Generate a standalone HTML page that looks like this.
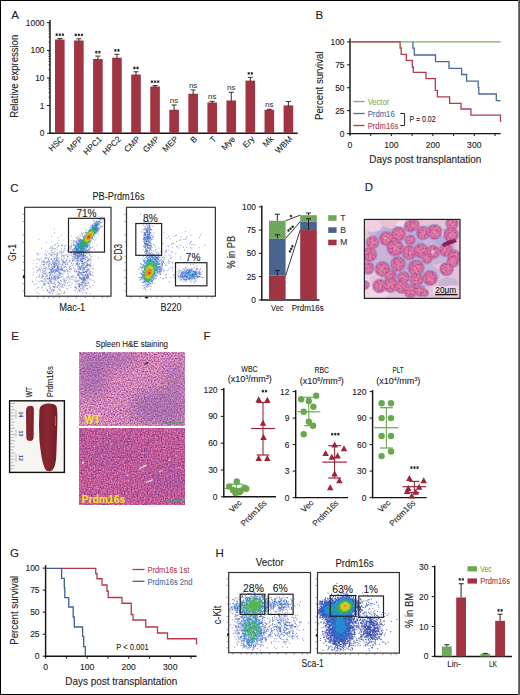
<!DOCTYPE html>
<html><head><meta charset="utf-8"><style>
html,body{margin:0;padding:0;background:#fff;}
svg{display:block;font-family:"Liberation Sans",sans-serif;}
</style></head><body>
<svg width="520" height="695" viewBox="0 0 520 695">
<rect x="0" y="0" width="520" height="695" fill="#fff"/>
<text x="11.30" y="18.70" font-size="11.5" text-anchor="start" fill="#222" stroke="#222" stroke-width="0.1">A</text>
<line x1="50.00" y1="20.00" x2="50.00" y2="133.80" stroke="#151515" stroke-width="1.45"/>
<line x1="49.50" y1="133.30" x2="297.70" y2="133.30" stroke="#151515" stroke-width="1.45"/>
<line x1="47.00" y1="22.70" x2="50.00" y2="22.70" stroke="#151515" stroke-width="1"/>
<text x="44.50" y="25.70" font-size="8.4" text-anchor="end" fill="#222" stroke="#222" stroke-width="0.1">1000</text>
<line x1="47.00" y1="50.40" x2="50.00" y2="50.40" stroke="#151515" stroke-width="1"/>
<text x="44.50" y="53.40" font-size="8.4" text-anchor="end" fill="#222" stroke="#222" stroke-width="0.1">100</text>
<line x1="47.00" y1="78.00" x2="50.00" y2="78.00" stroke="#151515" stroke-width="1"/>
<text x="44.50" y="81.00" font-size="8.4" text-anchor="end" fill="#222" stroke="#222" stroke-width="0.1">10</text>
<line x1="47.00" y1="105.50" x2="50.00" y2="105.50" stroke="#151515" stroke-width="1"/>
<text x="44.50" y="108.50" font-size="8.4" text-anchor="end" fill="#222" stroke="#222" stroke-width="0.1">1</text>
<line x1="47.00" y1="133.30" x2="50.00" y2="133.30" stroke="#151515" stroke-width="1"/>
<text x="44.50" y="136.30" font-size="8.4" text-anchor="end" fill="#222" stroke="#222" stroke-width="0.1">0</text>
<line x1="48.40" y1="42.06" x2="50.00" y2="42.06" stroke="#151515" stroke-width="0.6"/>
<line x1="48.40" y1="37.18" x2="50.00" y2="37.18" stroke="#151515" stroke-width="0.6"/>
<line x1="48.40" y1="33.72" x2="50.00" y2="33.72" stroke="#151515" stroke-width="0.6"/>
<line x1="48.40" y1="31.04" x2="50.00" y2="31.04" stroke="#151515" stroke-width="0.6"/>
<line x1="48.40" y1="28.85" x2="50.00" y2="28.85" stroke="#151515" stroke-width="0.6"/>
<line x1="48.40" y1="26.99" x2="50.00" y2="26.99" stroke="#151515" stroke-width="0.6"/>
<line x1="48.40" y1="25.38" x2="50.00" y2="25.38" stroke="#151515" stroke-width="0.6"/>
<line x1="48.40" y1="23.97" x2="50.00" y2="23.97" stroke="#151515" stroke-width="0.6"/>
<line x1="48.40" y1="69.69" x2="50.00" y2="69.69" stroke="#151515" stroke-width="0.6"/>
<line x1="48.40" y1="64.83" x2="50.00" y2="64.83" stroke="#151515" stroke-width="0.6"/>
<line x1="48.40" y1="61.38" x2="50.00" y2="61.38" stroke="#151515" stroke-width="0.6"/>
<line x1="48.40" y1="58.71" x2="50.00" y2="58.71" stroke="#151515" stroke-width="0.6"/>
<line x1="48.40" y1="56.52" x2="50.00" y2="56.52" stroke="#151515" stroke-width="0.6"/>
<line x1="48.40" y1="54.68" x2="50.00" y2="54.68" stroke="#151515" stroke-width="0.6"/>
<line x1="48.40" y1="53.07" x2="50.00" y2="53.07" stroke="#151515" stroke-width="0.6"/>
<line x1="48.40" y1="51.66" x2="50.00" y2="51.66" stroke="#151515" stroke-width="0.6"/>
<line x1="48.40" y1="97.22" x2="50.00" y2="97.22" stroke="#151515" stroke-width="0.6"/>
<line x1="48.40" y1="92.38" x2="50.00" y2="92.38" stroke="#151515" stroke-width="0.6"/>
<line x1="48.40" y1="88.94" x2="50.00" y2="88.94" stroke="#151515" stroke-width="0.6"/>
<line x1="48.40" y1="86.28" x2="50.00" y2="86.28" stroke="#151515" stroke-width="0.6"/>
<line x1="48.40" y1="84.10" x2="50.00" y2="84.10" stroke="#151515" stroke-width="0.6"/>
<line x1="48.40" y1="82.26" x2="50.00" y2="82.26" stroke="#151515" stroke-width="0.6"/>
<line x1="48.40" y1="80.67" x2="50.00" y2="80.67" stroke="#151515" stroke-width="0.6"/>
<line x1="48.40" y1="79.26" x2="50.00" y2="79.26" stroke="#151515" stroke-width="0.6"/>
<text x="18.00" y="76.30" font-size="10" text-anchor="middle" fill="#222" stroke="#222" stroke-width="0.1" textLength="83" lengthAdjust="spacingAndGlyphs" transform="rotate(-90 18.00 76.30)">Relative expression</text>
<rect x="55.00" y="39.50" width="9.60" height="93.80" fill="#a03442"/>
<line x1="59.80" y1="38.60" x2="59.80" y2="40.50" stroke="#333" stroke-width="1"/>
<line x1="57.30" y1="38.60" x2="62.30" y2="38.60" stroke="#333" stroke-width="1"/>
<path d="M56.70 33.35L56.70 36.05M55.53 34.03L57.87 35.38M57.87 34.03L55.53 35.38M59.80 33.35L59.80 36.05M58.63 34.03L60.97 35.38M60.97 34.03L58.63 35.38M62.90 33.35L62.90 36.05M61.73 34.03L64.07 35.38M64.07 34.03L61.73 35.38" stroke="#222" stroke-width="0.95"/>
<text x="64.40" y="139.60" font-size="8.4" text-anchor="end" fill="#222" stroke="#222" stroke-width="0.1" transform="rotate(-45 64.40 139.60)">HSC</text>
<rect x="74.05" y="40.50" width="9.60" height="92.80" fill="#a03442"/>
<line x1="78.85" y1="38.80" x2="78.85" y2="41.50" stroke="#333" stroke-width="1"/>
<line x1="76.35" y1="38.80" x2="81.35" y2="38.80" stroke="#333" stroke-width="1"/>
<path d="M75.75 33.55L75.75 36.25M74.58 34.23L76.92 35.57M76.92 34.23L74.58 35.57M78.85 33.55L78.85 36.25M77.68 34.23L80.02 35.57M80.02 34.23L77.68 35.57M81.95 33.55L81.95 36.25M80.78 34.23L83.12 35.57M83.12 34.23L80.78 35.57" stroke="#222" stroke-width="0.95"/>
<text x="83.45" y="139.60" font-size="8.4" text-anchor="end" fill="#222" stroke="#222" stroke-width="0.1" transform="rotate(-45 83.45 139.60)">MPP</text>
<rect x="93.10" y="59.00" width="9.60" height="74.30" fill="#a03442"/>
<line x1="97.90" y1="56.10" x2="97.90" y2="60.00" stroke="#333" stroke-width="1"/>
<line x1="95.40" y1="56.10" x2="100.40" y2="56.10" stroke="#333" stroke-width="1"/>
<path d="M96.35 50.85L96.35 53.55M95.18 51.53L97.52 52.88M97.52 51.53L95.18 52.88M99.45 50.85L99.45 53.55M98.28 51.53L100.62 52.88M100.62 51.53L98.28 52.88" stroke="#222" stroke-width="0.95"/>
<text x="102.50" y="139.60" font-size="8.4" text-anchor="end" fill="#222" stroke="#222" stroke-width="0.1" transform="rotate(-45 102.50 139.60)">HPC1</text>
<rect x="112.15" y="57.75" width="9.60" height="75.55" fill="#a03442"/>
<line x1="116.95" y1="54.30" x2="116.95" y2="58.75" stroke="#333" stroke-width="1"/>
<line x1="114.45" y1="54.30" x2="119.45" y2="54.30" stroke="#333" stroke-width="1"/>
<path d="M115.40 49.05L115.40 51.75M114.23 49.73L116.57 51.07M116.57 49.73L114.23 51.07M118.50 49.05L118.50 51.75M117.33 49.73L119.67 51.07M119.67 49.73L117.33 51.07" stroke="#222" stroke-width="0.95"/>
<text x="121.55" y="139.60" font-size="8.4" text-anchor="end" fill="#222" stroke="#222" stroke-width="0.1" transform="rotate(-45 121.55 139.60)">HPC2</text>
<rect x="131.20" y="74.50" width="9.60" height="58.80" fill="#a03442"/>
<line x1="136.00" y1="71.80" x2="136.00" y2="75.50" stroke="#333" stroke-width="1"/>
<line x1="133.50" y1="71.80" x2="138.50" y2="71.80" stroke="#333" stroke-width="1"/>
<path d="M134.45 66.55L134.45 69.25M133.28 67.22L135.62 68.57M135.62 67.22L133.28 68.57M137.55 66.55L137.55 69.25M136.38 67.22L138.72 68.57M138.72 67.22L136.38 68.57" stroke="#222" stroke-width="0.95"/>
<text x="140.60" y="139.60" font-size="8.4" text-anchor="end" fill="#222" stroke="#222" stroke-width="0.1" transform="rotate(-45 140.60 139.60)">CMP</text>
<rect x="150.25" y="86.50" width="9.60" height="46.80" fill="#a03442"/>
<line x1="155.05" y1="85.60" x2="155.05" y2="87.50" stroke="#333" stroke-width="1"/>
<line x1="152.55" y1="85.60" x2="157.55" y2="85.60" stroke="#333" stroke-width="1"/>
<path d="M151.95 80.35L151.95 83.05M150.78 81.02L153.12 82.37M153.12 81.02L150.78 82.37M155.05 80.35L155.05 83.05M153.88 81.02L156.22 82.37M156.22 81.02L153.88 82.37M158.15 80.35L158.15 83.05M156.98 81.02L159.32 82.37M159.32 81.02L156.98 82.37" stroke="#222" stroke-width="0.95"/>
<text x="159.65" y="139.60" font-size="8.4" text-anchor="end" fill="#222" stroke="#222" stroke-width="0.1" transform="rotate(-45 159.65 139.60)">GMP</text>
<rect x="169.30" y="109.75" width="9.60" height="23.55" fill="#a03442"/>
<line x1="174.10" y1="105.00" x2="174.10" y2="110.75" stroke="#333" stroke-width="1"/>
<line x1="171.60" y1="105.00" x2="176.60" y2="105.00" stroke="#333" stroke-width="1"/>
<text x="174.10" y="102.70" font-size="8.0" text-anchor="middle" fill="#444" stroke="#444" stroke-width="0.1">ns</text>
<text x="178.70" y="139.60" font-size="8.4" text-anchor="end" fill="#222" stroke="#222" stroke-width="0.1" transform="rotate(-45 178.70 139.60)">MEP</text>
<rect x="188.35" y="93.75" width="9.60" height="39.55" fill="#a03442"/>
<line x1="193.15" y1="90.00" x2="193.15" y2="94.75" stroke="#333" stroke-width="1"/>
<line x1="190.65" y1="90.00" x2="195.65" y2="90.00" stroke="#333" stroke-width="1"/>
<text x="193.15" y="87.70" font-size="8.0" text-anchor="middle" fill="#444" stroke="#444" stroke-width="0.1">ns</text>
<text x="197.75" y="139.60" font-size="8.4" text-anchor="end" fill="#222" stroke="#222" stroke-width="0.1" transform="rotate(-45 197.75 139.60)">B</text>
<rect x="207.40" y="102.50" width="9.60" height="30.80" fill="#a03442"/>
<line x1="212.20" y1="101.30" x2="212.20" y2="103.50" stroke="#333" stroke-width="1"/>
<line x1="209.70" y1="101.30" x2="214.70" y2="101.30" stroke="#333" stroke-width="1"/>
<text x="212.20" y="99.00" font-size="8.0" text-anchor="middle" fill="#444" stroke="#444" stroke-width="0.1">ns</text>
<text x="216.80" y="139.60" font-size="8.4" text-anchor="end" fill="#222" stroke="#222" stroke-width="0.1" transform="rotate(-45 216.80 139.60)">T</text>
<rect x="226.45" y="100.50" width="9.60" height="32.80" fill="#a03442"/>
<line x1="231.25" y1="92.30" x2="231.25" y2="101.50" stroke="#333" stroke-width="1"/>
<line x1="228.75" y1="92.30" x2="233.75" y2="92.30" stroke="#333" stroke-width="1"/>
<text x="231.25" y="90.00" font-size="8.0" text-anchor="middle" fill="#444" stroke="#444" stroke-width="0.1">ns</text>
<text x="235.85" y="139.60" font-size="8.4" text-anchor="end" fill="#222" stroke="#222" stroke-width="0.1" transform="rotate(-45 235.85 139.60)">Mye</text>
<rect x="245.50" y="80.60" width="9.60" height="52.70" fill="#a03442"/>
<line x1="250.30" y1="77.30" x2="250.30" y2="81.60" stroke="#333" stroke-width="1"/>
<line x1="247.80" y1="77.30" x2="252.80" y2="77.30" stroke="#333" stroke-width="1"/>
<path d="M248.75 72.05L248.75 74.75M247.58 72.72L249.92 74.07M249.92 72.72L247.58 74.07M251.85 72.05L251.85 74.75M250.68 72.72L253.02 74.07M253.02 72.72L250.68 74.07" stroke="#222" stroke-width="0.95"/>
<text x="254.90" y="139.60" font-size="8.4" text-anchor="end" fill="#222" stroke="#222" stroke-width="0.1" transform="rotate(-45 254.90 139.60)">Ery</text>
<rect x="264.55" y="109.80" width="9.60" height="23.50" fill="#a03442"/>
<line x1="269.35" y1="109.30" x2="269.35" y2="110.80" stroke="#333" stroke-width="1"/>
<line x1="266.85" y1="109.30" x2="271.85" y2="109.30" stroke="#333" stroke-width="1"/>
<text x="269.35" y="107.00" font-size="8.0" text-anchor="middle" fill="#444" stroke="#444" stroke-width="0.1">ns</text>
<text x="273.95" y="139.60" font-size="8.4" text-anchor="end" fill="#222" stroke="#222" stroke-width="0.1" transform="rotate(-45 273.95 139.60)">Mk</text>
<rect x="283.60" y="105.40" width="9.60" height="27.90" fill="#a03442"/>
<line x1="288.40" y1="101.50" x2="288.40" y2="106.40" stroke="#333" stroke-width="1"/>
<line x1="285.90" y1="101.50" x2="290.90" y2="101.50" stroke="#333" stroke-width="1"/>
<text x="293.00" y="139.60" font-size="8.4" text-anchor="end" fill="#222" stroke="#222" stroke-width="0.1" transform="rotate(-45 293.00 139.60)">WBM</text>
<text x="315.60" y="18.60" font-size="11.5" text-anchor="start" fill="#222" stroke="#222" stroke-width="0.1">B</text>
<line x1="350.00" y1="38.40" x2="350.00" y2="134.80" stroke="#151515" stroke-width="1.45"/>
<line x1="349.40" y1="133.60" x2="500.60" y2="133.60" stroke="#151515" stroke-width="1.45"/>
<line x1="347.00" y1="133.60" x2="350.00" y2="133.60" stroke="#151515" stroke-width="1"/>
<text x="344.50" y="136.60" font-size="8.4" text-anchor="end" fill="#222" stroke="#222" stroke-width="0.1">0</text>
<line x1="347.00" y1="110.67" x2="350.00" y2="110.67" stroke="#151515" stroke-width="1"/>
<text x="344.50" y="113.67" font-size="8.4" text-anchor="end" fill="#222" stroke="#222" stroke-width="0.1">25</text>
<line x1="347.00" y1="87.75" x2="350.00" y2="87.75" stroke="#151515" stroke-width="1"/>
<text x="344.50" y="90.75" font-size="8.4" text-anchor="end" fill="#222" stroke="#222" stroke-width="0.1">50</text>
<line x1="347.00" y1="64.83" x2="350.00" y2="64.83" stroke="#151515" stroke-width="1"/>
<text x="344.50" y="67.83" font-size="8.4" text-anchor="end" fill="#222" stroke="#222" stroke-width="0.1">75</text>
<line x1="347.00" y1="41.90" x2="350.00" y2="41.90" stroke="#151515" stroke-width="1"/>
<text x="344.50" y="44.90" font-size="8.4" text-anchor="end" fill="#222" stroke="#222" stroke-width="0.1">100</text>
<line x1="350.00" y1="133.60" x2="350.00" y2="136.10" stroke="#151515" stroke-width="1"/>
<line x1="370.71" y1="133.60" x2="370.71" y2="136.10" stroke="#151515" stroke-width="1"/>
<line x1="391.43" y1="133.60" x2="391.43" y2="136.10" stroke="#151515" stroke-width="1"/>
<line x1="412.14" y1="133.60" x2="412.14" y2="136.10" stroke="#151515" stroke-width="1"/>
<line x1="432.86" y1="133.60" x2="432.86" y2="136.10" stroke="#151515" stroke-width="1"/>
<line x1="453.57" y1="133.60" x2="453.57" y2="136.10" stroke="#151515" stroke-width="1"/>
<line x1="474.29" y1="133.60" x2="474.29" y2="136.10" stroke="#151515" stroke-width="1"/>
<line x1="495.00" y1="133.60" x2="495.00" y2="136.10" stroke="#151515" stroke-width="1"/>
<text x="350.00" y="148.30" font-size="8.6" text-anchor="middle" fill="#222" stroke="#222" stroke-width="0.1">0</text>
<text x="391.43" y="148.30" font-size="8.6" text-anchor="middle" fill="#222" stroke="#222" stroke-width="0.1">100</text>
<text x="432.86" y="148.30" font-size="8.6" text-anchor="middle" fill="#222" stroke="#222" stroke-width="0.1">200</text>
<text x="474.29" y="148.30" font-size="8.6" text-anchor="middle" fill="#222" stroke="#222" stroke-width="0.1">300</text>
<text x="425.30" y="162.50" font-size="10" text-anchor="middle" fill="#222" stroke="#222" stroke-width="0.1" textLength="112" lengthAdjust="spacingAndGlyphs">Days post transplantation</text>
<text x="323.10" y="85.70" font-size="10" text-anchor="middle" fill="#222" stroke="#222" stroke-width="0.1" textLength="68.5" lengthAdjust="spacingAndGlyphs" transform="rotate(-90 323.10 85.70)">Percent survival</text>
<path d="M350.0 41.9H500.6" stroke="#76b35a" stroke-width="1.3" fill="none"/>
<path d="M412.9 41.9 L412.9 48.1 L414.3 48.1 L414.3 55.0 L435.5 55.0 L435.5 61.6 L449.0 61.6 L449.0 68.4 L461.6 68.4 L461.6 74.5 L466.6 74.5 L466.6 81.2 L478.2 81.2 L478.2 87.4 L478.8 87.4 L478.8 94.0 L496.3 94.0 L496.3 100.6 L500.6 100.6" stroke="#4b6a9b" stroke-width="1.3" fill="none"/>
<path d="M350.0 41.9 L400.1 41.9 L400.1 48.0 L401.2 48.0 L401.2 54.4 L406.3 54.4 L406.3 60.4 L412.3 60.4 L412.3 67.0 L413.3 67.0 L413.3 72.3 L426.0 72.3 L426.0 78.6 L435.3 78.6 L435.3 90.4 L437.4 90.4 L437.4 96.8 L449.6 96.8 L449.6 103.4 L461.0 103.4 L461.0 109.0 L470.9 109.0 L470.9 115.1 L500.5 115.1 L500.5 122.0" stroke="#b53a4c" stroke-width="1.3" fill="none"/>
<line x1="353.40" y1="101.50" x2="364.50" y2="101.50" stroke="#76b35a" stroke-width="1.3"/>
<text x="367.70" y="104.60" font-size="8.8" text-anchor="start" fill="#76b35a" stroke="#76b35a" stroke-width="0.1" textLength="21.5" lengthAdjust="spacingAndGlyphs">Vector</text>
<line x1="353.40" y1="113.50" x2="364.50" y2="113.50" stroke="#4b6a9b" stroke-width="1.3"/>
<text x="367.70" y="116.60" font-size="8.8" text-anchor="start" fill="#4b6a9b" stroke="#4b6a9b" stroke-width="0.1" textLength="27" lengthAdjust="spacingAndGlyphs">Prdm16</text>
<line x1="353.40" y1="125.50" x2="364.50" y2="125.50" stroke="#b53a4c" stroke-width="1.3"/>
<text x="367.70" y="128.60" font-size="8.8" text-anchor="start" fill="#b53a4c" stroke="#b53a4c" stroke-width="0.1" textLength="30.5" lengthAdjust="spacingAndGlyphs">Prdm16s</text>
<path d="M400.3 113.5H404.6V125.5H400.3" stroke="#222" stroke-width="1" fill="none"/>
<text x="409.40" y="122.10" font-size="8.6" text-anchor="start" fill="#222" stroke="#222" stroke-width="0.1" textLength="26.3" lengthAdjust="spacingAndGlyphs">P = 0.02</text>
<text x="10.20" y="192.30" font-size="11.5" text-anchor="start" fill="#222" stroke="#222" stroke-width="0.1">C</text>
<text x="118.50" y="200.30" font-size="10" text-anchor="middle" fill="#222" stroke="#222" stroke-width="0.1" textLength="52" lengthAdjust="spacingAndGlyphs">PB-Prdm16s</text>
<path d="M48.4 279.0h1.0M37.8 269.9h1.0M44.1 278.7h1.0M39.0 277.1h1.0M36.4 272.0h1.0M49.0 273.2h1.0M33.2 272.2h1.0M41.2 262.5h1.0M60.7 273.4h1.0M45.2 276.8h1.0M36.8 288.1h1.0M42.2 272.4h1.0M45.2 288.2h1.0M47.6 278.5h1.0M42.3 277.0h1.0M38.6 270.0h1.0M64.9 262.1h1.0M58.6 253.2h1.0M54.4 282.8h1.0M46.8 274.2h1.0M54.6 248.5h1.0M63.0 261.9h1.0M59.3 260.7h1.0M57.2 278.6h1.0M69.2 284.9h1.0M87.8 260.0h1.0M78.7 290.0h1.0M84.7 286.9h1.0M79.5 289.2h1.0M33.5 260.3h1.0M63.1 293.3h1.0M48.3 253.5h1.0M44.8 279.1h1.0M100.8 222.3h1.0M36.4 259.4h1.0M67.0 250.6h1.0M72.6 256.2h1.0M94.2 240.8h1.0M76.0 263.3h1.0M71.9 260.9h1.0M32.8 274.9h1.0M37.2 270.9h1.0M44.1 268.6h1.0M33.2 263.8h1.0M47.1 261.9h1.0M35.2 280.0h1.0M36.3 263.6h1.0M43.5 273.3h1.0M59.7 273.8h1.0M59.1 273.6h1.0M63.9 292.9h1.0M49.3 279.7h1.0M93.4 220.4h1.0M47.3 282.6h1.0M40.3 272.0h1.0M52.7 290.3h1.0M36.5 292.4h1.0M37.4 253.8h1.0M45.1 257.8h1.0M49.3 268.7h1.0M39.2 260.6h1.0M35.5 266.9h1.0M43.7 268.7h1.0M40.8 268.0h1.0M67.3 256.6h1.0M50.0 293.0h1.0M64.6 262.9h1.0M57.3 278.7h1.0M44.0 264.2h1.0M72.5 245.6h1.0M50.9 281.4h1.0M41.3 259.8h1.0M93.9 249.3h1.0M88.6 253.2h1.0M70.9 246.1h1.0M72.5 242.3h1.0M68.7 247.4h1.0M100.0 227.0h1.0M52.3 253.1h1.0M59.3 290.9h1.0M59.8 289.8h1.0M42.9 265.2h1.0M56.5 279.1h1.0M61.8 245.2h1.0M54.0 232.8h1.0M51.1 291.0h1.0M83.0 233.1h1.0M73.4 244.1h1.0M75.5 237.7h1.0M92.0 246.8h1.0M68.3 254.9h1.0M69.2 248.1h1.0M58.7 285.5h1.0M60.9 292.8h1.0M67.0 283.0h1.0M52.0 293.7h1.0M62.7 255.1h1.0M38.4 239.2h1.0M66.6 276.8h1.0M68.3 282.1h1.0M48.2 268.3h1.0M61.4 255.2h1.0M48.2 283.7h1.0M45.2 268.1h1.0M72.1 259.7h1.0M60.8 281.1h1.0M50.1 289.4h1.0M64.7 266.6h1.0M71.2 240.6h1.0M70.8 255.6h1.0M76.6 237.9h1.0M41.7 287.8h1.0M66.4 269.1h1.0M62.6 284.8h1.0M68.9 260.6h1.0M52.9 252.6h1.0M42.2 264.5h1.0M57.3 287.3h1.0M57.4 282.4h1.0M46.9 251.9h1.0M49.6 291.4h1.0M84.8 230.2h1.0M75.5 263.8h1.0M91.3 256.3h1.0M53.9 254.6h1.0M68.7 267.2h1.0M64.9 266.2h1.0M63.5 267.1h1.0M58.5 289.2h1.0M75.7 287.6h1.0M64.0 248.1h1.0M89.7 251.1h1.0M70.1 246.6h1.0M72.2 258.4h1.0M70.8 251.6h1.0M71.0 252.5h1.0M62.5 260.1h1.0M67.7 271.7h1.0M54.7 280.2h1.0M50.5 282.6h1.0M70.4 277.1h1.0M51.0 254.4h1.0M51.6 289.5h1.0M49.4 248.2h1.0M49.0 266.6h1.0M66.7 263.5h1.0M46.2 262.4h1.0M64.7 282.5h1.0M49.7 283.5h1.0M42.8 276.1h1.0M62.6 287.6h1.0M57.7 276.2h1.0M64.7 272.0h1.0M56.7 247.7h1.0M73.5 241.2h1.0M67.0 270.8h1.0M49.1 276.4h1.0M55.2 275.2h1.0M37.6 254.0h1.0M36.2 283.8h1.0M89.3 255.3h1.0M88.2 269.6h1.0M89.7 266.0h1.0M52.0 261.9h1.0M53.9 273.8h1.0M74.8 281.1h1.0M41.2 287.8h1.0M57.1 257.7h1.0M66.4 288.5h1.0M70.9 243.9h1.0M49.3 263.9h1.0M69.8 278.6h1.0M91.5 247.6h1.0M44.9 250.7h1.0M87.2 261.4h1.0M75.1 282.9h1.0M50.7 255.7h1.0M65.3 254.6h1.0M57.3 259.2h1.0M77.5 236.6h1.0M65.0 264.6h1.0M54.7 285.0h1.0M60.0 275.2h1.0M61.3 245.8h1.0M72.1 261.0h1.0M89.8 247.7h1.0M88.8 250.1h1.0M67.8 249.1h1.0M81.4 233.9h1.0M73.3 276.9h1.0M68.1 285.9h1.0M44.0 283.8h1.0M53.4 286.4h1.0M59.0 274.0h1.0M95.8 221.2h1.0M71.3 252.6h1.0M94.0 282.1h1.0M76.6 271.6h1.0M78.4 275.6h1.0M49.2 288.1h1.0M64.3 250.0h1.0M46.3 278.5h1.0M66.7 269.9h1.0M64.1 262.9h1.0M64.4 267.2h1.0M63.6 281.5h1.0M46.7 275.7h1.0M41.7 274.5h1.0M73.3 267.3h1.0M58.7 282.4h1.0M54.6 280.1h1.0M62.6 276.3h1.0M47.4 283.7h1.0M47.9 283.3h1.0M51.6 258.5h1.0M64.5 278.7h1.0M47.2 261.5h1.0M43.4 268.4h1.0M71.4 258.8h1.0M51.6 265.8h1.0M65.8 267.5h1.0M49.0 292.3h1.0M60.3 251.1h1.0M79.5 234.7h1.0M43.5 273.8h1.0M62.7 267.7h1.0M62.1 262.0h1.0M45.0 270.1h1.0M71.0 247.3h1.0M54.8 254.5h1.0M99.8 217.2h1.0M70.3 252.5h1.0M59.9 264.6h1.0M54.0 287.5h1.0M57.0 252.6h1.0M55.0 244.6h1.0M44.5 284.3h1.0M49.2 257.4h1.0M42.8 261.9h1.0M50.1 281.8h1.0M73.5 244.0h1.0M58.1 294.3h1.0M69.2 261.6h1.0M56.4 253.4h1.0M69.2 281.2h1.0M53.6 260.0h1.0M57.9 245.6h1.0M50.7 259.4h1.0M69.3 269.3h1.0M60.6 272.4h1.0M69.5 285.8h1.0M58.6 288.9h1.0M57.5 282.6h1.0M73.4 241.2h1.0M45.7 258.6h1.0M70.6 249.2h1.0M72.8 276.6h1.0M64.0 284.9h1.0M59.1 294.2h1.0M59.0 283.4h1.0M49.5 269.5h1.0M58.7 262.8h1.0M59.2 273.3h1.0M43.9 271.4h1.0M49.4 263.1h1.0M57.3 277.9h1.0M66.0 260.3h1.0M65.3 281.0h1.0M58.0 277.8h1.0M50.2 281.3h1.0M45.3 257.6h1.0M61.0 257.9h1.0M54.0 282.7h1.0M40.6 280.7h1.0M44.1 285.0h1.0M48.9 264.9h1.0M41.7 261.3h1.0M58.3 261.5h1.0M60.5 251.7h1.0M51.4 236.5h1.0M70.0 248.9h1.0M100.4 222.7h1.0M102.6 219.1h1.0M76.8 275.3h1.0M90.3 274.3h1.0M73.0 263.7h1.0M47.9 258.9h1.0M70.1 251.3h1.0M42.3 281.0h1.0M50.8 264.5h1.0M60.3 284.5h1.0M55.6 257.9h1.0M53.4 279.4h1.0M39.7 266.9h1.0M76.4 288.8h1.0M89.5 279.0h1.0M58.6 240.2h1.0M48.4 265.7h1.0M69.2 254.7h1.0M47.0 268.5h1.0M58.5 263.0h1.0M56.5 254.4h1.0M52.6 281.2h1.0M47.4 262.4h1.0M90.6 280.0h1.0M81.7 286.1h1.0M89.3 266.1h1.0M51.4 252.7h1.0M63.5 280.1h1.0M57.9 264.2h1.0M62.9 252.4h1.0M47.0 279.1h1.0M61.8 260.8h1.0M87.3 285.8h1.0M77.4 264.9h1.0M77.0 262.6h1.0M82.4 288.2h1.0M88.1 252.7h1.0M77.1 273.4h1.0M87.9 259.3h1.0M65.4 270.3h1.0M50.2 275.1h1.0M44.5 283.6h1.0M58.4 293.4h1.0M64.0 246.1h1.0M43.4 270.9h1.0M98.4 221.0h1.0M93.1 221.2h1.0M60.8 266.5h1.0M63.7 271.0h1.0M56.9 287.2h1.0M62.7 273.6h1.0M54.2 258.7h1.0M57.6 237.5h1.0M63.7 271.0h1.0M42.7 278.3h1.0M70.5 287.7h1.0M59.6 286.6h1.0M62.8 262.6h1.0M61.7 286.2h1.0M58.2 278.1h1.0M61.0 248.7h1.0M63.3 271.8h1.0M73.1 280.0h1.0M85.4 283.7h1.0M92.6 218.9h1.0M83.4 286.8h1.0M88.9 265.3h1.0M71.5 265.4h1.0M89.8 286.7h1.0M90.6 259.6h1.0M54.0 245.4h1.0M44.8 279.9h1.0M58.0 259.8h1.0M66.3 271.0h1.0M61.2 277.0h1.0M50.4 274.8h1.0M67.1 256.6h1.0M47.7 259.1h1.0M61.9 265.0h1.0M69.5 266.6h1.0M51.5 254.9h1.0M58.4 285.8h1.0M47.0 290.1h1.0M68.2 276.9h1.0M45.5 270.2h1.0M49.8 274.4h1.0M63.7 249.0h1.0M49.6 254.6h1.0M59.3 277.9h1.0M57.4 274.8h1.0M46.0 263.9h1.0M49.3 272.7h1.0M45.9 267.6h1.0M67.0 289.2h1.0M56.7 249.7h1.0M82.1 292.8h1.0M85.5 283.4h1.0M78.3 285.8h1.0M71.4 279.5h1.0M95.5 238.9h1.0M74.4 287.5h1.0M64.1 280.4h1.0M59.0 277.3h1.0M41.7 281.5h1.0M51.7 274.6h1.0M61.1 256.2h1.0M53.3 259.8h1.0M41.1 277.9h1.0M61.1 259.3h1.0M68.1 275.0h1.0M64.1 293.0h1.0M69.2 271.2h1.0M48.9 269.9h1.0M57.6 277.2h1.0M57.4 285.4h1.0M65.1 245.4h1.0M67.5 265.2h1.0M59.9 253.8h1.0M48.9 275.8h1.0M89.6 258.1h1.0M73.9 241.2h1.0M48.1 259.7h1.0M59.9 280.4h1.0M51.8 247.5h1.0M57.7 284.3h1.0M68.4 276.7h1.0M57.9 281.6h1.0M66.4 255.5h1.0M71.8 265.1h1.0M74.3 290.3h1.0M85.8 262.0h1.0M88.2 283.1h1.0M79.2 290.5h1.0M89.9 293.7h1.0M88.5 268.7h1.0M71.1 276.4h1.0M52.7 275.3h1.0M61.7 274.6h1.0M64.7 261.9h1.0M66.0 260.7h1.0M63.4 282.7h1.0M71.5 276.8h1.0M52.4 248.5h1.0M52.6 287.1h1.0M56.4 280.7h1.0M59.4 283.5h1.0M61.4 286.0h1.0M67.2 264.5h1.0M52.5 260.9h1.0M52.3 286.1h1.0M63.5 270.3h1.0M84.3 285.7h1.0M77.7 269.4h1.0M76.6 282.6h1.0M89.3 284.8h1.0M89.8 248.6h1.0M89.0 264.6h1.0M86.2 293.8h1.0M54.3 251.2h1.0M48.1 292.7h1.0M85.8 285.6h1.0M78.3 284.9h1.0M75.7 270.2h1.0M79.0 283.7h1.0M74.9 287.3h1.0M76.2 264.1h1.0M85.4 292.7h1.0M70.0 266.4h1.0M53.8 228.8h1.0M69.9 268.4h1.0M42.1 270.2h1.0M73.2 260.5h1.0M44.5 262.7h1.0M66.6 258.1h1.0M45.0 254.0h1.0M63.3 240.2h1.0M70.9 262.8h1.0M63.3 261.2h1.0M50.5 248.2h1.0M55.5 287.0h1.0M66.1 277.8h1.0M63.8 270.9h1.0M78.8 286.6h1.0M96.8 245.3h1.0M99.8 222.9h1.0M92.2 272.2h1.0M81.5 288.6h1.0M47.8 261.1h1.0M54.5 249.1h1.0M48.8 281.8h1.0M38.9 259.3h1.0M62.9 256.3h1.0M61.4 245.3h1.0M55.5 287.1h1.0M44.1 258.6h1.0M40.8 280.9h1.0M51.4 283.4h1.0M49.2 292.9h1.0M68.7 279.3h1.0M61.1 274.2h1.0M57.1 254.1h1.0M53.8 253.9h1.0M49.1 274.9h1.0M46.2 254.7h1.0M59.0 257.8h1.0M59.3 251.3h1.0M68.8 259.1h1.0M55.9 259.4h1.0M55.4 258.2h1.0M48.8 280.4h1.0M51.7 249.8h1.0M65.9 280.2h1.0M47.4 290.7h1.0M78.5 275.7h1.0M46.7 257.6h1.0M89.7 271.7h1.0M78.2 268.8h1.0M71.4 284.1h1.0M74.8 285.8h1.0M91.9 268.9h1.0M39.7 269.6h1.0M52.6 283.5h1.0M40.7 258.1h1.0M45.6 280.4h1.0M49.9 262.9h1.0M65.1 283.2h1.0M63.1 261.1h1.0M42.4 275.6h1.0M67.6 262.5h1.0M99.4 219.8h1.0M101.8 217.0h1.0M67.5 278.1h1.0M53.8 286.6h1.0M69.9 261.0h1.0M60.1 280.4h1.0M62.9 251.2h1.0M56.5 255.9h1.0M48.6 261.1h1.0M43.1 285.1h1.0M49.3 272.4h1.0M66.3 262.0h1.0M45.9 255.6h1.0M59.2 264.0h1.0M42.8 283.0h1.0M67.2 273.4h1.0M53.3 287.0h1.0M37.9 255.1h1.0M78.8 237.0h1.0M74.8 272.0h1.0M100.5 226.5h1.0M101.3 226.5h1.0M103.2 218.4h1.0M86.3 288.3h1.0M85.4 285.2h1.0M87.9 282.7h1.0M44.4 283.6h1.0M60.5 284.0h1.0M57.3 243.5h1.0M65.4 286.1h1.0M77.8 289.7h1.0M90.3 268.2h1.0M90.4 266.1h1.0M89.5 287.7h1.0M92.7 280.3h1.0M86.9 283.9h1.0M71.0 263.3h1.0M87.3 256.4h1.0M88.2 270.1h1.0M100.0 218.8h1.0M98.6 219.0h1.0M78.4 271.2h1.0M88.7 272.0h1.0M75.6 261.6h1.0M71.2 236.2h1.0M79.5 291.8h1.0M79.0 280.1h1.0M100.3 227.8h1.0M88.8 279.9h1.0M79.5 287.0h1.0M90.3 262.2h1.0M82.5 288.2h1.0M88.9 274.1h1.0M78.1 286.4h1.0M85.8 257.3h1.0M78.8 285.8h1.0M88.7 273.2h1.0M92.9 268.7h1.0M61.1 253.3h1.0M52.8 290.9h1.0M52.7 291.0h1.0M56.8 291.9h1.0M53.5 256.6h1.0M43.0 290.6h1.0M90.3 275.4h1.0M89.2 254.7h1.0M97.5 218.8h1.0M77.7 271.0h1.0M77.3 266.5h1.0M75.5 288.6h1.0M72.1 275.8h1.0M101.8 226.2h1.0M82.6 286.0h1.0M90.3 256.9h1.0M58.9 275.4h1.0M61.1 252.8h1.0M44.7 273.1h1.0M67.5 259.9h1.0M54.9 284.5h1.0M47.8 272.9h1.0M50.8 255.7h1.0M77.3 269.0h1.0M52.8 292.0h1.0M61.5 264.7h1.0M36.4 267.1h1.0M49.7 285.2h1.0M63.1 279.3h1.0M64.1 285.1h1.0M62.2 263.6h1.0M58.4 274.9h1.0M83.7 289.7h1.0M78.0 280.7h1.0M42.3 276.4h1.0M61.5 265.0h1.0M56.1 259.7h1.0M49.1 261.2h1.0M63.7 280.2h1.0M47.9 266.8h1.0M49.1 286.4h1.0M60.6 276.8h1.0M51.0 264.9h1.0M56.3 274.4h1.0M51.1 250.7h1.0M77.4 263.9h1.0M91.7 274.9h1.0M89.8 264.0h1.0M49.8 288.0h1.0M51.6 260.3h1.0M62.5 265.2h1.0M63.4 258.3h1.0M71.0 269.8h1.0M56.9 260.5h1.0M61.4 260.8h1.0M41.2 248.2h1.0M57.5 257.9h1.0M69.7 269.6h1.0M49.1 272.6h1.0M44.4 266.4h1.0M45.7 272.1h1.0M45.1 273.8h1.0M52.7 283.4h1.0M43.8 261.7h1.0M86.8 257.7h1.0M88.4 260.8h1.0M104.5 221.4h1.0M44.7 274.3h1.0M50.9 290.9h1.0M61.1 287.3h1.0M58.3 277.0h1.0M56.2 256.2h1.0M78.7 284.1h1.0M77.4 281.5h1.0M75.3 277.6h1.0M89.8 274.1h1.0M73.7 259.6h1.0M77.9 265.4h1.0M75.3 287.1h1.0M78.9 286.5h1.0M34.4 289.5h1.0M52.3 246.0h1.0M50.6 280.9h1.0M53.9 258.3h1.0M49.7 253.3h1.0M77.0 292.0h1.0M77.5 284.4h1.0M89.7 260.3h1.0M88.4 259.1h1.0M62.2 278.1h1.0M51.1 259.0h1.0M56.9 255.7h1.0M55.8 258.4h1.0M60.8 235.1h1.0M39.0 268.5h1.0M56.3 294.2h1.0M90.2 274.8h1.0M87.4 261.4h1.0M76.7 280.8h1.0M97.7 233.8h1.0M86.9 260.5h1.0M76.0 271.5h1.0M43.5 264.3h1.0M84.9 283.6h1.0M100.2 220.0h1.0M73.6 260.7h1.0M75.3 291.0h1.0M70.7 268.3h1.0M88.4 269.9h1.0M100.7 219.4h1.0M86.7 288.6h1.0M76.1 264.3h1.0M63.8 257.9h1.0M58.1 262.0h1.0M50.6 250.5h1.0M63.2 262.7h1.0M51.1 242.0h1.0M50.1 280.6h1.0M63.3 255.7h1.0M52.8 248.5h1.0M82.4 289.4h1.0M78.7 287.5h1.0M73.3 268.8h1.0M92.9 266.0h1.0M92.4 285.2h1.0M78.5 264.8h1.0M74.0 271.5h1.0M75.5 271.9h1.0M77.7 283.6h1.0M76.0 281.2h1.0M73.8 270.5h1.0M76.0 277.4h1.0M86.9 258.9h1.0M76.9 275.7h1.0M71.6 282.2h1.0M74.8 269.1h1.0M98.0 257.8h1.0M80.9 290.8h1.0M86.1 281.6h1.0M89.2 259.4h1.0M79.2 291.3h1.0M79.9 288.5h1.0M85.3 285.7h1.0M86.2 262.0h1.0M75.4 279.6h1.0M89.3 252.6h1.0M76.8 263.5h1.0M83.1 290.8h1.0M78.9 284.6h1.0M85.5 292.4h1.0M96.5 221.0h1.0M75.2 265.2h1.0M82.8 287.0h1.0M89.7 272.0h1.0M87.5 282.7h1.0M74.5 281.1h1.0M92.6 275.8h1.0M89.9 265.9h1.0M85.9 257.0h1.0M75.5 260.4h1.0M87.3 289.1h1.0M79.4 281.9h1.0M101.9 221.4h1.0M70.8 253.8h1.0M77.1 264.5h1.0M89.9 274.3h1.0M68.8 268.1h1.0M89.3 264.1h1.0M35.8 253.3h1.0M102.7 219.4h1.0M36.1 277.3h1.0M46.6 290.3h1.0M43.3 265.0h1.0M37.6 281.2h1.0M42.3 270.3h1.0M72.3 256.4h1.0M50.3 246.9h1.0M39.4 274.7h1.0M42.7 285.0h1.0M64.3 255.9h1.0M76.8 238.5h1.0M89.0 249.2h1.0M69.9 252.3h1.0M38.0 287.4h1.0M62.3 284.7h1.0M43.8 254.5h1.0M57.9 246.1h1.0M63.9 290.7h1.0M47.7 264.5h1.0M53.3 289.5h1.0M43.5 260.4h1.0M47.6 282.0h1.0M80.9 233.3h1.0M70.7 245.6h1.0M47.0 276.7h1.0M64.3 264.1h1.0M50.3 288.0h1.0M54.1 290.1h1.0M32.7 268.6h1.0M47.7 263.8h1.0M45.1 281.8h1.0M39.0 275.1h1.0M45.4 276.9h1.0M46.1 275.8h1.0M44.5 262.2h1.0M36.9 258.6h1.0M45.9 242.7h1.0M37.7 276.5h1.0M40.0 269.9h1.0M43.9 281.4h1.0M38.5 293.5h1.0M33.8 284.6h1.0M43.2 262.0h1.0M46.8 290.1h1.0M32.2 281.5h1.0M41.1 277.1h1.0M31.7 281.8h1.0M37.6 270.3h1.0M43.6 272.0h1.0M39.4 281.6h1.0" stroke="rgb(60, 80, 175)" stroke-width="1.0" stroke-opacity="0.5"/>
<path d="M81.3 266.1h1.0M83.8 279.6h1.0M85.4 267.7h1.0M97.6 222.2h1.0M50.9 269.5h1.0M74.2 249.2h1.0M74.7 254.5h1.0M74.3 257.6h1.0M82.9 268.1h1.0M84.4 267.0h1.0M80.0 284.6h1.0M81.9 283.1h1.0M86.0 253.3h1.0M79.7 267.3h1.0M85.6 267.0h1.0M80.5 272.6h1.0M74.8 258.9h1.0M97.7 228.9h1.0M51.5 272.3h1.0M50.6 279.0h1.0M55.8 264.5h1.0M51.3 277.7h1.0M51.8 269.2h1.0M50.8 276.9h1.0M53.7 272.7h1.0M99.0 228.6h1.0M83.4 270.9h1.0M82.4 277.1h1.0M87.3 264.8h1.0M82.7 265.6h1.0M86.2 229.4h1.0M73.1 252.9h1.0M79.9 268.6h1.0M78.6 272.3h1.0M79.4 274.0h1.0M81.2 285.0h1.0M81.3 282.6h1.0M81.6 261.3h1.0M83.5 267.4h1.0M94.3 223.9h1.0M80.0 260.5h1.0M80.7 274.7h1.0M81.1 265.9h1.0M82.8 258.3h1.0M74.3 256.0h1.0M89.1 247.1h1.0M86.7 277.9h1.0M83.9 279.3h1.0M84.9 266.2h1.0M83.1 263.4h1.0M86.8 274.4h1.0M85.9 273.2h1.0M82.7 272.1h1.0M80.7 284.8h1.0M80.4 277.9h1.0M79.1 258.0h1.0M83.1 255.1h1.0M50.8 270.7h1.0M54.3 265.5h1.0M83.1 279.2h1.0M79.9 267.3h1.0M87.9 277.6h1.0M88.0 276.6h1.0M83.9 281.8h1.0M58.5 269.0h1.0M55.9 263.6h1.0M53.0 270.9h1.0M54.0 267.6h1.0M52.5 271.3h1.0M77.9 260.3h1.0M87.1 250.4h1.0M83.4 255.6h1.0M75.0 245.7h1.0M88.3 246.5h1.0M60.4 269.3h1.0M81.3 260.1h1.0M88.5 249.5h1.0M84.8 255.5h1.0M77.6 239.7h1.0M61.1 269.1h1.0M83.9 269.6h1.0M79.3 261.6h1.0M78.9 266.7h1.0M85.3 262.8h1.0M86.0 263.7h1.0M76.7 257.8h1.0M87.0 266.0h1.0M73.6 252.9h1.0M72.3 251.4h1.0M86.4 253.3h1.0M61.5 269.9h1.0M97.4 223.6h1.0M82.2 272.6h1.0M51.0 267.9h1.0M79.0 277.7h1.0M84.1 280.1h1.0M80.8 282.5h1.0M78.8 274.9h1.0M84.8 282.1h1.0M77.8 273.6h1.0M77.7 274.5h1.0M87.0 264.4h1.0M48.9 278.2h1.0M55.2 267.0h1.0M78.9 256.4h1.0M77.4 256.8h1.0M82.9 270.3h1.0M77.2 260.6h1.0M86.1 275.8h1.0M85.2 269.2h1.0M77.0 258.3h1.0M84.6 261.1h1.0M80.8 261.0h1.0M84.8 258.4h1.0M83.4 268.6h1.0M81.3 279.4h1.0M83.4 263.6h1.0M82.3 260.2h1.0M83.5 282.7h1.0M85.0 275.6h1.0M75.0 254.3h1.0M81.6 262.5h1.0M76.6 258.7h1.0M83.7 253.5h1.0M80.8 258.9h1.0M82.6 255.0h1.0M72.9 244.4h1.0M88.2 277.5h1.0M86.3 265.5h1.0M81.8 261.2h1.0M81.6 257.7h1.0M83.9 268.7h1.0M86.7 278.6h1.0M85.6 277.8h1.0M74.3 258.3h1.0M82.9 268.8h1.0M80.9 261.3h1.0M82.8 279.5h1.0M85.0 280.0h1.0M80.3 278.1h1.0M79.7 259.8h1.0M55.4 277.4h1.0M81.1 278.9h1.0M83.8 272.5h1.0M55.6 266.0h1.0M59.3 272.5h1.0M74.1 257.1h1.0M87.2 265.6h1.0M83.1 256.4h1.0M87.2 275.1h1.0M56.4 269.1h1.0M82.1 258.9h1.0M82.0 234.6h1.0M73.2 253.5h1.0M75.6 241.1h1.0M74.3 248.9h1.0M49.1 279.2h1.0M51.0 271.1h1.0M75.7 240.7h1.0M54.6 272.5h1.0M82.6 281.7h1.0M89.7 243.7h1.0M74.6 245.4h1.0M50.4 272.0h1.0M57.0 271.1h1.0M74.5 248.3h1.0M80.4 236.3h1.0M75.4 255.8h1.0M95.4 222.0h1.0M96.5 222.4h1.0M79.6 272.6h1.0M85.4 254.6h1.0M81.8 281.2h1.0M85.5 279.2h1.0M81.5 266.7h1.0M99.0 223.8h1.0M84.0 262.7h1.0M53.3 266.6h1.0M57.0 267.8h1.0M55.6 271.1h1.0M56.9 266.9h1.0M87.5 252.9h1.0M82.6 272.0h1.0M79.0 267.1h1.0M79.2 276.5h1.0M81.7 264.2h1.0M87.1 263.4h1.0M80.6 268.3h1.0M77.6 274.1h1.0M82.0 261.5h1.0M87.9 275.6h1.0M83.1 280.4h1.0M72.8 250.3h1.0M75.3 254.9h1.0M79.9 258.4h1.0M73.9 254.3h1.0M73.5 250.9h1.0M83.4 256.8h1.0M82.8 258.0h1.0M82.6 255.8h1.0M94.6 223.7h1.0M81.0 273.8h1.0M83.2 272.3h1.0M82.7 274.4h1.0M82.3 278.9h1.0M80.9 259.3h1.0M84.4 262.3h1.0M84.8 252.0h1.0M55.6 263.7h1.0M55.2 262.1h1.0M57.1 271.5h1.0M91.9 225.1h1.0M83.5 258.6h1.0M82.0 281.9h1.0M83.4 278.3h1.0M86.2 271.5h1.0M79.6 238.9h1.0M73.6 249.0h1.0M82.9 256.5h1.0M73.9 251.8h1.0M74.7 245.2h1.0M57.7 268.5h1.0M53.7 262.8h1.0M55.1 279.0h1.0M84.7 259.0h1.0M81.0 266.4h1.0M78.5 260.8h1.0M84.0 277.4h1.0M80.7 278.0h1.0M85.8 250.7h1.0M57.5 266.7h1.0M58.8 267.9h1.0M84.7 274.6h1.0M92.3 224.7h1.0M82.0 270.6h1.0M78.0 275.2h1.0M79.4 259.5h1.0M81.5 273.1h1.0M83.8 280.0h1.0M74.4 253.9h1.0M86.1 250.9h1.0M73.2 258.0h1.0M77.9 240.5h1.0M50.1 273.3h1.0M57.6 265.7h1.0M58.3 269.5h1.0M53.2 269.0h1.0M81.7 261.9h1.0M81.9 258.1h1.0M73.9 253.0h1.0M73.5 245.3h1.0M77.4 256.8h1.0M72.7 254.4h1.0M78.4 240.6h1.0M74.4 246.1h1.0M74.5 252.8h1.0M82.3 263.7h1.0M50.2 270.0h1.0M55.3 271.1h1.0M54.3 271.2h1.0M48.7 278.3h1.0M53.4 272.2h1.0M60.9 269.6h1.0M53.6 266.9h1.0M82.9 282.7h1.0M86.4 266.1h1.0M87.4 268.1h1.0M83.8 260.2h1.0M80.2 260.7h1.0M86.8 269.5h1.0M83.6 283.1h1.0M79.0 272.4h1.0M83.8 278.2h1.0M76.3 259.7h1.0M83.0 255.9h1.0M85.4 271.0h1.0M81.6 279.6h1.0M93.7 223.3h1.0M96.8 222.0h1.0M87.5 265.4h1.0M59.2 271.9h1.0M54.0 264.9h1.0M59.8 270.2h1.0M56.3 270.4h1.0M52.9 269.2h1.0M55.9 260.4h1.0M58.1 270.3h1.0M58.0 272.8h1.0M55.2 269.7h1.0M55.7 261.0h1.0M85.5 271.4h1.0M78.0 272.6h1.0M80.1 279.8h1.0M86.5 277.8h1.0M60.7 268.9h1.0M53.2 266.4h1.0M85.9 267.0h1.0M87.4 250.6h1.0M82.4 282.2h1.0M87.6 264.9h1.0M51.2 279.2h1.0M57.2 266.0h1.0M50.7 277.0h1.0M56.6 261.3h1.0M80.9 266.2h1.0M82.9 272.7h1.0M77.2 259.1h1.0M86.1 277.4h1.0M80.8 283.6h1.0M85.5 272.2h1.0M82.9 277.6h1.0M84.9 278.2h1.0M52.6 276.6h1.0M56.7 265.6h1.0M83.2 263.6h1.0M84.2 277.0h1.0M82.5 265.6h1.0M88.0 278.0h1.0M86.9 276.6h1.0M85.3 252.2h1.0M86.6 270.7h1.0M85.3 274.1h1.0M95.5 221.6h1.0M81.3 258.6h1.0M88.4 273.3h1.0M82.0 263.2h1.0M83.5 278.9h1.0M79.2 268.1h1.0M51.3 269.7h1.0M54.5 261.2h1.0M54.6 269.7h1.0M56.4 265.0h1.0M54.4 279.2h1.0M54.7 275.9h1.0M49.3 278.0h1.0M53.8 267.7h1.0M98.3 229.9h1.0M90.3 225.3h1.0M84.9 271.7h1.0M94.6 223.3h1.0M83.5 275.5h1.0M79.5 273.4h1.0M76.6 260.7h1.0M85.9 265.4h1.0M57.1 267.5h1.0M51.7 267.6h1.0M52.0 263.1h1.0M54.4 265.0h1.0M54.3 277.7h1.0M51.2 272.9h1.0M87.0 251.1h1.0M73.1 255.9h1.0M81.7 284.4h1.0M81.8 258.1h1.0M83.3 278.1h1.0M98.9 221.7h1.0M82.2 280.7h1.0M99.0 225.1h1.0M98.5 224.6h1.0M76.5 243.8h1.0M57.2 263.8h1.0M52.6 277.7h1.0M51.6 272.8h1.0M57.6 267.4h1.0M54.3 269.2h1.0M60.4 269.2h1.0M81.1 272.7h1.0M86.4 277.8h1.0M81.4 278.9h1.0M87.4 264.4h1.0M79.6 285.6h1.0M82.6 256.2h1.0M84.5 275.4h1.0M85.7 265.0h1.0M54.2 276.3h1.0M52.2 263.0h1.0M78.4 239.8h1.0M87.1 247.4h1.0M76.2 242.9h1.0M78.2 256.9h1.0M83.0 258.6h1.0M86.0 272.9h1.0M86.4 275.4h1.0M79.9 258.8h1.0M82.4 274.6h1.0M81.2 284.4h1.0M82.7 258.8h1.0M79.1 263.9h1.0M84.0 279.8h1.0M82.7 266.9h1.0M77.9 266.6h1.0M77.4 262.1h1.0M54.5 260.8h1.0M55.7 270.4h1.0M52.2 270.8h1.0M97.8 227.0h1.0M98.9 221.7h1.0M78.9 263.7h1.0M84.2 272.5h1.0M85.4 276.6h1.0M80.8 277.1h1.0M85.6 271.5h1.0M86.5 280.8h1.0M78.0 257.6h1.0M82.6 259.1h1.0M82.4 277.3h1.0M56.2 268.7h1.0M52.2 266.6h1.0M87.8 248.7h1.0M57.8 265.0h1.0M55.4 262.4h1.0M73.7 252.8h1.0M73.2 254.4h1.0M88.3 249.9h1.0M89.6 227.9h1.0M83.7 278.1h1.0M53.5 263.8h1.0M54.4 278.3h1.0M62.4 269.8h1.0M89.4 247.2h1.0M86.6 278.8h1.0M84.9 280.5h1.0M73.5 249.0h1.0M95.7 222.8h1.0M98.3 221.5h1.0M95.3 222.8h1.0M81.8 255.8h1.0M53.0 262.1h1.0M61.6 269.3h1.0M53.7 263.1h1.0M52.2 272.1h1.0M57.0 268.1h1.0M78.8 267.7h1.0M76.4 256.9h1.0M87.8 275.6h1.0M99.6 222.5h1.0M81.8 275.7h1.0M77.6 258.7h1.0M85.1 252.9h1.0M97.0 224.0h1.0M53.5 270.5h1.0M61.6 268.3h1.0M57.8 272.7h1.0M86.6 276.7h1.0M87.0 276.3h1.0M83.8 264.6h1.0M83.6 276.1h1.0M80.7 274.7h1.0M81.5 269.7h1.0M83.6 267.1h1.0M85.1 267.4h1.0M87.3 274.2h1.0M79.1 277.9h1.0M78.9 271.1h1.0M87.2 271.0h1.0M82.3 269.3h1.0M51.6 278.9h1.0M57.3 262.2h1.0M56.0 276.6h1.0M54.3 264.9h1.0M55.4 273.0h1.0M54.5 263.6h1.0M58.2 271.3h1.0M58.2 267.9h1.0M86.9 274.5h1.0M82.5 278.8h1.0M86.4 271.9h1.0M52.0 279.0h1.0M50.0 271.2h1.0M52.6 265.1h1.0M56.9 270.5h1.0M55.7 270.2h1.0M78.8 278.0h1.0M86.0 277.9h1.0M79.0 268.3h1.0M86.8 274.8h1.0M87.1 270.6h1.0M97.9 224.9h1.0M83.5 285.1h1.0M80.2 268.1h1.0M98.3 221.7h1.0M74.8 256.0h1.0M81.6 256.5h1.0M84.3 256.2h1.0M80.0 273.0h1.0M97.9 223.6h1.0M98.0 222.9h1.0M80.8 263.4h1.0M61.4 270.1h1.0M79.7 269.9h1.0M83.4 264.3h1.0M74.6 257.4h1.0M80.2 269.0h1.0M81.9 262.0h1.0M81.1 261.3h1.0M93.7 223.1h1.0M84.2 258.0h1.0M83.1 280.8h1.0M86.5 269.5h1.0M84.4 279.9h1.0M82.4 275.5h1.0M53.3 278.0h1.0M60.4 268.0h1.0M57.3 269.9h1.0M76.0 255.6h1.0M74.5 254.2h1.0M84.3 271.8h1.0M82.7 264.6h1.0M80.2 278.3h1.0M79.7 269.7h1.0M77.8 261.1h1.0M84.4 283.8h1.0M49.4 278.0h1.0M76.1 244.1h1.0M54.9 278.7h1.0M58.2 269.0h1.0M72.2 250.4h1.0M56.2 271.3h1.0M53.7 270.5h1.0M54.1 276.6h1.0M72.4 249.8h1.0M56.3 270.4h1.0M53.3 264.2h1.0M55.6 263.1h1.0M53.6 277.7h1.0M55.0 271.6h1.0M53.4 267.4h1.0M61.5 270.5h1.0M89.0 245.6h1.0M57.0 276.4h1.0M61.0 267.3h1.0M82.9 254.5h1.0M83.6 255.2h1.0M75.5 258.6h1.0M53.6 263.0h1.0M55.4 278.0h1.0M59.7 270.1h1.0M53.6 276.2h1.0M51.8 268.5h1.0M51.2 271.8h1.0M59.3 266.7h1.0M86.0 249.6h1.0M84.7 257.2h1.0M92.0 242.0h1.0M53.5 264.4h1.0M52.0 268.2h1.0M76.1 255.7h1.0M73.5 247.9h1.0M78.8 238.7h1.0M76.1 242.2h1.0M78.0 239.4h1.0M75.1 257.3h1.0M80.2 269.1h1.0M82.7 268.0h1.0M85.2 259.1h1.0M96.8 223.7h1.0M96.0 224.0h1.0M79.8 239.2h1.0M50.6 270.0h1.0M57.6 268.9h1.0M77.0 258.1h1.0M74.0 254.1h1.0M71.7 251.0h1.0M92.7 225.1h1.0M81.7 267.8h1.0M96.7 223.0h1.0M92.8 239.5h1.0M93.5 225.1h1.0M91.3 226.1h1.0M74.8 242.2h1.0M76.5 241.1h1.0M74.3 251.9h1.0M79.5 256.7h1.0M84.7 255.6h1.0M77.7 257.0h1.0M77.5 258.6h1.0M98.4 227.3h1.0M97.8 231.6h1.0M80.0 256.7h1.0M55.2 266.3h1.0M52.5 271.3h1.0M48.7 277.8h1.0" stroke="rgb(53, 86, 188)" stroke-width="1.0" stroke-opacity="0.5"/>
<path d="M84.7 232.9h1.0M95.6 224.6h1.0M87.4 245.4h1.0M97.4 228.3h1.0M79.4 242.0h1.0M96.7 228.4h1.0M90.7 240.5h1.0M76.4 249.2h1.0M94.7 225.4h1.0M93.2 226.1h1.0M95.6 230.9h1.0M90.0 227.6h1.0M80.6 254.9h1.0M76.4 245.7h1.0M75.5 249.8h1.0M79.2 255.9h1.0M83.0 236.1h1.0M96.7 225.4h1.0M81.3 252.9h1.0M77.2 255.8h1.0M83.2 252.6h1.0M76.2 250.9h1.0M95.8 224.3h1.0M97.6 230.5h1.0M92.1 225.9h1.0M94.7 224.7h1.0M94.3 225.8h1.0M94.5 225.4h1.0M77.9 255.6h1.0M96.1 226.2h1.0M76.4 249.5h1.0M87.6 244.4h1.0M76.0 249.1h1.0M78.8 253.8h1.0M74.7 246.9h1.0M77.5 245.0h1.0M95.1 225.6h1.0M85.0 250.9h1.0M76.2 249.3h1.0M74.3 250.3h1.0M91.2 226.7h1.0M83.7 249.4h1.0M74.6 248.0h1.0M79.2 254.4h1.0M85.1 249.9h1.0M75.9 251.0h1.0M80.6 253.9h1.0M79.2 241.0h1.0M81.5 252.4h1.0M77.3 251.4h1.0M88.5 230.2h1.0M76.0 248.7h1.0M77.5 244.0h1.0M76.7 244.5h1.0M83.9 252.4h1.0M75.4 253.0h1.0M83.9 251.0h1.0M81.1 254.7h1.0M92.0 225.4h1.0M80.1 254.9h1.0M74.9 252.8h1.0M79.1 254.0h1.0M97.2 228.5h1.0M84.4 252.2h1.0M97.2 225.7h1.0M93.9 237.2h1.0M92.0 226.9h1.0M75.7 249.0h1.0M78.6 255.7h1.0M97.1 230.7h1.0M96.9 230.0h1.0M78.2 242.2h1.0M94.7 226.0h1.0M76.2 247.1h1.0M88.1 245.2h1.0M79.2 254.5h1.0M76.2 246.7h1.0M80.5 254.7h1.0M75.3 247.6h1.0M87.1 245.4h1.0M74.2 250.9h1.0M79.8 253.9h1.0M96.0 225.6h1.0M77.2 244.9h1.0M94.7 225.0h1.0M85.5 250.2h1.0M96.1 225.1h1.0M96.7 228.1h1.0M94.7 224.9h1.0M77.7 255.9h1.0M74.7 251.7h1.0M85.1 247.3h1.0M76.6 250.1h1.0M96.7 224.6h1.0M76.9 253.8h1.0M92.6 226.2h1.0M75.1 246.6h1.0M77.9 256.2h1.0M85.9 249.2h1.0M87.0 245.6h1.0M95.3 225.7h1.0M95.8 226.5h1.0M75.6 249.8h1.0M96.5 225.1h1.0M95.6 226.7h1.0M96.1 231.6h1.0M85.3 248.8h1.0M76.7 243.4h1.0M83.2 254.2h1.0M75.1 254.3h1.0M89.1 244.0h1.0M79.2 253.7h1.0M76.5 249.4h1.0M78.4 253.3h1.0M80.4 255.7h1.0M80.3 240.0h1.0M83.0 251.3h1.0M82.5 255.1h1.0M82.0 236.3h1.0M76.4 247.6h1.0M79.4 241.1h1.0M79.9 240.2h1.0M84.3 249.4h1.0M86.7 246.6h1.0M84.5 249.4h1.0M75.0 247.5h1.0M86.8 247.1h1.0M84.9 247.8h1.0M85.4 247.9h1.0M93.9 237.1h1.0M75.5 251.2h1.0M77.0 251.4h1.0M80.9 253.2h1.0M76.4 245.7h1.0M76.2 248.2h1.0M76.8 254.3h1.0M82.8 252.0h1.0M75.6 248.4h1.0M82.9 250.6h1.0M85.3 232.4h1.0M77.0 243.7h1.0M80.6 252.8h1.0M91.1 227.6h1.0M83.3 252.0h1.0M76.9 253.5h1.0M84.1 252.7h1.0M76.1 253.1h1.0M75.7 252.0h1.0M73.6 249.9h1.0M82.2 254.9h1.0M80.8 256.1h1.0M96.5 224.4h1.0M82.1 253.9h1.0M96.7 228.3h1.0M76.3 251.5h1.0M92.3 227.1h1.0M76.2 251.3h1.0M96.8 230.3h1.0M97.1 229.7h1.0M76.3 252.9h1.0M83.0 253.7h1.0M78.4 255.6h1.0M75.5 248.7h1.0M74.9 249.0h1.0M78.4 255.9h1.0M81.6 252.6h1.0M80.4 255.6h1.0M96.3 231.2h1.0M80.7 254.0h1.0M95.4 226.2h1.0M76.1 251.2h1.0M81.2 254.7h1.0M83.8 251.3h1.0M79.9 239.7h1.0M75.3 248.8h1.0M83.0 253.4h1.0M76.5 244.6h1.0M93.7 235.6h1.0M97.6 228.2h1.0M95.8 231.1h1.0M96.3 230.8h1.0M93.9 225.6h1.0M83.4 252.7h1.0M76.4 253.3h1.0M96.3 232.0h1.0M78.9 241.3h1.0M85.8 246.4h1.0M95.8 226.5h1.0M97.2 229.6h1.0M95.8 227.2h1.0M76.9 251.4h1.0M85.9 247.0h1.0M86.1 231.9h1.0M97.5 229.3h1.0M79.0 241.8h1.0M87.1 246.3h1.0M75.3 251.2h1.0M85.8 246.7h1.0M76.5 254.2h1.0M76.2 251.4h1.0M80.9 253.9h1.0M76.4 252.6h1.0M78.5 241.4h1.0M77.6 241.9h1.0M77.7 241.9h1.0M77.4 244.3h1.0M77.1 256.1h1.0M78.8 253.7h1.0M75.8 246.3h1.0M77.1 242.6h1.0M75.1 253.3h1.0M86.5 246.6h1.0M85.1 247.4h1.0M77.2 253.9h1.0M76.4 248.4h1.0M85.8 246.5h1.0M85.6 232.5h1.0M97.4 224.4h1.0M95.3 233.8h1.0M95.3 225.5h1.0M77.3 244.0h1.0M79.5 240.9h1.0M94.7 225.0h1.0M77.0 255.0h1.0M95.1 225.9h1.0M96.9 225.7h1.0M75.7 251.6h1.0M96.4 232.8h1.0M77.9 253.8h1.0M82.8 253.4h1.0M81.1 254.2h1.0M83.7 251.5h1.0" stroke="rgb(46, 106, 200)" stroke-width="1.0" stroke-opacity="0.5"/>
<path d="M77.8 250.7h1.0M77.0 245.9h1.0M94.9 228.2h1.0M77.9 253.3h1.0M82.2 248.7h1.0M81.3 252.2h1.0M86.2 244.4h1.0M94.9 226.9h1.0M95.9 230.2h1.0M81.3 252.1h1.0M78.1 244.9h1.0M80.1 242.8h1.0M95.8 229.0h1.0M79.0 248.5h1.0M76.8 249.8h1.0M95.2 229.3h1.0M94.9 230.4h1.0M95.3 227.6h1.0M94.9 228.8h1.0M79.1 252.2h1.0M90.8 239.4h1.0M95.6 226.4h1.0M77.5 248.2h1.0M90.9 229.2h1.0M93.3 227.3h1.0M94.8 231.3h1.0M90.7 228.9h1.0M86.8 243.8h1.0M95.4 228.8h1.0M86.2 232.7h1.0M91.7 238.4h1.0M93.7 227.2h1.0M79.9 241.3h1.0M78.7 244.3h1.0M77.9 252.7h1.0M77.6 249.4h1.0M78.4 247.3h1.0M77.2 248.3h1.0M93.8 228.2h1.0M78.3 250.2h1.0M87.6 245.1h1.0M83.1 248.2h1.0M81.0 250.5h1.0M79.1 251.4h1.0M80.3 251.3h1.0M80.8 241.2h1.0M86.6 246.0h1.0M81.9 252.2h1.0M81.3 250.2h1.0M78.3 244.2h1.0M77.2 246.2h1.0M86.4 244.3h1.0M76.8 246.2h1.0M84.1 248.7h1.0M93.0 227.3h1.0M94.3 228.2h1.0M79.8 250.2h1.0M94.8 229.2h1.0M91.8 238.6h1.0M95.0 229.7h1.0M95.6 228.2h1.0M95.2 231.1h1.0M95.2 232.7h1.0M81.1 250.4h1.0M80.4 242.5h1.0M79.7 250.9h1.0M78.2 249.9h1.0M82.6 249.0h1.0M82.2 251.9h1.0M77.5 250.0h1.0M78.4 252.4h1.0M81.1 249.3h1.0M85.8 245.3h1.0M84.0 246.4h1.0M93.9 227.7h1.0M94.7 230.7h1.0M91.8 227.6h1.0M83.5 248.0h1.0M88.8 242.7h1.0M76.6 249.9h1.0M78.2 252.1h1.0M81.8 251.6h1.0M83.3 248.5h1.0M80.7 251.8h1.0M79.6 251.9h1.0M76.9 251.1h1.0M79.3 250.5h1.0M85.8 244.7h1.0M79.1 252.0h1.0M91.7 227.7h1.0M78.4 246.3h1.0M86.7 243.4h1.0M95.5 232.8h1.0M81.3 250.5h1.0M80.1 249.8h1.0M81.0 240.9h1.0M82.4 249.8h1.0M95.7 230.1h1.0M82.7 237.2h1.0M92.6 226.9h1.0M77.1 249.3h1.0M77.5 250.1h1.0M89.7 241.5h1.0M79.8 249.9h1.0M77.5 248.3h1.0M79.1 243.7h1.0M80.9 239.8h1.0M83.4 248.8h1.0M85.0 245.5h1.0M87.5 243.8h1.0M83.0 248.1h1.0M83.4 247.6h1.0M78.5 244.3h1.0M95.1 228.1h1.0M91.7 228.2h1.0M81.0 251.1h1.0M79.4 245.3h1.0M80.3 242.1h1.0M77.3 250.0h1.0M79.4 243.9h1.0M78.3 245.5h1.0M83.0 247.9h1.0M78.0 251.6h1.0M79.3 242.5h1.0M86.2 245.7h1.0M78.6 243.8h1.0M79.5 253.2h1.0M79.3 252.7h1.0M77.8 244.6h1.0M78.7 251.8h1.0M82.7 247.5h1.0M80.4 252.7h1.0M95.9 228.6h1.0M91.8 227.5h1.0M92.7 228.0h1.0M78.5 247.4h1.0M81.4 250.3h1.0M85.2 245.7h1.0M90.1 241.3h1.0M77.1 248.4h1.0M79.9 251.7h1.0M81.7 249.7h1.0M83.0 248.8h1.0M80.0 251.3h1.0M80.2 251.6h1.0M96.0 227.3h1.0M84.8 234.1h1.0M79.4 253.0h1.0M95.4 229.4h1.0M76.6 246.9h1.0M82.5 248.9h1.0M80.5 241.7h1.0M94.2 227.2h1.0M95.4 227.2h1.0M85.2 245.7h1.0M79.4 248.3h1.0M78.2 244.5h1.0M78.4 252.0h1.0M79.4 249.4h1.0M78.2 249.3h1.0M77.6 248.6h1.0M83.1 249.5h1.0M95.3 228.8h1.0M80.3 252.2h1.0M94.9 229.2h1.0M94.9 232.0h1.0M78.5 252.8h1.0M96.3 227.6h1.0M80.0 252.3h1.0M95.9 228.3h1.0M93.6 235.0h1.0M92.2 227.6h1.0M81.7 251.7h1.0M78.5 246.3h1.0M82.8 249.7h1.0M79.0 250.5h1.0M80.5 251.5h1.0M82.1 251.3h1.0M95.9 228.3h1.0M78.9 250.2h1.0M77.8 252.3h1.0M76.6 247.2h1.0M86.2 245.5h1.0M80.7 239.6h1.0M83.4 248.1h1.0M83.5 236.8h1.0M94.1 227.3h1.0M78.7 252.7h1.0M78.3 244.0h1.0M95.3 227.2h1.0M92.8 228.3h1.0M94.7 228.5h1.0M93.3 227.8h1.0M95.8 228.0h1.0M95.3 232.7h1.0M80.9 250.2h1.0M79.0 252.3h1.0M80.2 252.3h1.0M81.7 249.1h1.0M82.9 248.1h1.0M77.7 247.1h1.0M77.8 243.5h1.0M82.6 250.0h1.0M77.6 244.1h1.0M77.9 248.8h1.0M78.7 244.3h1.0M77.3 245.3h1.0M81.4 249.5h1.0M80.2 242.9h1.0M78.2 247.3h1.0M78.7 245.3h1.0M81.0 252.2h1.0M81.3 250.1h1.0M83.0 250.2h1.0M79.0 252.8h1.0M78.9 243.0h1.0M80.1 240.4h1.0M77.8 252.1h1.0M88.7 242.9h1.0M96.3 227.3h1.0M78.0 246.9h1.0M83.7 248.4h1.0M77.0 251.0h1.0M80.4 242.7h1.0M78.2 247.1h1.0M92.3 227.6h1.0M92.0 238.5h1.0M95.2 229.2h1.0M80.3 249.5h1.0M78.1 248.8h1.0M81.2 251.6h1.0M78.1 251.8h1.0M80.3 243.1h1.0M82.1 248.6h1.0M78.6 246.6h1.0M77.6 249.4h1.0M79.6 252.5h1.0M83.5 249.3h1.0M78.1 247.0h1.0M76.6 250.7h1.0M78.4 245.1h1.0M82.9 248.1h1.0M81.0 240.6h1.0M77.3 248.0h1.0M94.9 229.1h1.0M79.5 245.1h1.0M82.1 252.2h1.0M77.9 253.3h1.0M79.4 243.6h1.0M78.2 250.3h1.0M80.7 250.1h1.0M95.4 226.7h1.0M94.8 230.4h1.0M82.1 250.5h1.0M86.4 244.8h1.0M77.8 253.3h1.0M83.4 248.6h1.0M89.2 229.8h1.0M95.3 233.3h1.0M95.6 227.4h1.0M82.8 249.5h1.0M94.3 227.7h1.0M94.9 233.3h1.0M78.5 245.0h1.0M78.5 245.0h1.0M93.7 227.1h1.0M89.8 241.4h1.0M85.5 245.9h1.0M96.6 229.3h1.0M95.9 229.9h1.0M85.9 244.4h1.0M78.1 245.3h1.0M80.0 241.2h1.0M80.8 252.0h1.0M95.2 230.4h1.0M92.7 227.1h1.0M94.3 228.1h1.0M95.5 229.4h1.0M89.3 242.4h1.0" stroke="rgb(40, 140, 210)" stroke-width="1.0" stroke-opacity="0.5"/>
<path d="M83.1 246.3h1.0M81.0 248.7h1.0M79.0 246.3h1.0M83.3 238.3h1.0M79.4 247.5h1.0M80.1 248.8h1.0M94.0 229.3h1.0M80.4 245.7h1.0M86.5 243.6h1.0M80.7 243.8h1.0M84.2 246.0h1.0M84.1 245.7h1.0M80.3 247.9h1.0M81.0 246.3h1.0M82.9 247.2h1.0M87.1 242.6h1.0M85.4 245.0h1.0M83.9 237.2h1.0M81.9 245.3h1.0M82.4 240.6h1.0M80.0 247.6h1.0M93.8 228.8h1.0M93.2 229.7h1.0M81.2 244.0h1.0M81.4 242.9h1.0M80.7 248.5h1.0M81.5 245.8h1.0M82.0 247.0h1.0M89.1 231.3h1.0M83.5 246.7h1.0M92.1 228.6h1.0M80.2 246.0h1.0M80.0 245.3h1.0M81.0 243.3h1.0M78.8 247.6h1.0M79.2 247.2h1.0M81.4 245.3h1.0M78.7 245.5h1.0M80.0 244.7h1.0M88.0 242.3h1.0M80.5 247.3h1.0M80.4 247.4h1.0M80.6 243.7h1.0M94.3 228.9h1.0M93.9 233.3h1.0M82.4 242.0h1.0M81.4 249.3h1.0M80.8 246.7h1.0M91.7 228.3h1.0M81.0 246.2h1.0M83.1 247.0h1.0M81.9 241.1h1.0M80.5 248.1h1.0M82.4 241.4h1.0M79.6 247.6h1.0M82.5 240.6h1.0M80.1 247.1h1.0M92.7 236.2h1.0M81.5 242.8h1.0M89.7 241.2h1.0M93.1 228.8h1.0M92.9 229.6h1.0M81.5 249.2h1.0M93.7 229.8h1.0M79.7 246.5h1.0M81.6 243.2h1.0M81.1 246.1h1.0M83.1 246.9h1.0M80.1 248.2h1.0M83.7 245.7h1.0M83.5 246.4h1.0M81.7 240.4h1.0M80.6 245.8h1.0M83.2 238.3h1.0M83.5 238.4h1.0M82.0 242.3h1.0M84.1 246.0h1.0M80.7 241.5h1.0M82.2 247.7h1.0M82.0 246.2h1.0M80.9 244.5h1.0M82.8 245.6h1.0M81.4 244.4h1.0M94.2 232.0h1.0M94.0 233.0h1.0M88.9 231.3h1.0M94.6 233.2h1.0M82.6 242.1h1.0M80.9 246.1h1.0M82.4 246.2h1.0M80.9 247.3h1.0M79.9 244.9h1.0M81.5 249.0h1.0M83.2 247.1h1.0M80.3 245.2h1.0M79.1 246.3h1.0M80.5 249.2h1.0M87.5 233.3h1.0M80.9 241.7h1.0M91.6 229.8h1.0M80.4 248.6h1.0M80.7 245.7h1.0M81.1 243.9h1.0M93.9 228.7h1.0M84.0 235.5h1.0M88.0 242.8h1.0M81.1 249.1h1.0M81.2 242.4h1.0M84.0 236.9h1.0M79.2 247.6h1.0M78.7 248.1h1.0M84.4 237.1h1.0M83.1 245.9h1.0M84.0 246.2h1.0M92.1 229.3h1.0M82.6 241.6h1.0M91.1 238.3h1.0M88.9 230.4h1.0M87.2 242.4h1.0M78.6 246.5h1.0M80.2 247.8h1.0M84.3 245.5h1.0M79.9 245.7h1.0M87.2 243.1h1.0M82.0 246.0h1.0M81.4 242.9h1.0M84.3 245.8h1.0M84.3 244.5h1.0M81.1 247.9h1.0M86.3 244.1h1.0M82.4 240.5h1.0M79.1 245.4h1.0M84.6 244.4h1.0M80.5 248.9h1.0M83.2 246.4h1.0M91.5 230.2h1.0M88.9 230.7h1.0M80.4 243.9h1.0M80.8 245.9h1.0M84.0 245.0h1.0M82.3 239.9h1.0M81.4 246.7h1.0M81.2 244.4h1.0M81.5 248.9h1.0M83.3 237.6h1.0M91.9 238.2h1.0M89.4 230.6h1.0M94.3 232.7h1.0M82.5 247.2h1.0M83.9 244.5h1.0M81.2 241.7h1.0M93.5 230.2h1.0M94.0 228.8h1.0M85.0 244.9h1.0M93.9 229.3h1.0M88.8 241.7h1.0M80.0 248.9h1.0M94.0 231.7h1.0M94.1 233.3h1.0M81.9 240.8h1.0M89.2 230.5h1.0M82.0 246.8h1.0M80.8 246.5h1.0M90.1 229.8h1.0M85.6 243.9h1.0M81.5 246.5h1.0M93.6 234.3h1.0M94.0 229.4h1.0M93.6 228.3h1.0M83.3 247.0h1.0M79.8 246.8h1.0M80.3 246.4h1.0M83.4 245.4h1.0M89.6 230.5h1.0M89.5 230.3h1.0M88.8 241.7h1.0M79.7 244.5h1.0M81.6 245.5h1.0M84.3 245.1h1.0M94.0 230.4h1.0M81.3 247.7h1.0M81.9 246.5h1.0M91.9 237.4h1.0M93.0 230.2h1.0M85.3 244.6h1.0M93.9 231.5h1.0M93.7 232.3h1.0M94.0 233.5h1.0M89.7 230.1h1.0M90.9 230.0h1.0M93.4 228.8h1.0M83.1 239.2h1.0M93.6 231.0h1.0M89.3 230.5h1.0M85.8 233.3h1.0M91.9 237.6h1.0M84.0 235.7h1.0M92.4 229.0h1.0M80.5 244.1h1.0M90.8 238.4h1.0M93.2 229.7h1.0M92.8 229.8h1.0M94.0 230.0h1.0M89.9 230.1h1.0M82.3 247.1h1.0M87.1 242.4h1.0M80.2 246.7h1.0M84.6 236.7h1.0M93.3 230.0h1.0M82.7 245.4h1.0M91.5 230.3h1.0M92.4 228.6h1.0M93.3 235.7h1.0M82.2 240.8h1.0M81.0 245.8h1.0M82.9 246.2h1.0M82.0 241.6h1.0M94.2 228.6h1.0M78.7 247.8h1.0M93.5 230.2h1.0M92.7 229.6h1.0M82.6 246.8h1.0M94.5 228.9h1.0M92.7 229.6h1.0M80.4 247.2h1.0M90.1 240.9h1.0M82.2 242.3h1.0M84.3 245.8h1.0M82.6 248.2h1.0M81.9 247.3h1.0M80.1 249.2h1.0M80.8 248.7h1.0M81.4 241.4h1.0M81.3 245.1h1.0M80.9 246.2h1.0M79.9 243.4h1.0M82.4 241.0h1.0M80.0 249.0h1.0M83.9 244.4h1.0M80.1 243.9h1.0M92.4 228.9h1.0M82.2 239.7h1.0M79.8 246.6h1.0M78.8 247.4h1.0M82.1 246.6h1.0M86.6 233.3h1.0M82.5 240.7h1.0M79.5 246.4h1.0M81.9 242.0h1.0M83.2 245.9h1.0M81.3 246.6h1.0M86.8 232.6h1.0M94.0 232.6h1.0M89.8 229.8h1.0M93.0 229.0h1.0M94.3 232.4h1.0M90.5 229.5h1.0M93.5 229.1h1.0M87.2 242.6h1.0M80.2 247.1h1.0M79.4 246.0h1.0M82.4 246.4h1.0M82.4 241.6h1.0" stroke="rgb(40, 160, 156)" stroke-width="1.0" stroke-opacity="0.5"/>
<path d="M87.9 242.2h1.0M82.7 241.9h1.0M92.7 234.5h1.0M93.1 231.6h1.0M90.8 237.6h1.0M90.4 231.0h1.0M83.5 242.0h1.0M81.9 244.6h1.0M84.2 243.2h1.0M82.9 244.8h1.0M83.7 244.1h1.0M85.4 244.1h1.0M84.1 243.4h1.0M91.6 235.8h1.0M83.4 240.2h1.0M92.9 231.3h1.0M90.3 231.2h1.0M93.0 230.6h1.0M92.8 234.2h1.0M83.1 240.2h1.0M93.3 231.6h1.0M88.0 241.8h1.0M83.9 238.2h1.0M83.0 239.5h1.0M81.7 242.6h1.0M86.2 242.8h1.0M83.7 243.6h1.0M93.5 231.1h1.0M82.9 243.4h1.0M93.2 231.7h1.0M92.3 229.9h1.0M83.3 240.6h1.0M82.0 244.5h1.0M84.4 244.3h1.0M84.4 242.8h1.0M83.8 238.1h1.0M84.1 244.1h1.0M83.3 245.1h1.0M92.7 231.1h1.0M92.9 232.4h1.0M83.5 241.6h1.0M92.6 230.9h1.0M93.4 231.8h1.0M92.7 232.2h1.0M82.5 243.5h1.0M82.8 245.1h1.0M93.3 231.7h1.0M88.4 241.3h1.0M82.4 242.3h1.0M82.8 241.4h1.0M83.4 242.9h1.0M82.2 243.1h1.0M82.0 244.1h1.0M82.0 243.3h1.0M84.5 242.6h1.0M82.3 242.4h1.0M85.1 243.1h1.0M85.4 235.4h1.0M83.5 243.1h1.0M81.7 245.0h1.0M92.9 230.8h1.0M92.5 229.3h1.0M82.8 239.5h1.0M82.5 244.6h1.0M90.1 230.6h1.0M93.1 232.3h1.0M90.4 231.0h1.0M91.2 237.8h1.0M92.2 229.5h1.0M84.2 244.0h1.0M85.5 243.7h1.0M84.3 242.6h1.0M92.6 229.9h1.0M83.7 237.8h1.0M89.4 241.0h1.0M92.7 232.8h1.0M88.3 231.7h1.0M84.4 242.8h1.0M93.5 231.3h1.0M85.0 243.2h1.0M82.4 243.6h1.0M83.5 240.0h1.0M88.3 232.1h1.0M91.8 230.2h1.0M93.1 230.7h1.0M82.9 243.5h1.0M92.0 229.3h1.0M84.8 243.1h1.0M92.8 233.2h1.0M93.3 232.7h1.0M87.9 231.6h1.0M84.8 243.7h1.0M82.2 243.1h1.0M83.0 244.3h1.0M84.7 243.3h1.0M83.2 242.1h1.0M83.6 243.6h1.0M82.9 240.5h1.0M84.4 242.4h1.0M82.8 245.2h1.0M82.9 242.6h1.0M83.1 244.5h1.0M83.7 243.4h1.0M88.9 241.1h1.0M85.1 244.1h1.0M82.9 239.5h1.0M85.0 236.0h1.0M87.6 232.1h1.0M93.1 231.9h1.0M93.0 232.6h1.0M86.1 242.8h1.0M92.7 232.2h1.0M92.4 235.3h1.0M85.1 235.9h1.0M84.7 242.6h1.0M90.5 231.1h1.0M88.9 241.0h1.0M84.0 244.1h1.0M85.1 243.7h1.0M84.7 243.2h1.0M89.6 231.2h1.0M81.8 245.0h1.0M92.1 229.9h1.0M83.3 242.2h1.0M87.9 241.5h1.0M93.0 232.6h1.0M85.4 235.3h1.0M92.0 229.5h1.0M82.9 241.0h1.0M88.3 232.2h1.0M93.1 231.7h1.0M83.3 242.5h1.0M92.9 232.9h1.0M91.7 236.6h1.0M83.3 241.0h1.0M83.6 243.0h1.0M82.8 240.8h1.0M85.3 243.5h1.0M91.5 238.0h1.0M82.7 243.0h1.0M84.5 243.3h1.0M85.9 242.8h1.0M87.8 241.7h1.0M84.0 238.2h1.0M83.5 242.7h1.0M83.2 243.4h1.0M84.8 243.8h1.0M84.3 237.6h1.0M82.7 241.4h1.0M83.4 243.7h1.0M83.3 243.3h1.0M83.3 243.1h1.0M83.2 244.5h1.0M83.1 244.4h1.0M82.6 243.8h1.0M93.5 233.7h1.0M83.7 243.4h1.0M92.1 235.6h1.0M82.7 243.8h1.0M84.5 242.6h1.0M90.1 230.3h1.0M83.3 241.6h1.0M82.6 243.1h1.0M82.4 244.8h1.0M82.7 244.5h1.0M93.6 233.6h1.0M91.7 229.9h1.0M83.4 240.7h1.0M84.6 243.0h1.0M88.2 241.4h1.0M82.2 245.1h1.0M88.7 240.7h1.0M82.0 243.7h1.0M93.5 230.3h1.0M92.8 232.7h1.0M84.0 238.0h1.0M81.6 242.7h1.0M83.3 242.5h1.0M92.6 232.4h1.0M87.7 241.8h1.0M83.0 242.3h1.0M93.3 232.3h1.0" stroke="rgb(56, 175, 106)" stroke-width="1.0" stroke-opacity="0.5"/>
<path d="M92.1 231.2h1.0M86.5 242.2h1.0M88.0 241.2h1.0M87.3 242.2h1.0M92.5 230.6h1.0M90.5 231.9h1.0M88.2 241.0h1.0M86.3 241.9h1.0M84.2 241.9h1.0M84.2 238.8h1.0M90.0 232.0h1.0M92.4 231.7h1.0M86.9 241.7h1.0M84.5 241.9h1.0M91.3 231.2h1.0M92.6 234.8h1.0M92.3 230.7h1.0M87.8 232.5h1.0M84.4 241.0h1.0M87.1 241.7h1.0M85.5 237.2h1.0M92.1 232.2h1.0M88.6 239.9h1.0M85.3 236.8h1.0M86.4 234.3h1.0M92.1 230.7h1.0M84.5 239.8h1.0M84.6 240.9h1.0M84.0 240.1h1.0M86.3 242.2h1.0M86.2 234.5h1.0M91.9 230.8h1.0M86.5 241.4h1.0M86.3 234.4h1.0M89.5 231.9h1.0M91.7 234.8h1.0M83.8 238.6h1.0M84.2 240.8h1.0M89.2 231.7h1.0M91.9 231.6h1.0M88.9 231.8h1.0M85.5 236.9h1.0M92.5 231.8h1.0M90.4 231.4h1.0M92.3 235.0h1.0M83.8 240.6h1.0M84.0 242.0h1.0M92.5 232.3h1.0M87.0 242.3h1.0M91.9 230.5h1.0M92.1 231.0h1.0M89.7 231.6h1.0M85.7 242.2h1.0M88.9 239.4h1.0M88.0 241.2h1.0M84.8 237.1h1.0M86.2 241.9h1.0M92.0 230.5h1.0M91.2 236.3h1.0M85.9 241.8h1.0M86.8 241.8h1.0M86.6 241.4h1.0M84.0 239.5h1.0M92.2 234.3h1.0M90.1 232.0h1.0M92.3 234.4h1.0M92.6 231.7h1.0M84.0 238.4h1.0M85.5 242.2h1.0M84.5 242.1h1.0M85.1 242.2h1.0M83.9 241.7h1.0M86.4 241.5h1.0M83.8 240.2h1.0M85.4 237.1h1.0M83.8 241.2h1.0M88.3 233.0h1.0M84.3 240.3h1.0M89.7 231.5h1.0M88.6 231.3h1.0M88.7 239.5h1.0M92.0 231.4h1.0M85.0 237.1h1.0M87.1 242.1h1.0M91.3 231.1h1.0M90.2 232.0h1.0M90.5 231.7h1.0M83.7 240.1h1.0M90.3 232.3h1.0M86.6 242.0h1.0M86.9 233.9h1.0M87.4 233.4h1.0M88.7 232.0h1.0M84.2 240.7h1.0M92.3 231.5h1.0M84.6 239.1h1.0M86.1 242.0h1.0M90.0 232.0h1.0M84.4 241.8h1.0M84.4 239.3h1.0M87.5 234.2h1.0M92.0 234.3h1.0M88.9 240.3h1.0M92.2 232.3h1.0M83.7 240.1h1.0M91.8 235.2h1.0M91.0 237.0h1.0M85.8 241.8h1.0M90.1 232.1h1.0M91.8 230.4h1.0M91.0 237.0h1.0M88.2 241.0h1.0M87.6 240.4h1.0M84.5 240.5h1.0M85.0 242.1h1.0M88.7 232.1h1.0M90.3 238.6h1.0M88.3 240.6h1.0M91.7 230.9h1.0M84.2 239.2h1.0M87.2 242.0h1.0M84.0 241.1h1.0M92.1 235.2h1.0M92.2 231.7h1.0M84.0 240.8h1.0M84.4 240.4h1.0M88.8 239.7h1.0M84.3 239.1h1.0M92.0 231.0h1.0M89.0 231.7h1.0M91.6 232.1h1.0M90.7 236.6h1.0M92.1 231.1h1.0M84.8 241.9h1.0M84.4 241.9h1.0M91.1 231.2h1.0M86.0 241.5h1.0M91.4 230.5h1.0M89.6 238.5h1.0M84.3 239.3h1.0M91.9 230.9h1.0M90.8 237.1h1.0M87.5 233.8h1.0M85.5 242.0h1.0M88.2 240.5h1.0M88.2 241.0h1.0M84.5 239.7h1.0M87.1 241.9h1.0M90.7 231.0h1.0M91.9 234.5h1.0M88.9 231.7h1.0M89.7 239.0h1.0M90.4 232.2h1.0M85.0 237.3h1.0M89.7 238.7h1.0M87.2 233.6h1.0M85.8 234.8h1.0M91.6 231.3h1.0M89.3 232.1h1.0M91.7 231.9h1.0" stroke="rgb(90, 185, 60)" stroke-width="1.0" stroke-opacity="0.5"/>
<path d="M86.6 241.1h1.0M88.5 234.3h1.0M91.2 232.1h1.0M89.8 237.5h1.0M86.0 240.8h1.0M91.8 232.3h1.0M91.1 233.2h1.0M89.8 237.9h1.0M86.2 235.4h1.0M92.0 233.5h1.0M89.4 232.8h1.0M87.2 234.9h1.0M85.5 238.2h1.0M84.6 237.4h1.0M84.9 237.4h1.0M91.0 235.5h1.0M91.7 233.3h1.0M86.9 240.8h1.0M90.7 232.6h1.0M91.4 232.1h1.0M91.5 232.4h1.0M92.3 233.8h1.0M92.6 232.9h1.0M85.5 237.9h1.0M85.4 238.3h1.0M91.0 235.7h1.0M92.0 233.0h1.0M90.6 235.5h1.0M85.9 241.2h1.0M84.8 239.8h1.0M88.9 232.8h1.0M84.6 240.2h1.0M92.3 233.9h1.0M92.5 232.6h1.0M88.6 233.9h1.0M85.2 237.4h1.0M85.2 241.1h1.0M90.8 235.7h1.0M88.9 232.9h1.0M87.2 240.5h1.0M85.0 238.6h1.0M91.5 233.2h1.0M91.9 232.6h1.0M88.6 234.1h1.0M91.5 235.3h1.0M86.1 236.1h1.0M90.4 237.4h1.0M90.7 232.7h1.0M90.9 236.1h1.0M85.2 238.3h1.0M92.2 232.9h1.0M90.7 232.3h1.0M87.3 235.1h1.0M86.1 240.9h1.0M85.2 238.1h1.0M85.3 241.1h1.0M84.8 238.6h1.0M88.9 233.1h1.0M89.7 237.4h1.0M91.2 232.5h1.0M87.3 234.8h1.0M86.3 240.8h1.0M86.7 235.3h1.0M86.8 241.1h1.0M89.7 237.4h1.0M84.7 239.5h1.0M87.4 234.4h1.0M85.1 238.4h1.0M90.8 233.1h1.0M92.0 233.7h1.0M85.9 240.6h1.0M92.1 234.3h1.0M89.1 233.0h1.0M87.0 234.7h1.0M90.1 237.9h1.0M91.4 232.9h1.0M92.5 233.8h1.0M87.4 240.5h1.0M92.1 232.5h1.0M91.8 234.1h1.0M84.7 240.3h1.0M89.6 233.1h1.0M86.0 236.0h1.0M91.3 232.1h1.0M87.3 240.4h1.0M84.9 239.8h1.0M85.4 238.0h1.0M86.6 235.3h1.0M84.9 238.8h1.0M90.0 238.2h1.0M87.7 233.4h1.0M85.1 238.3h1.0M85.9 235.7h1.0M92.0 233.2h1.0M91.7 232.4h1.0M90.9 232.7h1.0M86.2 240.4h1.0M86.2 240.4h1.0M86.3 240.4h1.0M85.5 239.6h1.0M88.3 233.6h1.0M89.3 233.0h1.0M91.1 231.5h1.0M91.6 236.2h1.0M86.5 236.0h1.0M89.4 232.5h1.0M88.5 234.2h1.0M87.2 241.3h1.0M89.0 232.5h1.0M92.0 232.9h1.0M91.5 232.8h1.0M86.6 235.8h1.0M90.4 237.4h1.0M90.9 235.7h1.0M90.8 232.5h1.0M90.6 233.1h1.0M85.5 240.4h1.0M91.6 232.4h1.0M85.1 237.4h1.0M87.2 240.5h1.0M90.9 235.6h1.0M90.8 232.3h1.0M85.0 237.7h1.0M91.1 235.6h1.0M92.1 232.3h1.0M91.8 232.7h1.0M90.6 231.7h1.0M84.8 239.9h1.0M86.5 241.0h1.0M90.6 231.4h1.0M91.3 236.3h1.0M91.4 231.5h1.0M84.6 240.3h1.0M86.3 236.2h1.0M91.8 233.3h1.0M91.4 236.0h1.0M87.1 240.7h1.0M91.0 231.7h1.0M91.5 232.6h1.0M85.4 239.3h1.0M90.9 232.2h1.0M90.8 232.4h1.0M89.2 232.6h1.0M86.4 240.7h1.0M85.3 237.5h1.0M90.6 236.2h1.0M85.5 241.1h1.0M85.3 239.8h1.0M91.1 232.4h1.0M87.5 234.4h1.0M91.6 233.4h1.0M89.7 237.6h1.0M85.1 238.4h1.0M90.9 232.9h1.0M86.2 240.4h1.0M87.5 235.1h1.0M85.7 240.6h1.0M86.6 235.1h1.0M87.6 240.6h1.0M85.1 239.9h1.0M91.6 233.9h1.0M84.7 238.8h1.0M92.1 234.2h1.0M88.3 233.9h1.0M91.0 231.9h1.0M86.3 235.8h1.0M85.5 239.8h1.0M87.8 234.1h1.0M91.3 232.3h1.0M89.2 233.2h1.0M84.9 237.7h1.0M85.6 240.0h1.0M91.9 233.9h1.0M87.6 240.6h1.0M91.0 232.9h1.0M90.7 233.1h1.0M91.0 232.9h1.0M85.1 239.8h1.0M85.7 240.6h1.0M85.6 238.4h1.0M87.0 241.2h1.0M86.1 235.4h1.0M89.7 238.1h1.0M85.5 237.8h1.0M90.7 236.1h1.0M87.7 233.9h1.0M87.1 234.8h1.0M85.0 238.7h1.0M85.8 235.5h1.0M84.8 239.6h1.0M85.5 240.0h1.0M85.0 238.0h1.0M87.0 234.7h1.0M86.5 240.4h1.0M89.1 233.2h1.0M90.8 233.2h1.0M89.4 232.6h1.0M91.0 232.2h1.0M91.0 235.9h1.0M86.8 234.4h1.0M86.3 240.5h1.0M84.7 240.7h1.0M87.1 241.1h1.0M86.0 240.3h1.0M92.1 233.0h1.0M86.2 236.1h1.0M88.6 234.1h1.0" stroke="rgb(179, 211, 46)" stroke-width="1.0" stroke-opacity="0.5"/>
<path d="M89.6 233.8h1.0M90.5 237.2h1.0M88.0 240.1h1.0M90.5 233.3h1.0M86.6 239.9h1.0M87.4 235.3h1.0M90.2 233.3h1.0M87.8 239.8h1.0M86.0 239.6h1.0M87.9 234.7h1.0M89.7 233.3h1.0M86.5 237.5h1.0M86.0 238.9h1.0M87.3 240.1h1.0M89.9 232.7h1.0M89.9 232.6h1.0M89.4 239.0h1.0M86.3 238.1h1.0M91.5 234.5h1.0M86.1 239.4h1.0M89.0 233.8h1.0M88.7 234.1h1.0M90.8 234.9h1.0M91.2 233.4h1.0M91.0 234.6h1.0M89.3 238.3h1.0M88.6 234.9h1.0M90.4 236.7h1.0M86.5 238.6h1.0M90.0 232.9h1.0M90.4 233.3h1.0M87.0 240.1h1.0M86.1 237.6h1.0M89.0 238.5h1.0M88.2 234.9h1.0M89.4 234.0h1.0M91.2 234.7h1.0M91.0 233.4h1.0M90.9 234.2h1.0M88.7 239.0h1.0M87.4 235.4h1.0M89.3 233.4h1.0M89.1 233.5h1.0M90.2 233.8h1.0M91.0 234.7h1.0M89.7 233.6h1.0M87.7 239.4h1.0M88.7 239.0h1.0M90.2 233.0h1.0M86.3 239.0h1.0M89.2 239.2h1.0M90.6 234.6h1.0M89.7 233.0h1.0M91.2 235.1h1.0M90.5 234.3h1.0M85.8 238.6h1.0M87.5 239.8h1.0M90.7 234.1h1.0M89.1 233.9h1.0M86.6 236.6h1.0M90.2 236.4h1.0M88.0 239.5h1.0M91.1 233.4h1.0M86.0 238.6h1.0M85.8 239.0h1.0M86.7 236.0h1.0M85.8 237.3h1.0M86.8 236.2h1.0M87.0 239.8h1.0M87.4 239.4h1.0M86.3 238.4h1.0M87.3 235.5h1.0M86.5 239.3h1.0M87.4 235.4h1.0M87.4 239.7h1.0M91.1 233.6h1.0M91.3 234.3h1.0M86.2 237.3h1.0M86.6 237.1h1.0M88.5 239.5h1.0M86.0 238.1h1.0M89.6 232.4h1.0M89.7 234.1h1.0M87.5 235.3h1.0M89.1 234.2h1.0M90.4 233.5h1.0M86.4 236.6h1.0M87.3 235.8h1.0M86.9 236.2h1.0M90.0 233.8h1.0M91.6 234.4h1.0M86.4 238.9h1.0M88.0 240.1h1.0M86.0 236.6h1.0M87.6 236.1h1.0M86.0 239.6h1.0M89.1 239.0h1.0M91.4 235.1h1.0M87.6 240.2h1.0M86.7 239.5h1.0M86.5 240.0h1.0M86.3 238.6h1.0M89.2 233.8h1.0M91.2 235.1h1.0M86.1 238.3h1.0M86.0 236.7h1.0M88.5 239.7h1.0M86.1 237.1h1.0M89.4 238.5h1.0M90.5 233.6h1.0M90.3 232.3h1.0M89.9 236.6h1.0M86.0 239.2h1.0M88.7 238.5h1.0M88.3 234.9h1.0M87.4 240.1h1.0M89.9 233.3h1.0M90.4 232.5h1.0M87.1 240.0h1.0M87.4 239.3h1.0M86.1 239.8h1.0M88.5 239.6h1.0M90.3 236.4h1.0M89.6 232.8h1.0M86.8 239.6h1.0M86.5 239.1h1.0M90.9 234.9h1.0M89.9 237.2h1.0M86.2 240.1h1.0M87.2 240.0h1.0M90.5 236.6h1.0M88.8 239.2h1.0M85.7 237.3h1.0M88.0 235.2h1.0M86.6 239.6h1.0M90.6 232.9h1.0M86.1 237.0h1.0M86.6 238.1h1.0M85.8 239.6h1.0M89.8 234.2h1.0M86.3 238.4h1.0M86.6 239.8h1.0M87.3 240.1h1.0M87.2 235.6h1.0M89.4 234.1h1.0M88.3 239.6h1.0M88.1 239.7h1.0M90.5 233.3h1.0M89.0 233.4h1.0M87.4 236.2h1.0M91.0 235.2h1.0M88.4 234.3h1.0M90.6 233.5h1.0M89.3 234.2h1.0M87.9 240.2h1.0M86.0 237.1h1.0M90.1 233.5h1.0M85.8 239.3h1.0M90.5 233.3h1.0M89.6 233.7h1.0M86.8 240.0h1.0M89.7 236.5h1.0M89.3 233.8h1.0M85.8 239.2h1.0M90.3 233.7h1.0M88.6 234.9h1.0M90.6 235.1h1.0M89.9 234.1h1.0M88.5 239.5h1.0M85.7 236.4h1.0M85.9 239.2h1.0M86.2 239.5h1.0M86.1 238.9h1.0M86.0 239.9h1.0M87.4 235.3h1.0M90.2 232.9h1.0M86.4 239.4h1.0M90.8 233.6h1.0M91.1 233.6h1.0M86.1 236.8h1.0M91.1 233.9h1.0M87.7 240.0h1.0M85.9 239.6h1.0M86.8 239.8h1.0M88.5 235.1h1.0M88.5 234.8h1.0M86.8 236.1h1.0M88.2 234.4h1.0M85.9 238.7h1.0M90.2 232.8h1.0M88.7 239.0h1.0M86.4 238.1h1.0M85.8 236.5h1.0M87.4 236.2h1.0M88.9 233.6h1.0M86.1 239.5h1.0M85.8 238.6h1.0M89.5 233.9h1.0M85.8 239.3h1.0M89.4 239.0h1.0M87.5 235.7h1.0M87.7 239.8h1.0M89.1 233.6h1.0M86.7 239.9h1.0M86.0 238.8h1.0M87.7 240.0h1.0M90.7 233.3h1.0M87.7 239.8h1.0M89.0 238.7h1.0M86.2 238.0h1.0M86.2 238.2h1.0M86.4 237.1h1.0M86.4 239.0h1.0M87.8 235.1h1.0M89.9 237.0h1.0M89.4 233.9h1.0M86.4 240.0h1.0M87.0 240.2h1.0M89.3 238.8h1.0M86.6 240.2h1.0M86.2 236.7h1.0M87.8 234.5h1.0M91.2 234.1h1.0M91.1 233.9h1.0M90.0 236.7h1.0M86.7 240.2h1.0M90.4 234.0h1.0M89.2 234.3h1.0M87.2 235.6h1.0M91.3 234.7h1.0M85.7 237.4h1.0M85.8 240.2h1.0M90.6 234.3h1.0M90.5 232.5h1.0" stroke="rgb(232, 196, 36)" stroke-width="1.0" stroke-opacity="0.5"/>
<path d="M89.7 235.4h1.0M88.5 237.5h1.0M87.0 238.9h1.0M87.7 238.9h1.0M89.9 235.2h1.0M89.4 235.4h1.0M90.2 235.3h1.0M90.4 235.1h1.0M87.2 238.1h1.0M89.4 237.1h1.0M89.5 235.3h1.0M88.7 236.4h1.0M87.7 237.8h1.0M88.8 238.0h1.0M86.9 237.9h1.0M89.3 237.2h1.0M88.3 239.3h1.0M89.9 234.5h1.0M89.3 236.5h1.0M86.9 236.7h1.0M87.6 237.5h1.0M86.6 239.0h1.0M88.8 235.3h1.0M88.1 235.9h1.0M88.9 235.2h1.0M87.3 237.3h1.0M88.0 235.4h1.0M87.6 237.7h1.0M88.2 238.4h1.0M88.4 236.1h1.0M89.7 235.8h1.0M88.3 237.8h1.0M90.2 235.9h1.0M88.8 235.6h1.0M89.1 237.7h1.0M89.5 237.9h1.0M89.4 237.3h1.0M88.7 237.7h1.0M89.0 237.5h1.0M88.1 238.3h1.0M87.7 236.3h1.0M88.6 235.7h1.0M87.2 239.1h1.0M88.4 236.3h1.0M87.7 236.2h1.0M89.4 236.5h1.0M89.1 238.2h1.0M86.9 238.3h1.0M88.9 235.5h1.0M89.9 235.4h1.0M88.8 236.8h1.0M89.8 234.9h1.0M89.2 236.3h1.0M88.5 237.9h1.0M89.6 235.0h1.0M89.2 235.4h1.0M88.6 235.1h1.0M87.8 235.5h1.0M90.4 235.6h1.0M88.6 238.1h1.0M90.2 236.0h1.0M86.9 236.9h1.0M88.8 234.8h1.0M87.6 236.6h1.0M87.0 238.3h1.0M87.7 235.9h1.0M88.5 236.0h1.0M89.7 234.8h1.0M89.9 234.4h1.0M88.8 237.4h1.0M87.4 237.9h1.0M87.9 237.8h1.0M88.7 238.3h1.0M88.4 239.1h1.0M88.8 238.0h1.0M87.8 237.8h1.0M89.9 236.0h1.0M88.2 237.3h1.0M88.6 237.6h1.0M86.9 237.8h1.0M88.8 236.9h1.0M89.5 235.3h1.0M89.7 235.5h1.0M89.3 235.8h1.0M88.0 237.4h1.0M90.4 234.7h1.0M87.8 238.1h1.0M89.8 234.6h1.0M88.7 235.0h1.0M88.9 236.9h1.0M89.6 236.5h1.0M86.9 236.4h1.0M89.8 236.0h1.0M87.3 237.4h1.0M88.7 236.0h1.0M89.8 235.5h1.0M90.5 235.9h1.0M88.3 237.9h1.0M88.1 237.9h1.0M89.0 238.0h1.0M89.5 234.5h1.0M88.9 236.4h1.0M86.9 237.5h1.0M88.0 239.3h1.0M87.7 236.3h1.0M87.8 237.8h1.0M89.5 235.4h1.0M87.7 239.1h1.0M89.2 236.5h1.0M90.6 235.6h1.0M86.8 237.8h1.0M87.2 238.2h1.0M87.9 235.8h1.0M87.5 237.6h1.0M88.1 237.7h1.0M88.7 236.3h1.0M89.9 234.4h1.0M87.2 239.0h1.0M88.8 237.1h1.0M89.1 235.7h1.0M89.2 235.8h1.0M87.7 237.6h1.0M88.8 236.6h1.0M89.1 236.6h1.0M90.2 235.3h1.0M89.3 238.1h1.0M89.0 235.2h1.0M88.9 237.2h1.0M90.1 234.7h1.0M87.4 236.9h1.0M87.2 238.2h1.0M89.6 235.0h1.0M86.8 238.3h1.0M87.5 238.5h1.0M87.3 237.2h1.0M90.1 234.3h1.0M88.6 236.7h1.0M87.0 236.8h1.0M86.7 237.5h1.0M87.1 238.4h1.0M90.1 235.0h1.0M88.9 234.9h1.0M88.4 239.0h1.0M89.6 234.5h1.0M90.6 234.7h1.0M86.7 238.6h1.0M87.6 238.3h1.0M89.7 235.0h1.0M89.0 236.7h1.0M90.1 235.1h1.0M87.4 236.4h1.0M88.9 236.3h1.0M89.7 235.1h1.0M86.7 238.5h1.0M87.7 238.5h1.0M88.7 235.2h1.0M88.1 237.5h1.0M88.6 237.5h1.0M90.5 234.3h1.0M90.4 234.6h1.0M88.6 238.9h1.0M88.6 237.8h1.0M88.8 235.1h1.0M89.8 234.7h1.0M89.3 235.9h1.0M89.6 234.6h1.0M89.1 235.1h1.0M87.7 236.3h1.0M86.7 237.9h1.0M87.0 237.7h1.0M89.3 237.0h1.0M87.1 236.4h1.0M88.8 237.2h1.0M90.4 235.1h1.0M87.4 238.6h1.0M89.9 235.7h1.0M87.6 236.6h1.0M88.4 238.2h1.0M89.0 234.9h1.0M86.8 237.9h1.0M86.6 236.4h1.0M89.4 238.1h1.0M89.7 235.4h1.0M89.3 235.1h1.0M88.2 238.4h1.0M88.0 235.4h1.0M88.8 237.1h1.0M89.1 235.4h1.0M88.9 235.6h1.0M88.2 236.0h1.0M87.3 238.6h1.0M89.0 237.1h1.0M88.9 236.6h1.0M89.2 237.3h1.0M89.5 235.1h1.0M88.9 235.5h1.0M87.2 238.4h1.0M89.5 238.0h1.0M87.6 239.1h1.0M89.3 236.4h1.0M87.8 236.1h1.0M89.5 238.1h1.0M87.3 236.8h1.0M88.6 238.6h1.0M86.6 236.6h1.0M87.9 238.2h1.0M88.9 235.3h1.0M88.1 237.7h1.0M89.0 236.6h1.0M87.6 239.1h1.0M88.9 234.4h1.0M87.2 238.3h1.0M89.9 236.3h1.0M89.5 237.6h1.0M87.4 237.9h1.0M89.9 234.9h1.0M87.6 237.6h1.0M86.9 238.5h1.0M89.0 235.6h1.0M90.1 234.7h1.0M89.6 235.1h1.0M87.6 237.2h1.0M87.0 238.3h1.0M88.7 236.8h1.0M87.0 239.1h1.0M89.8 236.1h1.0M87.4 237.6h1.0M87.6 238.2h1.0M88.9 234.7h1.0M88.2 237.3h1.0M87.4 239.1h1.0M87.4 239.0h1.0M87.8 238.7h1.0M89.2 238.2h1.0M88.4 239.2h1.0M90.4 234.5h1.0M88.5 239.1h1.0M90.5 234.4h1.0M88.3 236.2h1.0M89.1 235.1h1.0M89.5 237.5h1.0M86.7 237.4h1.0M87.1 238.1h1.0M87.3 238.7h1.0M89.1 235.8h1.0M88.1 239.0h1.0M89.3 235.2h1.0M89.4 235.0h1.0M87.9 237.4h1.0M88.0 237.7h1.0M89.3 234.9h1.0" stroke="rgb(241, 133, 30)" stroke-width="1.0" stroke-opacity="0.5"/>
<path d="M88.6 237.0h1.0M88.4 236.7h1.0M88.6 236.8h1.0M88.3 237.2h1.0M87.9 237.2h1.0M87.6 236.3h1.0M88.5 236.7h1.0M87.7 237.1h1.0M88.4 236.3h1.0M87.7 236.4h1.0M88.5 236.9h1.0M88.4 236.4h1.0M88.0 236.8h1.0M88.2 237.2h1.0M88.3 236.4h1.0M87.9 237.2h1.0M88.1 236.5h1.0M88.5 237.1h1.0M88.3 236.5h1.0M88.3 236.7h1.0M88.0 236.7h1.0M87.7 236.8h1.0" stroke="rgb(225, 50, 30)" stroke-width="1.0" stroke-opacity="0.5"/>
<rect x="24.60" y="207.30" width="86.40" height="88.90" fill="none" stroke="#333" stroke-width="1.2"/>
<line x1="22.60" y1="214.41" x2="24.60" y2="214.41" stroke="#555" stroke-width="0.6"/>
<line x1="22.60" y1="221.52" x2="24.60" y2="221.52" stroke="#555" stroke-width="0.6"/>
<line x1="22.60" y1="234.86" x2="24.60" y2="234.86" stroke="#555" stroke-width="0.6"/>
<line x1="22.60" y1="241.97" x2="24.60" y2="241.97" stroke="#555" stroke-width="0.6"/>
<line x1="22.60" y1="256.19" x2="24.60" y2="256.19" stroke="#555" stroke-width="0.6"/>
<line x1="22.60" y1="262.42" x2="24.60" y2="262.42" stroke="#555" stroke-width="0.6"/>
<line x1="22.60" y1="270.42" x2="24.60" y2="270.42" stroke="#555" stroke-width="0.6"/>
<line x1="22.60" y1="277.53" x2="24.60" y2="277.53" stroke="#555" stroke-width="0.6"/>
<line x1="22.60" y1="283.75" x2="24.60" y2="283.75" stroke="#555" stroke-width="0.6"/>
<line x1="22.60" y1="290.87" x2="24.60" y2="290.87" stroke="#555" stroke-width="0.6"/>
<line x1="28.92" y1="296.20" x2="28.92" y2="298.20" stroke="#555" stroke-width="0.6"/>
<line x1="37.56" y1="296.20" x2="37.56" y2="298.20" stroke="#555" stroke-width="0.6"/>
<line x1="43.61" y1="296.20" x2="43.61" y2="298.20" stroke="#555" stroke-width="0.6"/>
<line x1="48.79" y1="296.20" x2="48.79" y2="298.20" stroke="#555" stroke-width="0.6"/>
<line x1="53.98" y1="296.20" x2="53.98" y2="298.20" stroke="#555" stroke-width="0.6"/>
<line x1="59.16" y1="296.20" x2="59.16" y2="298.20" stroke="#555" stroke-width="0.6"/>
<line x1="67.80" y1="296.20" x2="67.80" y2="298.20" stroke="#555" stroke-width="0.6"/>
<line x1="76.44" y1="296.20" x2="76.44" y2="298.20" stroke="#555" stroke-width="0.6"/>
<line x1="85.08" y1="296.20" x2="85.08" y2="298.20" stroke="#555" stroke-width="0.6"/>
<line x1="93.72" y1="296.20" x2="93.72" y2="298.20" stroke="#555" stroke-width="0.6"/>
<line x1="102.36" y1="296.20" x2="102.36" y2="298.20" stroke="#555" stroke-width="0.6"/>
<line x1="107.54" y1="296.20" x2="107.54" y2="298.20" stroke="#555" stroke-width="0.6"/>
<rect x="68.50" y="218.30" width="36.00" height="33.80" fill="none" stroke="#222" stroke-width="1.2"/>
<ellipse cx="23.9" cy="276.8" rx="1.1" ry="1.7" fill="#111"/>
<text x="86.50" y="216.60" font-size="10.5" text-anchor="middle" fill="#222" stroke="#222" stroke-width="0.1" textLength="20.2" lengthAdjust="spacingAndGlyphs">71%</text>
<text x="16.30" y="252.50" font-size="10" text-anchor="middle" fill="#222" stroke="#222" stroke-width="0.1" textLength="17" lengthAdjust="spacingAndGlyphs" transform="rotate(-90 16.30 252.50)">Gr-1</text>
<text x="72.30" y="311.20" font-size="10" text-anchor="middle" fill="#222" stroke="#222" stroke-width="0.1" textLength="26" lengthAdjust="spacingAndGlyphs">Mac-1</text>
<path d="M172.9 243.6h1.0M175.1 235.8h1.0M179.9 256.9h1.0M198.9 247.7h1.0M167.7 246.1h1.0M163.7 232.8h1.0M204.5 245.1h1.0M193.2 257.1h1.0M190.0 242.5h1.0M176.2 246.8h1.0M199.0 237.4h1.0M168.0 236.3h1.0M191.1 241.5h1.0M177.4 262.6h1.0M183.0 247.3h1.0M155.4 249.5h1.0M162.7 257.4h1.0M168.5 269.2h1.0M163.9 263.7h1.0M171.0 257.9h1.0M162.8 261.6h1.0M144.0 288.0h1.0M172.7 263.0h1.0M169.8 267.7h1.0M174.0 277.9h1.0M170.1 258.4h1.0M170.9 251.7h1.0M171.9 252.0h1.0M165.1 265.2h1.0M190.8 282.1h1.0M190.2 235.1h1.0M164.8 275.2h1.0M173.3 275.1h1.0M164.4 270.3h1.0M158.2 254.3h1.0M170.0 255.9h1.0M165.7 274.3h1.0M160.2 273.7h1.0M165.9 277.3h1.0M164.8 251.4h1.0M164.1 257.6h1.0M167.7 246.0h1.0M186.1 247.3h1.0M171.9 247.7h1.0M202.0 271.3h1.0M178.2 276.3h1.0M193.8 281.7h1.0M193.8 267.6h1.0M194.7 280.9h1.0M202.7 277.3h1.0M202.4 278.0h1.0M177.9 273.2h1.0M139.7 279.7h1.0M172.0 270.8h1.0M166.1 265.0h1.0M160.1 274.3h1.0M187.0 260.7h1.0M167.9 260.0h1.0M160.2 255.8h1.0M164.3 254.8h1.0M159.8 277.6h1.0M146.3 287.3h1.0M169.1 261.5h1.0M172.0 262.7h1.0M158.3 248.2h1.0M140.2 263.6h1.0M145.3 286.6h1.0M149.9 226.8h1.0M143.0 221.2h1.0M154.2 245.5h1.0M153.4 232.8h1.0M152.9 251.1h1.0M148.6 286.1h1.0M195.8 268.6h1.0M148.8 225.3h1.0M144.0 228.1h1.0M151.6 247.5h1.0M200.7 274.5h1.0M147.3 220.4h1.0M142.9 225.3h1.0M165.5 252.6h1.0M177.1 246.4h1.0M163.0 262.2h1.0M168.7 281.8h1.0M163.1 278.4h1.0M163.8 259.1h1.0M162.8 261.7h1.0M154.8 247.1h1.0M162.1 261.3h1.0M170.9 262.4h1.0M163.2 271.8h1.0M142.0 258.6h1.0M138.4 269.4h1.0M145.0 289.6h1.0M194.0 283.0h1.0M174.8 277.5h1.0M196.2 268.4h1.0M148.3 224.8h1.0M144.5 251.7h1.0M141.2 231.9h1.0M152.5 226.3h1.0M152.3 234.9h1.0M149.9 221.8h1.0M147.9 221.6h1.0M189.9 281.1h1.0M174.7 276.7h1.0M142.8 249.5h1.0M144.0 252.0h1.0M177.5 271.3h1.0M146.7 290.1h1.0M144.5 255.6h1.0M152.4 239.5h1.0M142.6 229.7h1.0M139.9 280.1h1.0M138.9 277.3h1.0M201.4 277.2h1.0M165.3 277.3h1.0M142.6 288.9h1.0M143.7 287.4h1.0M154.4 283.2h1.0M140.7 264.2h1.0M142.2 285.9h1.0M199.8 268.9h1.0M178.0 277.6h1.0M145.9 224.6h1.0M138.6 277.6h1.0M150.6 250.0h1.0M180.2 279.8h1.0M192.8 264.5h1.0M184.7 268.0h1.0M144.7 226.3h1.0M150.5 286.7h1.0M149.3 225.0h1.0M183.5 269.3h1.0M178.2 269.0h1.0M185.5 267.8h1.0M199.7 269.6h1.0M176.9 275.2h1.0M200.6 273.1h1.0M153.1 236.3h1.0M148.3 221.8h1.0M148.5 222.8h1.0M144.4 288.0h1.0M154.8 250.7h1.0M195.6 281.1h1.0M162.6 260.2h1.0M142.9 256.4h1.0M152.9 244.5h1.0M140.3 267.3h1.0M185.9 281.4h1.0M170.7 277.5h1.0M182.6 269.1h1.0M175.1 273.7h1.0M143.6 285.5h1.0M140.1 214.3h1.0M143.6 222.9h1.0M196.9 268.9h1.0M173.4 274.8h1.0M150.0 289.4h1.0M147.5 221.3h1.0M163.2 270.0h1.0M157.4 252.4h1.0M142.8 260.3h1.0M172.1 268.3h1.0M177.7 276.0h1.0M198.9 270.2h1.0M178.8 270.5h1.0M155.8 254.2h1.0M189.1 243.9h1.0M147.4 286.6h1.0M178.2 248.0h1.0M168.4 250.1h1.0M171.7 267.4h1.0M168.3 254.9h1.0M166.2 262.8h1.0M168.0 262.0h1.0M159.9 251.9h1.0M159.3 255.4h1.0M166.1 250.9h1.0M167.2 270.4h1.0M165.5 250.1h1.0M161.0 259.1h1.0M158.5 253.6h1.0M168.5 263.6h1.0M152.0 283.5h1.0M139.6 267.0h1.0M162.1 278.9h1.0M156.1 252.5h1.0M161.9 257.0h1.0M193.8 244.5h1.0M180.7 236.7h1.0M185.2 231.4h1.0M176.2 241.5h1.0M160.8 234.2h1.0M169.5 238.9h1.0M166.1 238.2h1.0M186.4 236.5h1.0M170.8 244.5h1.0M190.1 247.4h1.0M162.8 243.4h1.0M180.2 258.9h1.0M180.3 239.5h1.0M200.1 235.1h1.0M198.4 254.7h1.0M179.8 245.1h1.0M190.0 264.4h1.0M185.0 239.2h1.0M191.6 244.5h1.0M171.8 243.7h1.0M188.1 255.3h1.0M190.6 248.9h1.0M175.2 253.6h1.0M173.3 236.3h1.0M176.1 235.4h1.0M184.0 250.0h1.0M183.4 239.5h1.0M185.9 238.3h1.0M196.0 257.8h1.0M179.2 240.4h1.0M196.4 265.8h1.0" stroke="rgb(60, 80, 175)" stroke-width="1.0" stroke-opacity="0.55"/>
<path d="M150.5 245.4h1.0M158.8 272.0h1.0M158.6 263.7h1.0M161.4 269.5h1.0M144.6 261.3h1.0M152.3 254.6h1.0M152.0 253.5h1.0M157.3 254.6h1.0M160.4 271.6h1.0M157.8 261.2h1.0M147.8 283.9h1.0M146.5 256.8h1.0M146.9 255.0h1.0M149.0 245.8h1.0M146.5 250.5h1.0M153.5 254.2h1.0M146.2 256.3h1.0M142.0 267.2h1.0M156.0 278.3h1.0M148.6 245.1h1.0M193.9 279.1h1.0M199.6 276.6h1.0M184.4 271.7h1.0M147.0 230.9h1.0M149.1 231.9h1.0M155.1 256.6h1.0M159.7 260.3h1.0M143.7 261.1h1.0M146.6 254.9h1.0M158.5 258.7h1.0M159.3 260.9h1.0M156.3 275.9h1.0M144.8 247.3h1.0M143.5 229.5h1.0M151.4 229.4h1.0M148.2 248.3h1.0M151.0 246.2h1.0M150.8 239.6h1.0M146.2 231.0h1.0M147.5 247.7h1.0M149.1 245.5h1.0M145.3 246.2h1.0M148.6 252.3h1.0M180.1 274.2h1.0M146.4 228.3h1.0M145.1 249.8h1.0M143.8 246.0h1.0M146.8 249.7h1.0M149.7 241.1h1.0M144.4 243.4h1.0M143.4 237.4h1.0M198.8 274.5h1.0M185.5 279.6h1.0M151.7 282.2h1.0M184.6 279.9h1.0M188.9 269.7h1.0M159.7 268.7h1.0M161.7 268.6h1.0M197.5 277.4h1.0M193.0 271.1h1.0M179.3 276.9h1.0M190.8 269.8h1.0M180.6 272.6h1.0M198.8 273.6h1.0M147.3 250.6h1.0M145.0 230.6h1.0M145.1 253.8h1.0M146.2 252.6h1.0M148.9 242.2h1.0M146.8 226.5h1.0M149.6 233.0h1.0M148.7 254.6h1.0M149.3 241.9h1.0M146.7 247.5h1.0M146.5 231.5h1.0M148.3 226.1h1.0M145.2 246.6h1.0M144.5 229.1h1.0M189.4 270.1h1.0M195.3 271.3h1.0M141.1 273.7h1.0M199.1 273.5h1.0M186.2 279.9h1.0M152.5 255.8h1.0M145.4 257.9h1.0M145.3 260.0h1.0M144.0 258.5h1.0M153.9 255.6h1.0M182.3 278.2h1.0M150.9 254.9h1.0M154.7 256.5h1.0M155.6 275.1h1.0M159.1 264.2h1.0M160.2 272.8h1.0M160.2 271.0h1.0M159.8 266.0h1.0M148.5 252.8h1.0M149.2 253.1h1.0M142.3 267.6h1.0M161.9 265.4h1.0M159.6 263.3h1.0M183.3 279.3h1.0M183.6 278.5h1.0M196.7 276.8h1.0M194.0 278.4h1.0M161.8 264.2h1.0M148.9 255.6h1.0M141.4 277.1h1.0M153.5 255.7h1.0M148.6 253.9h1.0M143.5 282.1h1.0M187.4 270.2h1.0M197.5 275.3h1.0M187.5 279.2h1.0M180.7 277.4h1.0M150.6 229.5h1.0M143.6 241.7h1.0M147.2 227.8h1.0M143.9 237.9h1.0M144.6 232.4h1.0M180.9 273.1h1.0M145.2 244.4h1.0M147.0 247.4h1.0M144.5 245.8h1.0M145.6 249.0h1.0M142.5 238.5h1.0M199.9 274.5h1.0M191.6 268.8h1.0M180.3 278.8h1.0M196.4 271.2h1.0M149.1 246.2h1.0M147.5 231.1h1.0M146.0 230.2h1.0M150.0 233.0h1.0M149.1 226.1h1.0M150.4 244.7h1.0M149.5 284.0h1.0M143.9 236.0h1.0M151.4 237.7h1.0M144.0 235.1h1.0M145.3 244.9h1.0M150.4 247.4h1.0M149.5 233.7h1.0M189.4 279.5h1.0M145.5 229.2h1.0M149.0 228.4h1.0M148.2 227.2h1.0M147.5 247.4h1.0M150.5 240.0h1.0M146.6 251.5h1.0M184.6 270.3h1.0M180.6 280.3h1.0M180.4 276.7h1.0M181.0 273.7h1.0M187.3 278.6h1.0M196.9 269.4h1.0M141.1 277.5h1.0M147.8 284.6h1.0M148.9 232.9h1.0M148.8 234.1h1.0M144.3 262.6h1.0M148.6 227.4h1.0M146.4 250.3h1.0M147.2 256.0h1.0M149.6 233.2h1.0M143.2 246.5h1.0M146.2 245.6h1.0M145.5 248.5h1.0M145.5 252.1h1.0M149.6 230.3h1.0M149.8 253.5h1.0M150.3 230.0h1.0M143.2 239.3h1.0M152.0 237.0h1.0M148.7 248.3h1.0M149.5 243.0h1.0M182.4 272.6h1.0M195.6 270.1h1.0M188.2 278.8h1.0M198.6 271.5h1.0M143.3 246.1h1.0M144.4 232.8h1.0M147.8 247.5h1.0M147.3 253.0h1.0M198.1 276.5h1.0M183.9 270.3h1.0M181.8 278.1h1.0M183.2 272.0h1.0M146.2 286.2h1.0M160.6 271.4h1.0M160.8 268.5h1.0M160.9 266.8h1.0M146.3 251.8h1.0M141.9 267.6h1.0M152.6 255.6h1.0M156.8 256.0h1.0M147.2 254.1h1.0M156.1 255.9h1.0M159.6 257.3h1.0M159.1 272.2h1.0M191.0 279.0h1.0M193.9 278.4h1.0M195.0 278.8h1.0M197.5 273.8h1.0M191.7 280.0h1.0M181.0 276.5h1.0M188.6 279.4h1.0M161.2 262.1h1.0M144.2 247.3h1.0M140.7 267.3h1.0M178.7 278.2h1.0M183.6 279.4h1.0M185.8 270.0h1.0M148.1 233.0h1.0M146.4 251.4h1.0M150.1 229.5h1.0M144.3 234.9h1.0M150.2 246.7h1.0M142.9 232.2h1.0M191.8 278.8h1.0M180.8 275.6h1.0M190.5 270.1h1.0M153.7 278.9h1.0M141.2 268.6h1.0M143.6 241.6h1.0M150.1 248.2h1.0M145.5 251.8h1.0M146.0 231.8h1.0M149.7 241.6h1.0M152.5 237.1h1.0M194.7 271.1h1.0M197.4 276.9h1.0M149.1 248.1h1.0M146.8 248.5h1.0M145.4 232.8h1.0M143.9 234.1h1.0M144.4 247.4h1.0M143.8 238.7h1.0M147.9 230.6h1.0M145.5 234.9h1.0M143.5 241.1h1.0M146.5 232.3h1.0M148.3 245.0h1.0M149.8 229.2h1.0M145.1 250.1h1.0M148.3 245.5h1.0M183.4 279.7h1.0M182.4 272.9h1.0M180.8 277.3h1.0M199.4 271.9h1.0M192.2 269.3h1.0M179.8 271.5h1.0M149.0 230.1h1.0M143.7 234.4h1.0M146.6 227.1h1.0M146.9 285.3h1.0M145.6 284.5h1.0M190.9 269.0h1.0M180.6 270.5h1.0M186.6 270.1h1.0M145.0 228.3h1.0M145.5 244.5h1.0M149.7 239.9h1.0M148.7 228.1h1.0M149.4 242.8h1.0M143.1 235.6h1.0M149.8 243.6h1.0M150.3 283.8h1.0M145.3 244.9h1.0M147.5 245.7h1.0M144.8 235.3h1.0M144.9 234.7h1.0M149.4 227.1h1.0M150.1 238.8h1.0M147.0 232.1h1.0M144.3 243.5h1.0M141.0 278.6h1.0M199.5 272.5h1.0M141.8 266.9h1.0M197.2 272.0h1.0M184.4 280.8h1.0M196.7 276.1h1.0M145.1 235.0h1.0M147.1 246.7h1.0M149.0 229.3h1.0M150.3 235.7h1.0M148.6 232.5h1.0M149.3 249.1h1.0M183.1 271.7h1.0M141.1 274.5h1.0M199.2 276.6h1.0M145.9 256.8h1.0M148.1 255.8h1.0M143.0 264.5h1.0M146.0 253.7h1.0M158.5 256.9h1.0M160.5 266.7h1.0M143.2 281.9h1.0M150.4 248.7h1.0M153.5 254.6h1.0M157.3 257.6h1.0M158.9 274.1h1.0M160.1 267.3h1.0M154.8 276.4h1.0M143.0 260.9h1.0M142.2 267.9h1.0M139.7 273.4h1.0M151.3 252.5h1.0M190.0 278.6h1.0M181.4 272.8h1.0M199.4 276.7h1.0M150.6 232.9h1.0M145.6 229.2h1.0M145.7 257.6h1.0M149.9 237.1h1.0M146.4 229.8h1.0M182.5 271.8h1.0M183.6 279.5h1.0M181.1 274.9h1.0M152.8 280.0h1.0M144.5 262.7h1.0M149.5 249.8h1.0M148.6 242.2h1.0M147.7 232.1h1.0M145.0 251.4h1.0M146.7 225.7h1.0M150.2 249.7h1.0M148.1 229.3h1.0M141.2 277.4h1.0M149.3 285.1h1.0M142.9 282.2h1.0M144.2 244.1h1.0M143.7 237.5h1.0M150.1 245.6h1.0M149.9 238.3h1.0M144.8 234.1h1.0M179.3 276.4h1.0M183.2 281.3h1.0M185.5 268.3h1.0M180.7 279.7h1.0M186.1 279.9h1.0M143.2 239.3h1.0M147.3 284.4h1.0M181.9 271.1h1.0M189.3 280.0h1.0M197.7 272.9h1.0M197.9 272.1h1.0M143.9 242.7h1.0M148.8 250.7h1.0M145.8 250.0h1.0M150.5 243.3h1.0M147.4 229.2h1.0M148.7 251.0h1.0M147.0 230.1h1.0M149.3 231.3h1.0M147.2 231.3h1.0M150.9 235.3h1.0M144.8 233.6h1.0M147.8 228.5h1.0M140.8 273.9h1.0M149.9 253.8h1.0M143.9 260.7h1.0M158.0 256.9h1.0M161.9 263.4h1.0M143.7 260.3h1.0M147.2 285.2h1.0M146.2 253.9h1.0M162.2 264.9h1.0M158.5 264.1h1.0M158.7 261.1h1.0M151.7 256.0h1.0M155.0 278.3h1.0M151.1 254.5h1.0M150.2 253.7h1.0M141.3 264.4h1.0M163.2 262.4h1.0M179.0 272.3h1.0M144.1 237.3h1.0M143.4 239.7h1.0M144.0 232.5h1.0M149.3 233.6h1.0M145.8 232.5h1.0M152.0 281.6h1.0M142.3 282.7h1.0M190.3 269.2h1.0M180.7 274.0h1.0M180.1 274.9h1.0M141.6 282.4h1.0M141.7 265.2h1.0M140.5 279.0h1.0M145.3 284.6h1.0M146.3 229.7h1.0M188.4 270.2h1.0M199.0 273.6h1.0M140.1 277.3h1.0M198.8 276.4h1.0M188.1 278.4h1.0M144.5 233.5h1.0M144.5 237.1h1.0M196.7 277.4h1.0M161.1 270.0h1.0M156.2 275.8h1.0M157.5 259.0h1.0M161.6 265.2h1.0M161.1 262.0h1.0M192.7 271.1h1.0M185.6 279.4h1.0M181.9 272.6h1.0M197.1 277.1h1.0M150.4 283.5h1.0M187.0 269.5h1.0M188.4 268.8h1.0M196.7 277.3h1.0M198.7 272.8h1.0M199.2 276.8h1.0M180.2 276.8h1.0M179.5 275.5h1.0M157.8 256.2h1.0M159.7 268.3h1.0M159.0 264.2h1.0M157.6 273.5h1.0M147.7 252.1h1.0M160.6 259.8h1.0M159.9 270.0h1.0M160.8 264.8h1.0M158.1 259.9h1.0M160.4 269.5h1.0M161.1 264.0h1.0M153.0 279.3h1.0M158.3 257.5h1.0M161.1 270.3h1.0M161.9 267.4h1.0M158.5 272.9h1.0M156.3 257.0h1.0M162.1 263.4h1.0M150.5 238.3h1.0" stroke="rgb(53, 86, 188)" stroke-width="1.0" stroke-opacity="0.55"/>
<path d="M188.9 270.9h1.0M147.1 282.8h1.0M142.3 278.0h1.0M147.2 259.0h1.0M144.1 282.0h1.0M185.1 271.4h1.0M157.0 272.6h1.0M154.1 259.6h1.0M147.0 245.7h1.0M146.2 244.3h1.0M187.4 272.7h1.0M144.0 281.5h1.0M144.2 281.8h1.0M152.5 259.2h1.0M185.3 274.0h1.0M189.3 271.9h1.0M195.5 273.7h1.0M183.5 276.0h1.0M145.2 263.4h1.0M142.5 277.5h1.0M155.2 258.9h1.0M154.6 257.5h1.0M146.4 261.2h1.0M194.6 272.8h1.0M146.5 245.0h1.0M150.5 256.0h1.0M182.0 276.4h1.0M193.1 271.6h1.0M195.5 276.8h1.0M195.4 274.3h1.0M185.7 271.2h1.0M158.0 263.2h1.0M148.5 259.0h1.0M149.7 255.7h1.0M196.2 273.8h1.0M158.7 267.0h1.0M146.2 261.4h1.0M153.8 278.2h1.0M156.2 260.8h1.0M155.9 258.4h1.0M188.1 271.7h1.0M153.1 259.0h1.0M153.5 257.5h1.0M142.5 280.0h1.0M182.0 275.0h1.0M150.8 257.6h1.0M144.0 263.7h1.0M148.9 283.1h1.0M146.7 239.6h1.0M190.9 271.0h1.0M193.6 273.2h1.0M191.7 271.1h1.0M184.5 274.2h1.0M194.5 275.0h1.0M145.5 283.2h1.0M183.2 277.8h1.0M142.5 274.5h1.0M156.5 272.5h1.0M157.8 267.5h1.0M156.1 257.7h1.0M193.8 277.2h1.0M185.2 276.0h1.0M186.3 273.6h1.0M191.8 271.6h1.0M144.6 239.5h1.0M185.4 276.5h1.0M194.2 271.4h1.0M151.0 281.7h1.0M194.7 274.4h1.0M157.3 271.2h1.0M143.4 265.6h1.0M189.8 270.8h1.0M145.7 243.2h1.0M152.9 277.9h1.0M146.7 233.7h1.0M192.7 277.4h1.0M148.0 236.8h1.0M147.5 238.0h1.0M147.9 238.4h1.0M144.6 282.5h1.0M158.9 268.8h1.0M158.6 266.4h1.0M156.1 260.1h1.0M156.9 258.4h1.0M193.9 277.8h1.0M184.1 272.5h1.0M186.9 272.1h1.0M185.6 277.1h1.0M152.6 257.6h1.0M144.7 262.1h1.0M155.5 260.7h1.0M158.0 267.1h1.0M154.7 259.5h1.0M155.0 259.2h1.0M158.5 268.4h1.0M182.0 276.0h1.0M149.0 256.7h1.0M152.2 257.9h1.0M153.0 257.6h1.0M155.7 261.0h1.0M142.8 266.0h1.0M149.2 257.1h1.0M158.6 271.3h1.0M188.4 271.8h1.0M142.4 272.3h1.0M157.8 264.2h1.0M158.4 269.4h1.0M158.1 264.1h1.0M157.0 258.9h1.0M154.1 257.9h1.0M156.2 260.2h1.0M152.9 258.7h1.0M157.3 262.5h1.0M158.8 267.2h1.0M194.8 272.7h1.0M185.7 271.9h1.0M186.1 276.4h1.0M184.6 276.7h1.0M185.1 272.7h1.0M153.7 259.0h1.0M190.6 277.9h1.0M185.6 272.7h1.0M185.6 276.7h1.0M185.0 272.0h1.0M190.4 271.8h1.0M158.4 267.3h1.0M181.9 274.8h1.0M184.9 279.3h1.0M186.6 276.0h1.0M194.6 271.5h1.0M150.1 281.3h1.0M158.7 271.1h1.0M141.9 276.5h1.0M156.3 261.9h1.0M143.1 266.3h1.0M155.0 259.3h1.0M185.5 274.8h1.0M189.1 277.6h1.0M145.8 241.8h1.0M145.4 241.0h1.0M145.6 238.8h1.0M147.0 236.9h1.0M182.6 273.6h1.0M185.9 276.5h1.0M147.7 241.7h1.0M149.4 238.0h1.0M145.2 238.4h1.0M145.8 241.4h1.0M148.0 241.0h1.0M147.1 234.3h1.0M146.6 241.5h1.0M189.1 270.4h1.0M185.5 277.5h1.0M193.7 273.2h1.0M187.6 276.9h1.0M142.5 274.6h1.0M148.1 237.4h1.0M147.1 235.2h1.0M193.3 277.3h1.0M192.5 276.8h1.0M147.7 234.5h1.0M142.1 273.4h1.0M159.4 267.0h1.0M157.3 263.0h1.0M155.7 257.9h1.0M146.8 260.2h1.0M153.9 259.2h1.0M157.7 268.0h1.0M146.4 283.1h1.0M191.4 277.7h1.0M190.1 272.3h1.0M150.5 257.4h1.0M146.7 243.6h1.0M147.6 234.9h1.0M147.6 237.8h1.0M144.6 239.5h1.0M189.2 271.0h1.0M147.8 240.3h1.0M145.7 236.8h1.0M147.9 257.7h1.0M192.1 278.2h1.0M190.0 270.9h1.0M145.5 237.0h1.0M145.1 237.3h1.0M152.3 257.2h1.0M157.1 263.7h1.0M149.8 256.3h1.0M158.6 266.4h1.0M156.4 261.4h1.0M159.4 270.8h1.0M148.4 237.2h1.0M147.6 241.6h1.0M146.1 237.2h1.0M146.5 241.9h1.0M184.6 279.1h1.0M188.7 270.4h1.0M187.0 277.2h1.0M189.2 277.2h1.0M147.5 241.3h1.0M149.0 257.5h1.0M144.7 240.3h1.0M145.4 240.1h1.0M148.6 237.9h1.0M149.3 237.7h1.0M147.7 235.2h1.0M146.9 237.7h1.0M146.9 244.4h1.0M147.4 241.3h1.0M188.8 278.1h1.0M145.3 240.2h1.0M145.3 239.4h1.0M186.0 273.8h1.0M186.1 276.9h1.0M141.9 276.0h1.0M144.5 281.5h1.0M148.9 235.7h1.0M158.9 271.3h1.0M159.3 269.6h1.0M145.7 260.3h1.0M155.6 274.1h1.0M157.5 270.6h1.0M156.4 257.3h1.0M151.0 281.1h1.0M157.6 262.5h1.0M195.7 274.8h1.0M194.6 276.9h1.0M186.3 277.6h1.0M185.8 272.8h1.0M189.4 278.2h1.0M186.9 273.0h1.0M182.6 276.3h1.0M155.3 275.8h1.0M153.9 259.9h1.0M144.9 238.4h1.0M146.8 238.5h1.0M185.5 274.0h1.0M193.8 271.6h1.0M195.0 274.6h1.0M187.8 278.1h1.0M182.6 277.6h1.0M151.3 255.8h1.0M187.2 277.2h1.0M143.0 265.8h1.0M154.4 256.5h1.0M195.7 276.3h1.0M156.5 258.3h1.0M158.2 269.2h1.0M157.2 260.2h1.0M145.9 240.4h1.0M193.0 276.4h1.0M181.9 275.2h1.0M192.7 276.5h1.0M196.2 275.0h1.0M156.8 271.5h1.0M145.5 262.2h1.0M147.0 258.4h1.0M186.5 274.4h1.0M147.2 236.5h1.0M148.6 282.5h1.0M147.4 234.4h1.0M148.5 237.3h1.0M151.2 257.1h1.0M145.4 242.4h1.0M157.0 261.6h1.0M187.2 272.5h1.0M184.1 275.7h1.0M189.5 276.7h1.0M194.9 271.9h1.0M183.5 274.2h1.0M142.0 275.9h1.0M148.7 256.7h1.0M147.8 239.1h1.0M146.4 236.4h1.0M144.8 243.2h1.0M145.6 237.8h1.0M147.3 244.9h1.0M183.0 273.6h1.0M156.9 272.5h1.0M194.9 276.2h1.0M195.2 273.1h1.0M183.9 276.9h1.0M147.6 235.8h1.0M147.0 238.8h1.0M146.9 238.7h1.0M141.7 270.2h1.0M183.9 275.3h1.0M148.1 239.0h1.0M147.2 233.9h1.0M149.2 238.7h1.0M181.8 274.2h1.0M146.7 237.8h1.0M146.7 243.8h1.0M147.4 244.2h1.0M146.4 243.6h1.0M147.0 235.1h1.0M146.8 232.3h1.0M184.1 273.8h1.0M182.5 276.2h1.0M194.3 273.1h1.0M191.2 271.1h1.0M191.2 276.8h1.0M184.3 275.9h1.0M184.5 275.5h1.0M186.1 271.8h1.0M182.6 276.7h1.0M187.7 270.5h1.0M148.6 234.4h1.0M147.2 259.1h1.0M147.8 236.0h1.0M147.9 237.3h1.0M149.2 239.8h1.0M148.3 238.5h1.0M144.1 265.3h1.0M152.0 256.3h1.0M150.4 281.6h1.0M190.0 272.1h1.0M183.0 275.9h1.0M186.1 278.8h1.0M196.0 275.7h1.0M192.8 271.8h1.0M144.5 240.5h1.0M148.4 236.3h1.0M144.8 242.6h1.0M194.1 273.0h1.0M182.0 276.0h1.0M181.7 277.0h1.0M195.7 272.4h1.0M195.5 275.0h1.0M147.9 240.2h1.0M149.4 235.9h1.0M148.0 243.3h1.0M146.8 238.9h1.0M147.5 241.5h1.0M147.5 243.9h1.0M147.9 238.1h1.0M151.8 280.7h1.0M155.5 258.0h1.0M151.3 280.7h1.0M142.3 272.4h1.0M147.2 258.4h1.0M157.3 271.0h1.0M152.2 257.2h1.0M144.6 244.1h1.0M148.7 235.7h1.0M146.3 244.3h1.0M151.0 255.7h1.0M147.2 236.5h1.0M146.7 237.5h1.0M149.3 236.9h1.0M150.5 256.5h1.0M147.6 257.3h1.0M152.1 258.8h1.0M194.2 272.9h1.0M184.2 276.6h1.0M150.9 280.3h1.0M151.6 258.1h1.0M154.8 258.0h1.0M157.4 259.4h1.0M151.4 256.9h1.0M155.0 260.0h1.0M145.7 245.0h1.0M144.7 243.5h1.0M146.5 234.4h1.0M146.7 237.9h1.0M189.7 277.8h1.0M186.1 276.5h1.0M186.3 276.9h1.0M186.6 275.6h1.0M148.6 234.7h1.0M184.3 276.8h1.0M183.7 276.5h1.0M194.6 272.7h1.0M194.4 272.6h1.0M184.6 275.9h1.0M196.8 273.3h1.0M184.3 272.3h1.0M157.8 264.8h1.0M183.2 273.6h1.0M142.3 271.4h1.0M142.3 279.2h1.0M147.5 244.3h1.0M183.9 275.8h1.0M189.7 277.9h1.0M146.7 239.7h1.0M153.8 278.0h1.0M146.3 240.3h1.0M182.8 273.6h1.0M186.8 277.3h1.0M148.7 282.7h1.0M194.9 273.0h1.0M191.0 276.8h1.0M188.1 271.3h1.0M187.1 270.3h1.0M195.4 272.9h1.0M188.8 271.9h1.0M186.4 277.7h1.0M192.8 278.3h1.0M184.9 273.8h1.0M186.5 273.4h1.0M189.9 278.1h1.0M195.5 273.0h1.0M193.0 276.9h1.0M153.6 276.9h1.0M196.0 274.5h1.0M187.5 276.3h1.0M185.4 274.8h1.0M151.9 280.2h1.0M156.8 258.3h1.0" stroke="rgb(46, 106, 200)" stroke-width="1.0" stroke-opacity="0.55"/>
<path d="M142.6 270.7h1.0M145.7 263.9h1.0M155.8 265.3h1.0M150.2 259.6h1.0M192.8 274.3h1.0M156.3 267.5h1.0M148.9 282.3h1.0M193.9 275.4h1.0M143.2 276.8h1.0M194.0 275.4h1.0M155.9 270.0h1.0M151.8 260.6h1.0M190.8 275.5h1.0M154.5 275.8h1.0M194.5 273.9h1.0M193.8 276.2h1.0M147.6 260.0h1.0M148.7 280.3h1.0M153.7 274.5h1.0M143.2 272.6h1.0M148.9 280.5h1.0M147.4 281.8h1.0M192.0 275.1h1.0M145.0 280.5h1.0M155.2 262.0h1.0M189.1 273.4h1.0M187.5 274.0h1.0M149.6 260.1h1.0M189.3 275.2h1.0M193.1 276.3h1.0M192.7 274.4h1.0M188.8 274.7h1.0M144.4 268.1h1.0M156.7 268.1h1.0M155.9 267.1h1.0M146.5 262.6h1.0M155.7 262.5h1.0M149.9 258.5h1.0M148.2 260.7h1.0M154.7 272.2h1.0M155.2 273.9h1.0M144.2 280.3h1.0M147.1 262.9h1.0M153.1 261.6h1.0M150.3 258.8h1.0M149.2 259.0h1.0M142.8 275.8h1.0M148.2 261.0h1.0M155.2 272.4h1.0M152.6 261.9h1.0M190.4 275.5h1.0M188.0 275.3h1.0M189.5 275.8h1.0M150.7 280.2h1.0M152.6 276.9h1.0M157.5 267.3h1.0M188.8 272.4h1.0M187.0 274.7h1.0M189.0 276.1h1.0M150.0 259.0h1.0M149.5 259.2h1.0M145.3 280.4h1.0M188.4 273.8h1.0M192.5 276.2h1.0M191.8 273.6h1.0M187.4 274.9h1.0M188.6 273.8h1.0M151.3 260.0h1.0M146.0 263.4h1.0M152.1 278.7h1.0M193.4 274.1h1.0M147.9 281.7h1.0M143.2 274.1h1.0M151.8 259.6h1.0M152.7 262.1h1.0M143.2 275.9h1.0M144.0 266.4h1.0M192.5 274.5h1.0M192.2 275.7h1.0M150.5 279.6h1.0M143.4 275.4h1.0M193.5 275.2h1.0M193.5 274.0h1.0M150.7 279.8h1.0M143.6 279.7h1.0M192.1 274.6h1.0M142.6 277.0h1.0M192.9 273.8h1.0M192.0 272.7h1.0M151.0 279.4h1.0M156.3 267.2h1.0M148.5 258.7h1.0M149.8 259.2h1.0M152.5 259.7h1.0M156.9 264.6h1.0M152.8 262.1h1.0M149.3 281.7h1.0M191.6 275.2h1.0M152.6 261.7h1.0M145.6 262.4h1.0M187.8 273.2h1.0M190.8 273.3h1.0M191.7 276.0h1.0M142.7 271.1h1.0M142.6 275.7h1.0M192.2 275.1h1.0M192.8 275.8h1.0M150.3 259.6h1.0M144.0 280.1h1.0M154.4 274.7h1.0M147.5 262.6h1.0M142.6 278.5h1.0M156.5 270.5h1.0M155.7 269.7h1.0M147.1 260.5h1.0M145.2 266.2h1.0M148.6 259.7h1.0M146.8 261.0h1.0M154.9 263.7h1.0M156.7 268.4h1.0M155.8 270.1h1.0M154.7 263.4h1.0M155.5 268.6h1.0M155.7 265.4h1.0M147.9 260.1h1.0M146.8 262.9h1.0M150.7 260.0h1.0M150.3 259.9h1.0M148.7 259.6h1.0M156.7 267.9h1.0M146.9 281.4h1.0M143.2 275.7h1.0M145.0 281.0h1.0M147.2 281.6h1.0M151.8 277.9h1.0M144.3 280.0h1.0M142.9 274.9h1.0M189.1 272.3h1.0M147.4 262.0h1.0M143.3 278.3h1.0M191.7 277.1h1.0M146.8 281.8h1.0M155.9 266.5h1.0M156.9 266.3h1.0M157.3 264.6h1.0M154.9 261.8h1.0M147.3 260.9h1.0M154.8 260.5h1.0M147.6 259.5h1.0M146.7 281.4h1.0M155.6 266.6h1.0M146.3 263.7h1.0M156.0 264.1h1.0M149.5 259.8h1.0M187.5 274.5h1.0M143.0 272.3h1.0M192.0 275.0h1.0M187.7 272.6h1.0M191.9 274.9h1.0M194.5 274.2h1.0M187.8 272.6h1.0M192.0 274.7h1.0M188.7 272.7h1.0M190.1 276.2h1.0M194.4 274.9h1.0M190.7 274.0h1.0M191.7 275.7h1.0M192.3 273.7h1.0M152.7 260.8h1.0M155.9 270.9h1.0M149.4 281.1h1.0M191.5 275.2h1.0M153.7 262.2h1.0M157.0 268.5h1.0M142.8 275.4h1.0M156.2 267.6h1.0M147.3 261.2h1.0M147.0 263.1h1.0M154.2 261.8h1.0M143.9 267.9h1.0M155.8 264.5h1.0M144.6 266.2h1.0M156.2 263.2h1.0M150.7 279.9h1.0M188.1 272.9h1.0M191.0 276.0h1.0M190.7 275.5h1.0M142.8 274.3h1.0M148.7 260.3h1.0M193.5 276.0h1.0M189.5 275.2h1.0M155.6 269.2h1.0M189.9 272.5h1.0M192.2 275.9h1.0M193.6 275.5h1.0M144.9 265.0h1.0M143.5 278.5h1.0M189.6 275.2h1.0M152.8 261.7h1.0M187.1 273.5h1.0M189.2 272.7h1.0M191.8 276.6h1.0M144.4 266.6h1.0M188.2 274.0h1.0M190.0 274.9h1.0M189.4 274.1h1.0M189.3 274.6h1.0M143.2 271.2h1.0M147.6 282.3h1.0M142.6 271.9h1.0M142.6 275.2h1.0M156.1 267.6h1.0M156.4 263.7h1.0M154.7 261.9h1.0M145.0 280.8h1.0M154.0 261.8h1.0M188.6 272.6h1.0M188.6 274.4h1.0M155.6 263.2h1.0M189.2 274.7h1.0M192.4 274.0h1.0M192.3 273.6h1.0M156.2 263.3h1.0M148.8 280.5h1.0M156.5 271.2h1.0M157.3 267.8h1.0M192.2 274.7h1.0M191.0 274.3h1.0M191.7 275.3h1.0M192.0 274.5h1.0M188.0 273.1h1.0M187.7 274.7h1.0M145.2 280.3h1.0M156.4 265.2h1.0M154.5 261.1h1.0M156.9 269.0h1.0M156.7 266.0h1.0M154.7 260.5h1.0M154.5 272.0h1.0M155.2 263.3h1.0M155.5 261.0h1.0M156.0 270.3h1.0M156.5 263.1h1.0M157.0 268.0h1.0M155.7 264.5h1.0M155.7 266.0h1.0M155.3 273.0h1.0M157.2 269.8h1.0M144.4 265.4h1.0M193.1 274.4h1.0M192.9 274.5h1.0M193.0 274.9h1.0M186.9 274.3h1.0M189.8 276.2h1.0M152.4 278.6h1.0M156.7 269.4h1.0M192.9 273.6h1.0M192.5 275.7h1.0M191.2 273.1h1.0M157.3 267.8h1.0M155.7 269.1h1.0M156.3 270.6h1.0M156.5 266.0h1.0M147.3 262.7h1.0" stroke="rgb(40, 140, 210)" stroke-width="1.0" stroke-opacity="0.55"/>
<path d="M146.3 264.9h1.0M145.3 266.9h1.0M154.6 268.4h1.0M149.7 262.0h1.0M155.4 265.9h1.0M143.9 269.9h1.0M155.1 266.2h1.0M150.8 261.4h1.0M143.9 278.4h1.0M146.1 281.1h1.0M152.3 262.4h1.0M154.3 263.6h1.0M148.8 260.3h1.0M152.7 275.8h1.0M150.9 278.1h1.0M148.7 262.1h1.0M155.4 268.8h1.0M151.1 260.5h1.0M155.2 270.9h1.0M153.7 263.0h1.0M155.1 264.6h1.0M155.1 269.6h1.0M153.7 262.7h1.0M151.7 261.5h1.0M150.3 260.5h1.0M151.5 262.0h1.0M144.1 270.4h1.0M153.7 274.1h1.0M144.4 269.8h1.0M144.6 268.2h1.0M147.6 280.7h1.0M148.8 260.9h1.0M150.2 260.4h1.0M148.5 261.5h1.0M154.7 271.2h1.0M150.5 261.3h1.0M151.4 261.3h1.0M154.8 270.5h1.0M146.3 280.7h1.0M152.4 261.6h1.0M148.4 261.4h1.0M145.9 265.9h1.0M154.9 267.2h1.0M149.9 260.7h1.0M150.1 260.8h1.0M154.9 265.3h1.0M143.6 268.5h1.0M152.1 277.0h1.0M153.3 275.2h1.0M144.4 268.4h1.0M144.6 279.3h1.0M146.1 280.8h1.0M149.9 260.6h1.0M144.3 272.0h1.0M150.6 261.5h1.0M151.1 261.2h1.0M145.8 264.5h1.0M147.6 262.1h1.0M152.0 277.1h1.0M153.6 270.5h1.0M152.8 276.1h1.0M155.1 269.7h1.0M146.0 266.0h1.0M149.4 261.1h1.0M148.8 261.3h1.0M147.3 281.1h1.0M153.4 276.2h1.0M155.4 265.2h1.0M146.2 265.7h1.0M148.5 261.8h1.0M155.5 266.6h1.0M150.9 260.7h1.0M144.7 268.2h1.0M153.1 275.2h1.0M145.4 279.4h1.0M144.1 278.5h1.0M149.0 280.2h1.0M145.3 279.8h1.0M153.8 265.2h1.0M145.4 266.7h1.0M144.3 270.5h1.0M154.9 268.3h1.0M145.6 265.6h1.0M144.1 269.4h1.0M154.8 265.3h1.0M144.4 268.9h1.0M151.0 260.8h1.0M151.4 261.9h1.0M145.0 280.1h1.0M155.5 269.0h1.0M151.9 261.8h1.0M155.0 265.7h1.0M153.8 273.0h1.0M148.5 261.0h1.0M151.8 262.5h1.0M151.7 261.4h1.0M153.2 262.8h1.0M146.2 264.9h1.0M147.8 281.2h1.0M153.5 263.2h1.0M149.2 260.9h1.0M148.5 279.4h1.0M154.2 274.0h1.0M144.5 279.4h1.0M148.4 280.8h1.0M147.8 280.6h1.0M144.0 270.0h1.0M155.3 265.9h1.0M152.8 274.5h1.0M147.9 261.7h1.0M152.8 275.6h1.0M144.6 279.8h1.0M151.4 277.4h1.0M150.1 262.2h1.0M146.2 281.0h1.0M154.7 270.1h1.0M155.3 270.5h1.0M153.5 270.8h1.0M151.4 260.8h1.0M144.3 277.9h1.0M143.8 268.9h1.0M153.8 273.6h1.0M148.8 261.5h1.0M144.7 267.1h1.0M148.9 280.1h1.0M149.7 260.3h1.0M153.3 262.5h1.0M146.4 266.2h1.0M154.9 264.7h1.0M153.9 272.0h1.0M147.4 264.3h1.0M146.8 264.0h1.0M147.9 280.6h1.0M153.9 273.3h1.0M150.9 260.8h1.0M143.9 277.5h1.0M143.6 270.6h1.0M148.9 279.8h1.0M146.5 280.4h1.0M145.0 267.4h1.0M149.0 260.7h1.0M152.6 275.0h1.0M154.2 272.9h1.0M150.9 279.1h1.0M151.7 261.3h1.0M145.5 266.9h1.0M146.9 281.3h1.0M151.7 276.8h1.0M149.4 261.1h1.0M144.9 267.5h1.0M154.3 264.7h1.0M154.9 269.7h1.0M153.8 264.4h1.0M155.5 267.1h1.0M154.8 269.7h1.0M153.8 273.4h1.0M155.0 264.9h1.0M151.7 262.6h1.0M144.6 267.2h1.0M144.5 267.3h1.0M154.5 263.7h1.0M148.2 263.0h1.0M154.0 273.9h1.0M154.2 271.8h1.0M148.1 280.7h1.0M150.5 277.5h1.0M150.4 261.5h1.0" stroke="rgb(40, 160, 156)" stroke-width="1.0" stroke-opacity="0.55"/>
<path d="M154.2 267.1h1.0M154.0 266.4h1.0M153.3 265.9h1.0M145.3 269.4h1.0M147.3 265.5h1.0M149.3 262.7h1.0M147.7 264.6h1.0M153.1 264.0h1.0M147.1 265.6h1.0M147.1 265.8h1.0M150.1 263.7h1.0M146.2 279.8h1.0M144.5 278.8h1.0M153.6 266.8h1.0M149.4 262.5h1.0M151.7 275.4h1.0M150.7 276.3h1.0M153.4 273.6h1.0M153.4 265.6h1.0M143.6 275.7h1.0M149.4 263.1h1.0M144.1 276.3h1.0M143.7 274.9h1.0M149.0 263.0h1.0M147.3 265.7h1.0M147.9 279.5h1.0M144.0 277.2h1.0M147.0 264.5h1.0M154.1 269.1h1.0M147.6 263.7h1.0M143.9 272.8h1.0M144.6 269.1h1.0M147.7 264.3h1.0M144.6 278.0h1.0M153.7 266.0h1.0M150.8 276.5h1.0M146.6 264.4h1.0M151.9 263.5h1.0M154.4 270.2h1.0M153.0 265.1h1.0M146.2 279.4h1.0M150.3 263.9h1.0M154.3 266.0h1.0M153.3 265.7h1.0M152.7 265.7h1.0M147.9 280.0h1.0M148.4 264.4h1.0M152.7 271.3h1.0M148.9 278.9h1.0M153.5 271.6h1.0M145.3 269.8h1.0M151.6 263.4h1.0M150.8 264.0h1.0M147.1 279.5h1.0M146.9 280.2h1.0M153.1 271.3h1.0M152.6 263.4h1.0M147.5 279.3h1.0M146.0 279.9h1.0M144.8 269.9h1.0M144.6 279.1h1.0M143.7 277.2h1.0M151.3 276.5h1.0M152.8 264.5h1.0M148.0 279.5h1.0M145.3 268.3h1.0M154.3 268.0h1.0M154.1 268.3h1.0M150.2 279.1h1.0M148.8 262.6h1.0M154.3 266.9h1.0M154.2 265.4h1.0M146.1 266.5h1.0M148.3 263.9h1.0M150.6 277.2h1.0M143.9 273.6h1.0M150.1 263.3h1.0M145.3 277.6h1.0M151.6 275.9h1.0M148.0 279.7h1.0M152.8 265.9h1.0M153.3 264.7h1.0M151.3 277.0h1.0M143.8 273.5h1.0M151.9 275.8h1.0M149.1 278.4h1.0M150.2 264.1h1.0M144.9 269.1h1.0M146.0 266.6h1.0M144.7 278.9h1.0M144.6 269.5h1.0M144.9 279.3h1.0M146.7 265.2h1.0M149.3 278.4h1.0M144.0 273.7h1.0M148.4 263.7h1.0M149.1 264.0h1.0M152.5 264.2h1.0M143.6 275.9h1.0M154.0 268.0h1.0M153.0 265.0h1.0M150.9 263.8h1.0M145.0 268.7h1.0M144.1 276.1h1.0M143.7 276.8h1.0M146.4 266.4h1.0M153.2 264.9h1.0M144.9 268.6h1.0M145.0 270.2h1.0M153.7 266.2h1.0M144.7 278.9h1.0M153.3 264.1h1.0M150.7 277.1h1.0M148.1 279.8h1.0M145.1 278.3h1.0M145.2 278.6h1.0M153.2 265.9h1.0M148.7 263.6h1.0M144.1 274.7h1.0M146.9 265.4h1.0M145.6 280.3h1.0M145.6 267.1h1.0M151.3 276.6h1.0M148.7 263.7h1.0M147.1 280.2h1.0M144.0 272.7h1.0M146.7 279.4h1.0M143.7 277.0h1.0M153.5 268.3h1.0M154.1 269.5h1.0M153.8 265.9h1.0M152.9 272.2h1.0M153.8 268.6h1.0M153.0 264.7h1.0M146.8 265.0h1.0M153.1 271.4h1.0M147.0 264.5h1.0M153.2 265.6h1.0M147.5 279.5h1.0M152.8 273.5h1.0M152.8 272.5h1.0M144.1 273.1h1.0M149.1 278.9h1.0M153.5 263.3h1.0M143.6 275.0h1.0M152.6 273.1h1.0M150.5 262.8h1.0M149.8 263.8h1.0M148.5 264.7h1.0M143.7 275.5h1.0M149.2 262.4h1.0M144.7 279.1h1.0M150.5 263.8h1.0M144.3 273.6h1.0M149.3 279.2h1.0M152.6 273.8h1.0M145.1 279.2h1.0M149.1 279.2h1.0M151.4 263.2h1.0M150.0 263.6h1.0M144.0 274.5h1.0M152.7 273.9h1.0M148.0 263.8h1.0M148.0 264.5h1.0M153.5 265.5h1.0M149.9 263.9h1.0M153.6 269.7h1.0M147.6 263.8h1.0M146.8 279.4h1.0M151.6 275.8h1.0M145.5 277.7h1.0M151.7 263.9h1.0M143.6 273.1h1.0M150.7 276.9h1.0M146.1 279.8h1.0M148.7 278.7h1.0M153.1 266.1h1.0M153.4 273.2h1.0M153.6 267.9h1.0M153.2 265.0h1.0M145.8 266.5h1.0M149.1 262.7h1.0M152.9 263.7h1.0M150.4 263.6h1.0M147.9 264.9h1.0M149.4 264.0h1.0M147.5 266.1h1.0M152.9 265.9h1.0M147.5 279.6h1.0M146.4 280.0h1.0M151.1 263.0h1.0M153.3 265.8h1.0M153.5 264.3h1.0M144.3 274.5h1.0" stroke="rgb(56, 175, 106)" stroke-width="1.0" stroke-opacity="0.55"/>
<path d="M152.5 273.7h1.0M144.7 270.7h1.0M148.5 278.1h1.0M152.9 269.4h1.0M150.6 264.6h1.0M146.5 278.7h1.0M145.6 269.1h1.0M145.9 277.9h1.0M152.4 274.3h1.0M151.3 265.6h1.0M145.0 274.4h1.0M151.0 266.1h1.0M152.6 270.5h1.0M149.4 265.3h1.0M145.8 267.9h1.0M152.5 273.8h1.0M153.0 270.2h1.0M146.1 279.0h1.0M147.6 278.4h1.0M151.6 274.1h1.0M151.1 264.9h1.0M145.8 267.6h1.0M152.4 274.4h1.0M152.3 266.3h1.0M145.3 274.8h1.0M147.0 278.4h1.0M153.1 267.7h1.0M150.5 265.2h1.0M146.7 267.2h1.0M144.6 272.2h1.0M152.6 269.6h1.0M152.8 269.0h1.0M151.3 265.2h1.0M152.2 265.0h1.0M145.2 271.1h1.0M152.6 268.3h1.0M144.9 273.7h1.0M147.9 278.3h1.0M145.9 279.3h1.0M145.7 278.2h1.0M147.3 267.3h1.0M148.5 264.4h1.0M151.9 266.0h1.0M151.8 267.1h1.0M145.7 278.9h1.0M144.6 273.7h1.0M149.2 265.1h1.0M153.2 268.1h1.0M149.0 264.8h1.0M149.7 264.9h1.0M145.1 275.5h1.0M152.5 267.9h1.0M144.9 270.3h1.0M148.9 277.6h1.0M147.3 279.2h1.0M145.3 276.7h1.0M153.4 267.3h1.0M145.4 272.3h1.0M145.2 276.7h1.0M144.8 275.1h1.0M153.3 266.5h1.0M149.3 277.8h1.0M144.6 275.4h1.0M150.5 266.2h1.0M145.1 270.5h1.0M146.0 269.2h1.0M151.1 276.0h1.0M150.8 275.5h1.0M152.3 264.6h1.0M145.4 272.6h1.0M150.5 266.2h1.0M144.8 273.6h1.0M151.8 266.2h1.0M145.9 277.6h1.0M151.8 275.3h1.0M152.4 267.2h1.0M144.8 276.6h1.0M146.2 277.7h1.0M145.2 270.8h1.0M152.5 268.9h1.0M148.5 277.9h1.0M152.9 269.6h1.0M147.9 265.6h1.0M145.8 277.6h1.0M149.7 277.2h1.0M150.3 277.9h1.0M149.3 264.8h1.0M146.1 268.6h1.0M146.2 267.4h1.0M151.6 273.3h1.0M150.6 276.0h1.0M150.8 275.4h1.0M144.5 275.7h1.0M149.5 277.7h1.0M144.5 277.1h1.0M144.6 272.2h1.0M145.3 273.2h1.0M148.2 265.4h1.0M152.5 275.1h1.0M151.8 265.1h1.0M151.8 273.9h1.0M152.2 266.0h1.0M148.2 265.6h1.0M144.6 273.6h1.0M146.9 267.1h1.0M152.4 266.2h1.0M150.9 265.4h1.0M153.5 271.0h1.0M152.6 267.5h1.0M153.3 270.3h1.0M145.9 279.2h1.0M144.6 270.7h1.0M145.0 276.4h1.0M146.1 278.1h1.0M144.8 271.7h1.0M150.1 264.6h1.0M145.5 276.1h1.0M148.7 277.7h1.0M151.1 265.3h1.0M144.9 271.2h1.0M152.8 267.2h1.0M146.8 278.6h1.0M149.8 277.8h1.0M146.3 268.0h1.0M145.5 278.5h1.0M146.2 278.6h1.0M148.5 277.7h1.0M149.4 277.5h1.0M150.3 276.5h1.0M145.6 278.2h1.0M148.1 278.5h1.0M144.5 272.4h1.0M147.4 266.9h1.0M152.5 268.3h1.0M149.2 265.2h1.0M144.6 273.7h1.0M152.4 273.9h1.0M148.1 278.5h1.0M148.2 265.9h1.0M150.3 278.2h1.0M146.3 268.6h1.0M151.7 274.2h1.0M144.7 270.7h1.0M153.3 267.9h1.0M145.2 271.6h1.0M147.7 279.0h1.0M145.3 273.5h1.0M152.8 268.5h1.0M146.7 278.8h1.0M144.6 272.9h1.0M148.5 265.7h1.0M146.0 268.8h1.0M151.7 275.2h1.0M146.0 269.0h1.0M145.3 270.8h1.0M150.4 277.1h1.0M151.8 274.6h1.0M149.4 277.6h1.0M151.2 265.1h1.0M152.9 270.8h1.0M148.9 264.6h1.0M150.0 265.2h1.0M145.0 272.3h1.0M144.7 277.0h1.0M149.3 265.2h1.0M151.7 273.6h1.0M144.9 276.6h1.0M146.6 278.4h1.0M151.8 274.4h1.0M144.5 275.7h1.0M144.6 276.8h1.0M151.7 273.5h1.0M151.5 264.5h1.0M149.9 276.3h1.0M152.1 264.9h1.0M152.8 271.0h1.0M145.5 273.2h1.0M152.8 267.0h1.0M145.4 275.2h1.0M150.8 264.8h1.0M147.7 279.2h1.0M146.5 268.9h1.0M147.9 265.9h1.0M149.6 276.4h1.0M150.0 265.2h1.0M151.1 266.3h1.0M152.2 265.2h1.0M149.8 265.0h1.0M151.6 264.4h1.0M148.0 265.7h1.0M149.2 278.0h1.0M146.8 266.8h1.0M149.2 264.3h1.0M151.8 265.5h1.0M153.5 268.4h1.0M153.1 269.6h1.0M151.1 265.8h1.0M152.4 265.6h1.0" stroke="rgb(90, 185, 60)" stroke-width="1.0" stroke-opacity="0.55"/>
<path d="M152.4 271.0h1.0M147.8 267.5h1.0M152.4 269.2h1.0M151.7 268.9h1.0M145.9 269.8h1.0M151.9 269.0h1.0M145.6 272.1h1.0M148.7 267.3h1.0M150.6 267.2h1.0M151.9 273.1h1.0M151.0 268.0h1.0M151.5 268.1h1.0M152.1 270.5h1.0M147.4 268.5h1.0M146.2 276.8h1.0M148.8 266.1h1.0M152.2 269.8h1.0M151.9 267.5h1.0M147.7 267.2h1.0M147.1 277.5h1.0M146.8 278.0h1.0M150.3 267.1h1.0M150.3 267.2h1.0M152.3 270.5h1.0M152.4 268.3h1.0M150.8 266.6h1.0M149.8 265.5h1.0M147.1 267.9h1.0M152.0 267.3h1.0M150.5 274.5h1.0M148.0 278.0h1.0M145.6 270.0h1.0M148.6 267.0h1.0M150.5 276.0h1.0M147.8 277.6h1.0M149.9 265.3h1.0M146.4 269.4h1.0M148.0 268.2h1.0M150.9 267.6h1.0M150.4 267.2h1.0M145.5 276.8h1.0M152.2 270.4h1.0M149.0 265.6h1.0M151.5 275.2h1.0M150.1 266.7h1.0M150.9 268.0h1.0M152.1 272.0h1.0M147.9 277.9h1.0M145.8 271.0h1.0M148.5 267.2h1.0M148.1 277.6h1.0M147.6 267.9h1.0M146.5 272.2h1.0M151.8 268.1h1.0M148.6 277.0h1.0M146.1 275.8h1.0M147.0 278.0h1.0M151.6 272.3h1.0M151.0 267.2h1.0M148.0 277.9h1.0M149.5 266.3h1.0M152.1 270.2h1.0M149.3 265.4h1.0M147.8 278.0h1.0M150.0 275.4h1.0M145.8 272.0h1.0M146.5 271.3h1.0M151.0 274.9h1.0M151.7 272.0h1.0M145.7 269.7h1.0M148.9 266.7h1.0M146.7 277.3h1.0M149.5 266.7h1.0M152.1 269.8h1.0M149.1 276.7h1.0M146.0 271.2h1.0M146.1 275.7h1.0M152.0 272.8h1.0M150.9 267.9h1.0M146.5 275.4h1.0M151.9 267.9h1.0M150.6 274.9h1.0M149.4 277.2h1.0M148.4 277.4h1.0M151.8 272.5h1.0M151.9 269.6h1.0M145.8 277.2h1.0M146.3 270.7h1.0M149.0 267.1h1.0M150.6 267.2h1.0M149.2 276.3h1.0M148.8 265.4h1.0M149.2 266.6h1.0M146.5 267.8h1.0M146.7 267.9h1.0M149.6 276.0h1.0M148.6 267.1h1.0M151.0 274.7h1.0M147.3 268.4h1.0M149.6 275.9h1.0M148.8 266.2h1.0M149.6 266.3h1.0M148.2 277.6h1.0M150.7 267.9h1.0M151.6 268.3h1.0M147.5 268.8h1.0M151.8 270.3h1.0M149.3 265.7h1.0M151.5 266.4h1.0M151.9 269.9h1.0M148.1 277.5h1.0M149.6 267.1h1.0M148.6 276.7h1.0M145.8 271.5h1.0M149.2 277.3h1.0M147.6 268.0h1.0M151.9 268.5h1.0M151.2 266.8h1.0M148.3 267.6h1.0M149.6 275.4h1.0M151.7 273.1h1.0M146.0 271.2h1.0M148.0 277.8h1.0M151.7 273.3h1.0M145.9 275.7h1.0M149.7 266.5h1.0M147.4 269.1h1.0M152.0 270.9h1.0M147.1 267.9h1.0M152.0 270.7h1.0M152.1 272.6h1.0M148.6 277.2h1.0M149.3 266.4h1.0M145.9 270.9h1.0M149.7 266.4h1.0M145.6 271.9h1.0M149.4 276.7h1.0M148.1 277.6h1.0M145.6 277.2h1.0M149.8 265.9h1.0M152.4 271.5h1.0M147.8 277.5h1.0M147.9 278.3h1.0M151.5 274.5h1.0M149.8 267.0h1.0M149.3 265.8h1.0M148.1 278.0h1.0M147.5 269.0h1.0M149.1 276.5h1.0M149.7 275.8h1.0M152.4 267.8h1.0M146.3 276.8h1.0M148.1 277.5h1.0M152.2 268.9h1.0M149.3 266.7h1.0M145.6 276.8h1.0M149.0 267.0h1.0M146.8 278.1h1.0M151.3 266.3h1.0M146.0 272.0h1.0M152.2 272.7h1.0M146.4 276.2h1.0M148.1 277.3h1.0M146.0 276.8h1.0M149.7 276.2h1.0M150.1 275.5h1.0M148.7 266.4h1.0M146.8 268.6h1.0M150.4 267.0h1.0M149.8 265.9h1.0M147.0 277.8h1.0M146.9 277.4h1.0M149.3 266.1h1.0M150.4 275.5h1.0M149.7 265.5h1.0M151.6 268.8h1.0M150.1 267.3h1.0M146.6 267.7h1.0M150.6 274.4h1.0M146.4 270.6h1.0M148.1 267.3h1.0M150.4 266.3h1.0M146.4 276.8h1.0M150.5 274.9h1.0M151.4 267.6h1.0M146.2 271.0h1.0M145.6 275.6h1.0M146.4 276.0h1.0M152.5 271.2h1.0M145.6 276.7h1.0M147.4 267.8h1.0M152.2 268.4h1.0M147.1 277.6h1.0M146.0 270.1h1.0M147.7 266.8h1.0M148.3 277.8h1.0M149.7 266.2h1.0M152.4 269.1h1.0M146.4 271.8h1.0M148.8 265.6h1.0M146.8 269.2h1.0M149.5 266.3h1.0M151.6 268.1h1.0M150.1 266.0h1.0M146.5 268.3h1.0M150.9 268.2h1.0M151.5 268.4h1.0M152.2 270.7h1.0M152.1 268.4h1.0M147.6 268.2h1.0" stroke="rgb(179, 211, 46)" stroke-width="1.0" stroke-opacity="0.55"/>
<path d="M151.4 271.9h1.0M150.6 274.2h1.0M146.8 277.0h1.0M148.6 269.1h1.0M148.6 268.7h1.0M149.9 274.3h1.0M147.0 275.6h1.0M146.9 270.2h1.0M147.1 270.6h1.0M151.1 271.7h1.0M146.0 274.3h1.0M147.3 276.1h1.0M146.3 273.2h1.0M147.3 269.4h1.0M151.1 269.9h1.0M147.2 269.8h1.0M146.9 276.8h1.0M149.0 267.6h1.0M151.4 269.2h1.0M149.4 268.0h1.0M148.1 277.0h1.0M151.0 272.4h1.0M147.5 270.6h1.0M150.6 273.4h1.0M146.7 270.5h1.0M146.1 274.0h1.0M147.0 270.9h1.0M146.7 276.9h1.0M147.4 276.4h1.0M151.3 272.5h1.0M148.0 276.7h1.0M150.8 272.1h1.0M150.0 274.6h1.0M148.8 269.1h1.0M146.8 275.8h1.0M149.9 269.0h1.0M145.8 272.9h1.0M150.7 269.1h1.0M150.9 269.3h1.0M145.9 274.6h1.0M148.6 267.7h1.0M151.2 271.1h1.0M146.7 270.6h1.0M147.1 270.2h1.0M150.2 268.0h1.0M150.6 272.4h1.0M150.7 270.8h1.0M146.6 269.4h1.0M150.8 270.3h1.0M151.4 269.3h1.0M148.3 275.4h1.0M145.9 272.4h1.0M151.5 271.9h1.0M149.0 269.0h1.0M149.6 274.5h1.0M148.9 276.2h1.0M150.3 268.1h1.0M151.1 271.9h1.0M147.8 276.3h1.0M146.6 276.2h1.0M149.7 274.9h1.0M150.8 272.0h1.0M146.6 269.7h1.0M149.9 268.1h1.0M147.1 270.1h1.0M151.3 271.2h1.0M149.3 275.9h1.0M150.7 271.2h1.0M150.8 274.2h1.0M150.7 270.1h1.0M149.2 269.3h1.0M148.5 268.4h1.0M151.3 271.9h1.0M150.1 275.1h1.0M150.7 272.6h1.0M150.7 272.8h1.0M149.7 274.7h1.0M148.4 277.2h1.0M147.4 275.4h1.0M150.4 268.0h1.0M151.0 268.8h1.0M149.0 268.9h1.0M147.0 270.6h1.0M146.4 274.2h1.0M149.8 267.9h1.0M151.4 272.8h1.0M150.7 269.9h1.0M147.0 269.9h1.0M149.1 268.5h1.0M148.8 268.6h1.0M148.6 268.8h1.0M146.0 274.3h1.0M147.4 277.0h1.0M149.7 269.0h1.0M148.9 276.0h1.0M146.7 275.5h1.0M148.8 268.8h1.0M150.4 274.9h1.0M150.6 272.7h1.0M150.7 271.4h1.0M150.5 268.8h1.0M146.8 269.6h1.0M149.1 275.4h1.0M147.2 269.7h1.0M148.5 268.0h1.0M147.3 276.6h1.0M147.4 270.0h1.0M147.8 277.1h1.0M150.5 273.9h1.0M149.5 275.1h1.0M148.8 268.0h1.0M146.7 276.1h1.0M148.4 268.7h1.0M149.9 267.6h1.0M149.0 269.2h1.0M151.2 269.8h1.0M146.9 275.8h1.0M150.3 274.6h1.0M149.5 268.1h1.0M150.1 268.3h1.0M148.1 269.3h1.0M151.5 268.6h1.0M151.1 272.1h1.0M150.6 271.2h1.0M146.7 270.2h1.0M146.7 276.3h1.0M147.9 275.4h1.0M149.2 268.1h1.0M146.5 274.8h1.0M149.5 274.5h1.0M146.7 275.8h1.0M149.4 269.2h1.0M148.3 276.3h1.0M149.4 276.2h1.0M147.0 269.6h1.0M149.7 269.1h1.0M147.8 268.5h1.0M150.8 269.9h1.0M150.3 274.9h1.0M148.3 275.8h1.0M146.0 273.6h1.0M146.4 274.3h1.0M146.6 275.6h1.0M150.9 270.5h1.0M150.5 274.8h1.0M145.7 273.3h1.0M147.3 270.3h1.0M150.3 268.2h1.0M147.8 275.3h1.0M149.8 274.8h1.0M150.6 272.1h1.0M145.6 273.1h1.0M150.8 268.7h1.0M146.7 276.0h1.0M151.0 269.6h1.0M151.0 272.5h1.0M147.1 276.0h1.0M149.8 269.0h1.0M147.1 271.3h1.0M149.3 269.2h1.0M147.3 270.6h1.0M145.6 274.1h1.0M150.8 271.3h1.0M148.4 275.9h1.0M145.7 272.6h1.0M146.8 269.9h1.0M150.6 274.2h1.0M150.8 268.4h1.0M150.9 270.8h1.0M149.6 269.0h1.0M146.5 276.4h1.0M150.8 268.5h1.0M146.2 272.5h1.0M150.5 270.9h1.0M149.3 275.5h1.0M148.2 275.9h1.0M147.2 270.1h1.0M146.2 272.4h1.0M146.6 276.2h1.0M147.0 276.8h1.0M146.7 269.9h1.0M148.3 277.2h1.0M147.5 276.7h1.0M146.1 273.6h1.0M151.1 272.7h1.0M151.4 269.9h1.0M148.2 269.0h1.0M148.9 275.4h1.0M149.9 268.3h1.0M150.6 270.0h1.0M147.2 276.8h1.0M148.3 268.6h1.0M147.7 276.5h1.0M145.5 274.1h1.0M150.4 268.4h1.0M146.0 273.1h1.0M150.8 271.9h1.0M151.2 269.7h1.0M147.1 270.0h1.0M149.1 275.6h1.0M147.0 271.0h1.0M150.8 268.8h1.0M150.9 272.1h1.0M147.7 276.0h1.0M151.1 268.7h1.0M148.2 269.2h1.0M148.5 268.6h1.0M151.0 272.9h1.0M145.9 273.5h1.0M149.9 268.6h1.0M146.0 275.2h1.0M149.0 275.4h1.0M151.1 268.3h1.0" stroke="rgb(232, 196, 36)" stroke-width="1.0" stroke-opacity="0.55"/>
<path d="M146.6 271.9h1.0M147.9 273.1h1.0M148.1 272.0h1.0M149.6 271.6h1.0M148.0 273.4h1.0M148.9 269.6h1.0M147.2 272.5h1.0M149.7 272.7h1.0M148.6 273.9h1.0M148.4 274.5h1.0M150.5 270.2h1.0M148.0 274.2h1.0M148.3 271.6h1.0M147.7 274.4h1.0M147.0 272.7h1.0M149.9 273.2h1.0M149.8 270.9h1.0M147.7 269.8h1.0M149.9 270.7h1.0M149.6 270.3h1.0M149.8 272.7h1.0M150.5 270.9h1.0M147.1 274.7h1.0M150.5 273.7h1.0M146.6 272.3h1.0M148.8 273.4h1.0M149.2 274.7h1.0M148.9 271.3h1.0M150.3 272.9h1.0M146.5 274.8h1.0M150.2 271.6h1.0M149.1 274.5h1.0M149.2 269.9h1.0M149.7 271.6h1.0M148.5 273.8h1.0M148.4 271.7h1.0M148.4 274.0h1.0M147.1 274.8h1.0M148.7 273.4h1.0M147.4 274.8h1.0M147.0 273.3h1.0M149.9 270.9h1.0M148.7 270.3h1.0M150.1 272.6h1.0M149.5 269.3h1.0M147.3 274.2h1.0M149.5 275.3h1.0M146.8 272.0h1.0M148.3 273.8h1.0M148.1 274.7h1.0M150.4 269.6h1.0M149.9 270.7h1.0M147.8 273.5h1.0M148.0 270.6h1.0M148.9 271.6h1.0M146.9 274.6h1.0M148.3 270.4h1.0M149.5 272.6h1.0M147.2 273.0h1.0M146.6 273.4h1.0M147.4 273.6h1.0M148.5 270.1h1.0M147.1 274.5h1.0M148.5 270.3h1.0M148.0 274.7h1.0M148.5 270.3h1.0M146.8 272.4h1.0M147.9 272.6h1.0M148.9 275.1h1.0M148.2 269.8h1.0M146.8 274.8h1.0M148.3 274.8h1.0M148.1 272.4h1.0M148.3 275.3h1.0M148.4 273.5h1.0M147.1 274.5h1.0M148.8 271.9h1.0M148.7 273.9h1.0M147.0 272.5h1.0M148.3 271.8h1.0M146.8 273.9h1.0M147.5 274.0h1.0M147.0 272.7h1.0M147.8 270.5h1.0M149.7 272.9h1.0M148.8 270.9h1.0M150.5 272.8h1.0M149.9 273.2h1.0M148.3 269.3h1.0M148.1 271.8h1.0M148.2 272.4h1.0M146.6 275.3h1.0M148.7 271.9h1.0M148.8 273.6h1.0M147.7 274.8h1.0M148.7 270.3h1.0M147.9 271.5h1.0M147.9 273.5h1.0M150.5 270.2h1.0M150.4 270.5h1.0M147.5 274.9h1.0M150.4 273.3h1.0M150.2 271.7h1.0M147.7 270.5h1.0M149.0 274.4h1.0M149.5 274.7h1.0M148.3 272.7h1.0M147.2 274.8h1.0M147.5 274.6h1.0M149.6 272.2h1.0M148.2 275.1h1.0M149.8 272.1h1.0M149.2 273.6h1.0M147.7 273.9h1.0M147.4 273.0h1.0M148.0 273.4h1.0M148.2 269.8h1.0M146.8 273.0h1.0M147.8 273.6h1.0M150.0 271.0h1.0M150.2 274.2h1.0M147.6 271.3h1.0M148.7 275.3h1.0M148.2 270.8h1.0M147.9 269.3h1.0M147.4 271.4h1.0M148.7 272.3h1.0M149.1 269.4h1.0M148.1 270.5h1.0M149.9 270.2h1.0M148.7 274.6h1.0M146.8 273.4h1.0M149.6 272.8h1.0M148.3 274.6h1.0M147.9 273.6h1.0M146.8 275.1h1.0M148.0 269.5h1.0M148.8 273.7h1.0M148.1 269.8h1.0M148.9 274.7h1.0M148.0 270.1h1.0M148.5 275.1h1.0M147.4 274.6h1.0M146.7 273.6h1.0M149.4 270.3h1.0M148.9 273.4h1.0M147.6 272.6h1.0M150.2 270.4h1.0M150.2 269.9h1.0M147.8 274.3h1.0M147.3 273.8h1.0M147.9 273.4h1.0M146.6 272.8h1.0M148.0 274.2h1.0M149.3 269.5h1.0M150.2 269.5h1.0M149.0 271.7h1.0M149.7 271.0h1.0M148.8 272.2h1.0M147.9 272.1h1.0M147.1 274.3h1.0M146.7 273.3h1.0M146.8 272.8h1.0M146.5 274.1h1.0M149.4 271.1h1.0M147.5 270.4h1.0M149.8 273.6h1.0M146.6 272.5h1.0M148.9 274.2h1.0M149.9 273.5h1.0M147.1 273.3h1.0M149.7 273.9h1.0M150.1 271.4h1.0M147.6 271.1h1.0M150.0 274.2h1.0M150.0 273.3h1.0M148.7 273.4h1.0M149.6 270.9h1.0M149.4 269.3h1.0M150.1 271.4h1.0M148.2 270.6h1.0M147.5 273.7h1.0M147.0 271.7h1.0M148.6 271.2h1.0M149.7 271.3h1.0M149.1 271.6h1.0M150.1 272.1h1.0M148.9 269.4h1.0M148.0 270.5h1.0M148.2 274.8h1.0M148.9 274.1h1.0M148.6 273.3h1.0M149.9 271.5h1.0M150.0 270.8h1.0M148.3 270.2h1.0M148.8 271.3h1.0M148.1 274.7h1.0M149.2 272.0h1.0M148.2 270.0h1.0M146.5 272.0h1.0M147.2 274.3h1.0M149.5 272.0h1.0M148.3 270.7h1.0M149.2 271.7h1.0M149.3 270.4h1.0M148.2 273.0h1.0M148.4 271.6h1.0M150.4 273.6h1.0M149.3 270.7h1.0M148.2 273.6h1.0M148.5 270.5h1.0M149.3 269.9h1.0M148.4 270.5h1.0M149.8 272.6h1.0M149.0 271.7h1.0M146.6 272.7h1.0M148.7 273.8h1.0M148.6 274.5h1.0M149.9 272.1h1.0M147.7 273.7h1.0M146.8 271.4h1.0M150.4 272.7h1.0M147.6 270.3h1.0M149.3 270.3h1.0M149.1 272.1h1.0M148.7 273.5h1.0M148.1 272.3h1.0M148.5 273.4h1.0M146.5 272.9h1.0M150.4 272.3h1.0M148.6 272.2h1.0M150.4 271.3h1.0" stroke="rgb(241, 133, 30)" stroke-width="1.0" stroke-opacity="0.55"/>
<path d="M148.6 272.8h1.0M148.9 272.6h1.0M149.0 273.1h1.0M149.0 273.0h1.0M149.0 272.7h1.0M148.6 273.1h1.0M149.0 272.9h1.0M149.1 272.3h1.0M148.9 272.8h1.0M148.5 272.4h1.0M149.3 272.6h1.0M148.8 273.1h1.0M148.7 272.5h1.0M148.8 272.9h1.0" stroke="rgb(225, 50, 30)" stroke-width="1.0" stroke-opacity="0.55"/>
<rect x="126.50" y="207.30" width="88.90" height="88.90" fill="none" stroke="#333" stroke-width="1.2"/>
<line x1="124.50" y1="214.41" x2="126.50" y2="214.41" stroke="#555" stroke-width="0.6"/>
<line x1="124.50" y1="221.52" x2="126.50" y2="221.52" stroke="#555" stroke-width="0.6"/>
<line x1="124.50" y1="234.86" x2="126.50" y2="234.86" stroke="#555" stroke-width="0.6"/>
<line x1="124.50" y1="241.97" x2="126.50" y2="241.97" stroke="#555" stroke-width="0.6"/>
<line x1="124.50" y1="256.19" x2="126.50" y2="256.19" stroke="#555" stroke-width="0.6"/>
<line x1="124.50" y1="262.42" x2="126.50" y2="262.42" stroke="#555" stroke-width="0.6"/>
<line x1="124.50" y1="270.42" x2="126.50" y2="270.42" stroke="#555" stroke-width="0.6"/>
<line x1="124.50" y1="277.53" x2="126.50" y2="277.53" stroke="#555" stroke-width="0.6"/>
<line x1="124.50" y1="283.75" x2="126.50" y2="283.75" stroke="#555" stroke-width="0.6"/>
<line x1="124.50" y1="290.87" x2="126.50" y2="290.87" stroke="#555" stroke-width="0.6"/>
<line x1="130.94" y1="296.20" x2="130.94" y2="298.20" stroke="#555" stroke-width="0.6"/>
<line x1="139.84" y1="296.20" x2="139.84" y2="298.20" stroke="#555" stroke-width="0.6"/>
<line x1="146.06" y1="296.20" x2="146.06" y2="298.20" stroke="#555" stroke-width="0.6"/>
<line x1="151.39" y1="296.20" x2="151.39" y2="298.20" stroke="#555" stroke-width="0.6"/>
<line x1="156.73" y1="296.20" x2="156.73" y2="298.20" stroke="#555" stroke-width="0.6"/>
<line x1="162.06" y1="296.20" x2="162.06" y2="298.20" stroke="#555" stroke-width="0.6"/>
<line x1="170.95" y1="296.20" x2="170.95" y2="298.20" stroke="#555" stroke-width="0.6"/>
<line x1="179.84" y1="296.20" x2="179.84" y2="298.20" stroke="#555" stroke-width="0.6"/>
<line x1="188.73" y1="296.20" x2="188.73" y2="298.20" stroke="#555" stroke-width="0.6"/>
<line x1="197.62" y1="296.20" x2="197.62" y2="298.20" stroke="#555" stroke-width="0.6"/>
<line x1="206.51" y1="296.20" x2="206.51" y2="298.20" stroke="#555" stroke-width="0.6"/>
<line x1="211.84" y1="296.20" x2="211.84" y2="298.20" stroke="#555" stroke-width="0.6"/>
<rect x="135.80" y="223.50" width="25.80" height="31.80" fill="none" stroke="#222" stroke-width="1.2"/>
<ellipse cx="146.6" cy="297.6" rx="2" ry="0.9" fill="#222"/>
<rect x="175.50" y="262.70" width="31.40" height="23.10" fill="none" stroke="#222" stroke-width="1.2"/>
<text x="150.40" y="222.10" font-size="10.5" text-anchor="middle" fill="#222" stroke="#222" stroke-width="0.1" textLength="14.7" lengthAdjust="spacingAndGlyphs">8%</text>
<text x="193.10" y="261.40" font-size="10.5" text-anchor="middle" fill="#222" stroke="#222" stroke-width="0.1" textLength="14.6" lengthAdjust="spacingAndGlyphs">7%</text>
<text x="121.80" y="252.50" font-size="10" text-anchor="middle" fill="#222" stroke="#222" stroke-width="0.1" textLength="17" lengthAdjust="spacingAndGlyphs" transform="rotate(-90 121.80 252.50)">CD3</text>
<text x="171.00" y="311.20" font-size="10" text-anchor="middle" fill="#222" stroke="#222" stroke-width="0.1" textLength="21" lengthAdjust="spacingAndGlyphs">B220</text>
<line x1="261.80" y1="205.50" x2="261.80" y2="300.50" stroke="#151515" stroke-width="1.45"/>
<line x1="261.20" y1="299.90" x2="319.50" y2="299.90" stroke="#151515" stroke-width="1.45"/>
<line x1="258.80" y1="299.90" x2="261.80" y2="299.90" stroke="#151515" stroke-width="1"/>
<text x="256.00" y="302.90" font-size="8.4" text-anchor="end" fill="#222" stroke="#222" stroke-width="0.1">0</text>
<line x1="258.80" y1="276.62" x2="261.80" y2="276.62" stroke="#151515" stroke-width="1"/>
<text x="256.00" y="279.62" font-size="8.4" text-anchor="end" fill="#222" stroke="#222" stroke-width="0.1">25</text>
<line x1="258.80" y1="253.35" x2="261.80" y2="253.35" stroke="#151515" stroke-width="1"/>
<text x="256.00" y="256.35" font-size="8.4" text-anchor="end" fill="#222" stroke="#222" stroke-width="0.1">50</text>
<line x1="258.80" y1="230.07" x2="261.80" y2="230.07" stroke="#151515" stroke-width="1"/>
<text x="256.00" y="233.07" font-size="8.4" text-anchor="end" fill="#222" stroke="#222" stroke-width="0.1">75</text>
<line x1="258.80" y1="206.80" x2="261.80" y2="206.80" stroke="#151515" stroke-width="1"/>
<text x="256.00" y="209.80" font-size="8.4" text-anchor="end" fill="#222" stroke="#222" stroke-width="0.1">100</text>
<text x="234.80" y="252.30" font-size="10" text-anchor="middle" fill="#222" stroke="#222" stroke-width="0.1" textLength="33" lengthAdjust="spacingAndGlyphs" transform="rotate(-90 234.80 252.30)">% in PB</text>
<rect x="269.00" y="275.69" width="16.60" height="24.21" fill="#a03442"/>
<rect x="269.00" y="238.45" width="16.60" height="37.24" fill="#4a6490"/>
<rect x="269.00" y="220.76" width="16.60" height="17.69" fill="#6ea65a"/>
<line x1="277.30" y1="275.69" x2="277.30" y2="270.57" stroke="#222" stroke-width="1"/>
<line x1="274.80" y1="270.57" x2="279.80" y2="270.57" stroke="#222" stroke-width="1"/>
<line x1="277.30" y1="238.45" x2="277.30" y2="234.73" stroke="#222" stroke-width="1"/>
<line x1="274.80" y1="234.73" x2="279.80" y2="234.73" stroke="#222" stroke-width="1"/>
<line x1="277.30" y1="220.76" x2="277.30" y2="214.25" stroke="#222" stroke-width="1"/>
<line x1="274.80" y1="214.25" x2="279.80" y2="214.25" stroke="#222" stroke-width="1"/>
<rect x="300.20" y="230.07" width="16.60" height="69.82" fill="#a03442"/>
<rect x="300.20" y="221.70" width="16.60" height="8.38" fill="#4a6490"/>
<rect x="300.20" y="215.18" width="16.60" height="6.52" fill="#6ea65a"/>
<line x1="308.50" y1="230.07" x2="308.50" y2="218.81" stroke="#222" stroke-width="1"/>
<line x1="306.00" y1="218.81" x2="311.00" y2="218.81" stroke="#222" stroke-width="1"/>
<line x1="308.50" y1="215.18" x2="308.50" y2="213.04" stroke="#222" stroke-width="1"/>
<line x1="306.00" y1="213.04" x2="311.00" y2="213.04" stroke="#222" stroke-width="1"/>
<line x1="285.60" y1="220.76" x2="300.20" y2="215.18" stroke="#222" stroke-width="0.9"/>
<line x1="285.60" y1="238.45" x2="300.20" y2="221.70" stroke="#222" stroke-width="0.9"/>
<line x1="285.60" y1="275.69" x2="300.20" y2="230.07" stroke="#222" stroke-width="0.9"/>
<path d="M290.90 215.00L290.90 217.40M289.86 215.60L291.94 216.80M291.94 215.60L289.86 216.80" stroke="#222" stroke-width="0.95" transform="rotate(-25 290.90 216.20)"/>
<path d="M287.80 227.40L287.80 229.80M286.76 228.00L288.84 229.20M288.84 228.00L286.76 229.20M290.60 227.40L290.60 229.80M289.56 228.00L291.64 229.20M291.64 228.00L289.56 229.20M293.40 227.40L293.40 229.80M292.36 228.00L294.44 229.20M294.44 228.00L292.36 229.20" stroke="#222" stroke-width="0.95" transform="rotate(-42 290.60 228.60)"/>
<path d="M288.40 247.60L288.40 250.00M287.36 248.20L289.44 249.40M289.44 248.20L287.36 249.40M291.20 247.60L291.20 250.00M290.16 248.20L292.24 249.40M292.24 248.20L290.16 249.40M294.00 247.60L294.00 250.00M292.96 248.20L295.04 249.40M295.04 248.20L292.96 249.40" stroke="#222" stroke-width="0.95" transform="rotate(-64 291.20 248.80)"/>
<text x="277.30" y="311.30" font-size="9.2" text-anchor="middle" fill="#222" stroke="#222" stroke-width="0.1" textLength="12.5" lengthAdjust="spacingAndGlyphs">Vec</text>
<text x="307.70" y="311.30" font-size="9.2" text-anchor="middle" fill="#222" stroke="#222" stroke-width="0.1" textLength="32" lengthAdjust="spacingAndGlyphs">Prdm16s</text>
<rect x="328.20" y="215.20" width="8.40" height="5.60" fill="#6ea65a"/>
<text x="340.30" y="220.80" font-size="8.6" text-anchor="start" fill="#333" stroke="#333" stroke-width="0.1">T</text>
<rect x="328.20" y="227.30" width="8.40" height="5.60" fill="#4a6490"/>
<text x="340.30" y="232.90" font-size="8.6" text-anchor="start" fill="#333" stroke="#333" stroke-width="0.1">B</text>
<rect x="328.20" y="239.70" width="8.40" height="5.60" fill="#a03442"/>
<text x="340.30" y="245.30" font-size="8.6" text-anchor="start" fill="#333" stroke="#333" stroke-width="0.1">M</text>
<text x="364.80" y="191.40" font-size="11.5" text-anchor="start" fill="#222" stroke="#222" stroke-width="0.1">D</text>
<defs><clipPath id="dclip"><rect x="364.4" y="219.4" width="95.6" height="79"/></clipPath><filter id="dblur" x="0" y="0" width="1" height="1"><feGaussianBlur stdDeviation="0.5"/></filter><filter id="dtex" x="0" y="0" width="1" height="1" color-interpolation-filters="sRGB"><feTurbulence type="fractalNoise" baseFrequency="0.5" numOctaves="2" seed="3" result="n"/><feColorMatrix in="n" type="matrix" values="0 0 0 0 0.68  0 0 0 0 0.17  0 0 0 0 0.46  4.5 0 0 0 -2.0" result="c"/><feComposite in="c" in2="SourceGraphic" operator="in"/></filter><radialGradient id="dcell"><stop offset="0" stop-color="#e08ab2"/><stop offset="0.7" stop-color="#d87aa6"/><stop offset="1" stop-color="#cc669c"/></radialGradient></defs>
<g clip-path="url(#dclip)"><g filter="url(#dblur)">
<rect x="364.40" y="219.40" width="95.60" height="79.00" fill="#e8c3d6"/>
<ellipse cx="395" cy="250" rx="30" ry="22" fill="#a9a4d8" opacity="0.5"/>
<ellipse cx="430" cy="245" rx="25" ry="20" fill="#a9a4d8" opacity="0.5"/>
<ellipse cx="442" cy="238" rx="8" ry="8" fill="#a9a4d8" opacity="0.5"/>
<ellipse cx="410" cy="275" rx="30" ry="15" fill="#a9a4d8" opacity="0.5"/>
<ellipse cx="380" cy="232" rx="12" ry="6" fill="#a9a4d8" opacity="0.5"/>
<ellipse cx="448" cy="283" rx="10" ry="6" fill="#a9a4d8" opacity="0.5"/>
<ellipse cx="372" cy="226" rx="10" ry="6" fill="#f1cfe0"/>
<ellipse cx="375" cy="293" rx="14" ry="7" fill="#f2d3e2"/>
<ellipse cx="452" cy="292" rx="10" ry="7" fill="#efd0e0"/>
<ellipse cx="402" cy="224" rx="6" ry="3" fill="#f3dbe6"/>
<ellipse cx="440" cy="233" rx="4" ry="3" fill="#f3e3ee"/>
<ellipse cx="366" cy="275" rx="4" ry="12" fill="#eed0e0"/>
<circle cx="372.6" cy="242.5" r="7.2" fill="#9890cc" opacity="0.75"/>
<circle cx="386.6" cy="238.7" r="7.9" fill="#9890cc" opacity="0.75"/>
<circle cx="398.6" cy="233.9" r="7.9" fill="#9890cc" opacity="0.75"/>
<circle cx="410.1" cy="226.2" r="6.6" fill="#9890cc" opacity="0.75"/>
<circle cx="395.2" cy="247.8" r="9.1" fill="#9890cc" opacity="0.75"/>
<circle cx="369.7" cy="254.5" r="7.9" fill="#9890cc" opacity="0.75"/>
<circle cx="410.1" cy="240.1" r="5.9" fill="#9890cc" opacity="0.75"/>
<circle cx="409.2" cy="252.6" r="7.9" fill="#9890cc" opacity="0.75"/>
<circle cx="414" cy="225" r="6.2" fill="#9890cc" opacity="0.75"/>
<circle cx="423" cy="233" r="7.5" fill="#9890cc" opacity="0.75"/>
<circle cx="434.5" cy="232" r="8.2" fill="#9890cc" opacity="0.75"/>
<circle cx="452" cy="223.5" r="6.9" fill="#9890cc" opacity="0.75"/>
<circle cx="451" cy="234.5" r="8.2" fill="#9890cc" opacity="0.75"/>
<circle cx="421" cy="251" r="8.2" fill="#9890cc" opacity="0.75"/>
<circle cx="433" cy="252" r="7.5" fill="#9890cc" opacity="0.75"/>
<circle cx="446" cy="250" r="7.5" fill="#9890cc" opacity="0.75"/>
<circle cx="454" cy="256" r="6.9" fill="#9890cc" opacity="0.75"/>
<circle cx="368" cy="268" r="6.9" fill="#9890cc" opacity="0.75"/>
<circle cx="382.5" cy="269" r="8.2" fill="#9890cc" opacity="0.75"/>
<circle cx="398" cy="264" r="8.2" fill="#9890cc" opacity="0.75"/>
<circle cx="390.5" cy="275.5" r="6.9" fill="#9890cc" opacity="0.75"/>
<circle cx="403.5" cy="277.5" r="6.9" fill="#9890cc" opacity="0.75"/>
<circle cx="379.5" cy="286" r="7.5" fill="#9890cc" opacity="0.75"/>
<circle cx="390.5" cy="285" r="8.2" fill="#9890cc" opacity="0.75"/>
<circle cx="401.5" cy="286.5" r="7.5" fill="#9890cc" opacity="0.75"/>
<circle cx="410.5" cy="291" r="7.5" fill="#9890cc" opacity="0.75"/>
<circle cx="369" cy="257" r="4.9" fill="#9890cc" opacity="0.75"/>
<circle cx="416" cy="268" r="8.8" fill="#9890cc" opacity="0.75"/>
<circle cx="430" cy="278" r="8.2" fill="#9890cc" opacity="0.75"/>
<circle cx="416.5" cy="279.5" r="7.5" fill="#9890cc" opacity="0.75"/>
<circle cx="446.5" cy="269" r="7.5" fill="#9890cc" opacity="0.75"/>
<circle cx="453" cy="261" r="6.9" fill="#9890cc" opacity="0.75"/>
<circle cx="427" cy="258" r="6.2" fill="#9890cc" opacity="0.75"/>
<circle cx="420" cy="291" r="6.2" fill="#9890cc" opacity="0.75"/>
<circle cx="425" cy="293" r="4.2" fill="#9890cc" opacity="0.75"/>
<circle cx="365" cy="285" r="4.9" fill="#9890cc" opacity="0.75"/>
<circle cx="372.6" cy="242.5" r="6.24" fill="url(#dcell)"/>
<circle cx="386.6" cy="238.7" r="6.89" fill="url(#dcell)"/>
<circle cx="398.6" cy="233.9" r="6.89" fill="url(#dcell)"/>
<circle cx="410.1" cy="226.2" r="5.59" fill="url(#dcell)"/>
<circle cx="395.2" cy="247.8" r="8.06" fill="url(#dcell)"/>
<circle cx="369.7" cy="254.5" r="6.89" fill="url(#dcell)"/>
<circle cx="410.1" cy="240.1" r="4.9399999999999995" fill="url(#dcell)"/>
<circle cx="409.2" cy="252.6" r="6.89" fill="url(#dcell)"/>
<circle cx="414" cy="225" r="5.2" fill="url(#dcell)"/>
<circle cx="423" cy="233" r="6.5" fill="url(#dcell)"/>
<circle cx="434.5" cy="232" r="7.15" fill="url(#dcell)"/>
<circle cx="452" cy="223.5" r="5.8500000000000005" fill="url(#dcell)"/>
<circle cx="451" cy="234.5" r="7.15" fill="url(#dcell)"/>
<circle cx="421" cy="251" r="7.15" fill="url(#dcell)"/>
<circle cx="433" cy="252" r="6.5" fill="url(#dcell)"/>
<circle cx="446" cy="250" r="6.5" fill="url(#dcell)"/>
<circle cx="454" cy="256" r="5.8500000000000005" fill="url(#dcell)"/>
<circle cx="368" cy="268" r="5.8500000000000005" fill="url(#dcell)"/>
<circle cx="382.5" cy="269" r="7.15" fill="url(#dcell)"/>
<circle cx="398" cy="264" r="7.15" fill="url(#dcell)"/>
<circle cx="390.5" cy="275.5" r="5.8500000000000005" fill="url(#dcell)"/>
<circle cx="403.5" cy="277.5" r="5.8500000000000005" fill="url(#dcell)"/>
<circle cx="379.5" cy="286" r="6.5" fill="url(#dcell)"/>
<circle cx="390.5" cy="285" r="7.15" fill="url(#dcell)"/>
<circle cx="401.5" cy="286.5" r="6.5" fill="url(#dcell)"/>
<circle cx="410.5" cy="291" r="6.5" fill="url(#dcell)"/>
<circle cx="369" cy="257" r="3.9000000000000004" fill="url(#dcell)"/>
<circle cx="416" cy="268" r="7.800000000000001" fill="url(#dcell)"/>
<circle cx="430" cy="278" r="7.15" fill="url(#dcell)"/>
<circle cx="416.5" cy="279.5" r="6.5" fill="url(#dcell)"/>
<circle cx="446.5" cy="269" r="6.5" fill="url(#dcell)"/>
<circle cx="453" cy="261" r="5.8500000000000005" fill="url(#dcell)"/>
<circle cx="427" cy="258" r="5.2" fill="url(#dcell)"/>
<circle cx="420" cy="291" r="5.2" fill="url(#dcell)"/>
<circle cx="425" cy="293" r="3.25" fill="url(#dcell)"/>
<circle cx="365" cy="285" r="3.9000000000000004" fill="url(#dcell)"/>
<path d="M442 244 Q447 240 455 239 L457 242 Q449 245 443 247 Z" fill="#8d1f5a"/>
<circle cx="433" cy="252" r="1.6" fill="#f5e5ee"/><circle cx="386" cy="238" r="1" fill="#f5e5ee"/>
</g>
<g filter="url(#dtex)" opacity="0.5">
<circle cx="372.6" cy="242.5" r="5.8" fill="#000"/>
<circle cx="386.6" cy="238.7" r="6.5" fill="#000"/>
<circle cx="398.6" cy="233.9" r="6.5" fill="#000"/>
<circle cx="410.1" cy="226.2" r="5.2" fill="#000"/>
<circle cx="395.2" cy="247.8" r="7.7" fill="#000"/>
<circle cx="369.7" cy="254.5" r="6.5" fill="#000"/>
<circle cx="410.1" cy="240.1" r="4.5" fill="#000"/>
<circle cx="409.2" cy="252.6" r="6.5" fill="#000"/>
<circle cx="414" cy="225" r="4.8" fill="#000"/>
<circle cx="423" cy="233" r="6.1" fill="#000"/>
<circle cx="434.5" cy="232" r="6.8" fill="#000"/>
<circle cx="452" cy="223.5" r="5.5" fill="#000"/>
<circle cx="451" cy="234.5" r="6.8" fill="#000"/>
<circle cx="421" cy="251" r="6.8" fill="#000"/>
<circle cx="433" cy="252" r="6.1" fill="#000"/>
<circle cx="446" cy="250" r="6.1" fill="#000"/>
<circle cx="454" cy="256" r="5.5" fill="#000"/>
<circle cx="368" cy="268" r="5.5" fill="#000"/>
<circle cx="382.5" cy="269" r="6.8" fill="#000"/>
<circle cx="398" cy="264" r="6.8" fill="#000"/>
<circle cx="390.5" cy="275.5" r="5.5" fill="#000"/>
<circle cx="403.5" cy="277.5" r="5.5" fill="#000"/>
<circle cx="379.5" cy="286" r="6.1" fill="#000"/>
<circle cx="390.5" cy="285" r="6.8" fill="#000"/>
<circle cx="401.5" cy="286.5" r="6.1" fill="#000"/>
<circle cx="410.5" cy="291" r="6.1" fill="#000"/>
<circle cx="369" cy="257" r="3.5" fill="#000"/>
<circle cx="416" cy="268" r="7.4" fill="#000"/>
<circle cx="430" cy="278" r="6.8" fill="#000"/>
<circle cx="416.5" cy="279.5" r="6.1" fill="#000"/>
<circle cx="446.5" cy="269" r="6.1" fill="#000"/>
<circle cx="453" cy="261" r="5.5" fill="#000"/>
<circle cx="427" cy="258" r="4.8" fill="#000"/>
<circle cx="420" cy="291" r="4.8" fill="#000"/>
<circle cx="425" cy="293" r="2.9" fill="#000"/>
<circle cx="365" cy="285" r="3.5" fill="#000"/>
</g></g>
<rect x="364.40" y="219.40" width="95.60" height="79.00" fill="none" stroke="#222" stroke-width="1.2"/>
<rect x="433.00" y="286.20" width="24.00" height="7.40" fill="#f0d8e6"/>
<text x="445.80" y="292.90" font-size="8.5" text-anchor="middle" fill="#111" stroke="#111" stroke-width="0.1" textLength="21" lengthAdjust="spacingAndGlyphs">20μm</text>
<line x1="435.00" y1="294.60" x2="457.50" y2="294.60" stroke="#111" stroke-width="1.3"/>
<text x="11.30" y="340.20" font-size="11.5" text-anchor="start" fill="#222" stroke="#222" stroke-width="0.1">E</text>
<rect x="9.60" y="400.80" width="54.80" height="71.60" fill="#f6f5f2" stroke="#111" stroke-width="1.4"/>
<line x1="11.00" y1="403.50" x2="15.00" y2="403.50" stroke="#8a93a8" stroke-width="0.6"/>
<line x1="11.00" y1="406.60" x2="13.50" y2="406.60" stroke="#8a93a8" stroke-width="0.6"/>
<line x1="11.00" y1="409.70" x2="15.00" y2="409.70" stroke="#8a93a8" stroke-width="0.6"/>
<line x1="11.00" y1="412.80" x2="13.50" y2="412.80" stroke="#8a93a8" stroke-width="0.6"/>
<line x1="11.00" y1="415.90" x2="15.00" y2="415.90" stroke="#8a93a8" stroke-width="0.6"/>
<line x1="11.00" y1="419.00" x2="13.50" y2="419.00" stroke="#8a93a8" stroke-width="0.6"/>
<line x1="11.00" y1="422.10" x2="15.00" y2="422.10" stroke="#8a93a8" stroke-width="0.6"/>
<line x1="11.00" y1="425.20" x2="13.50" y2="425.20" stroke="#8a93a8" stroke-width="0.6"/>
<line x1="11.00" y1="428.30" x2="15.00" y2="428.30" stroke="#8a93a8" stroke-width="0.6"/>
<line x1="11.00" y1="431.40" x2="13.50" y2="431.40" stroke="#8a93a8" stroke-width="0.6"/>
<line x1="11.00" y1="434.50" x2="15.00" y2="434.50" stroke="#8a93a8" stroke-width="0.6"/>
<line x1="11.00" y1="437.60" x2="13.50" y2="437.60" stroke="#8a93a8" stroke-width="0.6"/>
<line x1="11.00" y1="440.70" x2="15.00" y2="440.70" stroke="#8a93a8" stroke-width="0.6"/>
<line x1="11.00" y1="443.80" x2="13.50" y2="443.80" stroke="#8a93a8" stroke-width="0.6"/>
<line x1="11.00" y1="446.90" x2="15.00" y2="446.90" stroke="#8a93a8" stroke-width="0.6"/>
<line x1="11.00" y1="450.00" x2="13.50" y2="450.00" stroke="#8a93a8" stroke-width="0.6"/>
<line x1="11.00" y1="453.10" x2="15.00" y2="453.10" stroke="#8a93a8" stroke-width="0.6"/>
<line x1="11.00" y1="456.20" x2="13.50" y2="456.20" stroke="#8a93a8" stroke-width="0.6"/>
<line x1="11.00" y1="459.30" x2="15.00" y2="459.30" stroke="#8a93a8" stroke-width="0.6"/>
<line x1="11.00" y1="462.40" x2="13.50" y2="462.40" stroke="#8a93a8" stroke-width="0.6"/>
<line x1="11.00" y1="465.50" x2="15.00" y2="465.50" stroke="#8a93a8" stroke-width="0.6"/>
<line x1="11.00" y1="468.60" x2="13.50" y2="468.60" stroke="#8a93a8" stroke-width="0.6"/>
<text x="18.60" y="414.50" font-size="5.2" text-anchor="middle" fill="#2f4b8a" transform="rotate(90 18.60 414.50)" font-weight="bold">14</text>
<line x1="16.00" y1="410.50" x2="16.00" y2="418.50" stroke="#7a86a8" stroke-width="0.5"/>
<text x="18.60" y="433.50" font-size="5.2" text-anchor="middle" fill="#2f4b8a" transform="rotate(90 18.60 433.50)" font-weight="bold">13</text>
<line x1="16.00" y1="429.50" x2="16.00" y2="437.50" stroke="#7a86a8" stroke-width="0.5"/>
<text x="18.60" y="458.00" font-size="5.2" text-anchor="middle" fill="#2f4b8a" transform="rotate(90 18.60 458.00)" font-weight="bold">12</text>
<line x1="16.00" y1="454.00" x2="16.00" y2="462.00" stroke="#7a86a8" stroke-width="0.5"/>
<defs><linearGradient id="spl" x1="0" x2="1" y1="0" y2="0"><stop offset="0" stop-color="#7e212b"/><stop offset="0.45" stop-color="#882832"/><stop offset="1" stop-color="#741c25"/></linearGradient></defs>
<path d="M27.5 406.5 Q30 405.3 32.6 406.2 Q34.2 407.5 33.8 412 L33.6 437 Q33.4 441 30 441 Q26.3 441 26.3 437 L26 411 Q26 407.5 27.5 406.5 Z" fill="url(#spl)"/>
<path d="M39.4 410 Q40 404.2 47 403.6 Q55 403.2 56.6 406.5 Q57.7 412 57.3 426 L56.3 455 Q55.6 470.5 50 471.2 Q45.4 471.8 44.3 467 Q41.3 460 39.4 440 Q38.6 425 39.4 410 Z" fill="url(#spl)"/>
<path d="M55.3 416 Q56 420 55.5 426" stroke="#e8c9c9" stroke-width="0.6" fill="none" opacity="0.8"/>
<text x="32.00" y="397.20" font-size="9" text-anchor="start" fill="#222" stroke="#222" stroke-width="0.1" textLength="10.3" lengthAdjust="spacingAndGlyphs" transform="rotate(-90 32.00 397.20)">WT</text>
<text x="53.50" y="397.20" font-size="9" text-anchor="start" fill="#222" stroke="#222" stroke-width="0.1" textLength="31" lengthAdjust="spacingAndGlyphs" transform="rotate(-90 53.50 397.20)">Prdm16s</text>
<text x="131.70" y="347.20" font-size="9.6" text-anchor="middle" fill="#222" stroke="#222" stroke-width="0.1" textLength="72.6" lengthAdjust="spacingAndGlyphs">Spleen H&amp;E staining</text>
<defs>
<filter id="he1" x="0" y="0" width="1" height="1" color-interpolation-filters="sRGB">
<feTurbulence type="fractalNoise" baseFrequency="0.7" numOctaves="2" seed="7" result="n"/>
<feColorMatrix in="n" type="matrix" values="0.9 0 0 0 0.37  0.8 0 0 0 0.12  0.3 0 0 0 0.57  0 0 0 0 1"/>
</filter>
<filter id="he2" x="0" y="0" width="1" height="1" color-interpolation-filters="sRGB">
<feTurbulence type="fractalNoise" baseFrequency="0.7" numOctaves="2" seed="17" result="n"/>
<feColorMatrix in="n" type="matrix" values="0.85 0 0 0 0.32  0.5 0 0 0 0.11  0.3 0 0 0 0.455  0 0 0 0 1"/>
</filter>
<filter id="heb"><feGaussianBlur stdDeviation="7"/></filter>
<clipPath id="hec1"><rect x="79.7" y="352.4" width="105.3" height="73.4"/></clipPath>
<clipPath id="hec2"><rect x="79.7" y="428" width="105.3" height="76.2"/></clipPath>
</defs>
<rect x="79.7" y="352.4" width="105.3" height="73.4" fill="#c8a" filter="url(#he1)"/>
<g clip-path="url(#hec1)"><g filter="url(#heb)" opacity="0.38"><ellipse cx="92" cy="372" rx="16" ry="26" fill="#7050a0"/><ellipse cx="112" cy="358" rx="30" ry="8" fill="#7050a0"/><ellipse cx="160" cy="408" rx="30" ry="18" fill="#7050a0"/><ellipse cx="176" cy="380" rx="10" ry="20" fill="#8060a8"/></g></g>
<rect x="79.7" y="428" width="105.3" height="76.2" fill="#c8a" filter="url(#he2)"/>
<g clip-path="url(#hec2)"><g filter="url(#heb)" opacity="0.15"><ellipse cx="110" cy="450" rx="25" ry="14" fill="#7858a8"/><ellipse cx="165" cy="480" rx="22" ry="18" fill="#7858a8"/></g></g>
<ellipse cx="146.5" cy="363.3" rx="2.6" ry="1.2" fill="#4a3050" opacity="0.75" transform="rotate(-20 146.5 363.3)"/>
<line x1="139.20" y1="468.80" x2="146.20" y2="465.20" stroke="#f3dbe8" stroke-width="1.3"/>
<line x1="146.20" y1="482.50" x2="153.00" y2="479.80" stroke="#f3dbe8" stroke-width="1.1"/>
<line x1="159.00" y1="472.00" x2="163.00" y2="470.00" stroke="#f3dbe8" stroke-width="0.9"/>
<line x1="168.00" y1="461.00" x2="171.00" y2="459.00" stroke="#f3dbe8" stroke-width="0.8"/>
<circle cx="82.9" cy="462.7" r="1.1" fill="#f3e0ea"/>
<circle cx="127.7" cy="475.4" r="0.8" fill="#f3e0ea"/>
<circle cx="111" cy="444" r="0.7" fill="#f3e0ea"/>
<circle cx="178" cy="468" r="0.7" fill="#f3e0ea"/>
<circle cx="97" cy="487" r="0.6" fill="#f3e0ea"/>
<line x1="164.60" y1="422.80" x2="183.00" y2="422.80" stroke="#6a8f68" stroke-width="1.6"/>
<line x1="164.60" y1="500.80" x2="183.00" y2="500.80" stroke="#6a8f68" stroke-width="1.6"/>
<text x="84.30" y="422.50" font-size="11.2" text-anchor="start" fill="#fbe81c" textLength="15.9" lengthAdjust="spacingAndGlyphs" font-weight="bold">WT</text>
<text x="81.50" y="503.20" font-size="11.6" text-anchor="start" fill="#fbe81c" textLength="43.9" lengthAdjust="spacingAndGlyphs" font-weight="bold">Prdm16s</text>
<text x="203.60" y="340.20" font-size="11.5" text-anchor="start" fill="#222" stroke="#222" stroke-width="0.1">F</text>
<line x1="223.80" y1="388.10" x2="223.80" y2="497.40" stroke="#151515" stroke-width="1.45"/>
<line x1="223.20" y1="496.80" x2="276.00" y2="496.80" stroke="#151515" stroke-width="1.45"/>
<line x1="220.80" y1="496.80" x2="223.80" y2="496.80" stroke="#151515" stroke-width="1"/>
<text x="217.60" y="499.80" font-size="8.5" text-anchor="end" fill="#222" stroke="#222" stroke-width="0.1">0</text>
<line x1="220.80" y1="470.00" x2="223.80" y2="470.00" stroke="#151515" stroke-width="1"/>
<text x="217.60" y="473.00" font-size="8.5" text-anchor="end" fill="#222" stroke="#222" stroke-width="0.1">30</text>
<line x1="220.80" y1="443.20" x2="223.80" y2="443.20" stroke="#151515" stroke-width="1"/>
<text x="217.60" y="446.20" font-size="8.5" text-anchor="end" fill="#222" stroke="#222" stroke-width="0.1">60</text>
<line x1="220.80" y1="416.40" x2="223.80" y2="416.40" stroke="#151515" stroke-width="1"/>
<text x="217.60" y="419.40" font-size="8.5" text-anchor="end" fill="#222" stroke="#222" stroke-width="0.1">90</text>
<line x1="220.80" y1="389.60" x2="223.80" y2="389.60" stroke="#151515" stroke-width="1"/>
<text x="217.60" y="392.60" font-size="8.5" text-anchor="end" fill="#222" stroke="#222" stroke-width="0.1">120</text>
<text x="249.50" y="371.50" font-size="9" text-anchor="middle" fill="#222" stroke="#222" stroke-width="0.1" textLength="16.4" lengthAdjust="spacingAndGlyphs">WBC</text>
<text x="249.80" y="381.90" font-size="9" text-anchor="middle" fill="#222" stroke="#222" stroke-width="0.1">(x10<tspan dy="-3" font-size="5.5">3</tspan><tspan dy="3">/mm</tspan><tspan dy="-3" font-size="5.5">3</tspan><tspan dy="3">)</tspan></text>
<line x1="236.50" y1="484.20" x2="236.50" y2="490.50" stroke="#6aa84f" stroke-width="1.08"/>
<line x1="225.00" y1="488.50" x2="248.00" y2="488.50" stroke="#6aa84f" stroke-width="1.2"/>
<line x1="230.20" y1="484.20" x2="242.80" y2="484.20" stroke="#6aa84f" stroke-width="1.2"/>
<line x1="230.20" y1="490.50" x2="242.80" y2="490.50" stroke="#6aa84f" stroke-width="1.2"/>
<circle cx="236.8" cy="481.5" r="3.2" fill="#6aa84f"/>
<circle cx="229.2" cy="486.5" r="3.2" fill="#6aa84f"/>
<circle cx="244.6" cy="487.7" r="3.2" fill="#6aa84f"/>
<circle cx="233.0" cy="490.0" r="3.2" fill="#6aa84f"/>
<circle cx="236.9" cy="491.5" r="3.2" fill="#6aa84f"/>
<circle cx="240.8" cy="490.8" r="3.2" fill="#6aa84f"/>
<circle cx="235.4" cy="493.0" r="3.2" fill="#6aa84f"/>
<circle cx="239.2" cy="492.3" r="3.2" fill="#6aa84f"/>
<circle cx="246.2" cy="488.8" r="3.2" fill="#6aa84f"/>
<line x1="263.00" y1="402.50" x2="263.00" y2="455.00" stroke="#9d2438" stroke-width="1.08"/>
<line x1="251.00" y1="428.50" x2="275.00" y2="428.50" stroke="#9d2438" stroke-width="1.2"/>
<line x1="256.70" y1="402.50" x2="269.30" y2="402.50" stroke="#9d2438" stroke-width="1.2"/>
<line x1="256.70" y1="455.00" x2="269.30" y2="455.00" stroke="#9d2438" stroke-width="1.2"/>
<path d="M255.45 402.19L258.70 396.21L261.95 402.19Z" fill="#9d2438"/>
<path d="M264.05 402.79L267.30 396.81L270.55 402.79Z" fill="#9d2438"/>
<path d="M259.75 425.69L263.00 419.71L266.25 425.69Z" fill="#9d2438"/>
<path d="M260.25 440.09L263.50 434.11L266.75 440.09Z" fill="#9d2438"/>
<path d="M255.45 460.89L258.70 454.91L261.95 460.89Z" fill="#9d2438"/>
<path d="M264.05 460.89L267.30 454.91L270.55 460.89Z" fill="#9d2438"/>
<path d="M262.85 389.85L262.85 392.55M261.68 390.52L264.02 391.88M264.02 390.52L261.68 391.88M265.95 389.85L265.95 392.55M264.78 390.52L267.12 391.88M267.12 390.52L264.78 391.88" stroke="#222" stroke-width="0.95"/>
<line x1="295.70" y1="390.10" x2="295.70" y2="498.20" stroke="#151515" stroke-width="1.45"/>
<line x1="295.10" y1="497.60" x2="348.00" y2="497.60" stroke="#151515" stroke-width="1.45"/>
<line x1="292.70" y1="497.60" x2="295.70" y2="497.60" stroke="#151515" stroke-width="1"/>
<text x="289.50" y="500.60" font-size="8.5" text-anchor="end" fill="#222" stroke="#222" stroke-width="0.1">0</text>
<line x1="292.70" y1="471.10" x2="295.70" y2="471.10" stroke="#151515" stroke-width="1"/>
<text x="289.50" y="474.10" font-size="8.5" text-anchor="end" fill="#222" stroke="#222" stroke-width="0.1">3</text>
<line x1="292.70" y1="444.60" x2="295.70" y2="444.60" stroke="#151515" stroke-width="1"/>
<text x="289.50" y="447.60" font-size="8.5" text-anchor="end" fill="#222" stroke="#222" stroke-width="0.1">6</text>
<line x1="292.70" y1="418.10" x2="295.70" y2="418.10" stroke="#151515" stroke-width="1"/>
<text x="289.50" y="421.10" font-size="8.5" text-anchor="end" fill="#222" stroke="#222" stroke-width="0.1">9</text>
<line x1="292.70" y1="391.60" x2="295.70" y2="391.60" stroke="#151515" stroke-width="1"/>
<text x="289.50" y="394.60" font-size="8.5" text-anchor="end" fill="#222" stroke="#222" stroke-width="0.1">12</text>
<text x="321.80" y="372.60" font-size="9" text-anchor="middle" fill="#222" stroke="#222" stroke-width="0.1" textLength="14.5" lengthAdjust="spacingAndGlyphs">RBC</text>
<text x="321.80" y="383.50" font-size="9" text-anchor="middle" fill="#222" stroke="#222" stroke-width="0.1">(x10<tspan dy="-3" font-size="5.5">6</tspan><tspan dy="3">/mm</tspan><tspan dy="-3" font-size="5.5">3</tspan><tspan dy="3">)</tspan></text>
<line x1="308.80" y1="397.30" x2="308.80" y2="425.70" stroke="#6aa84f" stroke-width="1.08"/>
<line x1="297.30" y1="411.80" x2="320.30" y2="411.80" stroke="#6aa84f" stroke-width="1.2"/>
<line x1="304.20" y1="397.30" x2="313.40" y2="397.30" stroke="#6aa84f" stroke-width="1.2"/>
<line x1="304.20" y1="425.70" x2="313.40" y2="425.70" stroke="#6aa84f" stroke-width="1.2"/>
<circle cx="301.2" cy="399.2" r="3.2" fill="#6aa84f"/>
<circle cx="316.2" cy="395.7" r="3.2" fill="#6aa84f"/>
<circle cx="308.8" cy="401.0" r="3.2" fill="#6aa84f"/>
<circle cx="313.4" cy="406.8" r="3.2" fill="#6aa84f"/>
<circle cx="303.7" cy="411.8" r="3.2" fill="#6aa84f"/>
<circle cx="308.8" cy="421.8" r="3.2" fill="#6aa84f"/>
<circle cx="313.0" cy="425.7" r="3.2" fill="#6aa84f"/>
<circle cx="303.7" cy="434.2" r="3.2" fill="#6aa84f"/>
<line x1="334.60" y1="445.70" x2="334.60" y2="478.00" stroke="#9d2438" stroke-width="1.08"/>
<line x1="322.30" y1="462.10" x2="346.90" y2="462.10" stroke="#9d2438" stroke-width="1.2"/>
<line x1="328.30" y1="445.70" x2="340.90" y2="445.70" stroke="#9d2438" stroke-width="1.2"/>
<line x1="328.30" y1="478.00" x2="340.90" y2="478.00" stroke="#9d2438" stroke-width="1.2"/>
<path d="M331.35 447.59L334.60 441.61L337.85 447.59Z" fill="#9d2438"/>
<path d="M340.75 451.19L344.00 445.21L347.25 451.19Z" fill="#9d2438"/>
<path d="M322.35 455.89L325.60 449.91L328.85 455.89Z" fill="#9d2438"/>
<path d="M328.55 459.79L331.80 453.81L335.05 459.79Z" fill="#9d2438"/>
<path d="M334.35 458.59L337.60 452.61L340.85 458.59Z" fill="#9d2438"/>
<path d="M331.35 476.59L334.60 470.61L337.85 476.59Z" fill="#9d2438"/>
<path d="M336.15 483.29L339.40 477.31L342.65 483.29Z" fill="#9d2438"/>
<path d="M326.95 490.19L330.20 484.21L333.45 490.19Z" fill="#9d2438"/>
<path d="M332.20 432.85L332.20 435.55M331.03 433.52L333.37 434.88M333.37 433.52L331.03 434.88M335.30 432.85L335.30 435.55M334.13 433.52L336.47 434.88M336.47 433.52L334.13 434.88M338.40 432.85L338.40 435.55M337.23 433.52L339.57 434.88M339.57 433.52L337.23 434.88" stroke="#222" stroke-width="0.95"/>
<line x1="372.60" y1="390.10" x2="372.60" y2="498.20" stroke="#151515" stroke-width="1.45"/>
<line x1="372.00" y1="497.60" x2="426.70" y2="497.60" stroke="#151515" stroke-width="1.45"/>
<line x1="369.60" y1="497.60" x2="372.60" y2="497.60" stroke="#151515" stroke-width="1"/>
<text x="366.40" y="500.60" font-size="8.5" text-anchor="end" fill="#222" stroke="#222" stroke-width="0.1">0</text>
<line x1="369.60" y1="471.10" x2="372.60" y2="471.10" stroke="#151515" stroke-width="1"/>
<text x="366.40" y="474.10" font-size="8.5" text-anchor="end" fill="#222" stroke="#222" stroke-width="0.1">30</text>
<line x1="369.60" y1="444.60" x2="372.60" y2="444.60" stroke="#151515" stroke-width="1"/>
<text x="366.40" y="447.60" font-size="8.5" text-anchor="end" fill="#222" stroke="#222" stroke-width="0.1">60</text>
<line x1="369.60" y1="418.10" x2="372.60" y2="418.10" stroke="#151515" stroke-width="1"/>
<text x="366.40" y="421.10" font-size="8.5" text-anchor="end" fill="#222" stroke="#222" stroke-width="0.1">90</text>
<line x1="369.60" y1="391.60" x2="372.60" y2="391.60" stroke="#151515" stroke-width="1"/>
<text x="366.40" y="394.60" font-size="8.5" text-anchor="end" fill="#222" stroke="#222" stroke-width="0.1">120</text>
<text x="398.00" y="372.60" font-size="9" text-anchor="middle" fill="#222" stroke="#222" stroke-width="0.1" textLength="11" lengthAdjust="spacingAndGlyphs">PLT</text>
<text x="398.30" y="383.50" font-size="9" text-anchor="middle" fill="#222" stroke="#222" stroke-width="0.1">(x10<tspan dy="-3" font-size="5.5">4</tspan><tspan dy="3">/mm</tspan><tspan dy="-3" font-size="5.5">3</tspan><tspan dy="3">)</tspan></text>
<line x1="386.40" y1="407.70" x2="386.40" y2="448.00" stroke="#6aa84f" stroke-width="1.08"/>
<line x1="374.30" y1="427.70" x2="398.50" y2="427.70" stroke="#6aa84f" stroke-width="1.2"/>
<line x1="379.90" y1="407.70" x2="392.90" y2="407.70" stroke="#6aa84f" stroke-width="1.2"/>
<line x1="379.90" y1="448.00" x2="392.90" y2="448.00" stroke="#6aa84f" stroke-width="1.2"/>
<circle cx="381.6" cy="403.3" r="3.2" fill="#6aa84f"/>
<circle cx="391.0" cy="403.3" r="3.2" fill="#6aa84f"/>
<circle cx="381.6" cy="418.1" r="3.2" fill="#6aa84f"/>
<circle cx="391.0" cy="418.1" r="3.2" fill="#6aa84f"/>
<circle cx="381.6" cy="436.0" r="3.2" fill="#6aa84f"/>
<circle cx="391.0" cy="436.0" r="3.2" fill="#6aa84f"/>
<circle cx="391.0" cy="451.5" r="3.2" fill="#6aa84f"/>
<circle cx="381.6" cy="456.1" r="3.2" fill="#6aa84f"/>
<line x1="414.30" y1="481.40" x2="414.30" y2="492.50" stroke="#9d2438" stroke-width="1.08"/>
<line x1="402.50" y1="486.70" x2="426.10" y2="486.70" stroke="#9d2438" stroke-width="1.2"/>
<line x1="409.30" y1="481.40" x2="419.30" y2="481.40" stroke="#9d2438" stroke-width="1.2"/>
<line x1="409.30" y1="492.50" x2="419.30" y2="492.50" stroke="#9d2438" stroke-width="1.2"/>
<path d="M406.15 480.99L409.40 475.01L412.65 480.99Z" fill="#9d2438"/>
<path d="M420.45 483.29L423.70 477.31L426.95 483.29Z" fill="#9d2438"/>
<path d="M405.05 490.89L408.30 484.91L411.55 490.89Z" fill="#9d2438"/>
<path d="M415.85 489.69L419.10 483.71L422.35 489.69Z" fill="#9d2438"/>
<path d="M412.45 494.79L415.70 488.81L418.95 494.79Z" fill="#9d2438"/>
<path d="M408.55 498.49L411.80 492.51L415.05 498.49Z" fill="#9d2438"/>
<path d="M403.85 493.89L407.10 487.91L410.35 493.89Z" fill="#9d2438"/>
<path d="M411.40 466.25L411.40 468.95M410.23 466.93L412.57 468.28M412.57 466.93L410.23 468.28M414.50 466.25L414.50 468.95M413.33 466.93L415.67 468.28M415.67 466.93L413.33 468.28M417.60 466.25L417.60 468.95M416.43 466.93L418.77 468.28M418.77 466.93L416.43 468.28" stroke="#222" stroke-width="0.95"/>
<text x="242.10" y="503.30" font-size="8.2" text-anchor="end" fill="#222" stroke="#222" stroke-width="0.1" transform="rotate(-45 242.10 503.30)">Vec</text>
<text x="267.10" y="503.50" font-size="8.2" text-anchor="end" fill="#222" stroke="#222" stroke-width="0.1" transform="rotate(-45 267.10 503.50)">Prdm16s</text>
<text x="314.00" y="503.30" font-size="8.2" text-anchor="end" fill="#222" stroke="#222" stroke-width="0.1" transform="rotate(-45 314.00 503.30)">Vec</text>
<text x="339.00" y="503.50" font-size="8.2" text-anchor="end" fill="#222" stroke="#222" stroke-width="0.1" transform="rotate(-45 339.00 503.50)">Prdm16s</text>
<text x="390.90" y="503.30" font-size="8.2" text-anchor="end" fill="#222" stroke="#222" stroke-width="0.1" transform="rotate(-45 390.90 503.30)">Vec</text>
<text x="415.90" y="503.50" font-size="8.2" text-anchor="end" fill="#222" stroke="#222" stroke-width="0.1" transform="rotate(-45 415.90 503.50)">Prdm16s</text>
<text x="10.00" y="557.40" font-size="11.5" text-anchor="start" fill="#222" stroke="#222" stroke-width="0.1">G</text>
<line x1="45.60" y1="565.20" x2="45.60" y2="657.40" stroke="#151515" stroke-width="1.45"/>
<line x1="45.00" y1="656.20" x2="196.60" y2="656.20" stroke="#151515" stroke-width="1.45"/>
<line x1="42.60" y1="656.20" x2="45.60" y2="656.20" stroke="#151515" stroke-width="1"/>
<text x="39.60" y="659.20" font-size="8.5" text-anchor="end" fill="#222" stroke="#222" stroke-width="0.1">0</text>
<line x1="42.60" y1="634.18" x2="45.60" y2="634.18" stroke="#151515" stroke-width="1"/>
<text x="39.60" y="637.18" font-size="8.5" text-anchor="end" fill="#222" stroke="#222" stroke-width="0.1">25</text>
<line x1="42.60" y1="612.15" x2="45.60" y2="612.15" stroke="#151515" stroke-width="1"/>
<text x="39.60" y="615.15" font-size="8.5" text-anchor="end" fill="#222" stroke="#222" stroke-width="0.1">50</text>
<line x1="42.60" y1="590.12" x2="45.60" y2="590.12" stroke="#151515" stroke-width="1"/>
<text x="39.60" y="593.12" font-size="8.5" text-anchor="end" fill="#222" stroke="#222" stroke-width="0.1">75</text>
<line x1="42.60" y1="568.10" x2="45.60" y2="568.10" stroke="#151515" stroke-width="1"/>
<text x="39.60" y="571.10" font-size="8.5" text-anchor="end" fill="#222" stroke="#222" stroke-width="0.1">100</text>
<line x1="45.60" y1="656.20" x2="45.60" y2="658.70" stroke="#151515" stroke-width="1"/>
<line x1="66.38" y1="656.20" x2="66.38" y2="658.70" stroke="#151515" stroke-width="1"/>
<line x1="87.15" y1="656.20" x2="87.15" y2="658.70" stroke="#151515" stroke-width="1"/>
<line x1="107.92" y1="656.20" x2="107.92" y2="658.70" stroke="#151515" stroke-width="1"/>
<line x1="128.70" y1="656.20" x2="128.70" y2="658.70" stroke="#151515" stroke-width="1"/>
<line x1="149.47" y1="656.20" x2="149.47" y2="658.70" stroke="#151515" stroke-width="1"/>
<line x1="170.25" y1="656.20" x2="170.25" y2="658.70" stroke="#151515" stroke-width="1"/>
<line x1="191.02" y1="656.20" x2="191.02" y2="658.70" stroke="#151515" stroke-width="1"/>
<text x="45.60" y="670.20" font-size="8.6" text-anchor="middle" fill="#222" stroke="#222" stroke-width="0.1">0</text>
<text x="87.15" y="670.20" font-size="8.6" text-anchor="middle" fill="#222" stroke="#222" stroke-width="0.1">100</text>
<text x="128.70" y="670.20" font-size="8.6" text-anchor="middle" fill="#222" stroke="#222" stroke-width="0.1">200</text>
<text x="170.25" y="670.20" font-size="8.6" text-anchor="middle" fill="#222" stroke="#222" stroke-width="0.1">300</text>
<text x="121.30" y="685.00" font-size="10" text-anchor="middle" fill="#222" stroke="#222" stroke-width="0.1" textLength="112" lengthAdjust="spacingAndGlyphs">Days post transplantation</text>
<text x="17.60" y="610.30" font-size="10" text-anchor="middle" fill="#222" stroke="#222" stroke-width="0.1" textLength="69" lengthAdjust="spacingAndGlyphs" transform="rotate(-90 17.60 610.30)">Percent survival</text>
<path d="M61.60 568.30 L95.75 568.30 L95.75 573.75 L97.00 573.75 L97.00 578.75 L102.00 578.75 L102.00 585.00 L107.00 585.00 L107.00 591.25 L108.25 591.25 L108.25 597.50 L122.00 597.50 L122.00 603.25 L131.25 603.25 L131.25 614.50 L133.00 614.50 L133.00 620.00 L145.75 620.00 L145.75 627.00 L157.50 627.00 L157.50 633.00 L167.50 633.00 L167.50 638.75 L196.50 638.75 L196.50 644.50" stroke="#b53a4c" stroke-width="1.3" fill="none"/>
<path d="M45.60 568.30 L61.60 568.30 L61.60 578.40 L64.30 578.40 L64.30 588.00 L64.80 588.00 L64.80 597.60 L68.75 597.60 L68.75 607.00 L73.20 607.00 L73.20 617.00 L74.30 617.00 L74.30 627.00 L82.60 627.00 L82.60 636.40 L83.70 636.40 L83.70 646.70 L85.30 646.70 L85.30 656.20" stroke="#3f5f94" stroke-width="1.3" fill="none"/>
<line x1="132.50" y1="569.50" x2="144.50" y2="569.50" stroke="#b53a4c" stroke-width="1.3"/>
<text x="147.50" y="572.80" font-size="9.2" text-anchor="start" fill="#b53a4c" stroke="#b53a4c" stroke-width="0.1" textLength="41.8" lengthAdjust="spacingAndGlyphs">Prdm16s 1st</text>
<line x1="132.50" y1="581.30" x2="144.50" y2="581.30" stroke="#3f5f94" stroke-width="1.3"/>
<text x="147.50" y="584.60" font-size="9.2" text-anchor="start" fill="#4b6a9b" stroke="#4b6a9b" stroke-width="0.1" textLength="45" lengthAdjust="spacingAndGlyphs">Prdm16s 2nd</text>
<text x="132.50" y="649.50" font-size="9" text-anchor="middle" fill="#222" stroke="#222" stroke-width="0.1" textLength="32.5" lengthAdjust="spacingAndGlyphs">P &lt; 0.001</text>
<text x="215.40" y="557.30" font-size="11.5" text-anchor="start" fill="#222" stroke="#222" stroke-width="0.1">H</text>
<text x="269.80" y="565.80" font-size="10" text-anchor="middle" fill="#222" stroke="#222" stroke-width="0.1" textLength="28" lengthAdjust="spacingAndGlyphs">Vector</text>
<text x="354.50" y="566.50" font-size="10" text-anchor="middle" fill="#222" stroke="#222" stroke-width="0.1" textLength="38" lengthAdjust="spacingAndGlyphs">Prdm16s</text>
<path d="M257.9 594.5h1.0M293.1 620.8h1.0M281.8 646.9h1.0M266.6 598.3h1.0M274.0 624.5h1.0M270.7 615.0h1.0M277.7 620.5h1.0M259.8 650.3h1.0M288.2 631.5h1.0M283.1 623.3h1.0M286.9 614.6h1.0M284.9 619.7h1.0M278.2 633.5h1.0M272.3 621.4h1.0M290.0 627.6h1.0M242.7 592.3h1.0M278.4 641.8h1.0M297.5 638.6h1.0M264.2 613.9h1.0M270.5 629.5h1.0M293.0 633.6h1.0M286.7 639.5h1.0M272.6 627.7h1.0M273.5 626.6h1.0M284.5 630.0h1.0M294.5 621.5h1.0M292.7 631.2h1.0M283.3 641.9h1.0M286.9 618.8h1.0M278.8 615.6h1.0M272.0 624.8h1.0M292.5 625.6h1.0M284.3 599.7h1.0M291.1 603.2h1.0M297.1 604.3h1.0M290.9 607.2h1.0M290.8 609.3h1.0M276.6 598.3h1.0M276.7 597.1h1.0M281.8 592.3h1.0M287.1 597.4h1.0M287.4 603.3h1.0M279.0 597.3h1.0M283.7 597.6h1.0M283.4 610.2h1.0M278.7 601.6h1.0M269.5 609.4h1.0M292.5 603.0h1.0M267.1 611.0h1.0M233.8 609.4h1.0M239.2 610.4h1.0M265.1 613.1h1.0M240.6 636.4h1.0M270.8 631.3h1.0M273.6 611.2h1.0M268.1 595.9h1.0M298.9 621.9h1.0M271.5 624.9h1.0M270.6 643.3h1.0M271.0 642.0h1.0M235.7 634.0h1.0M281.2 616.1h1.0M291.9 628.1h1.0M266.4 636.7h1.0M241.3 616.5h1.0M291.0 600.1h1.0M285.3 609.2h1.0M290.1 604.3h1.0M275.3 599.0h1.0M265.7 624.1h1.0M262.2 624.5h1.0M252.8 590.5h1.0M236.4 598.4h1.0M229.6 609.4h1.0M236.1 604.2h1.0M229.3 610.6h1.0M283.1 594.9h1.0M299.7 601.9h1.0M294.4 606.8h1.0M275.9 602.8h1.0M287.2 610.9h1.0M231.8 613.6h1.0M234.7 614.8h1.0M254.2 592.0h1.0M235.2 597.7h1.0M231.5 606.6h1.0M235.7 615.7h1.0M233.5 604.4h1.0M272.3 608.7h1.0M274.6 601.7h1.0M278.8 599.2h1.0M293.7 605.5h1.0M290.9 607.7h1.0M286.4 607.3h1.0M270.8 608.9h1.0M273.8 606.0h1.0M265.8 631.3h1.0M263.4 628.8h1.0M245.1 594.2h1.0M267.1 597.2h1.0M261.8 644.7h1.0M252.4 649.8h1.0M240.2 645.5h1.0M264.7 637.7h1.0M284.7 641.7h1.0M236.3 601.4h1.0M233.0 603.0h1.0M235.3 609.1h1.0M292.1 636.0h1.0M270.6 635.0h1.0M296.5 620.0h1.0M265.6 639.8h1.0M278.9 602.3h1.0M291.3 601.1h1.0M275.4 611.9h1.0M253.2 591.3h1.0M268.7 622.0h1.0M290.6 626.7h1.0M303.0 629.8h1.0M267.1 618.3h1.0M240.2 598.7h1.0M233.2 599.2h1.0M234.0 647.1h1.0M234.6 618.9h1.0M269.3 619.0h1.0M237.3 621.3h1.0M266.2 639.6h1.0M286.2 605.1h1.0M240.9 636.8h1.0M244.3 639.0h1.0M263.1 645.7h1.0M270.8 597.7h1.0M237.9 623.9h1.0M244.2 639.7h1.0M251.9 649.7h1.0M260.8 644.9h1.0M266.3 614.6h1.0M239.6 604.3h1.0M234.8 633.0h1.0M243.0 645.3h1.0M241.7 640.4h1.0M265.2 638.9h1.0M256.9 648.5h1.0M260.1 646.4h1.0M294.6 634.9h1.0M294.4 626.5h1.0M291.5 637.2h1.0M264.6 601.2h1.0M267.6 609.6h1.0M282.9 628.9h1.0M284.7 615.1h1.0M238.6 639.7h1.0M295.4 626.5h1.0M286.4 626.1h1.0M298.5 630.4h1.0M280.5 634.8h1.0M272.1 623.5h1.0M284.0 624.7h1.0M279.1 622.6h1.0M273.8 633.9h1.0M236.6 618.1h1.0M264.9 640.8h1.0M243.2 647.2h1.0M238.8 627.2h1.0M237.4 636.8h1.0M270.5 612.8h1.0M241.0 597.3h1.0M268.3 595.2h1.0M308.2 622.9h1.0M291.9 638.4h1.0M296.0 633.3h1.0M286.9 635.0h1.0M292.5 617.2h1.0M296.3 629.3h1.0M242.1 645.6h1.0M267.2 647.9h1.0M286.4 629.5h1.0M296.4 618.7h1.0M293.8 636.6h1.0M283.9 631.0h1.0M283.3 618.3h1.0M288.3 636.3h1.0M292.6 635.6h1.0M274.6 626.3h1.0M242.8 620.4h1.0M260.1 644.9h1.0M290.3 625.8h1.0M285.8 639.3h1.0M289.2 632.0h1.0M278.2 634.4h1.0M281.3 639.3h1.0M299.6 622.9h1.0M260.7 641.7h1.0M263.0 626.4h1.0M266.7 613.6h1.0M269.9 636.2h1.0M241.1 628.9h1.0M240.3 626.8h1.0M236.4 643.6h1.0M257.2 644.2h1.0M282.4 618.1h1.0M269.8 625.3h1.0M234.3 636.6h1.0M241.9 596.1h1.0M251.6 592.0h1.0M269.5 620.1h1.0M239.9 637.1h1.0M242.6 615.0h1.0M292.0 633.5h1.0M279.8 638.2h1.0M289.4 632.4h1.0M283.6 626.7h1.0M284.8 622.1h1.0M283.3 620.5h1.0M288.9 632.8h1.0M283.1 636.3h1.0M248.0 594.1h1.0M264.7 632.0h1.0M255.5 588.8h1.0M246.9 593.9h1.0M239.7 599.3h1.0M239.6 594.8h1.0M249.5 591.3h1.0M230.5 612.1h1.0M258.4 644.4h1.0M255.6 643.9h1.0M232.7 633.4h1.0M242.4 597.4h1.0M243.3 640.6h1.0M265.5 633.3h1.0M263.9 620.0h1.0M238.4 624.1h1.0M279.7 626.9h1.0M243.9 640.7h1.0M249.1 648.1h1.0M253.3 594.3h1.0M242.1 601.0h1.0M269.7 597.5h1.0M233.2 625.1h1.0M253.0 646.2h1.0M288.9 633.3h1.0M279.5 623.1h1.0M294.6 615.4h1.0M278.9 636.0h1.0M298.5 625.1h1.0M297.2 635.9h1.0M279.5 622.5h1.0M293.6 618.4h1.0M248.5 645.4h1.0M240.6 625.3h1.0M239.2 618.4h1.0M282.6 615.2h1.0M291.8 614.4h1.0M275.4 619.8h1.0M292.6 638.8h1.0M267.7 636.8h1.0M243.5 618.7h1.0M259.8 616.0h1.0M258.1 589.5h1.0M234.5 616.5h1.0M253.3 648.6h1.0M238.0 638.0h1.0M261.2 621.3h1.0M274.1 619.1h1.0M241.3 593.8h1.0M284.4 642.8h1.0M300.8 621.8h1.0M281.0 625.4h1.0M282.7 634.8h1.0M295.0 617.4h1.0M279.8 628.8h1.0M237.5 641.5h1.0M279.6 631.0h1.0M286.7 616.7h1.0M289.2 643.1h1.0M270.7 634.3h1.0M275.6 634.9h1.0M272.3 630.4h1.0M254.3 594.1h1.0M248.7 593.7h1.0M266.1 624.0h1.0M235.6 639.0h1.0M245.2 645.6h1.0M268.1 631.0h1.0M244.9 638.7h1.0M237.5 630.8h1.0M279.8 634.6h1.0M278.9 615.4h1.0M234.4 630.2h1.0M235.7 625.5h1.0M247.4 648.8h1.0M268.7 622.8h1.0M237.4 632.7h1.0M262.2 620.9h1.0M238.2 626.4h1.0M241.9 648.1h1.0M286.5 612.6h1.0M264.9 594.6h1.0M258.9 616.4h1.0M236.5 622.3h1.0M230.3 624.7h1.0M268.4 635.3h1.0M264.4 615.2h1.0M270.2 633.1h1.0M268.4 634.8h1.0M262.1 597.4h1.0M259.4 593.9h1.0M281.8 612.2h1.0M275.8 617.5h1.0M287.6 633.8h1.0M271.8 632.8h1.0M273.6 647.2h1.0M237.0 629.1h1.0M276.9 635.4h1.0M289.5 637.0h1.0M295.8 636.8h1.0M275.5 638.8h1.0M290.4 629.1h1.0M299.4 622.6h1.0M296.0 624.9h1.0M234.1 621.3h1.0M268.8 626.3h1.0M270.9 628.5h1.0M279.4 629.8h1.0M296.7 636.5h1.0M277.1 630.8h1.0M285.8 641.6h1.0M278.0 627.0h1.0M260.8 642.5h1.0M235.6 619.5h1.0M284.5 616.1h1.0M236.6 631.4h1.0M262.1 622.3h1.0M236.8 645.0h1.0M260.2 638.0h1.0M273.9 616.1h1.0M269.5 621.4h1.0M275.8 629.5h1.0M234.3 599.8h1.0M283.6 616.2h1.0M290.6 623.0h1.0M290.7 625.2h1.0M278.4 613.5h1.0M252.6 594.3h1.0M249.0 645.7h1.0M293.2 620.3h1.0M287.5 640.9h1.0M291.7 615.7h1.0M282.8 639.6h1.0M278.8 637.2h1.0M271.8 636.7h1.0M291.2 617.3h1.0M287.0 597.9h1.0M275.9 611.7h1.0M290.6 604.4h1.0M279.2 597.4h1.0M269.9 605.2h1.0M271.2 599.5h1.0M299.0 605.4h1.0M258.8 590.6h1.0M232.3 603.4h1.0M235.7 612.6h1.0M231.9 619.8h1.0M233.7 600.9h1.0M231.6 608.9h1.0M284.6 612.9h1.0M261.1 595.1h1.0M278.3 607.3h1.0M236.4 622.8h1.0M285.4 644.2h1.0M275.5 641.6h1.0M249.7 593.4h1.0M265.9 614.5h1.0M259.5 591.8h1.0M230.0 604.2h1.0M232.1 599.6h1.0M285.6 597.5h1.0M266.0 611.6h1.0M290.1 599.3h1.0M287.8 604.4h1.0M292.0 609.8h1.0M279.7 610.4h1.0M294.0 599.0h1.0M277.0 620.4h1.0M283.5 642.1h1.0M286.9 647.2h1.0M297.2 627.0h1.0M272.2 617.6h1.0M275.2 611.6h1.0M303.2 640.3h1.0M288.8 607.1h1.0M281.7 598.0h1.0M283.1 607.8h1.0M253.8 594.1h1.0M277.1 632.7h1.0M231.7 627.9h1.0M297.0 615.6h1.0M302.0 638.6h1.0M273.4 640.9h1.0M265.5 627.1h1.0M275.5 648.5h1.0M281.2 617.8h1.0M240.3 614.6h1.0M274.3 638.6h1.0M279.8 631.0h1.0" stroke="rgb(60, 80, 175)" stroke-width="1.0" stroke-opacity="0.65"/>
<path d="M264.4 629.2h1.0M272.7 620.5h1.0M291.1 626.8h1.0M270.0 632.7h1.0M252.5 647.8h1.0M294.8 623.6h1.0M286.3 621.9h1.0M273.1 607.3h1.0M261.5 605.6h1.0M258.7 614.0h1.0M245.9 597.5h1.0M270.5 608.5h1.0M237.9 626.1h1.0M281.4 600.1h1.0M283.0 607.6h1.0M280.0 599.2h1.0M279.6 611.6h1.0M286.6 601.8h1.0M266.3 630.9h1.0M243.2 618.9h1.0M271.9 619.3h1.0M291.8 624.8h1.0M281.3 620.8h1.0M277.8 622.6h1.0M279.3 622.5h1.0M240.2 617.8h1.0M264.9 625.5h1.0M265.5 611.3h1.0M265.3 632.2h1.0M292.4 625.1h1.0M284.1 635.3h1.0M261.0 622.7h1.0M266.4 623.8h1.0M249.9 598.1h1.0M240.6 603.9h1.0M254.2 615.5h1.0M256.9 596.3h1.0M265.6 606.9h1.0M237.7 599.8h1.0M261.8 596.2h1.0M285.4 627.1h1.0M268.5 636.0h1.0M283.9 632.2h1.0M279.5 631.8h1.0M287.0 628.5h1.0M266.8 607.5h1.0M242.1 596.4h1.0M290.8 631.0h1.0M278.1 628.7h1.0M291.6 636.5h1.0M271.0 630.4h1.0M276.9 635.6h1.0M278.7 629.6h1.0M284.6 633.6h1.0M284.6 627.5h1.0M254.4 599.2h1.0M234.9 610.3h1.0M257.8 596.3h1.0M262.2 603.2h1.0M291.2 624.8h1.0M294.6 627.4h1.0M284.7 616.1h1.0M280.9 633.9h1.0M286.4 621.9h1.0M272.1 618.0h1.0M287.3 632.9h1.0M283.3 625.3h1.0M287.2 633.2h1.0M286.9 614.4h1.0M253.7 625.1h1.0M261.3 622.7h1.0M246.4 630.0h1.0M244.4 645.7h1.0M256.8 644.2h1.0M241.0 620.5h1.0M243.3 636.5h1.0M244.2 624.9h1.0M258.6 622.4h1.0M268.3 627.1h1.0M251.1 616.1h1.0M262.5 638.8h1.0M263.0 634.8h1.0M249.3 646.9h1.0M275.0 635.7h1.0M269.0 603.1h1.0M235.6 610.5h1.0M261.9 605.9h1.0M241.1 603.3h1.0M264.9 599.3h1.0M234.8 626.2h1.0M260.1 606.6h1.0M250.4 598.6h1.0M286.7 632.8h1.0M289.6 635.5h1.0M278.6 636.6h1.0M273.3 630.8h1.0M261.0 610.6h1.0M270.5 603.9h1.0M284.6 617.6h1.0M284.8 624.9h1.0M280.2 623.8h1.0M289.0 622.9h1.0M292.1 632.6h1.0M291.6 636.3h1.0M287.6 622.7h1.0M284.9 623.1h1.0M285.8 625.4h1.0M276.1 626.3h1.0M257.7 640.9h1.0M250.0 645.7h1.0M241.0 642.9h1.0M243.5 617.6h1.0M259.3 625.4h1.0M254.6 620.5h1.0M243.1 644.6h1.0M248.1 620.9h1.0M242.5 618.0h1.0M238.2 630.0h1.0M242.2 625.6h1.0M240.1 637.5h1.0M260.4 613.2h1.0M241.5 602.6h1.0M270.3 605.0h1.0M262.5 614.2h1.0M250.0 647.6h1.0M260.2 639.1h1.0M255.3 646.2h1.0M235.6 626.3h1.0M247.8 631.4h1.0M248.8 628.8h1.0M262.3 605.7h1.0M245.6 624.7h1.0M238.2 642.2h1.0M245.9 648.1h1.0M243.3 642.2h1.0M249.7 615.2h1.0M249.9 616.2h1.0M242.3 624.5h1.0M252.3 638.5h1.0M241.1 621.5h1.0M263.0 632.5h1.0M258.2 631.0h1.0M249.3 644.7h1.0M266.3 602.2h1.0M254.8 645.3h1.0M244.4 620.6h1.0M238.6 619.5h1.0M246.5 638.3h1.0M264.2 637.9h1.0M263.0 616.9h1.0M252.1 621.1h1.0M235.4 618.5h1.0M261.6 632.8h1.0M243.6 636.1h1.0M240.5 602.3h1.0M247.1 598.8h1.0M278.9 616.3h1.0M271.4 631.4h1.0M279.9 618.4h1.0M281.8 634.7h1.0M261.2 616.3h1.0M279.8 631.8h1.0M284.3 627.7h1.0M286.0 628.3h1.0M291.9 630.2h1.0M284.8 615.2h1.0M294.5 626.8h1.0M289.0 623.1h1.0M284.8 624.4h1.0M286.9 625.6h1.0M286.0 634.5h1.0M284.3 624.7h1.0M248.1 640.2h1.0M241.7 633.6h1.0M256.7 618.0h1.0M237.7 619.2h1.0M245.9 635.7h1.0M246.4 639.9h1.0M264.6 623.4h1.0M248.7 644.6h1.0M262.3 642.2h1.0M256.2 629.4h1.0M257.8 635.0h1.0M263.0 624.3h1.0M266.7 604.0h1.0M260.7 615.1h1.0M263.6 611.2h1.0M253.1 647.9h1.0M248.0 618.3h1.0M238.3 632.4h1.0M243.6 635.5h1.0M260.4 640.2h1.0M245.6 641.0h1.0M239.8 639.1h1.0M278.6 627.6h1.0M288.8 629.1h1.0M276.1 627.6h1.0M262.1 608.7h1.0M254.8 614.4h1.0M258.7 595.4h1.0M262.3 600.1h1.0M266.1 607.8h1.0M288.4 619.3h1.0M280.2 629.5h1.0M285.5 630.7h1.0M282.7 620.0h1.0M286.0 628.8h1.0M274.7 634.8h1.0M269.3 634.5h1.0M264.7 622.5h1.0M238.5 621.3h1.0M260.5 600.0h1.0M246.1 646.4h1.0M240.4 638.0h1.0M253.7 644.5h1.0M240.3 614.3h1.0M239.0 623.0h1.0M248.1 621.7h1.0M248.5 643.1h1.0M264.4 617.5h1.0M260.3 632.3h1.0M242.4 633.9h1.0M244.6 634.1h1.0M239.8 636.5h1.0M261.3 632.9h1.0M263.5 601.8h1.0M265.5 638.6h1.0M250.9 646.2h1.0M255.8 639.9h1.0M260.1 629.4h1.0M242.0 638.9h1.0M237.8 627.3h1.0M249.7 627.3h1.0M238.6 638.0h1.0M248.5 597.6h1.0M265.4 600.5h1.0M265.4 604.2h1.0M259.7 606.0h1.0M261.3 595.8h1.0M243.4 638.5h1.0M246.6 631.4h1.0M247.6 625.6h1.0M237.4 635.1h1.0M243.0 630.4h1.0M256.2 597.6h1.0M262.2 595.7h1.0M244.8 617.1h1.0M264.8 627.5h1.0M240.8 640.5h1.0M254.5 616.2h1.0M258.6 636.5h1.0M262.1 619.7h1.0M281.3 619.5h1.0M280.1 631.6h1.0M276.9 625.3h1.0M281.5 627.0h1.0M278.6 631.1h1.0M293.4 627.0h1.0M276.3 618.1h1.0M287.1 622.1h1.0M292.9 631.9h1.0M287.6 625.4h1.0M255.1 618.5h1.0M261.9 606.8h1.0M254.7 593.1h1.0M260.2 616.2h1.0M244.6 614.0h1.0M268.3 601.1h1.0M287.4 625.2h1.0M279.3 624.1h1.0M244.1 623.6h1.0M249.7 642.2h1.0M251.1 641.0h1.0M261.1 626.3h1.0M263.7 617.6h1.0M237.8 618.6h1.0M245.1 620.6h1.0M260.7 629.0h1.0M242.3 610.7h1.0M260.6 623.6h1.0M241.4 641.2h1.0M255.5 638.1h1.0M255.4 615.9h1.0M245.6 623.6h1.0M260.0 614.6h1.0M254.7 627.7h1.0M241.5 641.7h1.0M259.9 630.9h1.0M259.9 627.4h1.0M260.1 623.1h1.0M265.2 610.8h1.0M241.0 605.9h1.0M256.4 596.4h1.0M240.4 602.3h1.0M240.3 600.9h1.0M247.2 597.6h1.0M240.7 596.1h1.0M240.2 623.2h1.0M255.5 620.0h1.0M247.5 642.6h1.0M244.6 646.9h1.0M264.6 601.8h1.0M253.8 592.9h1.0M237.8 626.2h1.0M244.2 634.9h1.0M248.3 639.6h1.0M234.7 632.1h1.0M244.0 638.0h1.0M250.9 645.3h1.0M236.9 633.5h1.0M245.6 598.0h1.0M239.8 607.1h1.0M255.6 616.2h1.0M243.2 605.6h1.0M264.8 594.7h1.0M240.5 601.7h1.0M263.5 602.7h1.0M243.3 624.9h1.0M245.8 646.3h1.0M253.7 621.7h1.0M236.4 627.2h1.0M259.7 616.7h1.0M243.8 628.7h1.0M240.8 643.3h1.0M255.1 635.5h1.0M255.5 621.6h1.0M265.7 641.1h1.0M261.9 618.5h1.0M248.1 637.6h1.0M247.5 618.0h1.0M235.8 630.2h1.0M255.0 645.8h1.0M249.1 640.2h1.0M246.9 640.1h1.0M257.3 633.2h1.0M242.1 625.4h1.0M263.7 631.0h1.0M265.0 599.8h1.0M266.3 602.4h1.0M236.1 611.0h1.0M268.2 601.7h1.0M240.1 599.0h1.0M241.2 616.7h1.0M260.9 629.9h1.0M262.0 638.2h1.0M235.7 627.8h1.0M268.6 634.9h1.0M263.6 631.4h1.0M277.6 622.0h1.0M288.2 622.1h1.0M279.4 619.0h1.0M280.1 638.3h1.0M289.6 631.3h1.0M273.9 616.8h1.0M277.9 623.5h1.0M286.5 615.1h1.0M260.7 614.0h1.0M265.4 601.6h1.0M284.6 624.2h1.0M283.7 630.9h1.0M283.9 627.2h1.0M258.2 599.2h1.0M241.9 595.9h1.0M267.3 603.6h1.0M262.9 598.6h1.0M245.4 635.9h1.0M251.2 635.1h1.0M239.8 628.2h1.0M248.2 647.3h1.0M246.7 619.5h1.0M243.8 646.6h1.0M243.0 640.9h1.0M243.5 646.9h1.0M242.8 621.2h1.0M266.4 629.5h1.0M261.8 637.3h1.0M256.0 631.2h1.0M241.6 630.8h1.0M242.7 624.7h1.0M264.0 635.1h1.0M261.0 595.9h1.0M240.6 609.2h1.0M245.6 622.1h1.0M258.8 620.6h1.0M267.6 629.6h1.0M263.6 632.7h1.0M242.4 617.6h1.0M241.4 603.0h1.0M245.6 614.7h1.0M266.4 598.8h1.0M244.9 595.6h1.0M241.4 604.5h1.0M260.9 641.1h1.0M244.0 604.7h1.0M258.8 627.7h1.0M261.8 623.7h1.0M251.4 623.0h1.0M255.2 638.4h1.0M261.6 630.3h1.0M263.2 633.9h1.0M238.6 619.3h1.0M255.4 624.0h1.0M251.4 622.8h1.0M236.8 629.8h1.0M255.3 626.6h1.0M269.5 627.1h1.0M257.9 622.7h1.0M269.7 610.3h1.0M256.8 624.4h1.0M264.5 639.6h1.0M262.6 637.6h1.0M242.1 616.2h1.0M255.9 643.0h1.0M259.3 623.4h1.0M240.6 597.0h1.0M239.2 605.9h1.0M241.3 620.8h1.0M247.3 613.2h1.0M255.9 600.0h1.0M260.1 616.1h1.0M281.6 632.4h1.0M274.0 629.5h1.0M285.5 629.0h1.0M279.3 628.2h1.0M285.4 632.7h1.0M280.2 624.7h1.0M289.0 625.4h1.0M283.0 621.9h1.0M276.4 627.1h1.0M235.0 615.0h1.0M256.3 640.2h1.0M254.6 645.3h1.0M245.0 631.4h1.0M242.3 629.3h1.0M251.1 644.4h1.0M255.0 623.3h1.0M244.6 625.6h1.0M254.2 616.0h1.0M259.9 633.6h1.0M242.5 632.6h1.0M243.5 643.2h1.0M259.4 635.1h1.0M243.7 644.5h1.0M269.6 636.2h1.0M248.9 616.8h1.0M262.4 618.5h1.0M254.2 632.7h1.0M252.7 622.3h1.0M259.2 598.1h1.0M261.8 611.8h1.0M245.9 639.2h1.0M258.5 636.6h1.0M260.8 628.9h1.0M253.6 647.1h1.0M248.7 620.0h1.0M254.3 620.5h1.0M247.7 644.5h1.0M250.4 633.5h1.0M244.7 621.1h1.0M234.9 627.5h1.0M261.9 616.4h1.0M261.4 635.9h1.0M248.4 626.1h1.0M260.8 622.5h1.0M257.9 619.3h1.0M238.4 632.9h1.0M258.3 628.5h1.0M253.9 626.2h1.0M264.0 627.6h1.0M256.6 631.4h1.0M267.1 604.0h1.0M260.1 614.9h1.0M238.7 597.1h1.0M249.6 625.2h1.0M265.2 603.0h1.0M241.7 612.0h1.0M262.8 596.4h1.0M276.4 629.7h1.0M275.1 626.0h1.0M283.1 632.5h1.0M281.1 621.1h1.0M278.6 626.6h1.0M279.6 616.1h1.0M267.1 628.6h1.0M284.0 632.0h1.0M273.9 627.3h1.0M276.3 627.4h1.0M280.3 620.1h1.0M287.7 629.2h1.0M280.4 620.4h1.0M285.3 620.6h1.0M243.5 629.9h1.0M253.6 633.0h1.0M242.4 622.8h1.0M254.1 617.9h1.0M246.0 641.6h1.0M252.2 642.5h1.0M250.4 615.5h1.0M255.2 636.0h1.0M244.3 620.1h1.0M242.4 621.8h1.0M254.7 638.7h1.0M247.6 639.1h1.0M257.5 626.1h1.0M239.0 633.8h1.0M262.9 604.9h1.0M242.7 594.4h1.0M262.4 611.8h1.0M241.8 611.6h1.0M243.6 630.3h1.0M264.3 625.8h1.0M247.0 614.8h1.0M262.5 617.7h1.0M237.9 633.3h1.0M230.2 608.2h1.0M240.4 607.6h1.0M287.4 619.7h1.0M279.1 617.2h1.0M280.0 628.0h1.0M235.5 605.2h1.0M235.6 616.3h1.0M244.6 598.3h1.0M248.7 599.8h1.0M234.6 606.9h1.0M294.1 623.1h1.0M278.7 622.0h1.0M241.5 611.1h1.0M236.5 609.3h1.0M231.6 606.8h1.0M237.0 603.5h1.0M236.9 605.7h1.0M267.6 610.7h1.0M261.5 612.2h1.0M244.7 595.8h1.0M266.5 630.8h1.0M278.2 606.6h1.0M279.8 608.7h1.0M255.9 618.3h1.0M238.4 623.7h1.0M234.8 625.9h1.0M244.0 617.5h1.0M246.9 640.7h1.0M249.3 643.8h1.0M246.0 616.3h1.0M256.9 641.8h1.0M261.5 636.4h1.0M272.2 620.3h1.0M264.6 637.6h1.0M244.4 622.9h1.0M242.9 610.1h1.0M254.1 646.8h1.0M257.7 628.8h1.0M274.0 603.3h1.0M280.7 603.3h1.0M285.1 600.2h1.0M284.2 607.5h1.0M284.2 603.3h1.0M253.9 595.8h1.0M267.8 599.8h1.0M276.9 605.3h1.0M268.9 605.0h1.0M279.2 608.0h1.0M285.7 604.2h1.0M278.8 607.5h1.0M281.8 609.9h1.0M273.9 599.9h1.0M259.8 620.2h1.0M263.5 595.7h1.0M260.8 600.9h1.0M262.6 608.0h1.0M281.8 610.9h1.0M274.7 606.2h1.0M286.4 601.2h1.0M283.8 601.6h1.0M272.8 609.1h1.0M245.6 615.0h1.0M236.7 615.1h1.0M231.9 610.2h1.0M236.6 601.2h1.0M231.1 607.1h1.0M245.0 612.1h1.0M234.9 607.1h1.0M246.9 614.3h1.0M237.8 614.9h1.0M244.4 603.3h1.0M258.7 601.7h1.0M246.0 611.6h1.0M260.1 616.5h1.0M246.1 597.4h1.0M236.0 612.3h1.0M237.6 607.9h1.0M238.7 609.2h1.0M231.3 607.5h1.0M243.1 607.5h1.0M234.4 607.3h1.0M241.0 616.5h1.0M279.3 610.2h1.0M277.3 605.1h1.0M277.3 603.3h1.0M283.8 603.6h1.0M287.8 606.5h1.0M288.2 604.2h1.0M287.2 604.7h1.0M269.8 604.3h1.0M235.1 606.9h1.0M260.2 602.0h1.0M239.8 616.7h1.0M253.7 596.3h1.0M281.1 600.5h1.0M277.6 609.5h1.0M270.5 603.1h1.0M273.9 606.9h1.0M272.1 600.7h1.0M277.5 605.3h1.0M280.0 608.0h1.0M280.1 601.5h1.0M281.3 599.0h1.0M280.0 603.6h1.0M291.6 600.9h1.0M286.3 609.5h1.0M288.1 601.7h1.0M276.8 603.2h1.0M275.5 604.7h1.0M279.2 603.4h1.0M287.9 605.1h1.0M285.6 606.9h1.0M268.2 595.7h1.0M262.0 611.5h1.0M272.3 606.9h1.0M238.4 603.1h1.0M242.0 603.7h1.0M248.7 597.3h1.0M269.1 598.8h1.0M272.5 601.8h1.0M280.8 609.9h1.0M291.1 608.7h1.0M289.2 608.9h1.0M259.4 612.9h1.0M265.4 607.9h1.0M267.7 600.7h1.0M236.3 601.9h1.0M235.7 603.5h1.0M236.6 606.9h1.0M236.6 603.9h1.0M231.7 609.3h1.0M247.1 609.7h1.0M243.8 607.4h1.0M239.5 599.7h1.0M245.5 614.5h1.0M236.1 604.8h1.0M237.2 619.6h1.0M242.2 605.6h1.0M236.5 611.9h1.0M240.2 604.8h1.0M237.5 611.7h1.0M241.1 612.2h1.0M242.5 611.3h1.0M288.9 625.8h1.0M285.2 603.9h1.0M284.2 606.4h1.0M284.6 607.0h1.0M274.2 599.7h1.0M274.9 601.2h1.0M272.3 602.3h1.0M268.5 601.3h1.0M280.1 608.9h1.0M287.8 606.9h1.0M277.9 601.4h1.0M286.9 603.2h1.0M272.5 606.7h1.0M278.3 608.5h1.0M279.4 608.1h1.0M274.5 598.5h1.0M274.3 605.1h1.0M273.4 606.0h1.0M283.6 604.1h1.0M278.5 611.5h1.0M278.6 601.8h1.0M273.1 604.1h1.0M279.6 601.6h1.0M274.5 599.7h1.0M285.9 602.2h1.0M281.0 604.9h1.0M272.0 602.8h1.0M288.6 604.4h1.0M273.7 604.4h1.0M275.9 602.2h1.0M281.1 598.6h1.0M280.9 607.5h1.0M290.9 607.9h1.0M277.8 601.0h1.0M282.9 600.8h1.0M278.7 608.8h1.0M286.0 600.6h1.0M274.0 600.1h1.0M272.9 608.2h1.0M269.2 606.8h1.0M237.3 615.1h1.0M238.3 608.2h1.0M277.4 620.0h1.0M239.3 630.3h1.0M257.9 613.5h1.0M253.6 597.0h1.0M253.7 595.0h1.0M247.0 619.8h1.0M260.7 607.2h1.0M286.1 633.3h1.0M276.7 631.2h1.0M243.5 631.3h1.0M247.4 647.6h1.0M275.6 624.0h1.0M291.7 626.2h1.0M261.7 635.6h1.0M278.1 615.8h1.0M270.3 605.8h1.0" stroke="rgb(53, 86, 188)" stroke-width="1.0" stroke-opacity="0.65"/>
<path d="M244.6 630.1h1.0M248.6 645.6h1.0M273.7 601.4h1.0M246.9 608.8h1.0M259.5 600.6h1.0M263.8 612.1h1.0M249.8 609.5h1.0M265.6 610.2h1.0M242.8 619.1h1.0M261.9 626.7h1.0M261.1 632.9h1.0M243.6 638.5h1.0M255.9 628.0h1.0M257.7 638.9h1.0M252.8 623.7h1.0M246.0 627.3h1.0M254.9 616.6h1.0M254.5 626.9h1.0M247.1 629.8h1.0M243.4 638.6h1.0M252.0 641.8h1.0M259.1 623.7h1.0M262.5 602.8h1.0M247.4 643.3h1.0M259.3 627.8h1.0M246.8 643.7h1.0M248.5 622.2h1.0M254.5 622.9h1.0M251.4 614.2h1.0M259.5 633.4h1.0M250.7 646.0h1.0M243.7 609.7h1.0M241.7 615.7h1.0M259.9 599.6h1.0M236.8 602.0h1.0M250.6 602.2h1.0M255.5 618.8h1.0M247.9 639.8h1.0M256.8 642.0h1.0M244.0 626.9h1.0M286.0 602.5h1.0M270.3 604.2h1.0M280.6 604.1h1.0M283.9 600.8h1.0M280.6 603.4h1.0M268.3 608.9h1.0M283.3 607.9h1.0M269.8 606.9h1.0M266.5 607.1h1.0M281.1 608.5h1.0M276.5 603.0h1.0M286.6 605.2h1.0M284.9 605.1h1.0M281.9 604.4h1.0M282.6 602.0h1.0M279.3 602.6h1.0M247.0 630.9h1.0M249.6 600.7h1.0M254.9 595.5h1.0M284.7 604.2h1.0M281.0 607.2h1.0M282.6 607.3h1.0M275.2 605.0h1.0M272.7 604.1h1.0M235.1 608.2h1.0M235.3 605.5h1.0M233.1 608.3h1.0M237.1 612.4h1.0M240.7 612.3h1.0M235.8 608.8h1.0M238.9 611.9h1.0M250.8 615.5h1.0M243.5 602.3h1.0M233.6 607.2h1.0M244.1 613.1h1.0M238.6 605.2h1.0M252.4 597.9h1.0M272.9 603.9h1.0M241.1 611.6h1.0M239.3 613.2h1.0M283.7 604.1h1.0M282.9 604.5h1.0M280.1 604.7h1.0M273.8 602.2h1.0M278.7 602.3h1.0M270.4 602.0h1.0M256.4 601.9h1.0M248.4 598.6h1.0M233.6 606.3h1.0M252.6 603.7h1.0M268.6 602.1h1.0M246.6 601.8h1.0M259.5 612.2h1.0M258.7 619.9h1.0M283.1 604.6h1.0M279.4 606.9h1.0M245.4 599.4h1.0M259.7 603.9h1.0M249.0 601.0h1.0M242.9 610.8h1.0M244.2 614.5h1.0M258.7 604.3h1.0M257.2 603.2h1.0M259.6 597.7h1.0M271.4 604.6h1.0M249.8 598.8h1.0M257.3 612.8h1.0M236.4 608.6h1.0M244.4 613.3h1.0M234.2 608.7h1.0M241.0 601.3h1.0M233.9 604.8h1.0M270.5 605.6h1.0M281.9 605.8h1.0M275.4 601.3h1.0M286.0 602.6h1.0M279.9 600.6h1.0M282.3 609.2h1.0M281.6 602.1h1.0M281.3 604.1h1.0M234.6 608.6h1.0M244.8 608.3h1.0M241.4 612.8h1.0M254.5 598.1h1.0M264.4 602.5h1.0M250.3 614.2h1.0M265.2 606.1h1.0M279.7 607.4h1.0M245.5 605.1h1.0M258.5 606.2h1.0M265.9 607.9h1.0M262.7 598.5h1.0M258.6 608.8h1.0M260.3 607.9h1.0M251.9 609.0h1.0M261.8 609.5h1.0M273.3 607.1h1.0M265.1 609.0h1.0M280.1 605.0h1.0M268.7 605.8h1.0M274.8 603.1h1.0M247.4 608.3h1.0M237.6 607.1h1.0M239.4 612.5h1.0M241.6 607.2h1.0M261.7 597.1h1.0M279.1 604.6h1.0M256.1 619.5h1.0M247.3 625.4h1.0M241.2 617.9h1.0M284.3 601.7h1.0M272.5 605.4h1.0M233.8 607.3h1.0M243.8 611.3h1.0M243.3 610.5h1.0M237.1 607.3h1.0M235.4 605.5h1.0M245.9 611.5h1.0M236.1 607.9h1.0M241.7 605.2h1.0M236.9 608.3h1.0M259.0 610.5h1.0M286.4 622.6h1.0M278.0 622.3h1.0M243.4 600.4h1.0M252.9 603.3h1.0M263.1 610.9h1.0M249.6 611.3h1.0M252.1 626.2h1.0M252.5 625.5h1.0M261.2 623.2h1.0M247.3 609.1h1.0M262.8 596.9h1.0M255.0 598.7h1.0M266.2 599.4h1.0M249.1 598.7h1.0M260.6 633.4h1.0M241.3 623.6h1.0M246.4 629.4h1.0M257.0 624.7h1.0M244.8 634.6h1.0M244.5 634.5h1.0M247.3 623.6h1.0M243.3 636.3h1.0M253.2 601.2h1.0M278.8 619.1h1.0M276.5 626.3h1.0M243.8 612.5h1.0M243.7 610.0h1.0M241.9 605.0h1.0M238.6 604.2h1.0M234.1 606.4h1.0M284.4 623.2h1.0M289.4 625.0h1.0M281.2 631.0h1.0M279.9 629.8h1.0M279.0 604.7h1.0M259.1 604.0h1.0M258.9 621.9h1.0M259.0 605.0h1.0M267.8 601.1h1.0M264.1 596.5h1.0M267.6 600.9h1.0M254.2 599.1h1.0M265.6 609.5h1.0M246.7 599.7h1.0M246.0 603.6h1.0M253.7 601.0h1.0M258.1 611.2h1.0M262.2 605.1h1.0M238.1 608.1h1.0M250.9 605.9h1.0M259.9 597.8h1.0M251.2 596.2h1.0M279.1 628.2h1.0M260.4 612.0h1.0M263.9 597.0h1.0M252.4 639.7h1.0M247.1 623.0h1.0M258.3 601.1h1.0M262.1 595.6h1.0M245.9 605.7h1.0M270.9 606.1h1.0M250.4 602.1h1.0M264.9 610.1h1.0M262.7 595.8h1.0M245.6 600.0h1.0M265.4 608.8h1.0M244.1 615.2h1.0M262.8 599.2h1.0M250.5 614.5h1.0M258.5 602.7h1.0M255.7 601.7h1.0M242.2 604.4h1.0M256.0 597.9h1.0M240.2 607.3h1.0M289.8 626.0h1.0M279.4 630.0h1.0M279.5 627.8h1.0M286.0 624.1h1.0M250.3 628.4h1.0M264.0 632.7h1.0M261.6 639.7h1.0M258.7 606.3h1.0M246.8 603.1h1.0M256.2 603.7h1.0M246.1 603.3h1.0M249.1 598.8h1.0M253.9 614.6h1.0M263.0 599.4h1.0M242.7 612.7h1.0M262.4 607.8h1.0M248.8 603.2h1.0M254.7 605.6h1.0M240.8 624.8h1.0M254.6 635.2h1.0M253.4 629.1h1.0M240.2 630.4h1.0M246.7 644.5h1.0M241.4 630.2h1.0M249.8 610.6h1.0M253.4 611.5h1.0M260.4 623.5h1.0M238.7 633.3h1.0M248.3 645.7h1.0M251.8 638.8h1.0M253.6 612.7h1.0M250.0 627.7h1.0M256.0 625.2h1.0M261.6 639.7h1.0M258.8 635.4h1.0M247.9 617.2h1.0M244.5 602.7h1.0M243.2 599.9h1.0M255.1 639.3h1.0M251.4 612.8h1.0M254.2 615.0h1.0M256.3 606.0h1.0M257.0 605.3h1.0M248.9 606.1h1.0M247.8 600.6h1.0M283.2 629.7h1.0M243.1 597.5h1.0M240.9 638.2h1.0M256.2 636.9h1.0M248.6 641.4h1.0M250.1 617.5h1.0M249.6 620.5h1.0M260.4 634.1h1.0M259.3 640.5h1.0M249.3 632.2h1.0M254.9 609.4h1.0M251.6 610.1h1.0M247.9 611.8h1.0M259.1 620.2h1.0M258.3 631.2h1.0M248.7 609.8h1.0M240.1 609.5h1.0M245.6 601.1h1.0M244.6 631.2h1.0M253.1 634.1h1.0M252.3 642.4h1.0M245.3 628.7h1.0M247.4 621.3h1.0M252.2 640.5h1.0M254.4 625.4h1.0M249.6 640.0h1.0M260.2 631.8h1.0M253.1 645.1h1.0M248.2 642.9h1.0M252.1 600.9h1.0M254.7 609.6h1.0M249.8 638.6h1.0M257.0 617.4h1.0M260.7 637.7h1.0M243.3 623.3h1.0M264.2 603.7h1.0M239.6 623.9h1.0M239.4 628.3h1.0M252.1 621.7h1.0M247.1 618.8h1.0M255.6 635.3h1.0M247.6 642.1h1.0M262.8 633.4h1.0M247.2 598.1h1.0M244.0 612.3h1.0M260.3 601.9h1.0M252.4 610.8h1.0M254.0 597.7h1.0M251.1 596.3h1.0M250.0 596.3h1.0M241.2 631.0h1.0M261.1 639.7h1.0M249.9 626.7h1.0M242.0 625.0h1.0M251.2 641.5h1.0M245.6 641.8h1.0M253.0 630.4h1.0M251.5 646.1h1.0M256.8 624.2h1.0M257.6 631.1h1.0M258.2 627.0h1.0M254.4 634.4h1.0M255.6 641.0h1.0M257.3 640.1h1.0M253.9 623.8h1.0M257.3 635.2h1.0M242.1 629.6h1.0M243.5 634.2h1.0M250.6 623.0h1.0M258.7 628.2h1.0M249.3 613.6h1.0M254.5 626.7h1.0M252.6 609.0h1.0M244.4 620.4h1.0M261.6 639.3h1.0M246.7 630.0h1.0M253.1 645.3h1.0M245.3 613.3h1.0M251.1 641.7h1.0M262.1 613.2h1.0M254.5 600.2h1.0M263.1 603.3h1.0M266.6 606.3h1.0M257.4 632.6h1.0M244.7 627.1h1.0M247.5 624.0h1.0M247.4 612.3h1.0M244.1 636.5h1.0M258.3 625.7h1.0M256.7 616.8h1.0M255.0 642.9h1.0M257.1 626.4h1.0M248.2 635.0h1.0M247.5 634.2h1.0M256.5 625.8h1.0M246.7 601.8h1.0M242.6 618.8h1.0M264.1 627.2h1.0M247.5 619.1h1.0M255.8 638.6h1.0M251.5 624.1h1.0M253.7 633.3h1.0M240.3 622.3h1.0M259.9 630.2h1.0M237.1 610.5h1.0M242.1 626.2h1.0M257.8 613.8h1.0M251.7 631.8h1.0M252.6 609.4h1.0M246.9 619.8h1.0M254.9 606.2h1.0M259.0 636.2h1.0M250.4 606.4h1.0M245.6 639.2h1.0M244.5 616.9h1.0M250.5 633.8h1.0M254.5 625.8h1.0M260.3 638.9h1.0M247.0 635.4h1.0M250.6 635.5h1.0M246.4 630.5h1.0M247.9 633.3h1.0M256.1 636.4h1.0M243.8 629.6h1.0M244.8 637.4h1.0M259.2 640.1h1.0M237.9 627.0h1.0M240.4 623.0h1.0M246.2 643.0h1.0M248.3 619.4h1.0M260.4 622.2h1.0M262.2 603.1h1.0M258.9 616.9h1.0M246.5 608.0h1.0M250.1 606.9h1.0M258.1 637.3h1.0M249.3 628.3h1.0M255.3 629.4h1.0M251.1 629.0h1.0M253.9 624.9h1.0M252.9 639.6h1.0M242.5 631.7h1.0M252.0 616.1h1.0M242.9 615.0h1.0M258.8 616.5h1.0M253.9 629.2h1.0M260.7 634.8h1.0M254.9 636.1h1.0M253.1 621.7h1.0M252.5 629.7h1.0M256.5 626.0h1.0M251.2 620.0h1.0M252.3 617.7h1.0M242.4 601.8h1.0M241.6 636.2h1.0M259.1 631.5h1.0M244.6 620.2h1.0M259.8 633.9h1.0M244.0 633.4h1.0M247.6 606.5h1.0M261.2 606.2h1.0M255.4 612.4h1.0M248.4 601.4h1.0M259.0 602.0h1.0M263.0 597.7h1.0M250.6 610.1h1.0M247.9 642.9h1.0M248.7 630.5h1.0M243.4 640.0h1.0M255.3 617.6h1.0M252.9 631.7h1.0M254.5 626.5h1.0M251.0 638.6h1.0M240.9 608.7h1.0M247.6 630.2h1.0M261.5 596.6h1.0M249.2 612.0h1.0M261.1 607.5h1.0M252.0 628.1h1.0M241.5 630.7h1.0M243.1 626.2h1.0M250.7 618.8h1.0M251.7 644.4h1.0M247.3 642.9h1.0M249.2 630.5h1.0M241.0 612.2h1.0M243.9 638.3h1.0M253.3 638.2h1.0M256.7 619.5h1.0M251.7 611.6h1.0M257.0 608.2h1.0M244.7 622.4h1.0M262.4 625.1h1.0M257.7 620.2h1.0M249.4 637.7h1.0M252.5 617.1h1.0M256.1 615.4h1.0M248.4 624.1h1.0M245.1 626.0h1.0M252.8 611.7h1.0M256.7 634.5h1.0M255.2 617.0h1.0M241.3 627.1h1.0M244.9 630.9h1.0M246.2 619.1h1.0M253.0 618.9h1.0M248.2 631.5h1.0M252.6 622.2h1.0M259.0 633.3h1.0M256.0 627.5h1.0M248.6 619.9h1.0M256.6 639.0h1.0M263.0 628.9h1.0M244.6 630.8h1.0M252.4 632.0h1.0M250.7 597.7h1.0M264.0 608.8h1.0M258.0 624.6h1.0M245.3 625.0h1.0M251.5 621.0h1.0M248.2 638.1h1.0M249.9 632.0h1.0M242.9 633.1h1.0M248.3 624.4h1.0M238.2 610.6h1.0M251.2 601.4h1.0M239.7 609.9h1.0M249.6 621.1h1.0M245.9 604.0h1.0M267.2 603.2h1.0M258.3 605.9h1.0M255.0 610.1h1.0M252.2 613.0h1.0M259.9 635.7h1.0M280.7 622.0h1.0M286.1 625.3h1.0M239.3 606.3h1.0M260.6 626.9h1.0M242.1 609.8h1.0M282.8 606.6h1.0M274.4 602.5h1.0M281.9 605.7h1.0M237.2 609.5h1.0M271.0 607.3h1.0M264.9 607.8h1.0M246.1 600.2h1.0M255.2 597.9h1.0M266.4 606.3h1.0M267.0 601.5h1.0M274.7 601.3h1.0M283.6 608.0h1.0M284.4 604.5h1.0M270.6 607.5h1.0M273.1 605.8h1.0M280.9 603.2h1.0M260.6 631.8h1.0M279.9 604.4h1.0M273.0 603.9h1.0M277.6 604.5h1.0M280.9 605.9h1.0M279.6 601.7h1.0M281.9 607.5h1.0M282.9 609.0h1.0M240.3 624.0h1.0M253.4 623.9h1.0M263.8 630.2h1.0M243.6 640.3h1.0M254.2 629.8h1.0M258.8 633.4h1.0M253.1 640.5h1.0M253.9 635.2h1.0M245.0 633.8h1.0M256.9 621.4h1.0M258.5 630.1h1.0M276.9 628.0h1.0M256.0 620.1h1.0M247.6 623.7h1.0M258.7 599.0h1.0M259.4 609.6h1.0M253.1 601.8h1.0M242.7 643.7h1.0M249.1 599.5h1.0M248.5 602.1h1.0M263.0 602.8h1.0M259.8 597.9h1.0M242.0 603.6h1.0" stroke="rgb(46, 106, 200)" stroke-width="1.0" stroke-opacity="0.65"/>
<path d="M249.1 602.3h1.0M255.6 618.5h1.0M252.1 607.0h1.0M247.5 600.4h1.0M259.7 599.1h1.0M279.7 604.0h1.0M258.3 629.8h1.0M258.6 611.3h1.0M251.2 607.3h1.0M251.0 606.5h1.0M265.9 608.2h1.0M242.5 613.1h1.0M260.4 610.3h1.0M252.6 640.6h1.0M261.7 608.9h1.0M239.5 606.5h1.0M254.6 614.5h1.0M252.8 612.3h1.0M251.9 605.3h1.0M283.0 607.2h1.0M245.1 597.9h1.0M246.9 610.0h1.0M246.7 598.8h1.0M256.4 599.2h1.0M249.4 636.3h1.0M253.7 637.1h1.0M251.1 633.8h1.0M253.3 616.7h1.0M261.2 635.1h1.0M255.8 634.2h1.0M251.5 629.3h1.0M245.2 597.6h1.0M246.2 613.0h1.0M261.8 599.4h1.0M258.2 609.4h1.0M249.9 629.7h1.0M262.4 612.3h1.0M252.2 611.4h1.0M238.3 605.5h1.0M245.4 610.8h1.0M256.8 637.7h1.0M247.4 600.9h1.0M242.8 636.0h1.0M258.0 605.6h1.0M261.0 601.3h1.0M253.1 615.2h1.0M243.9 605.6h1.0M245.1 625.7h1.0M256.0 620.9h1.0M251.2 633.7h1.0M256.4 629.8h1.0M245.6 629.8h1.0M250.5 602.0h1.0M246.0 631.0h1.0M255.0 633.9h1.0M250.6 619.4h1.0M247.3 621.4h1.0M247.9 597.7h1.0M249.3 604.6h1.0M253.2 603.3h1.0M260.2 598.5h1.0M255.6 635.4h1.0M249.8 619.3h1.0M255.7 621.3h1.0M244.9 632.4h1.0M262.7 632.8h1.0M266.5 607.1h1.0M251.5 631.5h1.0M261.0 622.5h1.0M258.7 597.4h1.0M242.7 602.4h1.0M250.5 607.1h1.0M254.9 622.5h1.0M259.9 630.3h1.0M258.3 620.4h1.0M254.3 615.6h1.0M255.9 623.9h1.0M249.0 617.3h1.0M246.4 604.0h1.0M260.1 613.5h1.0M245.7 607.4h1.0M237.9 606.7h1.0M237.4 608.6h1.0M236.4 607.3h1.0M245.4 614.5h1.0M240.7 612.4h1.0M245.6 599.7h1.0M244.1 605.7h1.0M252.8 602.1h1.0M249.2 640.4h1.0M284.4 603.0h1.0M244.2 636.3h1.0M247.9 611.6h1.0M266.2 605.3h1.0M247.3 604.3h1.0M244.3 607.8h1.0M249.6 624.4h1.0M248.3 634.1h1.0M243.8 623.3h1.0M245.2 604.9h1.0M264.8 602.9h1.0M242.7 614.8h1.0M263.6 603.1h1.0M256.0 614.6h1.0M255.1 634.2h1.0M250.9 639.9h1.0M258.3 638.4h1.0M246.2 634.4h1.0M252.9 639.7h1.0M255.7 628.0h1.0M260.2 632.4h1.0M250.3 633.2h1.0M250.1 640.4h1.0M246.2 630.7h1.0M259.8 635.9h1.0M251.3 626.9h1.0M255.7 622.2h1.0M253.9 613.9h1.0M255.5 620.9h1.0M251.6 639.4h1.0M248.9 601.6h1.0M255.8 612.7h1.0M242.7 609.1h1.0M245.8 601.3h1.0M242.2 612.5h1.0M243.8 635.4h1.0M250.4 630.7h1.0M246.3 615.1h1.0M247.8 609.8h1.0M259.3 606.0h1.0M263.6 606.5h1.0M248.3 608.5h1.0M255.7 604.7h1.0M257.9 610.6h1.0M260.9 611.5h1.0M248.7 612.3h1.0M248.3 604.9h1.0M258.6 606.9h1.0M251.4 602.7h1.0M253.8 603.9h1.0M250.9 608.3h1.0M243.4 606.4h1.0M256.7 599.0h1.0M258.9 597.1h1.0M261.8 597.2h1.0M247.5 641.6h1.0M251.7 638.2h1.0M250.1 618.2h1.0M248.7 642.4h1.0M247.7 615.9h1.0M253.9 626.6h1.0M245.2 625.2h1.0M255.3 596.4h1.0M256.7 599.4h1.0M256.4 603.6h1.0M250.0 626.7h1.0M255.5 630.0h1.0M248.6 609.9h1.0M252.8 601.6h1.0M249.6 601.6h1.0M240.6 603.5h1.0M256.3 599.6h1.0M257.7 601.7h1.0M255.1 602.8h1.0M253.3 628.7h1.0M256.0 623.2h1.0M257.0 638.9h1.0M246.0 625.2h1.0M254.8 611.0h1.0M251.6 604.9h1.0M241.7 626.3h1.0M254.7 616.8h1.0M251.2 643.9h1.0M260.0 601.7h1.0M261.1 600.7h1.0M258.6 610.5h1.0M247.0 626.7h1.0M252.0 638.3h1.0M252.1 628.6h1.0M250.7 629.6h1.0M259.3 633.5h1.0M247.2 642.9h1.0M265.7 606.9h1.0M255.3 607.8h1.0M264.3 601.9h1.0M243.3 601.7h1.0M264.8 607.2h1.0M247.0 599.2h1.0M249.8 611.5h1.0M259.7 604.4h1.0M258.0 624.1h1.0M244.4 622.4h1.0M266.2 605.0h1.0M245.5 605.7h1.0M249.4 611.6h1.0M252.9 604.5h1.0M245.7 622.0h1.0M259.9 639.0h1.0M250.3 628.9h1.0M248.5 619.3h1.0M254.2 600.1h1.0M248.9 629.3h1.0M244.4 636.9h1.0M255.6 634.6h1.0M254.0 640.4h1.0M248.2 628.3h1.0M252.3 621.2h1.0M254.1 641.4h1.0M255.1 612.9h1.0M255.0 611.8h1.0M242.2 636.5h1.0M245.1 627.5h1.0M244.6 610.9h1.0M248.5 611.4h1.0M238.1 606.0h1.0M247.7 604.2h1.0M255.1 630.0h1.0M243.2 628.3h1.0M245.9 618.0h1.0M259.4 609.0h1.0M252.6 597.1h1.0M249.8 611.9h1.0M263.9 609.5h1.0M239.8 611.5h1.0M246.4 610.4h1.0M258.6 631.2h1.0M246.6 641.0h1.0M251.1 626.9h1.0M252.2 639.2h1.0M250.0 642.5h1.0M263.3 606.4h1.0M258.8 597.7h1.0M252.0 609.8h1.0M256.5 610.3h1.0M249.9 607.1h1.0M244.4 633.2h1.0M258.1 636.2h1.0M265.0 605.8h1.0M249.4 608.1h1.0M243.2 602.2h1.0M255.3 614.3h1.0M262.1 629.9h1.0M247.8 641.0h1.0M255.1 621.1h1.0M247.4 636.0h1.0M252.0 613.0h1.0M254.2 609.8h1.0M253.3 602.9h1.0M249.9 626.1h1.0M243.7 621.1h1.0M255.6 632.5h1.0M254.7 616.9h1.0M260.7 602.0h1.0M250.4 629.1h1.0M241.0 635.1h1.0M245.9 631.4h1.0M257.4 630.8h1.0M253.3 612.1h1.0M249.4 624.5h1.0M256.4 619.7h1.0M254.3 613.2h1.0M255.9 627.5h1.0M250.3 645.6h1.0M258.7 627.2h1.0M255.9 630.7h1.0M257.0 617.1h1.0M252.2 620.2h1.0M256.7 638.9h1.0M259.2 624.7h1.0M250.6 634.0h1.0M248.7 645.2h1.0M248.5 643.7h1.0M249.4 620.0h1.0M255.4 636.4h1.0M257.2 598.4h1.0M246.9 598.6h1.0M257.9 640.0h1.0M244.4 635.0h1.0M246.0 636.9h1.0M253.5 640.0h1.0M252.2 619.2h1.0M256.7 615.5h1.0M259.9 631.4h1.0M249.0 623.2h1.0M253.4 642.1h1.0M261.3 631.1h1.0M254.7 633.5h1.0M256.2 632.4h1.0M246.5 617.9h1.0M253.3 608.4h1.0M250.3 604.9h1.0M244.3 629.8h1.0M259.9 609.2h1.0M258.5 627.8h1.0M242.9 624.6h1.0M255.3 614.7h1.0M245.2 636.4h1.0M246.1 627.9h1.0M258.2 623.0h1.0M254.5 603.8h1.0M254.2 610.0h1.0M257.1 633.1h1.0M252.1 628.4h1.0M260.4 622.1h1.0M249.8 616.1h1.0M243.7 633.6h1.0M250.9 637.9h1.0M259.7 623.2h1.0M242.0 633.1h1.0M251.6 627.9h1.0M259.1 633.6h1.0M252.9 635.0h1.0M246.1 617.6h1.0M245.1 623.4h1.0M247.7 630.4h1.0M245.6 629.2h1.0M248.5 625.8h1.0M260.9 605.8h1.0M243.4 601.8h1.0M256.0 598.6h1.0M242.1 625.5h1.0M252.5 641.8h1.0M263.1 610.7h1.0M266.5 608.8h1.0M247.7 633.9h1.0M249.9 625.6h1.0M254.4 622.5h1.0M252.8 627.0h1.0M251.8 627.5h1.0M249.2 635.8h1.0M256.9 627.1h1.0M254.0 639.0h1.0M250.9 635.6h1.0M261.1 634.0h1.0M247.6 616.9h1.0M257.7 626.9h1.0M246.9 642.7h1.0M245.5 623.1h1.0M246.9 641.6h1.0M245.5 616.2h1.0M256.7 625.9h1.0M259.3 626.8h1.0M256.8 631.2h1.0M246.1 625.9h1.0M251.3 632.9h1.0M252.7 613.9h1.0M256.7 637.0h1.0M250.3 618.9h1.0M242.1 634.1h1.0M261.4 623.0h1.0M249.1 625.9h1.0M234.8 605.2h1.0M250.6 614.7h1.0M259.7 626.9h1.0M252.1 643.5h1.0M243.7 635.9h1.0M244.3 628.9h1.0M252.9 634.9h1.0M248.0 625.0h1.0M247.2 599.8h1.0M253.5 633.7h1.0M261.3 633.5h1.0M249.2 630.2h1.0M252.4 641.9h1.0M249.5 622.1h1.0M254.1 632.7h1.0M248.3 622.0h1.0M256.7 624.4h1.0M250.0 618.4h1.0M248.4 622.9h1.0M245.9 603.0h1.0M261.5 605.1h1.0M260.1 605.4h1.0M266.2 604.7h1.0M247.6 613.2h1.0M252.4 642.5h1.0M252.3 623.0h1.0M254.7 596.4h1.0M252.4 597.8h1.0M261.5 602.3h1.0M253.1 613.7h1.0M248.7 640.7h1.0M260.2 602.5h1.0M248.8 641.3h1.0M258.5 624.1h1.0M257.9 609.6h1.0M250.7 618.9h1.0M244.4 614.0h1.0M253.9 623.2h1.0M253.2 642.5h1.0M256.1 640.5h1.0M256.0 621.1h1.0M249.4 618.6h1.0M243.8 628.9h1.0M245.2 633.2h1.0M254.0 628.2h1.0M243.5 616.3h1.0M256.3 617.8h1.0M247.0 639.2h1.0M255.5 634.1h1.0M250.8 633.3h1.0M252.5 637.9h1.0M249.9 624.2h1.0M261.7 608.0h1.0M263.2 606.6h1.0M247.0 631.7h1.0M255.6 628.2h1.0M257.3 621.6h1.0M255.3 604.5h1.0M258.0 602.5h1.0M257.3 610.8h1.0M253.5 602.5h1.0M251.4 604.1h1.0M244.9 626.1h1.0M247.4 628.4h1.0M254.5 624.1h1.0M259.1 603.2h1.0M253.6 608.9h1.0M261.5 604.2h1.0M239.6 610.5h1.0M245.7 611.9h1.0M242.4 608.3h1.0M241.5 609.1h1.0M255.8 599.2h1.0M255.6 596.0h1.0M264.5 604.8h1.0M239.4 606.5h1.0M242.7 612.5h1.0M245.4 608.1h1.0M240.7 603.3h1.0M235.7 604.6h1.0M237.1 609.4h1.0M256.7 606.2h1.0M247.3 611.0h1.0M256.0 606.4h1.0M258.9 608.5h1.0M244.7 615.4h1.0M242.5 627.5h1.0M254.5 637.9h1.0M282.8 604.1h1.0M253.1 612.3h1.0M242.2 605.6h1.0M251.2 606.6h1.0M240.3 605.9h1.0M240.7 609.3h1.0M263.7 602.6h1.0M249.7 613.6h1.0M252.1 601.2h1.0M252.6 628.1h1.0M257.8 628.8h1.0M264.6 600.6h1.0M258.6 606.6h1.0M256.9 615.0h1.0M257.9 605.7h1.0M245.5 605.7h1.0M248.6 601.5h1.0M259.9 612.4h1.0M281.4 606.0h1.0M255.4 598.2h1.0" stroke="rgb(40, 140, 210)" stroke-width="1.0" stroke-opacity="0.65"/>
<path d="M252.2 600.9h1.0M242.8 607.8h1.0M244.3 608.5h1.0M246.2 610.2h1.0M248.5 608.0h1.0M251.8 636.0h1.0M263.2 606.1h1.0M254.7 605.5h1.0M243.5 630.2h1.0M246.1 610.6h1.0M256.7 624.4h1.0M259.5 635.7h1.0M250.7 642.1h1.0M252.2 611.1h1.0M247.5 602.9h1.0M246.4 607.1h1.0M252.3 615.1h1.0M256.8 621.3h1.0M253.1 628.5h1.0M245.9 620.5h1.0M244.6 622.8h1.0M254.2 621.5h1.0M258.0 628.8h1.0M250.5 620.2h1.0M250.4 600.5h1.0M251.6 631.3h1.0M247.9 606.9h1.0M252.3 638.1h1.0M259.5 608.4h1.0M250.9 622.3h1.0M243.1 633.5h1.0M248.8 618.9h1.0M246.2 602.8h1.0M263.6 608.1h1.0M247.2 620.8h1.0M251.0 620.8h1.0M250.9 603.4h1.0M249.2 622.1h1.0M249.2 616.0h1.0M249.1 598.8h1.0M251.2 600.4h1.0M249.5 598.8h1.0M248.9 619.2h1.0M257.5 629.4h1.0M246.1 612.6h1.0M253.0 620.3h1.0M246.1 613.4h1.0M257.8 603.0h1.0M253.5 602.6h1.0M258.0 605.5h1.0M253.8 610.9h1.0M246.1 599.4h1.0M253.1 638.1h1.0M253.4 610.8h1.0M250.7 643.4h1.0M252.2 638.3h1.0M261.7 603.4h1.0M248.1 615.4h1.0M253.5 599.0h1.0M252.7 616.3h1.0M256.3 607.1h1.0M249.9 630.8h1.0M254.0 636.2h1.0M255.0 628.7h1.0M258.2 604.3h1.0M243.2 605.9h1.0M249.4 600.5h1.0M251.3 608.0h1.0M261.6 600.6h1.0M252.8 600.3h1.0M249.2 637.0h1.0M249.3 642.3h1.0M251.5 634.9h1.0M250.6 634.7h1.0M246.1 625.0h1.0M255.7 598.5h1.0M258.8 600.8h1.0M251.9 607.5h1.0M257.5 619.5h1.0M245.1 604.9h1.0M246.2 603.2h1.0M259.0 607.6h1.0M261.1 603.3h1.0M248.4 619.3h1.0M253.3 611.6h1.0M260.3 631.9h1.0M253.8 626.9h1.0M245.3 631.4h1.0M260.0 612.3h1.0M257.1 598.6h1.0M243.6 602.2h1.0M245.6 600.6h1.0M244.5 633.7h1.0M260.6 602.8h1.0M250.0 618.2h1.0M255.7 621.3h1.0M249.0 606.6h1.0M240.5 606.0h1.0M254.4 613.5h1.0M252.3 604.8h1.0M246.2 604.7h1.0M259.9 610.9h1.0M246.6 600.8h1.0M241.4 607.0h1.0M243.5 602.8h1.0M252.8 637.7h1.0M255.2 617.8h1.0M256.4 630.0h1.0M253.0 601.0h1.0M259.7 632.3h1.0M253.9 638.5h1.0M254.1 622.2h1.0M251.7 627.6h1.0M255.1 619.9h1.0M253.9 624.6h1.0M247.6 630.8h1.0M250.8 629.2h1.0M246.1 626.0h1.0M253.7 623.6h1.0M249.7 631.4h1.0M246.8 632.4h1.0M244.2 630.6h1.0M252.8 597.8h1.0M247.4 630.5h1.0M256.4 627.5h1.0M246.1 627.6h1.0M246.9 621.3h1.0M258.1 605.3h1.0M246.6 629.6h1.0M254.8 618.9h1.0M255.1 634.3h1.0M259.3 629.1h1.0M253.0 632.5h1.0M258.8 609.6h1.0M254.7 606.4h1.0M257.4 604.6h1.0M241.2 605.9h1.0M256.1 622.5h1.0M248.7 623.0h1.0M256.6 634.6h1.0M252.2 611.2h1.0M256.5 602.4h1.0M255.0 599.2h1.0M248.6 634.9h1.0M253.6 632.6h1.0M254.8 605.1h1.0M250.6 608.0h1.0M250.8 615.1h1.0M244.2 607.9h1.0M248.6 600.0h1.0M249.4 605.7h1.0M249.0 607.5h1.0M250.8 602.2h1.0M257.4 613.2h1.0M247.2 605.8h1.0M248.0 605.8h1.0M260.2 610.7h1.0M248.8 622.3h1.0M253.9 637.9h1.0M246.8 612.0h1.0M258.6 613.3h1.0M251.7 627.8h1.0M255.8 630.3h1.0M248.7 628.6h1.0M245.3 628.3h1.0M250.3 619.2h1.0M240.7 605.0h1.0M251.1 610.4h1.0M255.2 611.2h1.0M251.0 642.4h1.0M253.5 633.6h1.0M256.5 637.1h1.0M245.4 633.9h1.0M252.3 637.0h1.0M248.0 631.2h1.0M257.6 624.2h1.0M260.9 605.4h1.0M252.1 638.0h1.0M258.7 599.7h1.0M248.0 636.9h1.0M255.5 632.4h1.0M244.7 633.1h1.0M258.1 607.6h1.0M251.6 601.5h1.0M260.4 609.5h1.0M258.1 610.8h1.0M254.7 601.6h1.0M254.4 613.3h1.0M260.0 628.3h1.0M253.1 604.2h1.0M260.9 606.7h1.0M257.6 611.5h1.0M242.3 608.4h1.0M253.4 625.4h1.0M255.5 629.1h1.0M248.8 626.7h1.0M254.7 623.9h1.0M259.3 622.3h1.0M253.8 611.6h1.0M255.7 632.9h1.0M259.0 599.2h1.0M253.4 612.3h1.0M249.1 611.9h1.0M253.0 610.9h1.0M250.4 604.7h1.0M251.2 620.1h1.0M252.8 599.6h1.0M256.7 612.1h1.0M261.2 630.9h1.0M249.2 627.5h1.0M251.4 636.2h1.0M261.6 601.5h1.0M250.4 639.6h1.0M260.1 600.4h1.0M249.3 627.4h1.0M246.8 620.3h1.0M247.4 608.2h1.0M246.6 610.2h1.0M245.2 615.5h1.0M248.2 629.9h1.0M246.6 624.4h1.0M247.1 626.4h1.0M255.7 612.7h1.0M253.5 608.4h1.0M257.2 607.5h1.0M252.2 627.7h1.0M249.2 641.8h1.0M256.8 630.4h1.0M253.3 618.5h1.0M255.7 599.1h1.0M255.6 625.9h1.0M247.6 635.4h1.0M252.9 607.6h1.0M249.6 624.5h1.0M245.7 624.9h1.0M245.6 626.8h1.0M245.6 625.1h1.0M253.4 635.9h1.0M253.6 597.2h1.0M243.1 603.6h1.0M246.5 613.4h1.0M260.5 611.2h1.0M242.8 606.1h1.0M242.1 603.7h1.0M245.5 609.0h1.0M249.1 632.5h1.0M251.1 638.9h1.0M257.6 623.4h1.0M245.2 605.7h1.0M253.4 616.6h1.0M255.0 627.9h1.0M250.1 640.1h1.0M253.0 633.2h1.0M245.9 613.6h1.0M257.8 629.1h1.0M259.0 632.2h1.0M248.8 626.0h1.0M248.0 629.7h1.0M254.6 609.8h1.0M256.8 624.2h1.0M256.8 634.4h1.0M246.8 627.9h1.0M248.7 623.7h1.0M256.4 628.5h1.0M244.3 611.5h1.0M252.9 604.8h1.0M254.9 619.5h1.0M249.7 631.5h1.0M253.0 623.2h1.0M243.0 610.7h1.0M255.5 636.1h1.0M253.5 632.9h1.0M249.3 610.9h1.0M258.8 602.6h1.0M245.5 610.1h1.0M252.7 626.7h1.0M259.3 608.7h1.0M248.3 634.4h1.0M255.0 602.0h1.0M255.6 628.4h1.0M247.4 633.5h1.0M250.5 614.7h1.0M255.6 608.8h1.0M257.2 603.0h1.0M252.9 617.1h1.0M252.2 612.9h1.0M258.8 630.5h1.0M244.8 624.0h1.0M248.7 640.9h1.0M251.6 631.0h1.0M256.3 624.5h1.0M259.4 607.3h1.0M257.9 624.2h1.0M257.8 621.4h1.0M257.1 608.8h1.0M244.9 607.6h1.0M255.5 605.6h1.0M250.5 637.2h1.0M260.7 629.7h1.0M251.4 624.3h1.0M246.8 617.2h1.0M254.3 615.6h1.0M248.4 636.0h1.0M252.9 638.8h1.0M248.1 611.5h1.0M249.2 637.3h1.0M249.3 597.9h1.0M255.9 608.5h1.0M254.2 600.0h1.0M262.1 603.5h1.0M253.3 610.1h1.0M241.2 606.1h1.0M247.9 613.8h1.0M255.8 604.3h1.0M263.6 607.3h1.0M256.6 598.9h1.0M254.7 606.6h1.0M254.4 599.4h1.0M254.4 605.3h1.0M246.4 600.5h1.0M249.7 611.5h1.0M261.3 605.7h1.0M254.0 618.4h1.0M250.0 633.2h1.0M256.4 632.9h1.0M258.0 626.7h1.0M259.1 624.3h1.0M253.5 616.3h1.0M254.8 638.6h1.0M243.4 606.1h1.0M255.8 606.2h1.0M260.5 611.4h1.0M250.9 602.0h1.0M251.5 601.3h1.0M250.3 607.3h1.0M257.2 631.9h1.0M254.7 612.2h1.0M243.0 627.3h1.0M258.7 633.9h1.0M252.9 627.5h1.0M248.4 621.2h1.0M252.3 600.4h1.0M241.1 604.9h1.0M248.3 619.1h1.0M253.4 597.6h1.0M250.0 606.7h1.0M244.5 609.8h1.0M247.4 601.2h1.0M253.8 607.7h1.0M246.8 613.8h1.0" stroke="rgb(40, 160, 156)" stroke-width="1.0" stroke-opacity="0.65"/>
<path d="M249.1 641.2h1.0M249.6 639.6h1.0M251.4 604.6h1.0M257.9 599.9h1.0M246.1 622.3h1.0M260.3 606.5h1.0M251.8 623.0h1.0M251.7 623.8h1.0M249.0 627.8h1.0M257.1 610.9h1.0M247.3 604.1h1.0M251.4 628.3h1.0M250.4 612.6h1.0M248.6 604.0h1.0M250.4 634.5h1.0M253.6 599.3h1.0M247.3 608.2h1.0M252.4 639.6h1.0M252.9 598.6h1.0M244.6 608.4h1.0M245.1 603.2h1.0M258.9 600.9h1.0M254.2 600.2h1.0M260.3 603.0h1.0M256.6 608.7h1.0M252.3 628.1h1.0M255.0 602.4h1.0M253.1 630.8h1.0M247.1 634.4h1.0M250.9 634.5h1.0M248.8 635.0h1.0M248.6 627.6h1.0M261.1 602.6h1.0M254.9 618.7h1.0M253.1 635.5h1.0M257.2 626.8h1.0M254.4 608.6h1.0M250.2 639.6h1.0M252.3 617.0h1.0M259.2 604.4h1.0M252.9 631.8h1.0M254.2 610.5h1.0M247.6 604.0h1.0M247.8 627.5h1.0M243.9 630.2h1.0M246.6 631.3h1.0M248.8 624.3h1.0M250.4 625.8h1.0M255.7 628.5h1.0M243.0 608.1h1.0M246.4 609.6h1.0M255.6 608.8h1.0M248.2 631.8h1.0M256.9 611.6h1.0M246.8 609.1h1.0M257.3 606.5h1.0M254.8 599.0h1.0M258.1 607.8h1.0M259.9 610.1h1.0M249.0 609.6h1.0M253.0 631.8h1.0M248.7 609.5h1.0M251.2 611.8h1.0M250.6 604.7h1.0M244.3 602.9h1.0M251.2 638.3h1.0M251.8 604.3h1.0M251.6 624.2h1.0M250.4 599.5h1.0M253.3 610.5h1.0M249.0 605.8h1.0M259.4 602.2h1.0M245.7 604.7h1.0M247.4 601.8h1.0M251.6 611.2h1.0M247.3 606.1h1.0M244.9 625.6h1.0M253.8 631.8h1.0M248.6 635.0h1.0M250.0 622.8h1.0M250.1 630.7h1.0M253.9 632.0h1.0M248.1 633.9h1.0M253.2 617.3h1.0M262.7 606.7h1.0M251.8 627.8h1.0M251.9 631.6h1.0M250.3 623.0h1.0M254.1 631.4h1.0M257.8 633.4h1.0M252.3 615.2h1.0M250.0 628.1h1.0M250.6 635.8h1.0M251.1 627.1h1.0M257.2 634.6h1.0M259.8 604.7h1.0M253.4 631.8h1.0M255.7 609.2h1.0M251.3 623.7h1.0M248.4 609.9h1.0M251.9 604.2h1.0M244.3 607.2h1.0M258.1 633.2h1.0M249.7 637.2h1.0M253.8 625.9h1.0M247.1 631.1h1.0M250.9 637.4h1.0M257.3 634.4h1.0M257.8 634.1h1.0M249.1 625.4h1.0M253.4 638.8h1.0M249.0 620.9h1.0M246.0 624.4h1.0M245.3 625.5h1.0M252.6 635.6h1.0M252.0 633.2h1.0M253.9 624.5h1.0M255.5 605.5h1.0M246.9 606.2h1.0M251.5 638.4h1.0M247.8 632.6h1.0M260.2 606.9h1.0M255.1 605.5h1.0M259.3 607.8h1.0M252.8 640.1h1.0M254.7 605.9h1.0M249.2 604.0h1.0M245.7 629.1h1.0M245.2 627.8h1.0M253.7 636.4h1.0M252.8 628.9h1.0M244.1 626.5h1.0M250.4 611.3h1.0M244.4 606.9h1.0M253.1 601.2h1.0M253.0 636.9h1.0M247.5 605.9h1.0M254.0 598.2h1.0M256.8 603.0h1.0M243.9 606.7h1.0M248.8 611.6h1.0M251.5 605.5h1.0M249.5 634.1h1.0M253.5 606.4h1.0M247.1 606.0h1.0M252.4 606.4h1.0M258.7 632.0h1.0M251.0 629.9h1.0M253.6 604.5h1.0M245.8 611.7h1.0M255.7 608.2h1.0M246.9 600.3h1.0M251.8 604.8h1.0M255.3 605.8h1.0M253.2 625.4h1.0M245.5 604.4h1.0M252.2 640.7h1.0M254.0 638.6h1.0M243.2 608.1h1.0M255.6 610.3h1.0M247.8 632.8h1.0M253.4 627.2h1.0M247.6 622.0h1.0M248.6 601.1h1.0M253.2 603.2h1.0M250.9 628.2h1.0M254.1 618.6h1.0M256.5 607.4h1.0M249.4 624.3h1.0M248.9 639.2h1.0M250.5 628.6h1.0M254.5 628.0h1.0M252.3 614.7h1.0M253.3 601.8h1.0M254.6 620.0h1.0M254.3 610.3h1.0M251.7 602.2h1.0M245.4 626.8h1.0M259.6 608.3h1.0M252.3 603.5h1.0M256.6 635.3h1.0M249.1 603.8h1.0M259.1 599.7h1.0M257.7 603.5h1.0M255.5 627.2h1.0M252.2 632.4h1.0M254.9 602.3h1.0M247.0 625.3h1.0M259.9 601.5h1.0M258.6 611.2h1.0M254.3 608.0h1.0M245.2 609.0h1.0M252.7 607.1h1.0M250.9 632.8h1.0M245.7 634.5h1.0M256.7 601.0h1.0M250.8 607.5h1.0M243.3 605.1h1.0M247.0 609.5h1.0M255.4 630.1h1.0M253.4 638.8h1.0M257.2 631.1h1.0M253.5 609.1h1.0M247.6 630.3h1.0M255.1 625.2h1.0M246.5 632.4h1.0M244.1 627.1h1.0M249.9 625.2h1.0M252.4 637.0h1.0M250.0 637.0h1.0M254.3 622.6h1.0M252.1 602.1h1.0M260.9 601.5h1.0M258.1 610.0h1.0M246.6 608.1h1.0M254.4 623.1h1.0M246.8 631.1h1.0M247.4 601.2h1.0M258.1 609.1h1.0M253.1 614.7h1.0M250.4 607.9h1.0M249.5 604.4h1.0M253.3 599.0h1.0M255.5 608.8h1.0M252.8 609.7h1.0M258.2 605.9h1.0M257.6 603.0h1.0M245.4 626.1h1.0M255.1 598.9h1.0M252.6 632.8h1.0M256.6 628.1h1.0M249.9 632.5h1.0M256.9 613.2h1.0M245.4 604.6h1.0M250.7 605.6h1.0M251.7 599.0h1.0M258.5 599.9h1.0M246.7 623.6h1.0M246.3 601.8h1.0M253.1 612.4h1.0M255.2 615.3h1.0M247.4 607.8h1.0M246.3 605.6h1.0M248.7 600.2h1.0M258.6 602.0h1.0" stroke="rgb(56, 175, 106)" stroke-width="1.0" stroke-opacity="0.65"/>
<path d="M255.3 600.7h1.0M248.4 629.9h1.0M252.0 625.3h1.0M255.0 610.9h1.0M254.3 602.0h1.0M255.6 605.4h1.0M256.2 602.8h1.0M251.1 606.7h1.0M253.9 629.5h1.0M250.8 608.6h1.0M249.4 605.0h1.0M251.8 604.2h1.0M254.6 602.9h1.0M256.1 609.2h1.0M250.4 601.2h1.0M251.7 609.4h1.0M253.7 606.1h1.0M257.2 602.3h1.0M255.3 603.3h1.0M245.8 605.2h1.0M256.4 609.6h1.0M253.4 607.4h1.0M250.3 602.4h1.0M251.4 631.1h1.0M255.5 606.4h1.0M248.1 608.5h1.0M246.9 606.8h1.0M252.8 605.6h1.0M251.9 609.2h1.0M244.9 606.4h1.0M250.3 607.4h1.0M254.7 607.2h1.0M258.0 603.5h1.0M249.4 632.6h1.0M257.5 599.9h1.0M253.2 604.3h1.0M251.1 622.7h1.0M249.6 604.7h1.0M257.3 605.3h1.0M251.6 600.1h1.0M254.0 609.0h1.0M256.7 606.1h1.0M250.2 605.3h1.0M253.0 600.3h1.0M252.8 609.6h1.0M252.0 607.1h1.0M250.9 603.4h1.0M249.7 605.5h1.0M252.8 603.1h1.0M249.5 600.0h1.0M254.7 605.4h1.0M257.9 607.2h1.0M258.6 601.8h1.0M255.5 609.9h1.0M256.4 605.4h1.0M251.2 605.7h1.0M249.2 633.0h1.0M257.5 605.9h1.0M256.5 608.8h1.0M250.9 605.1h1.0M246.4 606.3h1.0M250.5 606.4h1.0M255.7 603.1h1.0M258.9 603.5h1.0M249.2 607.2h1.0M255.9 603.1h1.0M252.7 603.2h1.0M257.1 606.0h1.0M248.2 627.4h1.0M257.8 607.1h1.0M254.8 609.9h1.0M254.5 605.0h1.0M248.5 626.0h1.0M250.4 622.7h1.0M248.6 633.7h1.0M256.1 607.0h1.0M250.4 608.5h1.0M248.0 628.9h1.0M252.0 629.7h1.0M253.4 600.7h1.0M247.5 605.3h1.0M256.9 604.6h1.0M252.2 632.8h1.0M255.2 604.1h1.0M257.0 605.3h1.0M255.5 605.1h1.0M255.9 602.3h1.0M249.0 605.3h1.0M247.4 610.0h1.0M251.8 603.5h1.0M256.9 604.5h1.0M254.0 610.7h1.0M249.0 609.8h1.0M256.2 606.1h1.0M254.4 602.7h1.0M249.3 604.3h1.0M250.8 601.7h1.0M255.3 611.3h1.0M251.9 607.5h1.0M255.9 606.8h1.0M248.7 606.2h1.0M255.1 603.9h1.0M255.2 609.0h1.0M258.0 602.0h1.0M256.2 601.1h1.0M252.0 607.5h1.0M251.2 608.6h1.0M256.7 607.0h1.0M253.1 600.7h1.0M247.2 604.4h1.0M254.0 606.3h1.0M252.3 606.5h1.0M246.8 609.0h1.0M251.7 603.3h1.0M255.5 603.7h1.0M252.7 608.0h1.0M256.8 608.9h1.0M250.5 633.4h1.0M246.4 631.1h1.0M249.3 606.4h1.0M257.7 601.6h1.0M252.1 626.4h1.0M249.2 606.2h1.0M254.7 600.1h1.0M248.9 603.4h1.0M255.9 611.9h1.0M257.2 603.3h1.0M248.0 608.6h1.0M254.5 603.0h1.0M255.5 613.5h1.0M253.9 629.1h1.0M246.6 632.4h1.0M259.5 604.1h1.0M250.6 608.9h1.0M251.6 601.7h1.0M254.0 607.3h1.0M257.1 610.9h1.0M250.0 602.6h1.0M256.9 608.7h1.0M247.4 629.1h1.0M257.5 627.5h1.0M248.1 631.5h1.0M254.1 630.0h1.0M255.6 607.4h1.0M246.2 605.7h1.0M257.2 606.2h1.0M250.2 611.9h1.0M258.6 609.4h1.0M251.7 610.0h1.0M257.9 600.7h1.0M249.9 603.8h1.0M256.6 605.5h1.0M254.8 607.3h1.0M249.3 627.9h1.0M254.5 610.4h1.0M252.4 639.2h1.0M254.0 609.9h1.0M251.6 626.0h1.0M255.7 607.4h1.0M251.2 602.5h1.0M245.7 607.7h1.0M253.5 624.9h1.0M256.7 607.3h1.0M252.5 609.0h1.0M246.9 609.7h1.0M256.2 631.1h1.0M251.9 600.8h1.0M249.5 626.1h1.0M246.8 606.7h1.0M252.6 633.1h1.0M255.5 600.1h1.0M258.4 605.3h1.0M251.0 629.6h1.0M255.4 609.9h1.0M250.1 602.9h1.0M249.7 602.8h1.0M257.2 607.0h1.0M249.9 606.1h1.0M252.6 627.2h1.0M256.5 603.9h1.0M259.7 601.7h1.0M257.0 606.1h1.0M253.6 632.1h1.0M252.2 608.8h1.0M255.4 629.9h1.0M251.4 624.7h1.0M248.6 600.9h1.0M254.5 627.9h1.0M253.9 604.7h1.0M251.7 603.7h1.0M252.5 610.7h1.0M256.1 606.7h1.0M254.4 603.1h1.0M246.1 609.2h1.0M253.8 603.0h1.0M256.5 608.8h1.0M256.1 628.6h1.0M252.1 601.2h1.0M253.8 605.8h1.0M250.9 603.5h1.0M259.7 602.4h1.0M256.2 611.0h1.0M251.8 605.0h1.0M257.7 606.8h1.0M252.7 606.0h1.0M253.5 634.1h1.0M253.2 622.4h1.0M254.1 603.7h1.0M250.9 606.2h1.0M250.5 633.9h1.0M250.4 634.2h1.0M251.6 602.9h1.0M255.0 604.8h1.0M252.7 624.2h1.0M252.8 623.2h1.0M246.8 629.2h1.0M254.8 610.2h1.0M249.9 631.4h1.0M254.2 629.7h1.0M250.7 633.8h1.0M247.9 607.4h1.0M250.0 604.2h1.0M252.2 632.4h1.0M252.3 636.9h1.0M252.6 626.0h1.0M253.1 638.4h1.0M253.9 631.1h1.0M251.1 607.4h1.0M253.1 625.4h1.0M246.0 628.6h1.0M255.8 631.0h1.0M250.6 630.5h1.0M246.7 609.6h1.0M254.8 611.2h1.0M246.7 608.3h1.0M253.2 605.4h1.0M251.5 605.4h1.0M249.8 611.1h1.0M248.5 604.1h1.0M251.2 609.4h1.0M252.0 598.7h1.0M246.2 605.3h1.0M254.0 627.5h1.0M256.1 603.2h1.0M253.9 606.6h1.0M254.0 606.1h1.0M254.9 603.8h1.0M255.0 603.1h1.0M255.4 609.4h1.0M251.5 608.3h1.0M254.0 623.8h1.0M253.0 631.0h1.0M251.9 601.2h1.0M250.1 623.0h1.0M255.9 602.8h1.0M258.3 607.2h1.0M255.5 602.2h1.0M257.6 604.7h1.0M254.9 603.0h1.0M246.1 608.8h1.0M250.9 602.2h1.0M252.3 605.5h1.0M249.4 631.3h1.0M260.2 605.1h1.0M255.9 604.1h1.0M257.3 605.6h1.0M250.0 603.7h1.0M259.9 604.1h1.0M245.7 628.6h1.0M254.5 608.8h1.0M254.7 607.2h1.0M250.9 605.6h1.0M251.9 604.4h1.0M255.6 608.3h1.0M253.3 603.7h1.0M253.7 602.7h1.0M252.6 607.6h1.0M251.0 605.6h1.0M253.1 607.7h1.0M259.5 606.8h1.0M250.5 603.1h1.0M255.9 605.0h1.0M255.1 609.7h1.0M254.8 600.2h1.0M254.5 611.2h1.0M254.2 611.1h1.0M246.2 607.2h1.0M254.3 626.6h1.0M245.8 629.5h1.0M248.0 627.4h1.0M246.3 630.8h1.0M255.5 632.1h1.0M251.2 623.1h1.0M251.4 624.8h1.0M255.7 608.2h1.0M258.6 607.5h1.0M248.5 608.6h1.0M253.5 604.5h1.0M256.2 609.1h1.0M259.1 606.3h1.0M250.0 611.0h1.0M251.1 603.1h1.0M249.1 607.9h1.0M250.1 625.0h1.0M251.0 607.7h1.0M253.8 607.8h1.0M253.6 606.9h1.0M247.7 600.8h1.0M257.0 609.4h1.0M256.3 604.6h1.0M253.4 635.1h1.0M252.7 626.2h1.0M255.0 611.0h1.0M253.3 606.1h1.0M249.8 610.9h1.0M253.6 601.6h1.0M255.5 607.1h1.0M257.8 607.2h1.0M251.1 609.4h1.0M251.1 606.5h1.0M252.8 635.2h1.0M249.8 605.3h1.0M251.9 603.6h1.0M246.6 604.0h1.0M244.5 605.1h1.0M252.4 606.3h1.0M251.8 607.3h1.0M250.8 600.0h1.0M251.7 603.5h1.0M254.8 604.9h1.0M259.6 607.5h1.0" stroke="rgb(90, 185, 60)" stroke-width="1.0" stroke-opacity="0.65"/>
<rect x="228.70" y="572.50" width="81.80" height="80.20" fill="none" stroke="#333" stroke-width="1.2"/>
<line x1="226.70" y1="578.92" x2="228.70" y2="578.92" stroke="#555" stroke-width="0.6"/>
<line x1="226.70" y1="585.33" x2="228.70" y2="585.33" stroke="#555" stroke-width="0.6"/>
<line x1="226.70" y1="597.36" x2="228.70" y2="597.36" stroke="#555" stroke-width="0.6"/>
<line x1="226.70" y1="603.78" x2="228.70" y2="603.78" stroke="#555" stroke-width="0.6"/>
<line x1="226.70" y1="616.61" x2="228.70" y2="616.61" stroke="#555" stroke-width="0.6"/>
<line x1="226.70" y1="622.22" x2="228.70" y2="622.22" stroke="#555" stroke-width="0.6"/>
<line x1="226.70" y1="629.44" x2="228.70" y2="629.44" stroke="#555" stroke-width="0.6"/>
<line x1="226.70" y1="635.86" x2="228.70" y2="635.86" stroke="#555" stroke-width="0.6"/>
<line x1="226.70" y1="641.47" x2="228.70" y2="641.47" stroke="#555" stroke-width="0.6"/>
<line x1="226.70" y1="647.89" x2="228.70" y2="647.89" stroke="#555" stroke-width="0.6"/>
<line x1="232.79" y1="652.70" x2="232.79" y2="654.70" stroke="#555" stroke-width="0.6"/>
<line x1="240.97" y1="652.70" x2="240.97" y2="654.70" stroke="#555" stroke-width="0.6"/>
<line x1="246.70" y1="652.70" x2="246.70" y2="654.70" stroke="#555" stroke-width="0.6"/>
<line x1="251.60" y1="652.70" x2="251.60" y2="654.70" stroke="#555" stroke-width="0.6"/>
<line x1="256.51" y1="652.70" x2="256.51" y2="654.70" stroke="#555" stroke-width="0.6"/>
<line x1="261.42" y1="652.70" x2="261.42" y2="654.70" stroke="#555" stroke-width="0.6"/>
<line x1="269.60" y1="652.70" x2="269.60" y2="654.70" stroke="#555" stroke-width="0.6"/>
<line x1="277.78" y1="652.70" x2="277.78" y2="654.70" stroke="#555" stroke-width="0.6"/>
<line x1="285.96" y1="652.70" x2="285.96" y2="654.70" stroke="#555" stroke-width="0.6"/>
<line x1="294.14" y1="652.70" x2="294.14" y2="654.70" stroke="#555" stroke-width="0.6"/>
<line x1="302.32" y1="652.70" x2="302.32" y2="654.70" stroke="#555" stroke-width="0.6"/>
<line x1="307.23" y1="652.70" x2="307.23" y2="654.70" stroke="#555" stroke-width="0.6"/>
<rect x="240.20" y="594.20" width="24.60" height="20.20" fill="none" stroke="#222" stroke-width="1.2"/>
<ellipse cx="228" cy="634.6" rx="0.9" ry="1.3" fill="#111"/>
<rect x="268.30" y="594.20" width="24.80" height="20.20" fill="none" stroke="#222" stroke-width="1.2"/>
<text x="253.50" y="591.80" font-size="10.5" text-anchor="middle" fill="#222" stroke="#222" stroke-width="0.1" textLength="20.8" lengthAdjust="spacingAndGlyphs">28%</text>
<text x="280.30" y="591.80" font-size="10.5" text-anchor="middle" fill="#222" stroke="#222" stroke-width="0.1" textLength="15" lengthAdjust="spacingAndGlyphs">6%</text>
<text x="221.30" y="615.00" font-size="10" text-anchor="middle" fill="#222" stroke="#222" stroke-width="0.1" textLength="18.5" lengthAdjust="spacingAndGlyphs" transform="rotate(-90 221.30 615.00)">c-Kit</text>
<path d="M326.8 629.3h1.0M361.5 609.8h1.0M358.1 618.0h1.0M323.9 622.5h1.0M326.0 637.2h1.0M325.1 625.8h1.0M352.7 626.2h1.0M339.5 650.7h1.0M344.9 645.4h1.0M357.4 623.0h1.0M353.2 629.8h1.0M338.7 646.5h1.0M358.2 633.7h1.0M359.8 603.0h1.0M334.3 648.9h1.0M330.6 600.0h1.0M337.2 598.1h1.0M352.3 649.6h1.0M330.7 635.7h1.0M328.8 632.7h1.0M331.7 639.8h1.0M353.1 627.1h1.0M359.7 608.6h1.0M349.5 633.6h1.0M354.4 636.9h1.0M323.8 637.7h1.0M351.2 597.2h1.0M355.9 640.2h1.0M321.7 617.5h1.0M321.4 615.6h1.0M327.5 635.5h1.0M357.5 612.5h1.0M357.5 607.8h1.0M360.6 617.3h1.0M334.1 642.6h1.0M328.5 647.7h1.0M325.5 627.2h1.0M334.8 644.7h1.0M337.3 645.3h1.0M326.5 621.7h1.0M328.9 632.0h1.0M356.1 627.6h1.0M340.6 649.1h1.0M351.4 631.6h1.0M351.7 627.8h1.0M331.4 640.4h1.0M327.9 646.4h1.0M351.7 628.0h1.0M337.2 643.0h1.0M330.5 646.0h1.0M350.4 637.2h1.0M334.8 641.9h1.0M331.6 647.1h1.0M339.4 648.6h1.0M349.8 634.1h1.0M333.4 640.3h1.0M354.7 643.0h1.0M338.0 643.7h1.0M318.1 623.9h1.0M340.3 644.4h1.0M356.6 603.0h1.0M325.0 625.8h1.0M333.9 650.0h1.0M326.1 630.2h1.0M353.9 633.6h1.0M352.8 634.6h1.0M342.0 642.6h1.0M332.7 641.2h1.0M344.6 645.3h1.0M334.3 598.8h1.0M337.1 648.0h1.0M343.3 595.1h1.0M328.2 628.0h1.0M352.9 626.9h1.0M353.3 618.2h1.0M353.4 624.8h1.0M340.1 649.7h1.0M359.3 609.7h1.0M345.2 643.6h1.0M349.6 639.6h1.0M350.5 635.5h1.0M355.3 614.8h1.0M335.1 598.3h1.0M340.2 646.4h1.0M326.3 622.4h1.0M326.0 635.2h1.0M323.2 627.1h1.0M351.0 634.8h1.0M334.2 647.5h1.0M348.9 646.5h1.0M326.3 633.0h1.0M352.7 643.3h1.0M326.4 629.8h1.0M326.9 630.6h1.0M350.9 634.0h1.0M333.2 643.0h1.0M343.7 643.8h1.0M355.1 599.8h1.0M332.7 643.8h1.0M333.8 640.6h1.0M335.1 644.1h1.0M334.0 643.4h1.0M353.7 641.2h1.0M352.9 619.2h1.0M355.9 622.9h1.0M327.1 622.4h1.0M354.4 617.1h1.0M356.3 619.2h1.0M326.7 632.7h1.0M352.7 623.4h1.0M345.5 596.0h1.0M327.9 635.5h1.0M347.9 648.8h1.0M345.3 647.0h1.0M351.9 629.8h1.0M339.9 644.5h1.0M329.4 630.1h1.0M352.5 637.3h1.0M335.9 647.7h1.0M331.8 642.2h1.0M337.1 643.0h1.0M330.3 638.0h1.0M325.4 632.2h1.0M353.5 621.1h1.0M351.4 639.4h1.0M334.2 643.5h1.0M351.8 638.3h1.0M335.1 646.6h1.0M344.4 642.7h1.0M353.3 596.5h1.0M357.9 604.3h1.0M357.9 600.8h1.0M329.1 629.6h1.0M336.4 583.4h1.0M352.0 619.2h1.0M329.7 642.0h1.0M355.4 623.2h1.0M334.4 641.6h1.0M343.2 593.1h1.0M356.6 604.1h1.0M332.3 649.6h1.0M349.2 636.6h1.0M331.3 639.4h1.0M327.7 639.3h1.0M332.1 638.1h1.0M322.7 631.7h1.0M328.4 631.6h1.0M352.3 638.3h1.0M348.8 640.5h1.0M337.2 594.2h1.0M355.0 596.1h1.0M338.1 594.8h1.0M353.6 617.4h1.0M359.0 610.6h1.0M348.2 640.2h1.0M355.4 623.2h1.0M351.9 622.9h1.0M329.3 647.0h1.0M326.6 638.5h1.0M331.0 600.1h1.0M362.9 633.4h1.0M353.6 618.7h1.0M322.3 633.9h1.0M352.2 624.0h1.0M340.4 649.5h1.0M348.8 638.0h1.0M355.9 625.9h1.0M342.7 650.3h1.0M352.9 619.7h1.0M354.6 621.3h1.0M333.9 641.2h1.0M327.9 622.8h1.0M357.2 619.0h1.0M328.4 637.8h1.0M328.2 648.6h1.0M332.0 600.2h1.0M361.1 622.3h1.0M329.0 631.8h1.0M334.3 641.8h1.0M345.1 643.3h1.0M348.4 637.0h1.0M359.4 631.9h1.0M370.4 627.4h1.0M373.7 613.4h1.0M372.1 618.1h1.0M364.8 632.1h1.0M369.9 629.5h1.0M359.9 634.6h1.0M361.4 637.1h1.0M363.5 641.9h1.0M367.5 618.3h1.0M370.8 619.9h1.0M377.7 616.4h1.0M379.9 621.8h1.0M369.0 622.9h1.0M373.5 623.3h1.0M364.6 632.0h1.0M365.8 623.3h1.0M327.4 624.3h1.0M352.4 634.5h1.0M327.3 634.5h1.0M328.9 642.2h1.0M321.6 628.1h1.0M331.8 643.3h1.0M327.2 622.0h1.0M347.9 641.8h1.0M328.6 641.1h1.0M349.3 639.5h1.0M336.0 644.2h1.0M356.6 625.3h1.0M328.0 638.0h1.0M367.7 635.7h1.0M363.9 612.7h1.0M371.1 622.4h1.0M368.2 634.0h1.0M368.1 629.0h1.0M366.0 624.9h1.0M354.4 626.9h1.0M326.0 645.4h1.0M353.2 643.3h1.0M365.4 621.2h1.0M367.2 630.2h1.0M367.9 628.6h1.0M377.0 624.5h1.0M370.3 618.3h1.0M370.4 627.5h1.0M352.7 615.6h1.0M346.2 595.2h1.0M371.4 614.9h1.0M369.4 618.7h1.0M369.9 619.3h1.0M371.1 635.7h1.0M367.5 627.2h1.0M369.5 617.2h1.0M367.7 627.3h1.0M367.4 637.5h1.0M375.5 635.9h1.0M365.9 642.1h1.0M377.3 629.0h1.0M360.7 623.1h1.0M356.0 601.1h1.0M366.9 629.2h1.0M373.4 625.6h1.0M367.8 632.3h1.0M369.9 633.8h1.0M361.5 634.6h1.0M381.5 633.9h1.0M372.3 630.5h1.0M369.0 634.6h1.0M378.0 618.3h1.0M328.4 632.5h1.0M324.8 634.7h1.0M343.7 643.1h1.0M336.4 645.3h1.0M356.6 640.5h1.0M366.2 632.7h1.0M369.8 618.5h1.0M373.8 631.4h1.0M358.3 614.2h1.0M367.3 635.6h1.0M371.5 638.6h1.0M371.7 638.3h1.0M360.8 636.5h1.0M367.0 628.4h1.0M351.6 638.5h1.0M336.1 644.9h1.0M347.0 641.0h1.0M334.5 640.9h1.0M346.6 643.7h1.0M335.3 646.8h1.0M342.4 596.4h1.0M335.0 641.5h1.0M346.7 642.8h1.0M353.4 631.9h1.0M328.4 630.7h1.0M349.2 637.8h1.0M354.3 621.5h1.0M343.1 645.8h1.0M336.9 648.4h1.0M332.8 641.7h1.0M337.1 647.1h1.0M342.7 644.9h1.0M345.5 594.5h1.0M337.8 597.2h1.0M346.5 595.7h1.0M351.6 622.5h1.0M336.5 650.7h1.0M328.5 627.7h1.0M324.4 631.2h1.0M346.9 643.4h1.0M327.6 626.4h1.0M356.0 616.7h1.0M341.9 645.8h1.0M349.2 643.4h1.0M342.5 643.6h1.0M343.2 644.7h1.0M339.6 595.9h1.0M329.4 640.1h1.0M328.8 631.0h1.0M327.5 632.6h1.0M327.6 638.9h1.0M343.0 644.1h1.0M326.3 627.1h1.0M324.7 625.6h1.0M353.2 627.4h1.0M329.5 637.4h1.0M335.2 642.4h1.0M331.1 635.5h1.0M357.6 607.4h1.0M329.1 629.6h1.0M341.1 644.5h1.0M349.5 649.4h1.0M353.7 625.8h1.0M351.7 621.6h1.0M327.7 630.6h1.0M353.7 622.7h1.0M321.9 631.8h1.0M344.4 644.4h1.0M357.6 605.2h1.0M358.4 625.1h1.0M351.2 638.4h1.0M331.0 640.7h1.0M333.9 642.4h1.0M332.4 644.1h1.0M326.3 624.9h1.0M327.7 633.7h1.0M328.0 628.3h1.0M319.9 622.2h1.0M354.2 630.2h1.0M352.1 622.4h1.0M332.9 641.8h1.0M345.9 641.9h1.0M350.1 637.1h1.0M319.8 640.6h1.0M354.1 622.0h1.0M323.1 634.1h1.0M351.0 645.3h1.0M341.7 647.7h1.0M352.3 630.0h1.0M343.5 644.7h1.0M329.2 640.9h1.0M340.0 590.0h1.0M351.8 627.0h1.0M330.3 635.1h1.0M353.0 645.6h1.0M352.9 627.7h1.0M350.9 634.8h1.0M349.2 642.8h1.0M343.0 643.1h1.0M351.6 618.8h1.0M329.6 637.3h1.0M326.7 623.6h1.0M320.4 613.6h1.0M318.8 609.6h1.0M319.8 617.6h1.0M319.2 601.0h1.0M346.1 595.3h1.0M356.0 611.9h1.0M363.2 613.6h1.0M359.5 607.3h1.0M347.2 596.5h1.0M324.0 602.4h1.0M321.1 601.9h1.0M328.4 623.7h1.0M321.5 602.5h1.0M319.2 608.9h1.0M356.4 617.9h1.0M324.7 601.2h1.0M325.2 618.8h1.0M327.4 621.3h1.0M354.8 612.9h1.0M341.3 595.5h1.0M357.6 609.7h1.0M320.4 603.8h1.0M318.1 610.8h1.0M318.3 612.4h1.0M320.3 601.0h1.0M326.7 600.8h1.0M318.9 617.1h1.0M324.7 619.7h1.0M319.1 610.0h1.0M320.4 617.6h1.0M321.6 616.9h1.0M320.7 622.3h1.0M319.7 603.8h1.0M331.7 598.8h1.0M318.5 604.0h1.0M320.6 603.9h1.0M324.3 599.6h1.0M318.7 604.3h1.0M344.3 593.9h1.0M365.9 612.3h1.0M327.5 599.3h1.0M319.5 612.7h1.0M321.4 604.6h1.0M318.8 607.3h1.0M355.5 599.1h1.0M350.6 633.9h1.0M336.3 644.4h1.0M326.3 633.2h1.0M333.7 644.6h1.0M326.8 638.5h1.0M327.2 635.8h1.0M327.0 598.6h1.0M346.0 639.5h1.0M324.6 639.5h1.0M358.8 608.2h1.0M334.5 598.7h1.0M350.7 643.4h1.0M330.1 636.1h1.0M347.6 638.2h1.0M330.9 649.3h1.0M350.8 632.9h1.0M352.3 634.4h1.0M350.4 650.3h1.0M351.6 633.4h1.0M324.8 641.3h1.0M326.5 624.1h1.0M321.2 604.2h1.0M319.4 610.8h1.0M325.8 600.6h1.0M318.2 611.0h1.0M322.2 616.9h1.0M348.1 647.0h1.0M325.7 641.5h1.0M318.7 612.8h1.0M361.2 606.0h1.0M355.7 611.5h1.0M335.9 643.1h1.0M326.0 621.6h1.0M320.8 601.8h1.0M321.5 604.4h1.0M321.7 619.6h1.0M321.5 604.5h1.0M327.6 593.1h1.0M359.4 607.7h1.0M357.5 626.5h1.0M330.5 639.9h1.0M361.2 631.6h1.0M359.9 612.3h1.0M356.8 603.8h1.0M376.7 632.9h1.0M351.8 630.9h1.0M357.3 645.1h1.0M351.6 636.4h1.0M360.4 629.0h1.0M360.9 625.6h1.0M342.2 593.2h1.0M357.0 603.7h1.0M357.6 608.7h1.0M361.8 610.0h1.0M359.3 627.8h1.0M361.9 593.0h1.0M330.7 598.5h1.0M331.0 594.8h1.0M357.1 616.7h1.0M361.7 606.7h1.0M357.9 609.6h1.0M322.9 622.7h1.0M322.1 603.5h1.0M324.9 620.2h1.0M318.8 612.9h1.0M349.2 642.0h1.0M366.2 621.3h1.0M326.0 630.4h1.0M351.7 648.2h1.0M357.8 628.9h1.0M373.5 638.3h1.0M359.6 639.3h1.0M335.3 599.3h1.0M360.9 623.9h1.0M356.6 642.4h1.0M356.9 620.4h1.0M319.0 610.0h1.0M370.6 611.8h1.0M345.7 644.1h1.0M390.7 621.4h1.0M318.9 613.8h1.0M356.1 626.6h1.0M353.9 632.5h1.0M353.9 633.8h1.0M354.0 625.7h1.0M319.9 638.5h1.0M359.3 616.5h1.0M359.3 606.7h1.0M320.5 601.7h1.0M331.4 599.1h1.0M324.4 602.4h1.0M321.4 601.5h1.0M318.1 613.2h1.0M326.4 619.9h1.0M324.3 601.8h1.0M322.3 601.9h1.0M321.6 603.1h1.0M359.7 606.9h1.0M328.3 598.4h1.0M325.0 601.0h1.0M319.4 610.5h1.0M320.2 615.8h1.0M322.9 618.6h1.0M331.5 599.4h1.0M322.4 600.2h1.0M325.0 598.6h1.0M327.3 621.6h1.0M357.5 610.7h1.0M345.9 596.1h1.0M356.9 602.4h1.0M359.3 603.3h1.0M319.9 601.7h1.0M320.0 614.8h1.0M318.3 609.7h1.0M320.8 601.7h1.0M319.8 605.0h1.0M323.8 601.9h1.0M319.8 615.0h1.0M325.2 597.6h1.0M318.4 614.8h1.0M347.6 641.3h1.0M320.0 617.1h1.0M319.9 606.5h1.0M319.2 602.6h1.0M321.9 601.2h1.0M319.6 618.0h1.0M327.5 623.1h1.0M322.0 602.0h1.0M340.5 594.0h1.0M355.7 616.5h1.0M365.8 605.8h1.0M345.5 596.2h1.0M344.6 641.7h1.0M348.8 645.8h1.0M329.4 630.1h1.0M351.3 647.6h1.0M334.2 648.5h1.0M324.9 623.6h1.0M349.7 638.6h1.0M357.2 620.1h1.0M327.5 629.1h1.0M323.2 623.7h1.0M331.9 641.1h1.0M349.5 596.4h1.0M354.6 614.0h1.0M361.1 606.0h1.0M327.7 629.1h1.0M323.4 643.2h1.0M333.9 641.5h1.0M357.5 600.5h1.0M352.2 623.6h1.0M356.6 613.9h1.0M329.3 631.8h1.0M357.7 608.4h1.0M355.2 615.8h1.0M347.0 641.8h1.0M341.5 642.8h1.0M340.3 644.8h1.0M351.9 626.2h1.0M353.6 629.9h1.0M325.2 627.8h1.0M334.7 644.2h1.0M358.8 607.0h1.0M362.0 619.1h1.0M348.0 646.2h1.0M351.0 637.1h1.0M354.8 622.3h1.0M331.0 637.9h1.0M359.4 602.7h1.0M320.1 603.0h1.0M341.7 647.4h1.0M349.7 643.7h1.0M353.2 641.2h1.0M349.2 637.9h1.0M328.7 635.0h1.0M349.3 644.6h1.0M333.2 596.5h1.0M355.1 599.7h1.0M356.0 613.9h1.0M342.4 643.1h1.0M329.5 632.9h1.0M358.5 643.6h1.0M327.7 642.0h1.0M337.0 646.9h1.0M346.4 648.2h1.0M359.8 615.2h1.0M335.0 644.7h1.0M334.6 642.9h1.0M349.2 645.3h1.0M367.7 599.8h1.0M351.5 622.0h1.0M347.2 594.4h1.0M352.9 597.6h1.0M328.7 633.6h1.0M354.7 645.9h1.0M346.5 638.6h1.0M325.1 633.0h1.0M339.4 644.2h1.0M325.8 625.4h1.0M359.8 598.4h1.0M333.8 642.9h1.0M323.8 635.9h1.0M328.2 630.7h1.0M339.1 645.4h1.0M331.7 650.3h1.0M339.4 644.0h1.0M358.0 610.7h1.0M337.1 646.8h1.0M354.7 642.7h1.0M325.7 631.0h1.0M349.2 638.6h1.0M342.8 591.7h1.0M345.2 594.9h1.0M330.2 641.3h1.0M329.2 639.3h1.0M333.0 596.4h1.0M344.0 642.1h1.0M351.8 617.0h1.0M327.3 627.0h1.0M346.8 639.5h1.0M337.1 650.1h1.0M356.6 627.6h1.0M329.4 634.9h1.0M329.6 642.4h1.0M327.9 622.6h1.0M353.1 634.1h1.0M349.5 642.0h1.0M348.1 596.3h1.0M360.8 602.0h1.0M334.5 643.4h1.0M354.6 632.3h1.0M325.5 632.1h1.0M330.9 638.8h1.0M333.9 641.2h1.0M353.9 619.2h1.0M330.0 639.0h1.0M350.7 637.2h1.0M345.0 640.8h1.0M343.4 643.3h1.0M327.3 634.0h1.0M350.3 640.4h1.0M353.7 614.2h1.0M357.1 601.5h1.0M354.1 614.0h1.0M332.4 600.4h1.0M335.4 644.2h1.0M344.5 649.6h1.0M343.0 648.2h1.0M338.4 643.8h1.0M337.4 645.4h1.0M338.7 645.5h1.0M325.7 624.1h1.0M358.5 605.5h1.0M329.5 637.8h1.0M328.6 636.2h1.0M327.0 633.7h1.0M330.5 596.1h1.0M358.0 612.5h1.0M361.1 600.1h1.0M340.8 646.4h1.0M349.1 636.6h1.0M354.8 634.4h1.0M343.7 647.2h1.0M349.2 644.2h1.0M356.1 621.2h1.0M348.5 643.0h1.0M333.1 640.8h1.0M338.4 643.0h1.0M330.3 638.0h1.0M334.0 642.4h1.0M352.5 620.0h1.0M352.7 618.7h1.0M359.8 608.8h1.0M355.8 620.6h1.0M323.5 621.2h1.0M330.3 636.5h1.0M360.1 599.6h1.0M335.5 650.9h1.0M334.1 644.2h1.0M329.3 634.8h1.0M323.1 637.0h1.0M324.4 632.8h1.0M328.4 627.6h1.0M327.6 624.9h1.0M335.8 644.7h1.0M339.6 648.0h1.0M330.4 598.4h1.0M352.9 629.9h1.0M338.0 648.9h1.0M330.0 640.7h1.0M352.8 615.8h1.0M335.2 596.8h1.0M355.6 611.3h1.0M333.5 598.0h1.0M354.7 622.8h1.0M342.9 646.5h1.0M354.0 631.9h1.0M330.5 636.3h1.0M328.1 638.8h1.0M351.9 648.6h1.0M352.4 639.2h1.0M335.2 644.6h1.0M333.0 643.9h1.0M344.2 642.1h1.0M323.3 637.4h1.0M351.7 627.4h1.0M375.5 628.8h1.0M374.7 628.1h1.0M366.6 636.7h1.0M365.5 624.0h1.0M369.4 627.6h1.0M379.2 636.9h1.0M368.9 633.0h1.0M370.3 623.3h1.0M358.6 641.1h1.0M371.9 647.2h1.0M371.7 630.3h1.0M368.1 627.7h1.0M360.2 630.9h1.0M374.5 621.4h1.0M362.4 621.7h1.0M373.3 618.4h1.0M374.3 636.3h1.0M372.5 644.8h1.0M372.6 641.7h1.0M369.9 630.8h1.0M366.7 632.0h1.0M374.2 613.3h1.0M364.8 636.9h1.0M358.8 638.0h1.0M376.8 627.8h1.0M379.9 624.1h1.0M374.1 638.1h1.0M379.3 638.4h1.0M374.6 631.7h1.0M375.2 625.2h1.0M369.3 626.6h1.0M368.4 634.6h1.0M363.2 626.0h1.0M368.4 640.3h1.0M369.5 623.1h1.0M363.2 628.3h1.0M377.3 634.5h1.0M372.5 624.3h1.0M373.5 625.1h1.0M364.5 627.0h1.0M368.4 648.7h1.0M361.1 626.1h1.0M369.1 633.6h1.0M373.5 638.7h1.0M370.0 639.8h1.0M370.2 631.6h1.0M374.5 642.2h1.0M371.2 637.9h1.0M374.0 627.7h1.0M385.5 644.0h1.0M370.9 642.3h1.0M372.4 630.8h1.0M366.7 621.3h1.0M364.8 645.4h1.0M368.2 625.1h1.0M367.1 631.7h1.0M367.1 618.8h1.0M365.4 626.8h1.0M369.5 629.4h1.0M358.2 638.2h1.0M384.9 633.3h1.0M357.9 615.3h1.0M351.1 596.6h1.0M376.7 615.7h1.0M374.4 629.8h1.0M363.0 633.6h1.0M363.7 615.2h1.0M368.6 631.6h1.0M368.4 627.7h1.0M361.1 638.3h1.0M370.1 635.7h1.0M371.8 624.6h1.0M374.1 627.3h1.0M368.9 626.9h1.0M374.9 640.3h1.0M366.4 615.3h1.0M372.3 636.2h1.0M372.5 637.9h1.0M374.7 628.9h1.0M370.6 621.4h1.0M367.7 623.0h1.0M363.7 626.4h1.0M375.1 639.4h1.0M365.6 635.7h1.0M376.0 619.4h1.0M376.9 626.6h1.0M367.5 618.2h1.0M370.3 636.5h1.0M363.8 627.6h1.0M369.8 634.8h1.0M380.0 639.7h1.0M378.6 631.1h1.0M381.3 631.3h1.0M365.3 632.5h1.0M368.8 624.3h1.0M372.0 622.2h1.0M367.3 625.6h1.0M371.9 617.2h1.0M364.0 623.1h1.0M367.4 633.4h1.0M369.0 621.2h1.0M364.9 630.1h1.0M374.2 623.3h1.0M371.4 634.6h1.0M371.1 641.7h1.0M369.8 637.7h1.0M369.1 628.9h1.0M367.5 626.7h1.0M365.7 605.6h1.0M359.2 620.2h1.0M370.6 642.1h1.0M367.3 633.4h1.0M364.5 617.3h1.0M365.1 630.8h1.0M372.7 632.5h1.0M369.9 621.4h1.0M370.5 634.7h1.0M369.8 624.3h1.0M361.9 623.4h1.0M370.4 620.9h1.0M370.0 632.8h1.0M369.5 621.0h1.0M374.8 634.7h1.0M379.1 634.2h1.0M361.1 630.1h1.0M364.8 629.0h1.0M365.6 613.9h1.0M363.9 637.2h1.0M373.2 636.7h1.0M364.2 633.2h1.0M369.2 619.8h1.0M372.8 625.6h1.0M376.8 620.0h1.0M366.8 644.0h1.0M337.0 597.7h1.0M369.1 632.9h1.0M379.4 624.4h1.0M373.3 621.8h1.0M370.4 624.1h1.0M372.9 620.0h1.0M359.7 641.6h1.0M369.1 618.9h1.0M382.4 642.0h1.0M371.1 627.3h1.0M374.4 628.8h1.0M369.2 635.1h1.0M361.9 635.9h1.0M374.7 614.4h1.0M372.9 625.5h1.0M373.1 611.9h1.0M370.0 632.6h1.0M375.3 644.7h1.0M368.1 639.8h1.0M377.8 628.0h1.0M369.1 642.7h1.0M373.0 630.7h1.0M367.3 635.0h1.0M371.0 619.2h1.0M369.4 619.1h1.0M372.2 622.6h1.0M369.4 629.0h1.0M370.6 635.0h1.0M378.1 630.2h1.0M370.9 637.4h1.0M371.4 620.2h1.0M373.3 630.5h1.0M362.9 634.7h1.0M369.3 630.1h1.0M373.4 625.5h1.0M362.5 623.8h1.0M375.4 619.9h1.0M381.2 633.9h1.0M366.6 617.1h1.0M375.8 624.7h1.0M365.8 624.8h1.0M369.9 618.3h1.0M377.8 636.4h1.0M375.8 621.5h1.0M368.6 622.1h1.0M375.2 617.8h1.0M365.9 628.6h1.0M368.0 604.3h1.0M353.6 635.8h1.0M365.6 626.6h1.0M371.9 622.0h1.0M370.2 637.0h1.0M373.9 631.9h1.0M365.4 624.6h1.0M377.1 638.5h1.0M375.6 637.6h1.0M382.0 632.3h1.0M372.7 632.8h1.0M377.2 648.8h1.0M360.8 635.7h1.0M364.4 636.7h1.0M368.2 629.1h1.0M382.4 630.2h1.0M375.5 630.5h1.0M387.7 614.0h1.0M366.3 620.4h1.0M374.8 621.8h1.0M384.0 635.2h1.0M376.3 637.4h1.0M362.8 619.9h1.0M365.8 629.4h1.0M374.1 626.2h1.0M378.5 638.0h1.0M372.8 625.2h1.0M374.9 631.7h1.0M367.7 626.6h1.0M366.9 635.0h1.0M360.0 622.6h1.0M368.2 626.5h1.0M380.3 620.6h1.0M365.7 628.9h1.0M373.1 635.2h1.0M374.7 621.2h1.0M325.7 636.8h1.0M370.0 634.0h1.0M363.1 632.7h1.0M377.3 627.5h1.0M365.7 625.3h1.0M354.7 621.3h1.0M369.5 625.3h1.0M355.7 625.6h1.0M344.4 643.2h1.0M326.7 636.9h1.0M350.5 630.8h1.0M356.5 639.0h1.0M396.4 619.5h1.0M354.3 629.2h1.0M364.5 619.9h1.0M350.6 634.5h1.0M330.4 637.3h1.0M349.3 641.9h1.0M364.8 646.2h1.0M353.7 628.6h1.0M377.2 634.2h1.0M355.8 629.7h1.0M353.7 618.7h1.0M327.3 649.6h1.0M352.2 627.9h1.0M363.4 600.9h1.0M360.3 607.5h1.0M360.0 611.6h1.0M376.4 602.2h1.0M364.6 607.4h1.0M360.2 603.4h1.0M366.0 603.6h1.0M360.1 608.7h1.0M362.7 607.5h1.0M367.0 605.7h1.0M357.8 615.3h1.0M373.7 604.2h1.0M342.7 648.8h1.0M368.3 626.1h1.0M373.6 615.2h1.0M329.6 643.2h1.0M321.9 631.4h1.0M377.7 605.0h1.0M369.2 608.7h1.0M361.7 603.0h1.0M362.7 634.3h1.0M371.3 631.7h1.0M358.0 627.2h1.0M377.8 631.6h1.0M359.3 632.9h1.0M361.0 639.6h1.0M346.9 640.8h1.0M368.8 635.4h1.0M370.0 620.9h1.0M365.2 630.5h1.0M387.8 642.2h1.0M322.6 650.3h1.0M333.3 643.2h1.0M324.8 619.1h1.0M362.6 613.1h1.0M352.2 636.6h1.0M356.9 626.1h1.0M373.7 643.4h1.0M358.6 626.2h1.0M367.4 633.4h1.0M365.6 621.9h1.0M373.3 635.3h1.0M352.4 622.5h1.0M366.3 622.8h1.0M362.0 625.0h1.0M360.0 629.8h1.0M325.3 640.3h1.0M367.3 645.6h1.0M347.6 638.1h1.0M351.4 638.2h1.0M361.5 616.7h1.0M352.2 645.2h1.0M367.4 636.9h1.0M345.0 640.6h1.0M360.0 637.8h1.0M359.5 606.8h1.0M356.7 603.1h1.0M360.9 611.0h1.0M366.6 604.6h1.0M367.1 595.2h1.0M368.3 602.4h1.0M369.5 605.2h1.0M324.1 600.9h1.0M362.4 614.1h1.0M365.1 606.7h1.0M324.5 599.6h1.0M343.0 595.8h1.0M354.4 634.1h1.0M368.0 636.3h1.0M384.7 642.9h1.0M380.9 633.9h1.0M365.9 616.5h1.0M332.0 598.0h1.0M331.1 593.9h1.0M368.9 613.2h1.0M361.4 610.1h1.0M349.6 645.5h1.0M363.5 629.8h1.0M351.4 635.4h1.0M364.1 624.8h1.0M371.9 631.7h1.0M336.4 645.0h1.0M330.0 640.7h1.0M357.4 621.1h1.0M368.8 627.5h1.0M381.0 635.0h1.0M378.9 644.3h1.0M379.5 636.3h1.0M386.7 615.3h1.0M367.3 617.3h1.0M374.1 633.7h1.0M369.0 650.8h1.0M370.9 621.5h1.0M374.9 634.2h1.0M365.6 639.9h1.0M376.3 619.3h1.0M366.1 629.7h1.0M361.1 632.4h1.0M364.0 633.4h1.0M363.7 630.1h1.0M374.2 631.7h1.0M345.0 595.7h1.0M374.8 635.3h1.0M367.1 626.4h1.0M370.1 626.7h1.0M370.1 629.0h1.0M366.6 633.7h1.0M368.0 638.9h1.0M368.7 626.6h1.0M380.6 628.9h1.0M373.0 629.5h1.0M355.9 595.4h1.0M369.1 634.7h1.0M366.4 632.2h1.0M368.9 622.8h1.0M367.0 633.2h1.0M373.6 633.4h1.0M383.8 624.3h1.0M363.4 634.0h1.0M383.5 621.6h1.0M364.7 636.3h1.0M366.3 636.1h1.0M372.1 635.4h1.0M370.9 624.4h1.0M346.4 593.5h1.0M366.7 629.8h1.0M376.4 622.4h1.0M369.4 638.3h1.0M373.6 628.7h1.0M368.6 628.7h1.0M374.5 623.1h1.0M376.9 622.8h1.0M390.3 631.7h1.0M377.2 639.7h1.0M365.3 628.8h1.0M367.0 626.7h1.0M379.9 619.4h1.0M360.3 636.3h1.0M383.6 620.7h1.0M373.3 631.3h1.0M363.8 625.3h1.0M366.8 627.0h1.0M368.2 609.9h1.0M376.0 602.3h1.0M368.9 599.7h1.0M360.8 610.0h1.0M361.7 601.7h1.0M367.2 601.1h1.0M371.3 604.4h1.0M378.3 607.1h1.0M370.7 637.2h1.0M370.9 634.2h1.0M369.9 645.7h1.0M359.9 609.7h1.0M365.7 600.9h1.0M371.6 603.5h1.0M370.8 599.0h1.0M372.5 608.3h1.0M370.1 622.5h1.0M370.3 634.5h1.0M367.7 630.9h1.0M367.0 632.1h1.0M377.0 630.9h1.0M375.9 623.4h1.0M367.7 642.7h1.0M374.6 635.4h1.0M364.8 624.8h1.0M381.1 624.0h1.0M370.3 613.9h1.0M372.0 625.9h1.0M366.6 631.4h1.0M359.1 620.6h1.0M373.7 618.1h1.0M365.5 633.4h1.0M365.8 633.9h1.0M360.9 636.9h1.0M367.6 629.4h1.0M379.2 622.8h1.0M382.3 612.6h1.0M365.4 623.1h1.0M363.8 627.1h1.0M373.5 629.1h1.0M379.4 633.4h1.0M372.1 625.6h1.0M366.2 625.6h1.0M372.9 630.8h1.0M381.5 624.9h1.0M367.3 644.4h1.0M369.9 603.3h1.0M363.3 595.3h1.0M357.3 610.1h1.0M369.6 626.0h1.0M357.6 614.2h1.0M370.7 638.4h1.0M377.2 629.0h1.0M359.9 619.9h1.0M375.7 630.4h1.0M368.2 618.4h1.0M370.8 620.0h1.0M348.9 596.3h1.0M372.2 632.4h1.0M382.4 642.0h1.0M380.9 639.6h1.0M370.2 624.7h1.0M374.2 623.8h1.0M368.1 612.6h1.0M371.8 637.5h1.0M371.0 630.7h1.0M367.4 622.1h1.0M353.9 630.9h1.0M373.5 632.0h1.0M369.7 636.6h1.0M370.1 622.7h1.0M369.9 631.1h1.0M369.6 632.4h1.0M371.6 629.6h1.0M366.2 637.9h1.0M368.2 643.3h1.0M353.2 597.7h1.0M381.5 624.5h1.0M370.8 621.8h1.0M362.5 628.3h1.0M386.2 629.6h1.0M368.8 629.5h1.0M373.5 626.8h1.0M379.5 628.1h1.0M369.4 630.2h1.0M376.5 626.0h1.0M377.2 611.5h1.0M374.3 635.9h1.0M370.3 636.4h1.0M375.2 631.6h1.0M355.3 600.4h1.0M368.6 635.1h1.0M375.0 617.2h1.0M373.6 637.2h1.0M367.0 631.7h1.0M376.3 633.8h1.0M380.8 630.5h1.0M380.9 623.2h1.0M374.1 628.3h1.0M371.9 639.5h1.0M362.0 623.4h1.0M368.7 627.1h1.0M377.2 623.5h1.0M366.2 623.7h1.0M371.2 623.3h1.0M376.6 634.1h1.0M374.1 630.1h1.0M370.3 629.0h1.0M373.9 615.7h1.0M359.7 645.6h1.0M370.8 641.3h1.0M365.2 644.5h1.0M375.1 632.2h1.0M371.9 628.9h1.0M371.3 638.6h1.0M364.4 629.7h1.0M369.7 634.6h1.0M362.4 620.7h1.0M369.9 624.3h1.0M372.2 635.1h1.0M377.7 630.3h1.0M368.6 621.2h1.0M375.3 634.5h1.0M374.9 642.0h1.0M375.2 637.0h1.0M371.4 624.8h1.0M362.8 621.5h1.0M381.0 614.6h1.0M375.9 624.8h1.0M372.9 622.5h1.0M364.9 627.5h1.0M373.8 620.5h1.0M366.1 623.8h1.0M364.7 626.9h1.0M373.8 639.6h1.0M368.9 631.3h1.0M361.4 635.9h1.0M362.4 626.3h1.0M364.8 627.3h1.0M373.9 630.4h1.0M379.2 626.2h1.0M359.0 617.3h1.0M364.4 611.7h1.0M369.2 641.4h1.0M366.2 634.0h1.0M363.9 619.9h1.0M362.7 626.8h1.0M378.6 627.7h1.0M365.3 630.9h1.0M371.2 635.0h1.0M375.9 624.5h1.0M360.2 619.0h1.0M378.5 618.8h1.0M371.2 631.0h1.0M358.0 623.2h1.0M365.4 634.1h1.0M370.3 622.8h1.0M373.0 623.4h1.0M368.8 628.9h1.0M375.0 637.2h1.0M372.5 645.4h1.0M375.7 628.5h1.0M377.2 627.5h1.0M375.2 628.3h1.0M372.5 639.8h1.0M363.9 626.7h1.0M371.4 619.4h1.0M380.1 634.1h1.0M378.3 629.9h1.0M371.3 638.3h1.0M367.8 634.3h1.0M370.9 622.4h1.0M361.2 620.9h1.0M367.4 633.7h1.0M365.7 615.9h1.0M363.9 633.7h1.0M361.7 626.0h1.0M366.8 629.4h1.0M372.7 627.1h1.0M376.2 631.9h1.0M368.3 621.6h1.0M384.7 613.4h1.0M378.3 637.1h1.0M373.4 635.1h1.0M364.2 625.7h1.0M365.1 639.5h1.0M371.9 633.8h1.0M374.2 627.1h1.0M372.1 623.1h1.0M358.4 610.0h1.0M374.8 627.8h1.0M374.5 610.8h1.0M376.6 627.5h1.0M377.6 630.0h1.0M362.0 639.8h1.0M376.2 615.4h1.0M374.0 623.5h1.0M372.7 622.0h1.0M367.7 632.7h1.0M371.1 620.3h1.0M370.1 635.3h1.0M376.4 631.2h1.0M372.2 632.6h1.0M364.7 637.2h1.0M361.9 629.8h1.0M379.3 632.1h1.0M369.2 621.1h1.0M380.1 634.6h1.0M366.8 628.3h1.0M366.8 634.1h1.0M375.7 639.5h1.0M378.3 625.4h1.0M366.3 630.9h1.0M363.6 620.7h1.0M376.4 624.9h1.0M361.6 623.7h1.0M371.1 647.7h1.0M353.2 621.1h1.0M358.8 628.8h1.0M382.8 625.8h1.0M374.1 624.0h1.0M377.5 628.4h1.0M365.3 626.8h1.0M360.2 619.2h1.0M372.0 647.9h1.0M368.8 635.6h1.0M384.0 616.4h1.0M373.6 630.4h1.0M371.1 621.3h1.0M368.4 627.8h1.0M367.0 621.4h1.0M361.3 627.4h1.0M371.7 621.2h1.0M376.4 628.0h1.0M373.5 628.0h1.0M365.5 622.2h1.0M377.2 634.5h1.0M375.2 625.8h1.0M354.3 599.4h1.0M366.6 616.1h1.0M373.6 630.1h1.0M372.1 632.6h1.0M378.1 631.7h1.0M363.1 640.1h1.0M374.5 631.9h1.0M358.2 623.9h1.0M372.6 634.2h1.0M369.8 617.1h1.0M363.8 631.5h1.0M376.7 634.0h1.0M363.0 631.6h1.0M363.1 635.1h1.0M367.0 632.6h1.0M376.6 638.2h1.0M374.6 643.4h1.0M374.0 625.4h1.0M363.3 622.6h1.0M367.6 639.6h1.0M374.7 634.7h1.0M376.5 635.0h1.0M373.1 629.9h1.0M372.1 633.1h1.0M364.4 619.1h1.0M366.0 636.1h1.0M369.2 633.3h1.0M378.4 638.2h1.0M369.1 629.0h1.0M380.3 626.3h1.0M372.9 624.3h1.0M376.3 631.6h1.0M365.6 642.6h1.0M370.2 626.6h1.0M378.0 625.0h1.0M377.7 618.3h1.0M360.2 623.4h1.0" stroke="rgb(60, 80, 175)" stroke-width="1.0" stroke-opacity="0.9"/>
<path d="M323.6 603.5h1.0M331.7 600.5h1.0M349.5 633.3h1.0M343.7 641.0h1.0M329.6 601.8h1.0M322.5 615.6h1.0M332.6 602.4h1.0M326.7 618.7h1.0M327.5 601.9h1.0M321.8 609.4h1.0M345.8 639.4h1.0M325.2 616.0h1.0M329.3 621.6h1.0M349.6 633.5h1.0M348.2 633.9h1.0M347.6 624.3h1.0M354.6 606.7h1.0M325.0 615.5h1.0M346.7 633.3h1.0M342.1 639.5h1.0M330.2 629.5h1.0M348.2 622.7h1.0M321.0 607.9h1.0M344.0 638.0h1.0M350.2 632.7h1.0M336.0 637.3h1.0M320.9 609.4h1.0M320.7 611.0h1.0M327.3 602.5h1.0M321.3 614.7h1.0M347.5 635.6h1.0M350.2 618.5h1.0M338.5 599.2h1.0M338.6 642.5h1.0M352.9 611.7h1.0M325.6 602.4h1.0M346.1 638.1h1.0M334.0 633.0h1.0M335.9 638.6h1.0M345.9 632.9h1.0M334.5 635.4h1.0M324.1 614.9h1.0M329.8 626.8h1.0M339.6 640.5h1.0M348.5 631.6h1.0M325.1 602.9h1.0M325.1 618.1h1.0M339.8 598.3h1.0M350.3 620.3h1.0M323.0 614.1h1.0M321.1 608.5h1.0M349.7 626.1h1.0M335.1 637.8h1.0M332.5 630.6h1.0M322.4 615.8h1.0M350.0 632.9h1.0M330.8 632.7h1.0M335.6 638.3h1.0M343.4 640.2h1.0M338.2 599.5h1.0M350.5 599.0h1.0M340.4 641.6h1.0M332.2 634.3h1.0M341.8 638.1h1.0M329.2 625.1h1.0M343.1 637.2h1.0M332.5 633.5h1.0M346.0 636.6h1.0M350.5 621.6h1.0M350.1 627.6h1.0M347.5 636.6h1.0M334.4 637.9h1.0M355.0 609.5h1.0M333.1 632.4h1.0M336.4 640.1h1.0M340.5 640.1h1.0M334.5 601.3h1.0M338.4 641.4h1.0M345.9 638.9h1.0M334.5 636.7h1.0M354.4 601.1h1.0M335.5 600.6h1.0M340.2 639.5h1.0M330.4 618.6h1.0M334.1 636.4h1.0M350.6 616.5h1.0M349.6 617.4h1.0M330.6 629.8h1.0M346.8 620.9h1.0M339.8 597.9h1.0M352.9 601.0h1.0M350.7 626.6h1.0M348.8 623.7h1.0M344.1 597.3h1.0M334.4 601.5h1.0M348.1 631.4h1.0M348.0 631.6h1.0M346.4 638.2h1.0M349.5 624.9h1.0M331.2 623.9h1.0M343.8 636.5h1.0M323.3 615.6h1.0M320.5 609.2h1.0M320.5 608.9h1.0M330.3 619.4h1.0M323.0 613.8h1.0M330.2 617.5h1.0M320.7 609.0h1.0M336.5 639.1h1.0M350.5 620.7h1.0M348.7 598.0h1.0M345.8 597.5h1.0M329.7 601.2h1.0M322.3 611.8h1.0M320.7 611.3h1.0M328.4 619.4h1.0M322.2 607.6h1.0M327.1 602.4h1.0M348.5 618.2h1.0M348.3 616.7h1.0M332.8 635.5h1.0M329.0 621.2h1.0M347.6 616.6h1.0M331.2 619.6h1.0M338.8 642.1h1.0M345.0 635.5h1.0M338.7 640.1h1.0M335.6 639.6h1.0M336.7 637.6h1.0M356.5 606.7h1.0M349.2 625.6h1.0M353.3 599.3h1.0M324.4 614.8h1.0M322.9 613.7h1.0M340.1 641.2h1.0M321.7 615.3h1.0M332.1 623.3h1.0M321.7 612.9h1.0M343.8 638.7h1.0M336.3 638.2h1.0M327.6 621.4h1.0M329.2 621.0h1.0M322.4 615.5h1.0M342.7 597.4h1.0M348.9 617.7h1.0M321.1 613.1h1.0M321.6 608.0h1.0M326.0 616.5h1.0M323.0 615.4h1.0M324.7 602.5h1.0M322.2 609.9h1.0M322.5 616.9h1.0M324.0 615.6h1.0M338.1 599.3h1.0M327.3 602.4h1.0M329.1 619.0h1.0M321.0 614.1h1.0M330.1 630.4h1.0M323.0 614.0h1.0M323.5 604.7h1.0M323.5 616.7h1.0M324.3 615.9h1.0M321.1 610.6h1.0M339.9 641.3h1.0M320.8 611.3h1.0M320.6 606.5h1.0M321.9 611.7h1.0M352.1 598.9h1.0M330.3 601.5h1.0M353.6 610.3h1.0M322.5 614.3h1.0M328.6 618.0h1.0M326.5 616.8h1.0M320.2 611.7h1.0M331.4 618.6h1.0M352.7 600.7h1.0M339.0 599.1h1.0M351.7 599.1h1.0M350.5 620.8h1.0M322.9 615.2h1.0M322.2 609.3h1.0M335.6 599.1h1.0M329.6 601.7h1.0M326.6 603.0h1.0M351.3 616.0h1.0M320.0 612.5h1.0M354.2 613.0h1.0M321.7 612.6h1.0M321.5 612.8h1.0M326.3 617.5h1.0M320.7 606.9h1.0M324.2 605.1h1.0M354.5 603.2h1.0M320.7 608.9h1.0M320.5 608.9h1.0M326.3 617.8h1.0M322.1 607.8h1.0M325.7 603.4h1.0M336.2 600.4h1.0M328.3 603.4h1.0M351.8 612.9h1.0M348.4 598.5h1.0M355.1 606.9h1.0M348.3 623.7h1.0M346.6 637.6h1.0M341.3 640.9h1.0M356.8 606.5h1.0M346.4 638.3h1.0M331.1 623.8h1.0M323.7 616.5h1.0M344.7 639.2h1.0M330.6 628.5h1.0M351.1 620.8h1.0M326.6 620.5h1.0M338.1 638.6h1.0M351.5 628.3h1.0M342.1 596.7h1.0M343.5 639.4h1.0M354.5 605.0h1.0M348.8 635.5h1.0M338.7 638.7h1.0M328.1 617.0h1.0M330.8 602.2h1.0M324.0 615.7h1.0M321.7 611.2h1.0M322.1 611.6h1.0M322.6 604.4h1.0M325.2 616.5h1.0M322.3 606.4h1.0M324.8 603.6h1.0M333.8 602.4h1.0M357.3 607.1h1.0M348.8 597.7h1.0M345.9 597.0h1.0M342.7 638.8h1.0M350.7 617.9h1.0M321.5 605.0h1.0M355.3 601.5h1.0M355.0 610.8h1.0M335.8 600.0h1.0M354.6 606.1h1.0M332.7 600.0h1.0M333.3 600.6h1.0M324.9 603.2h1.0M351.0 620.1h1.0M322.1 607.1h1.0M345.8 633.2h1.0M335.8 600.2h1.0M353.8 610.3h1.0M330.4 624.3h1.0M328.5 602.6h1.0M320.6 610.5h1.0M320.7 609.9h1.0M324.0 603.6h1.0M324.7 617.8h1.0M320.6 609.0h1.0M330.8 629.2h1.0M344.3 636.7h1.0M346.7 619.3h1.0M348.7 624.5h1.0M328.6 600.7h1.0M356.9 607.9h1.0M352.7 612.0h1.0M356.6 605.7h1.0M333.8 602.0h1.0M327.7 617.9h1.0M323.5 615.3h1.0M332.5 625.7h1.0M326.1 604.1h1.0M322.3 609.1h1.0M322.6 604.6h1.0M320.5 606.3h1.0M348.9 634.7h1.0M321.8 609.5h1.0M326.0 603.0h1.0M323.1 605.6h1.0M325.9 616.9h1.0M325.6 617.6h1.0M341.4 640.2h1.0M334.0 602.3h1.0M328.7 618.8h1.0M332.2 631.3h1.0M320.9 611.1h1.0M321.6 608.1h1.0M326.0 604.0h1.0M350.1 617.5h1.0M343.2 641.9h1.0M344.5 638.4h1.0M331.3 622.5h1.0M331.0 602.4h1.0M328.5 602.0h1.0M319.8 608.9h1.0M327.2 616.6h1.0M327.8 617.3h1.0M350.4 622.9h1.0M328.6 600.8h1.0M321.9 610.8h1.0M324.0 617.3h1.0M319.5 611.5h1.0M326.5 602.9h1.0M319.6 611.7h1.0M329.4 602.3h1.0M329.0 621.3h1.0M326.0 619.1h1.0M332.8 601.8h1.0M333.2 602.2h1.0M322.7 617.3h1.0M329.6 628.4h1.0M325.3 601.9h1.0M326.1 601.7h1.0M327.2 603.2h1.0M331.1 625.2h1.0M330.7 624.2h1.0M352.7 600.4h1.0M332.3 600.8h1.0M321.5 610.9h1.0M331.3 602.5h1.0M322.1 614.5h1.0M328.1 617.5h1.0M321.5 610.0h1.0M351.3 627.5h1.0M335.2 600.2h1.0M321.3 608.0h1.0M322.1 607.4h1.0M350.9 615.1h1.0M321.7 612.3h1.0M349.7 628.1h1.0M322.3 610.6h1.0M322.3 604.6h1.0M327.2 603.4h1.0M324.1 615.1h1.0M343.7 636.4h1.0M323.8 604.6h1.0M321.0 614.9h1.0M332.0 632.9h1.0M351.3 617.4h1.0M331.0 632.5h1.0M333.0 638.7h1.0M323.3 614.3h1.0M331.7 602.4h1.0M349.9 629.5h1.0M319.9 608.1h1.0M320.8 610.5h1.0M324.2 616.4h1.0M323.0 615.9h1.0M320.9 610.3h1.0M323.3 613.8h1.0M342.6 597.0h1.0M348.8 622.4h1.0M342.5 598.1h1.0M325.7 602.9h1.0M348.1 622.5h1.0M327.2 602.9h1.0M324.0 605.1h1.0M329.2 622.3h1.0M348.3 636.3h1.0M319.9 611.6h1.0M334.7 638.7h1.0M335.2 635.1h1.0M350.1 627.5h1.0M334.9 635.7h1.0M330.0 620.6h1.0M349.3 620.1h1.0M350.3 619.3h1.0M333.3 629.9h1.0M329.5 625.4h1.0M337.2 600.5h1.0M333.2 635.5h1.0M327.1 619.9h1.0M343.9 640.9h1.0M332.4 624.2h1.0M333.5 633.5h1.0M354.5 611.5h1.0M333.8 634.8h1.0M351.2 619.4h1.0M350.6 599.1h1.0M338.5 640.6h1.0M331.9 628.5h1.0M331.0 622.5h1.0M339.4 638.5h1.0M331.9 636.0h1.0M328.1 601.5h1.0M349.4 627.6h1.0M332.9 602.2h1.0M349.7 616.4h1.0M357.5 607.3h1.0M328.6 627.6h1.0M351.0 615.0h1.0M329.8 629.5h1.0M349.9 628.7h1.0M332.0 601.2h1.0M341.4 597.3h1.0M342.3 597.2h1.0M341.0 639.8h1.0M331.1 628.5h1.0M328.6 625.1h1.0M340.9 640.8h1.0M331.5 619.3h1.0M335.9 640.0h1.0M348.1 630.0h1.0M330.2 621.5h1.0M349.7 615.6h1.0M335.0 636.0h1.0M336.9 641.6h1.0M331.6 623.0h1.0M351.0 627.2h1.0M355.5 608.0h1.0M339.1 638.5h1.0M348.6 631.7h1.0M330.7 620.7h1.0M329.9 633.2h1.0M328.1 622.4h1.0M349.6 616.7h1.0M331.7 623.4h1.0M330.7 619.9h1.0M332.2 627.6h1.0M346.7 619.1h1.0M356.4 602.9h1.0M353.1 598.9h1.0M347.6 596.8h1.0M328.5 602.1h1.0M329.9 625.2h1.0M349.8 620.4h1.0M348.9 628.9h1.0M352.1 612.6h1.0M357.1 605.2h1.0M336.5 600.2h1.0M332.1 624.9h1.0M348.3 619.8h1.0M351.8 615.0h1.0M336.4 599.3h1.0M336.3 638.7h1.0M346.0 634.2h1.0M347.7 617.7h1.0M329.8 618.2h1.0M339.5 640.3h1.0M338.2 638.6h1.0M346.6 636.6h1.0M333.4 632.2h1.0M349.5 619.2h1.0M347.9 619.7h1.0M346.8 620.4h1.0M330.9 632.2h1.0M330.6 633.9h1.0M334.2 640.0h1.0M344.1 637.7h1.0M343.6 637.8h1.0M348.8 623.8h1.0M348.6 623.9h1.0M333.1 631.4h1.0M331.4 628.9h1.0M347.8 618.3h1.0M330.5 622.3h1.0M349.3 620.7h1.0M333.9 634.6h1.0M349.5 614.8h1.0M341.6 640.3h1.0M334.6 636.6h1.0M349.1 630.9h1.0M331.3 626.6h1.0M331.4 619.5h1.0M350.1 616.0h1.0M326.4 619.1h1.0M348.1 630.2h1.0M346.6 633.7h1.0M343.5 637.4h1.0M351.3 627.9h1.0M330.6 633.6h1.0M349.6 626.1h1.0M341.3 640.7h1.0M334.8 641.4h1.0M350.7 621.8h1.0M331.8 627.0h1.0M330.1 628.3h1.0M353.7 600.9h1.0M327.8 601.6h1.0M342.4 639.8h1.0M350.5 614.4h1.0M332.4 636.2h1.0M329.1 626.1h1.0M337.1 637.8h1.0M328.8 625.8h1.0M340.5 640.9h1.0M332.8 632.2h1.0M336.7 639.1h1.0M332.6 632.1h1.0M336.9 638.2h1.0M349.1 621.8h1.0M327.0 620.2h1.0M356.0 607.4h1.0M348.9 630.4h1.0M344.5 639.0h1.0M347.7 631.5h1.0M327.1 602.8h1.0M349.3 618.9h1.0M341.2 640.1h1.0M349.0 623.0h1.0M330.7 629.3h1.0M331.9 628.9h1.0M345.5 637.7h1.0M339.4 640.3h1.0M341.6 639.0h1.0M348.8 630.6h1.0M352.3 600.3h1.0M331.9 622.6h1.0M328.5 617.4h1.0M343.0 641.0h1.0M331.3 628.9h1.0M347.6 634.1h1.0M339.0 639.6h1.0M339.1 640.1h1.0M335.3 641.1h1.0M348.3 620.3h1.0M347.8 635.6h1.0M340.6 639.0h1.0M329.1 624.9h1.0M328.9 626.2h1.0M347.3 597.2h1.0M345.7 635.8h1.0M350.5 615.7h1.0M350.1 622.9h1.0M347.6 631.8h1.0M328.1 621.9h1.0M329.4 626.8h1.0M332.6 632.5h1.0M333.5 637.2h1.0M349.9 627.0h1.0M330.6 602.0h1.0M347.6 619.2h1.0M340.4 638.8h1.0M337.1 640.0h1.0M337.2 641.7h1.0M330.0 622.1h1.0M340.4 597.0h1.0M330.4 625.0h1.0M347.5 623.2h1.0M352.1 614.9h1.0M343.4 636.9h1.0M320.1 611.9h1.0M356.0 607.1h1.0M335.9 641.5h1.0M333.3 637.0h1.0M342.1 641.8h1.0M349.6 621.7h1.0M341.6 640.7h1.0M351.0 620.3h1.0M333.7 633.5h1.0M348.3 635.3h1.0M348.8 629.9h1.0M333.6 639.4h1.0M332.3 634.4h1.0M342.7 641.5h1.0M350.3 627.9h1.0M349.7 620.2h1.0M347.8 617.3h1.0M348.9 598.4h1.0M348.9 617.5h1.0M349.1 627.9h1.0M350.5 617.9h1.0M333.0 633.0h1.0M346.1 633.4h1.0M351.0 616.7h1.0M353.9 611.3h1.0M343.5 597.0h1.0M355.3 603.9h1.0M342.6 638.8h1.0M350.3 628.6h1.0M340.1 640.9h1.0M336.1 636.9h1.0M330.2 628.8h1.0M330.8 630.2h1.0M333.8 637.1h1.0M334.8 639.0h1.0M332.9 633.2h1.0M355.6 605.9h1.0M332.7 630.3h1.0M348.6 624.2h1.0M328.8 617.9h1.0M329.0 624.9h1.0M333.5 634.5h1.0M342.4 641.7h1.0M328.1 617.4h1.0M348.3 634.7h1.0M338.2 639.6h1.0M337.4 599.3h1.0M341.7 597.5h1.0M332.1 628.0h1.0M342.0 639.9h1.0M349.6 623.3h1.0M348.5 632.4h1.0M341.1 639.8h1.0M348.0 633.8h1.0M345.8 597.1h1.0M355.7 603.7h1.0M349.0 620.3h1.0M349.3 630.6h1.0M334.2 635.7h1.0M346.8 638.0h1.0M346.0 635.8h1.0M332.9 639.4h1.0M339.7 641.1h1.0M334.1 639.8h1.0M342.1 638.3h1.0M336.9 637.5h1.0M341.6 638.4h1.0M353.0 601.4h1.0M355.4 610.4h1.0M352.4 600.1h1.0M351.7 599.7h1.0M354.7 609.3h1.0M333.6 637.7h1.0M337.8 642.3h1.0M341.5 641.9h1.0M345.2 636.2h1.0M340.8 640.8h1.0M349.7 626.9h1.0M331.7 627.9h1.0M349.1 619.9h1.0M343.7 639.8h1.0M348.0 622.1h1.0M346.0 638.5h1.0M347.5 634.2h1.0M337.8 638.7h1.0M348.6 627.0h1.0M350.0 625.6h1.0M331.6 624.4h1.0M341.0 639.1h1.0M353.8 601.2h1.0M341.5 597.8h1.0M336.3 637.5h1.0M328.5 620.9h1.0M334.8 640.6h1.0M338.6 642.7h1.0M346.4 633.8h1.0M349.0 631.3h1.0M351.0 621.0h1.0M332.5 634.1h1.0M347.6 617.2h1.0M348.8 623.5h1.0M333.7 634.9h1.0M353.0 601.4h1.0M338.6 643.2h1.0M332.2 631.7h1.0M336.6 640.3h1.0M331.6 632.4h1.0M347.4 631.6h1.0M350.6 613.6h1.0M330.1 625.7h1.0M343.5 637.3h1.0M328.0 620.2h1.0M331.0 621.1h1.0M349.4 630.8h1.0M331.2 619.4h1.0M340.5 640.6h1.0M328.5 620.5h1.0M355.9 604.0h1.0M339.0 599.0h1.0M354.7 602.5h1.0M355.3 601.7h1.0M341.4 639.8h1.0M346.4 632.7h1.0M340.8 640.4h1.0M348.3 629.9h1.0M346.1 635.6h1.0M334.9 634.8h1.0M331.3 634.2h1.0M348.6 616.4h1.0M348.4 632.3h1.0M330.6 630.2h1.0M348.3 622.3h1.0M332.4 629.1h1.0M334.6 638.8h1.0M356.7 606.3h1.0M351.2 628.0h1.0M349.1 597.6h1.0M333.8 636.6h1.0M331.5 631.2h1.0M348.5 617.7h1.0M332.3 625.7h1.0M353.1 601.5h1.0M354.7 601.4h1.0M339.0 641.8h1.0M356.6 607.4h1.0M343.3 640.0h1.0M325.9 619.5h1.0M332.2 630.2h1.0M331.9 632.4h1.0M343.2 637.4h1.0M338.2 598.5h1.0M351.0 617.3h1.0M345.0 636.9h1.0M344.4 638.3h1.0M348.3 619.2h1.0M351.4 622.5h1.0M328.5 628.0h1.0M336.3 639.7h1.0M341.9 640.7h1.0M330.3 622.7h1.0M328.9 625.9h1.0M329.5 629.3h1.0M343.9 640.7h1.0M332.8 629.7h1.0M334.6 635.0h1.0M350.6 613.9h1.0M331.7 631.5h1.0M331.9 628.0h1.0M333.9 632.6h1.0M349.8 631.1h1.0M346.0 639.4h1.0M332.1 635.2h1.0M349.1 616.2h1.0M343.1 640.2h1.0M330.6 631.6h1.0M347.9 596.7h1.0M347.6 620.2h1.0M347.1 632.0h1.0M332.0 636.9h1.0M348.2 619.8h1.0M339.0 638.8h1.0M331.6 635.4h1.0M349.9 620.0h1.0M334.5 632.7h1.0M334.5 635.3h1.0M349.2 624.6h1.0M329.7 618.2h1.0M352.9 600.2h1.0M327.5 619.2h1.0M350.0 626.4h1.0M337.6 597.5h1.0M348.0 598.4h1.0M348.3 630.7h1.0M348.8 623.4h1.0M352.1 600.1h1.0M330.7 628.8h1.0M330.6 634.9h1.0M348.6 633.5h1.0M329.6 619.9h1.0M329.5 621.0h1.0M333.5 636.0h1.0M350.8 625.6h1.0M330.9 633.2h1.0M335.6 636.8h1.0M348.8 628.4h1.0M325.8 602.0h1.0M348.8 633.6h1.0M347.5 634.5h1.0M337.2 641.4h1.0M351.1 618.2h1.0M347.4 635.7h1.0M339.7 639.5h1.0M343.0 637.8h1.0M333.2 632.3h1.0M350.7 622.6h1.0M341.2 639.6h1.0M348.8 621.4h1.0M331.9 629.0h1.0M344.0 639.4h1.0M351.6 615.5h1.0M326.4 604.2h1.0M352.2 598.8h1.0M347.2 634.2h1.0M329.0 625.2h1.0M357.0 605.4h1.0M355.3 609.0h1.0M343.7 597.4h1.0M322.2 614.0h1.0M354.9 604.5h1.0M341.2 638.7h1.0M332.1 626.7h1.0M349.0 624.0h1.0M340.3 639.7h1.0M353.9 609.9h1.0M343.6 635.7h1.0M333.7 637.5h1.0M334.2 633.0h1.0M339.8 638.9h1.0M326.1 615.7h1.0M321.4 607.2h1.0M347.8 630.9h1.0M349.5 598.2h1.0M332.0 628.0h1.0M339.0 639.8h1.0M353.9 611.6h1.0M351.5 616.1h1.0M334.2 638.2h1.0M349.4 628.1h1.0M347.6 635.3h1.0M348.8 619.0h1.0M332.8 630.4h1.0M347.5 621.7h1.0M348.4 618.6h1.0M348.9 621.7h1.0M335.6 640.8h1.0M348.7 629.9h1.0M332.9 630.2h1.0M336.9 640.1h1.0M328.6 624.8h1.0M341.7 639.9h1.0M348.5 627.6h1.0M329.5 622.9h1.0M334.4 638.2h1.0M342.2 637.9h1.0M329.1 626.7h1.0M338.1 642.4h1.0M330.9 624.8h1.0M332.3 627.4h1.0M345.5 637.9h1.0M352.0 600.5h1.0M354.5 606.4h1.0M329.8 630.2h1.0M342.0 639.0h1.0M341.3 641.6h1.0M328.4 621.2h1.0M350.7 625.4h1.0M331.0 634.2h1.0M338.9 640.1h1.0M351.0 618.0h1.0M345.7 632.6h1.0M331.6 629.0h1.0M346.1 634.1h1.0" stroke="rgb(53, 86, 188)" stroke-width="1.0" stroke-opacity="0.9"/>
<path d="M334.7 630.8h1.0M344.1 619.6h1.0M347.3 627.7h1.0M339.6 634.1h1.0M340.8 635.3h1.0M345.6 624.1h1.0M341.7 632.5h1.0M344.1 619.3h1.0M345.1 629.3h1.0M351.9 611.2h1.0M352.8 609.2h1.0M346.5 626.6h1.0M341.1 636.7h1.0M346.0 629.8h1.0M334.0 631.3h1.0M333.5 624.0h1.0M339.7 635.8h1.0M339.1 632.7h1.0M335.2 602.6h1.0M338.5 601.4h1.0M347.4 597.7h1.0M349.5 614.5h1.0M340.4 635.9h1.0M333.0 625.8h1.0M340.0 636.2h1.0M340.2 635.5h1.0M335.7 632.8h1.0M341.4 632.8h1.0M345.3 625.5h1.0M334.0 630.5h1.0M335.5 620.7h1.0M349.8 612.8h1.0M345.2 617.8h1.0M338.1 634.0h1.0M344.2 618.6h1.0M340.9 638.1h1.0M344.5 633.0h1.0M354.1 604.9h1.0M334.0 628.1h1.0M335.4 628.1h1.0M328.1 616.2h1.0M348.3 626.5h1.0M331.1 617.3h1.0M335.4 618.1h1.0M346.5 627.2h1.0M348.1 629.5h1.0M343.3 631.8h1.0M340.3 636.4h1.0M334.9 627.9h1.0M352.9 609.2h1.0M344.9 615.7h1.0M342.4 598.7h1.0M345.9 597.9h1.0M338.1 600.9h1.0M349.9 600.0h1.0M347.5 622.8h1.0M335.2 625.6h1.0M351.2 599.7h1.0M351.4 612.0h1.0M338.6 600.0h1.0M344.2 623.0h1.0M344.7 629.9h1.0M350.2 599.8h1.0M332.9 628.6h1.0M339.7 600.4h1.0M344.5 620.1h1.0M347.1 628.2h1.0M347.7 628.1h1.0M348.2 629.4h1.0M346.6 625.9h1.0M346.1 631.8h1.0M344.6 625.0h1.0M353.1 603.4h1.0M330.6 603.7h1.0M326.8 615.5h1.0M324.3 609.4h1.0M327.4 604.3h1.0M351.2 599.8h1.0M341.8 598.8h1.0M347.8 613.6h1.0M345.8 630.0h1.0M338.6 600.3h1.0M333.1 618.4h1.0M346.1 599.5h1.0M340.9 599.0h1.0M334.7 616.3h1.0M354.5 606.8h1.0M345.6 598.3h1.0M334.5 622.5h1.0M340.0 635.4h1.0M334.0 626.2h1.0M345.6 617.7h1.0M342.9 635.8h1.0M345.9 626.1h1.0M340.0 637.5h1.0M347.6 629.4h1.0M334.5 617.8h1.0M346.4 631.3h1.0M343.2 618.5h1.0M338.6 634.8h1.0M334.2 602.9h1.0M340.1 634.1h1.0M344.7 621.3h1.0M341.7 632.9h1.0M333.1 625.2h1.0M346.3 624.4h1.0M335.6 634.6h1.0M335.2 626.5h1.0M337.4 632.5h1.0M333.8 627.8h1.0M344.9 622.5h1.0M345.2 617.9h1.0M352.3 600.9h1.0M345.5 598.7h1.0M353.0 611.5h1.0M345.6 598.6h1.0M352.5 610.2h1.0M346.1 599.3h1.0M343.1 617.6h1.0M354.1 603.9h1.0M331.5 616.1h1.0M336.6 631.5h1.0M336.8 634.0h1.0M335.9 617.3h1.0M345.2 630.8h1.0M344.8 634.1h1.0M324.7 614.2h1.0M333.0 603.1h1.0M336.6 634.4h1.0M347.6 628.5h1.0M344.7 629.3h1.0M348.5 626.3h1.0M353.1 602.5h1.0M340.9 635.5h1.0M343.9 620.4h1.0M333.0 619.6h1.0M346.3 629.6h1.0M335.3 616.0h1.0M334.7 616.0h1.0M327.7 604.0h1.0M328.6 604.6h1.0M353.9 604.0h1.0M331.8 604.0h1.0M350.1 612.6h1.0M323.6 612.2h1.0M323.6 606.2h1.0M344.1 599.0h1.0M334.7 603.0h1.0M322.5 608.9h1.0M347.7 599.2h1.0M347.9 599.4h1.0M335.5 619.5h1.0M345.7 618.9h1.0M338.4 636.3h1.0M342.2 635.0h1.0M341.6 632.8h1.0M345.1 598.4h1.0M352.9 610.4h1.0M346.2 616.8h1.0M325.6 614.2h1.0M344.1 631.3h1.0M345.5 620.4h1.0M335.4 632.2h1.0M341.8 619.3h1.0M346.1 626.7h1.0M339.9 638.5h1.0M334.2 630.6h1.0M346.3 629.2h1.0M323.0 612.4h1.0M326.3 605.1h1.0M348.8 599.5h1.0M347.7 613.9h1.0M348.2 599.4h1.0M337.4 636.1h1.0M334.0 630.9h1.0M348.4 624.5h1.0M336.1 633.5h1.0M341.7 636.7h1.0M332.3 621.4h1.0M343.0 632.0h1.0M337.8 637.5h1.0M346.9 598.8h1.0M332.2 620.3h1.0M353.1 609.7h1.0M344.0 618.1h1.0M345.2 621.8h1.0M339.0 633.4h1.0M346.2 624.5h1.0M345.8 625.7h1.0M339.6 635.8h1.0M335.2 631.5h1.0M335.3 624.1h1.0M335.2 618.4h1.0M336.2 635.0h1.0M338.1 632.6h1.0M329.8 617.4h1.0M346.4 625.4h1.0M337.2 636.1h1.0M330.8 604.2h1.0M348.1 615.6h1.0M334.3 619.8h1.0M339.8 635.1h1.0M346.9 624.1h1.0M335.5 630.2h1.0M331.0 618.2h1.0M347.5 627.9h1.0M338.3 636.6h1.0M333.8 632.4h1.0M334.8 601.7h1.0M331.5 615.6h1.0M329.1 604.4h1.0M324.9 606.6h1.0M329.1 605.4h1.0M329.2 603.8h1.0M325.5 606.9h1.0M333.5 625.8h1.0M335.9 618.0h1.0M338.8 634.4h1.0M339.4 633.6h1.0M350.1 614.3h1.0M345.7 623.6h1.0M342.3 619.4h1.0M335.0 626.7h1.0M344.7 634.0h1.0M341.6 634.4h1.0M344.4 618.4h1.0M342.9 599.4h1.0M342.3 598.9h1.0M354.2 607.5h1.0M333.9 631.8h1.0M339.4 632.8h1.0M335.7 618.1h1.0M331.9 617.6h1.0M340.7 599.5h1.0M346.2 628.9h1.0M334.7 622.5h1.0M329.8 616.5h1.0M345.7 628.3h1.0M344.5 623.5h1.0M347.4 624.6h1.0M324.0 606.8h1.0M330.8 603.8h1.0M325.3 607.5h1.0M323.7 612.0h1.0M331.8 618.0h1.0M324.0 608.0h1.0M329.0 605.0h1.0M344.9 631.6h1.0M327.4 605.8h1.0M345.3 631.6h1.0M332.0 618.9h1.0M332.6 615.8h1.0M334.6 617.0h1.0M342.7 619.2h1.0M324.3 608.6h1.0M322.5 613.4h1.0M331.7 603.8h1.0M331.0 603.5h1.0M351.8 610.5h1.0M351.2 601.4h1.0M346.1 598.7h1.0M343.9 599.4h1.0M328.4 603.8h1.0M339.7 635.2h1.0M335.1 633.9h1.0M354.3 608.4h1.0M332.6 603.3h1.0M334.8 602.1h1.0M342.8 617.7h1.0M334.9 602.0h1.0M332.2 604.0h1.0M328.8 614.5h1.0M335.5 617.4h1.0M348.4 626.3h1.0M334.7 627.6h1.0M347.7 614.5h1.0M345.0 628.9h1.0M335.4 628.0h1.0M340.2 636.7h1.0M345.5 629.3h1.0M343.5 632.6h1.0M353.1 610.9h1.0M346.1 631.4h1.0M345.4 632.0h1.0M346.9 623.7h1.0M335.3 624.4h1.0M335.0 619.7h1.0M338.2 636.9h1.0M323.1 606.6h1.0M326.4 613.8h1.0M339.2 633.3h1.0M346.0 626.3h1.0M346.4 627.5h1.0M343.3 618.5h1.0M346.6 622.5h1.0M341.3 636.0h1.0M323.7 605.7h1.0M325.2 606.4h1.0M332.4 603.6h1.0M325.1 605.5h1.0M330.9 603.9h1.0M334.2 616.3h1.0M329.0 616.6h1.0M324.9 614.7h1.0M339.0 632.6h1.0M339.2 632.7h1.0M338.4 638.0h1.0M339.8 638.5h1.0M343.6 623.5h1.0M330.2 617.1h1.0M329.5 616.1h1.0M326.0 614.5h1.0M347.2 625.2h1.0M343.7 631.8h1.0M344.5 624.6h1.0M344.6 617.8h1.0M334.5 624.2h1.0M335.6 617.5h1.0M331.7 621.4h1.0M334.4 631.7h1.0M330.2 604.4h1.0M335.4 602.9h1.0M341.1 637.5h1.0M333.8 621.2h1.0M343.7 620.2h1.0M338.1 637.1h1.0M348.4 613.9h1.0M333.3 629.0h1.0M326.7 606.4h1.0M323.6 612.6h1.0M324.4 608.6h1.0M344.3 621.6h1.0M347.5 629.1h1.0M340.5 633.7h1.0M345.4 617.7h1.0M344.0 633.0h1.0M334.7 602.4h1.0M333.1 618.2h1.0M326.1 606.2h1.0M324.2 609.9h1.0M331.5 614.6h1.0M327.1 604.0h1.0M323.5 612.4h1.0M326.9 614.4h1.0M345.5 628.6h1.0M344.1 617.6h1.0M343.6 633.6h1.0M334.1 625.5h1.0M340.4 636.9h1.0M333.2 627.4h1.0M340.0 637.7h1.0M326.9 606.0h1.0M337.4 600.9h1.0M346.5 625.2h1.0M348.0 624.8h1.0M330.5 616.5h1.0M345.3 617.3h1.0M350.4 599.1h1.0M340.1 600.5h1.0M353.2 611.1h1.0M345.0 630.6h1.0M353.8 604.1h1.0M325.4 615.1h1.0M352.9 610.8h1.0M348.8 598.7h1.0M351.3 599.8h1.0M336.4 601.7h1.0M337.2 602.2h1.0M345.8 621.1h1.0M345.4 623.7h1.0M339.7 635.0h1.0M332.6 621.6h1.0M335.1 616.1h1.0M345.4 630.5h1.0M346.1 616.3h1.0M334.5 632.8h1.0M345.4 633.1h1.0M353.3 608.6h1.0M347.8 598.9h1.0M345.3 632.9h1.0M340.8 637.2h1.0M345.8 627.3h1.0M348.4 615.9h1.0M339.8 633.9h1.0M322.7 608.5h1.0M330.4 604.6h1.0M323.7 611.7h1.0M322.8 612.5h1.0M324.6 615.0h1.0M347.2 631.5h1.0M346.2 628.1h1.0M340.3 633.8h1.0M330.1 617.5h1.0M328.8 614.6h1.0M327.9 605.2h1.0M324.3 614.1h1.0M325.6 606.2h1.0M322.6 610.1h1.0M324.0 613.5h1.0M335.1 616.0h1.0M333.3 618.3h1.0M342.6 633.6h1.0M345.5 623.4h1.0M333.1 629.1h1.0M333.8 616.6h1.0M335.2 624.8h1.0M336.5 632.4h1.0M344.6 619.1h1.0M323.7 607.9h1.0M341.2 633.6h1.0M333.8 621.3h1.0M340.2 636.3h1.0M341.1 635.8h1.0M334.9 624.7h1.0M341.5 634.1h1.0M335.1 628.8h1.0M334.3 631.2h1.0M331.9 619.4h1.0M344.8 616.8h1.0M336.7 635.7h1.0M346.1 616.4h1.0M346.1 630.0h1.0M347.5 630.1h1.0M334.5 623.0h1.0M327.6 614.8h1.0M330.1 614.8h1.0M323.6 610.6h1.0M331.1 616.1h1.0M343.3 620.8h1.0M350.8 613.5h1.0M341.8 636.6h1.0M339.1 636.6h1.0M334.2 623.1h1.0M332.3 617.1h1.0M323.9 613.2h1.0M327.6 604.9h1.0M329.1 616.8h1.0M324.7 605.3h1.0M327.1 603.7h1.0M324.1 609.2h1.0M329.2 615.3h1.0M346.3 618.9h1.0M339.8 634.8h1.0M344.6 619.2h1.0M348.2 626.1h1.0M332.6 627.2h1.0M344.9 628.7h1.0M337.7 635.8h1.0M333.3 625.6h1.0M341.2 633.8h1.0M331.9 621.3h1.0M345.1 620.0h1.0M337.4 601.9h1.0M328.4 604.5h1.0M335.8 618.8h1.0M347.1 629.0h1.0M353.6 603.0h1.0M325.2 615.3h1.0M350.4 613.7h1.0M324.7 612.6h1.0M335.5 603.1h1.0M330.5 615.2h1.0M333.8 628.1h1.0M341.5 636.5h1.0M336.7 632.2h1.0M345.5 622.1h1.0M334.0 624.9h1.0M336.2 633.9h1.0M335.7 633.3h1.0M345.0 616.6h1.0M334.5 620.8h1.0M353.8 608.1h1.0M335.5 624.0h1.0M334.8 633.6h1.0M345.6 625.2h1.0M340.2 636.1h1.0M334.8 624.2h1.0M345.2 619.0h1.0M333.9 623.7h1.0M339.2 633.6h1.0M337.2 631.7h1.0M346.4 624.1h1.0M346.9 623.5h1.0M334.1 626.9h1.0M347.8 629.4h1.0M339.4 633.9h1.0M343.8 634.4h1.0M332.8 604.1h1.0M324.1 608.5h1.0M333.4 621.4h1.0M327.0 613.8h1.0M322.6 610.3h1.0M332.3 619.6h1.0M348.5 625.7h1.0M346.9 623.9h1.0M331.8 619.1h1.0M347.6 626.4h1.0M336.2 631.2h1.0M350.0 599.9h1.0M338.2 600.1h1.0M354.4 607.2h1.0M326.5 616.0h1.0M323.9 607.7h1.0M322.7 607.5h1.0M345.4 618.3h1.0M344.3 623.0h1.0M339.0 634.4h1.0M343.3 617.6h1.0M343.9 620.6h1.0M339.7 635.6h1.0M340.4 637.2h1.0M343.3 635.2h1.0M347.0 629.9h1.0M333.9 627.6h1.0M343.3 619.1h1.0M338.5 634.5h1.0M343.1 631.8h1.0M333.5 623.8h1.0M346.2 628.3h1.0M337.6 635.2h1.0M333.7 602.8h1.0M332.6 603.9h1.0M349.8 599.1h1.0M335.3 621.2h1.0M345.1 630.1h1.0M345.8 622.0h1.0M347.3 629.7h1.0M334.2 621.3h1.0M336.5 632.7h1.0M332.8 615.8h1.0M323.1 613.3h1.0M327.4 615.6h1.0M323.6 610.6h1.0M324.2 610.0h1.0M324.1 608.7h1.0M332.6 604.4h1.0M342.1 635.3h1.0M333.9 621.3h1.0M347.4 616.3h1.0M348.6 598.7h1.0M353.6 603.7h1.0M341.7 633.1h1.0M333.0 617.6h1.0M332.9 626.9h1.0M348.1 627.9h1.0M332.8 623.3h1.0M346.0 627.0h1.0M345.0 623.0h1.0M335.5 628.3h1.0M344.9 621.8h1.0M333.2 604.4h1.0M354.1 606.6h1.0M332.8 628.5h1.0M331.3 617.2h1.0M345.8 624.1h1.0M344.5 631.9h1.0M332.6 619.2h1.0M343.9 635.3h1.0M346.0 629.7h1.0M343.3 621.3h1.0M346.3 598.5h1.0M352.6 608.9h1.0M345.4 616.8h1.0M326.8 614.6h1.0M354.3 605.3h1.0M340.2 600.2h1.0M324.1 613.2h1.0M343.3 633.8h1.0M347.2 626.6h1.0M334.5 620.6h1.0M343.1 633.3h1.0M332.3 620.5h1.0M354.0 606.0h1.0M345.6 617.0h1.0M334.7 634.2h1.0M345.8 625.2h1.0M324.3 608.3h1.0M328.9 615.8h1.0M325.5 615.4h1.0M338.0 637.7h1.0M343.5 632.9h1.0M345.7 624.0h1.0M335.3 620.0h1.0M343.1 616.8h1.0M323.4 613.0h1.0M331.8 615.8h1.0M325.3 614.6h1.0M329.8 604.5h1.0M331.0 615.9h1.0M323.3 609.7h1.0M328.7 604.4h1.0M322.7 611.0h1.0M343.0 620.5h1.0M347.9 614.0h1.0M336.8 632.7h1.0M338.0 600.6h1.0M333.0 615.9h1.0M323.7 606.0h1.0M329.6 615.8h1.0M325.0 614.4h1.0M349.0 599.1h1.0M345.6 616.3h1.0M334.1 632.1h1.0M338.4 637.5h1.0M335.0 617.8h1.0M346.6 629.1h1.0M342.8 616.6h1.0M342.9 632.6h1.0M342.0 635.4h1.0M342.1 632.6h1.0M347.3 629.2h1.0M341.5 634.7h1.0M345.5 629.6h1.0M334.4 631.4h1.0M328.2 615.7h1.0M335.1 617.9h1.0M325.7 605.0h1.0M323.4 607.8h1.0M326.8 604.8h1.0M329.1 604.0h1.0M334.7 602.7h1.0M323.5 611.4h1.0M335.5 618.4h1.0M347.2 627.0h1.0M339.7 599.0h1.0M332.9 616.6h1.0M329.6 615.6h1.0M332.8 618.6h1.0M323.2 612.4h1.0M326.4 615.2h1.0M327.6 616.0h1.0M329.0 614.7h1.0M334.2 622.8h1.0M344.6 631.7h1.0M341.5 636.5h1.0M340.8 633.1h1.0M343.6 631.6h1.0M337.1 634.7h1.0M345.5 628.5h1.0M339.6 634.7h1.0M333.2 620.6h1.0M343.8 597.9h1.0M353.3 610.1h1.0M354.2 604.7h1.0M354.1 604.3h1.0M351.3 613.0h1.0M354.2 606.1h1.0M336.0 636.0h1.0M354.2 603.4h1.0M345.8 598.0h1.0M354.5 603.4h1.0M345.8 624.2h1.0M328.7 616.7h1.0M347.4 627.3h1.0M335.1 623.4h1.0M334.6 633.1h1.0M344.0 599.5h1.0M323.2 606.9h1.0M343.7 617.4h1.0M350.1 599.1h1.0M323.7 606.1h1.0M353.5 609.4h1.0M333.7 620.5h1.0M343.2 636.3h1.0M335.6 634.8h1.0M333.3 622.2h1.0M344.8 633.9h1.0M335.8 617.6h1.0M333.3 617.5h1.0M345.1 630.1h1.0M335.5 615.7h1.0M331.3 604.2h1.0M325.9 605.2h1.0M330.6 614.5h1.0M330.7 614.8h1.0M329.1 603.9h1.0M330.8 617.1h1.0M325.5 604.6h1.0M327.9 604.6h1.0M342.0 634.2h1.0M333.9 622.8h1.0M334.7 629.5h1.0M335.2 622.5h1.0M333.0 618.7h1.0M345.1 625.3h1.0M336.3 636.2h1.0M345.7 618.4h1.0M338.2 600.9h1.0M334.7 628.0h1.0M336.7 635.7h1.0M344.5 634.4h1.0M334.7 630.1h1.0M337.4 631.8h1.0M346.4 619.2h1.0M335.0 631.0h1.0M334.6 625.3h1.0M336.7 635.2h1.0M338.0 637.3h1.0M338.7 636.5h1.0M342.6 618.3h1.0M340.8 637.3h1.0M337.9 634.7h1.0M336.2 632.6h1.0M333.0 628.0h1.0M328.1 605.0h1.0M326.5 605.0h1.0M345.6 632.0h1.0M344.4 617.9h1.0M346.8 626.6h1.0M348.8 613.7h1.0M345.9 632.3h1.0M336.4 634.9h1.0M329.0 615.1h1.0M327.1 605.8h1.0M323.4 610.0h1.0M334.7 616.1h1.0M324.1 606.3h1.0M323.8 609.9h1.0M326.7 606.4h1.0M325.0 614.0h1.0M346.6 615.3h1.0M336.1 618.9h1.0M342.4 599.2h1.0M334.1 603.9h1.0M325.3 607.1h1.0M331.2 616.2h1.0M327.7 603.8h1.0M332.0 615.9h1.0M328.6 616.8h1.0M343.9 617.9h1.0M341.4 634.5h1.0M338.7 633.8h1.0M336.1 632.9h1.0M335.6 617.7h1.0M336.0 617.5h1.0M334.9 623.0h1.0M345.9 623.6h1.0M341.8 632.8h1.0M337.4 633.0h1.0M346.9 618.3h1.0M339.7 633.7h1.0M347.2 629.1h1.0M346.3 619.4h1.0M345.6 618.5h1.0M333.7 624.9h1.0M329.9 604.0h1.0M346.4 627.8h1.0M337.8 636.1h1.0M334.2 617.8h1.0M331.5 621.4h1.0M342.0 633.2h1.0M335.5 631.1h1.0M333.9 623.9h1.0M336.3 617.0h1.0M346.8 615.2h1.0M340.2 598.8h1.0M333.9 603.3h1.0M353.9 607.1h1.0M324.0 608.2h1.0M328.4 604.9h1.0M333.9 619.1h1.0M348.3 627.3h1.0M339.4 633.2h1.0M341.3 633.9h1.0M343.2 635.2h1.0M334.9 626.3h1.0M345.9 625.4h1.0M336.1 618.4h1.0M338.9 633.8h1.0M344.6 632.7h1.0M345.4 622.5h1.0M347.4 629.4h1.0M347.4 626.3h1.0M352.6 611.1h1.0M352.0 601.6h1.0M348.3 629.0h1.0M325.4 613.0h1.0M326.9 604.9h1.0M330.5 604.5h1.0M332.9 603.7h1.0M347.5 614.8h1.0M331.5 616.2h1.0M348.5 614.7h1.0M338.6 637.3h1.0M343.3 631.7h1.0M333.8 616.4h1.0M338.1 638.1h1.0M322.8 613.4h1.0M325.3 607.4h1.0M327.9 615.8h1.0M333.8 603.8h1.0M323.9 611.8h1.0M344.3 622.7h1.0M348.5 625.4h1.0M337.3 631.9h1.0M342.8 635.3h1.0M347.4 628.1h1.0M337.2 634.6h1.0M332.6 626.3h1.0M342.9 617.6h1.0M347.2 626.9h1.0M335.1 632.1h1.0M339.2 634.7h1.0M340.8 635.0h1.0M333.4 617.0h1.0M332.1 617.2h1.0M345.4 624.8h1.0M339.3 635.6h1.0M327.0 604.5h1.0M324.2 611.8h1.0M326.8 614.6h1.0M324.4 608.9h1.0M333.6 619.1h1.0M339.0 634.3h1.0M330.4 617.4h1.0M333.0 622.6h1.0M338.6 634.3h1.0M334.2 623.5h1.0M349.3 613.9h1.0M340.7 636.8h1.0M332.7 627.5h1.0M336.1 632.8h1.0M322.8 608.8h1.0M333.9 623.1h1.0M341.1 632.5h1.0M344.4 621.0h1.0M340.9 634.9h1.0M345.2 624.5h1.0M332.9 623.2h1.0M337.3 631.8h1.0M344.6 634.1h1.0M346.6 625.4h1.0M342.4 634.4h1.0M337.7 634.9h1.0M337.7 633.0h1.0M330.2 614.6h1.0M339.6 637.6h1.0M344.9 623.1h1.0M346.3 625.4h1.0M333.4 621.3h1.0M335.6 635.8h1.0M346.9 615.6h1.0M334.4 630.7h1.0M341.7 634.8h1.0M346.3 626.2h1.0M342.9 621.4h1.0M338.3 632.8h1.0M332.4 622.0h1.0M332.7 603.2h1.0M326.3 606.3h1.0M353.8 604.2h1.0M346.5 599.4h1.0M354.3 607.1h1.0M340.0 598.7h1.0M351.6 601.0h1.0M342.7 621.5h1.0M337.7 636.6h1.0M344.6 628.8h1.0M333.1 621.4h1.0M336.1 629.7h1.0M346.2 628.0h1.0M336.1 635.4h1.0M352.7 608.7h1.0M333.7 624.9h1.0M342.6 619.5h1.0M334.1 620.7h1.0M346.7 624.9h1.0M332.6 622.3h1.0M347.4 617.9h1.0M338.2 633.7h1.0M342.5 617.5h1.0M347.0 625.2h1.0M332.4 620.8h1.0M325.4 612.6h1.0M328.6 604.3h1.0M326.9 613.8h1.0M323.9 607.5h1.0M332.0 617.5h1.0M332.8 618.6h1.0M333.8 618.9h1.0M327.8 614.6h1.0M338.8 634.1h1.0M351.3 601.3h1.0M322.7 609.7h1.0M326.7 604.1h1.0M324.6 604.8h1.0M332.1 622.3h1.0M324.1 614.5h1.0M352.3 611.2h1.0M325.7 606.3h1.0M346.1 618.0h1.0M333.5 616.6h1.0M337.4 631.6h1.0M333.7 620.6h1.0M344.9 634.1h1.0M333.4 629.4h1.0M326.3 605.8h1.0M323.9 609.2h1.0M324.0 608.8h1.0M328.7 616.4h1.0M326.9 605.5h1.0M323.9 609.3h1.0M326.5 613.6h1.0M348.1 629.1h1.0M324.2 612.2h1.0M326.1 605.4h1.0M323.8 609.2h1.0M331.3 602.8h1.0M327.4 615.6h1.0M323.3 609.4h1.0M324.2 609.8h1.0M329.5 617.2h1.0M341.8 633.5h1.0M335.4 629.7h1.0M345.2 618.9h1.0M343.0 618.4h1.0M338.6 634.9h1.0M334.2 619.2h1.0M344.0 617.6h1.0M340.7 635.2h1.0M336.3 633.3h1.0M334.7 618.6h1.0M350.7 613.4h1.0M354.1 606.3h1.0M331.9 603.2h1.0M334.6 626.4h1.0M336.8 631.2h1.0M334.0 619.7h1.0M342.9 617.1h1.0M345.8 620.1h1.0M345.4 616.2h1.0M345.8 626.0h1.0M335.0 629.0h1.0M335.3 618.4h1.0M339.6 635.0h1.0M353.7 608.9h1.0M344.9 618.7h1.0M345.4 597.7h1.0M340.3 634.3h1.0M347.4 624.8h1.0M334.2 621.5h1.0M344.9 633.2h1.0M334.3 632.1h1.0M344.2 630.7h1.0M347.6 628.6h1.0M330.7 603.8h1.0M340.7 598.5h1.0M346.1 624.0h1.0M353.0 608.9h1.0M322.8 613.5h1.0M345.3 618.2h1.0M322.7 607.0h1.0M333.7 623.7h1.0M336.4 619.5h1.0M336.9 631.0h1.0M329.6 614.7h1.0M345.3 631.2h1.0M343.8 618.7h1.0M334.9 622.7h1.0M337.5 634.2h1.0M340.8 633.1h1.0M335.2 622.6h1.0M347.1 615.1h1.0M340.1 637.1h1.0M347.7 628.8h1.0M343.2 619.2h1.0M333.8 603.4h1.0M338.5 634.1h1.0M324.1 607.0h1.0M325.0 605.1h1.0M329.0 616.2h1.0M324.4 613.8h1.0M335.0 615.6h1.0M334.1 621.3h1.0M333.9 617.4h1.0M334.7 623.5h1.0M341.7 636.4h1.0M336.2 634.9h1.0M345.4 630.0h1.0M339.4 634.6h1.0M344.7 619.3h1.0M325.8 605.3h1.0M327.0 613.9h1.0M326.4 614.0h1.0M343.1 617.7h1.0M353.1 609.6h1.0M337.2 602.1h1.0M337.6 636.8h1.0M345.7 621.8h1.0M344.1 632.7h1.0M347.8 628.5h1.0M341.7 619.2h1.0M344.9 598.9h1.0M347.0 617.4h1.0M336.1 619.5h1.0M341.7 618.8h1.0M337.7 637.7h1.0M352.4 602.1h1.0M334.3 631.0h1.0M331.5 615.2h1.0M323.9 613.2h1.0M323.4 612.0h1.0M329.8 602.5h1.0M323.6 609.9h1.0M342.7 633.4h1.0M332.7 624.0h1.0M353.0 609.7h1.0M353.8 606.3h1.0M346.5 619.5h1.0M345.9 616.3h1.0M333.6 618.9h1.0M330.3 603.8h1.0M326.9 606.4h1.0M325.0 604.9h1.0M327.5 614.5h1.0M325.1 613.5h1.0M338.9 635.7h1.0M340.2 635.7h1.0M337.9 637.1h1.0M338.5 634.0h1.0M333.7 632.4h1.0M344.1 632.3h1.0M334.1 627.9h1.0M333.4 616.9h1.0M353.4 602.2h1.0M354.4 605.8h1.0M345.3 625.5h1.0M348.3 629.1h1.0M345.6 625.3h1.0M331.3 604.5h1.0M341.8 636.2h1.0M342.9 635.8h1.0M330.7 614.8h1.0M333.1 603.0h1.0M330.1 602.6h1.0M353.6 608.5h1.0M354.5 605.4h1.0M347.6 614.2h1.0M337.9 634.9h1.0M334.1 623.3h1.0M353.1 611.1h1.0M334.1 620.3h1.0M333.3 623.8h1.0M346.1 632.3h1.0M344.9 632.5h1.0M323.4 611.0h1.0M325.2 613.9h1.0M333.0 603.9h1.0M345.6 628.4h1.0M346.2 628.4h1.0M342.0 634.5h1.0M347.3 626.5h1.0M335.9 631.7h1.0M347.0 626.6h1.0M338.8 638.0h1.0M333.9 622.3h1.0M335.5 621.5h1.0M343.4 621.4h1.0M335.2 620.5h1.0M338.6 637.9h1.0M348.2 614.0h1.0M339.8 634.3h1.0M333.5 623.1h1.0M335.1 628.8h1.0M345.9 616.5h1.0M346.4 626.9h1.0M343.8 620.8h1.0M342.7 634.9h1.0M323.4 608.6h1.0M335.3 624.1h1.0M346.8 625.5h1.0M345.9 619.1h1.0M334.6 621.8h1.0M341.3 636.1h1.0M339.9 636.0h1.0M334.9 627.3h1.0M333.7 621.7h1.0M339.6 634.7h1.0M335.2 603.3h1.0M332.1 621.5h1.0M334.6 624.9h1.0M345.7 632.0h1.0M337.0 632.2h1.0M334.8 601.9h1.0M336.7 601.5h1.0M346.2 621.4h1.0M336.3 616.9h1.0M346.7 631.2h1.0M342.2 634.3h1.0M335.0 624.6h1.0M338.2 637.3h1.0M346.3 620.1h1.0M335.0 633.1h1.0M348.6 599.1h1.0M344.2 621.8h1.0M335.3 629.7h1.0M352.8 609.0h1.0M346.8 599.0h1.0M353.3 609.2h1.0M344.4 599.0h1.0M344.7 629.5h1.0M344.3 619.4h1.0M338.0 637.8h1.0M341.1 637.0h1.0M336.2 619.3h1.0M334.7 626.1h1.0M333.9 629.9h1.0M348.2 627.6h1.0M335.4 602.9h1.0M337.3 631.6h1.0M353.2 611.2h1.0M336.8 600.9h1.0M343.9 619.6h1.0M346.8 623.3h1.0M343.0 632.0h1.0M333.9 623.5h1.0M339.7 634.8h1.0M333.0 620.5h1.0M339.4 637.6h1.0M334.3 623.7h1.0M345.6 622.5h1.0M334.1 623.3h1.0M333.7 602.6h1.0" stroke="rgb(46, 106, 200)" stroke-width="1.0" stroke-opacity="0.9"/>
<path d="M340.8 619.4h1.0M341.7 622.2h1.0M337.3 621.2h1.0M332.7 615.4h1.0M339.9 623.4h1.0M338.1 618.2h1.0M338.6 620.9h1.0M337.5 621.8h1.0M348.2 599.7h1.0M328.2 607.5h1.0M344.5 600.4h1.0M353.4 606.0h1.0M325.5 611.1h1.0M339.6 601.4h1.0M331.8 607.3h1.0M334.9 613.5h1.0M341.4 600.1h1.0M342.9 626.8h1.0M342.7 614.9h1.0M337.0 614.2h1.0M336.6 624.0h1.0M336.3 619.9h1.0M335.5 620.6h1.0M343.4 626.0h1.0M330.7 613.9h1.0M340.2 616.6h1.0M339.7 631.8h1.0M345.5 627.6h1.0M342.0 621.2h1.0M338.5 630.1h1.0M338.3 620.9h1.0M339.6 619.2h1.0M330.6 606.4h1.0M330.1 613.8h1.0M325.4 607.7h1.0M327.6 613.3h1.0M326.1 606.9h1.0M341.1 622.7h1.0M326.5 613.5h1.0M341.5 622.1h1.0M333.8 605.0h1.0M340.0 626.8h1.0M341.2 621.4h1.0M337.5 616.0h1.0M332.4 613.1h1.0M333.9 612.8h1.0M337.1 619.7h1.0M345.9 613.8h1.0M335.9 628.5h1.0M340.6 615.7h1.0M344.4 614.6h1.0M350.3 611.9h1.0M344.5 629.0h1.0M337.3 613.0h1.0M336.5 629.1h1.0M339.2 630.9h1.0M341.6 622.0h1.0M339.5 600.8h1.0M342.1 624.1h1.0M342.6 631.1h1.0M338.2 622.5h1.0M335.4 612.5h1.0M339.9 632.0h1.0M344.3 626.8h1.0M340.8 619.3h1.0M341.6 628.0h1.0M337.5 616.4h1.0M342.0 625.4h1.0M340.0 618.0h1.0M337.3 618.7h1.0M340.6 623.4h1.0M338.5 628.0h1.0M338.9 628.7h1.0M339.1 624.4h1.0M333.8 605.4h1.0M337.2 616.0h1.0M337.0 603.7h1.0M337.3 627.8h1.0M340.1 624.2h1.0M337.2 621.0h1.0M336.0 626.4h1.0M339.8 614.7h1.0M348.6 612.4h1.0M341.7 600.3h1.0M349.2 612.5h1.0M338.2 602.4h1.0M331.7 612.8h1.0M351.7 608.4h1.0M339.5 630.1h1.0M340.0 624.5h1.0M343.0 616.4h1.0M343.8 625.8h1.0M335.6 624.0h1.0M334.2 610.9h1.0M345.0 614.4h1.0M350.8 610.4h1.0M340.2 617.3h1.0M338.3 621.8h1.0M339.5 627.4h1.0M336.0 614.4h1.0M339.0 621.1h1.0M340.9 624.4h1.0M338.5 629.5h1.0M327.5 611.6h1.0M331.5 607.0h1.0M339.0 601.4h1.0M341.7 617.0h1.0M334.2 614.1h1.0M336.9 627.8h1.0M337.9 626.1h1.0M342.2 627.1h1.0M338.0 626.1h1.0M345.6 613.9h1.0M345.1 599.9h1.0M331.8 615.2h1.0M349.2 601.5h1.0M353.2 604.3h1.0M352.2 603.6h1.0M342.6 616.2h1.0M334.3 606.3h1.0M337.8 623.1h1.0M342.6 629.6h1.0M343.9 626.0h1.0M335.7 629.0h1.0M349.9 611.6h1.0M351.8 603.9h1.0M342.4 600.2h1.0M334.0 606.0h1.0M342.5 625.3h1.0M341.7 622.8h1.0M340.0 631.0h1.0M338.8 628.0h1.0M337.4 630.1h1.0M337.3 624.9h1.0M340.2 628.8h1.0M331.3 612.5h1.0M332.6 606.0h1.0M345.6 614.3h1.0M335.0 611.7h1.0M334.1 605.4h1.0M332.7 605.7h1.0M340.3 614.8h1.0M341.5 616.0h1.0M340.2 600.6h1.0M333.6 615.3h1.0M339.7 623.8h1.0M339.5 630.5h1.0M327.0 612.8h1.0M341.1 600.4h1.0M340.3 601.3h1.0M334.1 607.2h1.0M350.7 610.2h1.0M339.1 628.2h1.0M344.0 627.0h1.0M338.5 603.4h1.0M336.5 604.5h1.0M338.0 603.1h1.0M332.2 605.0h1.0M342.4 614.5h1.0M340.9 615.6h1.0M344.6 614.6h1.0M340.3 625.9h1.0M343.2 623.4h1.0M346.9 613.5h1.0M341.7 620.0h1.0M341.3 620.0h1.0M340.3 630.3h1.0M339.5 621.8h1.0M338.8 630.4h1.0M336.0 627.9h1.0M340.5 622.1h1.0M337.1 627.8h1.0M342.3 622.9h1.0M346.4 600.0h1.0M352.8 604.5h1.0M353.1 606.9h1.0M332.2 612.7h1.0M325.2 612.2h1.0M325.4 612.3h1.0M337.3 618.5h1.0M336.7 627.0h1.0M336.5 624.7h1.0M337.3 627.1h1.0M343.2 630.9h1.0M324.6 608.6h1.0M330.7 613.6h1.0M327.0 610.6h1.0M329.6 611.9h1.0M325.5 611.6h1.0M333.0 612.3h1.0M327.5 607.7h1.0M329.4 612.8h1.0M350.9 601.5h1.0M345.1 600.4h1.0M343.0 629.0h1.0M337.0 616.0h1.0M337.5 613.9h1.0M332.4 612.7h1.0M334.6 612.1h1.0M335.9 604.4h1.0M337.4 619.9h1.0M342.3 623.7h1.0M341.9 628.7h1.0M341.8 631.2h1.0M338.7 629.9h1.0M344.6 627.4h1.0M338.3 623.9h1.0M344.2 630.3h1.0M339.2 627.0h1.0M339.4 625.5h1.0M340.9 629.9h1.0M338.8 622.4h1.0M337.9 631.5h1.0M327.1 611.8h1.0M341.2 631.6h1.0M337.8 631.3h1.0M338.4 620.4h1.0M336.6 624.9h1.0M339.5 625.1h1.0M335.9 622.6h1.0M344.3 626.0h1.0M336.5 621.2h1.0M339.6 626.1h1.0M340.9 623.1h1.0M330.6 605.2h1.0M335.3 605.8h1.0M328.2 613.8h1.0M338.1 613.5h1.0M337.9 629.8h1.0M336.3 622.8h1.0M340.5 616.1h1.0M340.1 630.3h1.0M332.3 614.2h1.0M329.8 605.6h1.0M328.2 608.3h1.0M334.8 613.1h1.0M326.1 610.4h1.0M331.3 611.6h1.0M331.3 613.8h1.0M352.1 602.8h1.0M344.4 628.8h1.0M338.7 622.5h1.0M328.4 611.7h1.0M325.3 607.7h1.0M324.7 608.1h1.0M327.1 609.1h1.0M325.3 610.4h1.0M328.4 612.1h1.0M340.6 630.7h1.0M337.3 630.2h1.0M336.1 612.9h1.0M337.4 621.2h1.0M342.2 621.4h1.0M335.6 627.5h1.0M337.8 620.2h1.0M340.7 616.8h1.0M340.3 626.2h1.0M334.0 611.9h1.0M345.3 600.2h1.0M349.0 600.9h1.0M352.4 610.3h1.0M329.3 612.1h1.0M330.5 607.0h1.0M350.3 610.6h1.0M336.4 614.2h1.0M339.4 618.9h1.0M339.5 616.5h1.0M340.1 629.8h1.0M334.2 614.8h1.0M341.2 621.7h1.0M340.9 617.0h1.0M338.0 624.9h1.0M341.5 629.3h1.0M340.9 628.8h1.0M341.7 624.5h1.0M335.8 622.0h1.0M340.1 625.7h1.0M335.6 623.8h1.0M336.7 629.6h1.0M343.3 627.2h1.0M351.9 603.8h1.0M338.2 602.0h1.0M342.4 599.6h1.0M341.0 616.8h1.0M344.6 625.8h1.0M338.3 625.8h1.0M339.8 627.4h1.0M342.8 630.2h1.0M340.1 615.5h1.0M348.5 599.9h1.0M353.5 605.6h1.0M340.6 624.3h1.0M338.4 624.5h1.0M339.9 619.0h1.0M337.5 614.6h1.0M343.3 630.8h1.0M338.5 614.2h1.0M351.9 608.8h1.0M350.7 601.8h1.0M339.9 613.6h1.0M348.7 613.0h1.0M353.3 606.6h1.0M346.3 599.6h1.0M347.1 600.5h1.0M332.0 605.9h1.0M339.0 619.5h1.0M336.7 625.7h1.0M337.3 621.3h1.0M336.2 619.6h1.0M340.5 623.3h1.0M329.1 613.5h1.0M339.5 622.8h1.0M329.8 612.9h1.0M327.9 607.2h1.0M326.8 608.6h1.0M331.9 607.4h1.0M326.4 609.0h1.0M326.0 609.5h1.0M336.4 623.0h1.0M347.7 612.9h1.0M340.7 631.1h1.0M339.9 625.3h1.0M344.4 627.4h1.0M338.7 630.5h1.0M334.0 611.9h1.0M332.6 605.8h1.0M335.4 606.0h1.0M341.9 616.1h1.0M326.1 608.2h1.0M331.9 604.6h1.0M330.7 604.9h1.0M330.9 613.8h1.0M328.6 607.4h1.0M331.9 613.1h1.0M337.8 624.4h1.0M341.0 627.8h1.0M335.6 613.9h1.0M329.9 612.9h1.0M326.7 609.8h1.0M335.5 616.1h1.0M328.3 607.9h1.0M325.9 609.5h1.0M333.3 606.7h1.0M328.0 612.5h1.0M337.4 616.6h1.0M339.8 618.2h1.0M338.5 631.6h1.0M339.5 626.6h1.0M340.4 622.7h1.0M336.6 614.0h1.0M340.9 625.0h1.0M329.6 605.6h1.0M329.1 607.4h1.0M331.1 611.7h1.0M328.1 607.9h1.0M325.0 610.0h1.0M327.1 609.8h1.0M326.7 610.0h1.0M331.6 604.7h1.0M325.3 609.1h1.0M340.7 631.7h1.0M337.6 613.1h1.0M336.1 620.6h1.0M330.2 606.4h1.0M329.5 613.1h1.0M328.3 613.2h1.0M329.0 614.1h1.0M324.9 608.9h1.0M341.0 620.3h1.0M344.0 629.2h1.0M338.4 627.9h1.0M338.8 623.6h1.0M340.0 629.6h1.0M337.6 624.6h1.0M336.8 627.5h1.0M337.7 626.0h1.0M338.6 626.7h1.0M342.2 614.5h1.0M335.9 612.8h1.0M345.2 613.9h1.0M325.9 609.3h1.0M343.6 624.2h1.0M336.8 621.5h1.0M338.8 613.6h1.0M338.9 625.7h1.0M340.0 631.9h1.0M340.1 619.6h1.0M336.8 624.1h1.0M342.6 627.2h1.0M336.3 612.4h1.0M339.8 625.5h1.0M337.0 627.7h1.0M348.7 601.0h1.0M331.8 606.0h1.0M353.4 604.6h1.0M340.5 614.7h1.0M344.4 613.9h1.0M342.8 615.1h1.0M335.9 615.6h1.0M341.7 615.9h1.0M337.9 624.9h1.0M340.0 615.1h1.0M348.4 599.6h1.0M337.2 602.9h1.0M352.0 604.4h1.0M342.3 615.4h1.0M331.5 605.3h1.0M352.5 609.0h1.0M326.9 612.5h1.0M326.8 612.8h1.0M340.2 628.6h1.0M342.1 625.7h1.0M336.7 621.8h1.0M342.3 614.7h1.0M336.7 623.5h1.0M337.9 627.2h1.0M340.4 620.9h1.0M341.8 624.0h1.0M337.9 625.8h1.0M339.5 626.7h1.0M352.6 603.6h1.0M336.8 613.1h1.0M349.7 610.8h1.0M350.4 611.4h1.0M337.6 624.7h1.0M342.4 627.5h1.0M343.0 626.8h1.0M341.5 622.1h1.0M339.6 622.1h1.0M339.3 630.8h1.0M340.4 620.4h1.0M341.5 628.1h1.0M334.5 612.9h1.0M340.2 618.4h1.0M350.4 611.7h1.0M351.9 607.8h1.0M340.6 624.9h1.0M338.5 621.1h1.0M327.8 613.6h1.0M337.1 626.6h1.0M344.6 626.0h1.0M341.4 630.4h1.0M344.8 626.7h1.0M328.2 612.0h1.0M339.6 630.0h1.0M338.2 613.0h1.0M341.3 615.8h1.0M346.0 614.9h1.0M346.7 613.8h1.0M340.5 628.0h1.0M340.1 614.4h1.0M338.3 626.4h1.0M336.0 620.6h1.0M336.0 615.0h1.0M341.8 629.7h1.0M340.6 625.5h1.0M337.7 624.1h1.0M331.7 614.8h1.0M352.4 604.4h1.0M353.5 605.8h1.0M339.1 620.7h1.0M336.5 626.4h1.0M341.1 629.3h1.0M344.3 627.2h1.0M342.2 599.9h1.0M337.3 616.5h1.0M339.5 627.5h1.0M336.6 615.3h1.0M338.0 614.2h1.0M327.9 608.1h1.0M335.0 613.3h1.0M336.1 626.8h1.0M353.1 605.3h1.0M349.3 601.2h1.0M338.5 601.1h1.0M350.8 610.9h1.0M346.2 614.3h1.0M346.0 614.3h1.0M332.3 613.9h1.0M327.8 612.8h1.0M341.7 614.5h1.0M338.4 626.3h1.0M336.0 625.8h1.0M340.0 632.3h1.0M336.6 626.6h1.0M344.7 627.0h1.0M336.5 629.2h1.0M336.9 615.5h1.0M341.3 632.1h1.0M340.0 617.0h1.0M337.6 620.7h1.0M336.9 622.6h1.0M338.2 626.9h1.0M345.2 614.7h1.0M344.2 626.6h1.0M349.5 612.7h1.0M342.8 599.5h1.0M334.8 604.2h1.0M340.4 626.6h1.0M337.4 620.1h1.0M339.4 624.3h1.0M337.3 625.7h1.0M338.9 625.4h1.0M340.0 626.3h1.0M338.7 614.8h1.0M343.6 626.3h1.0M337.8 614.9h1.0M338.6 614.6h1.0M342.9 622.3h1.0M339.1 626.2h1.0M335.6 625.8h1.0M343.1 627.0h1.0M338.4 601.5h1.0M343.1 631.3h1.0M337.8 621.3h1.0M337.6 626.6h1.0M338.2 602.4h1.0M338.2 623.9h1.0M327.1 612.9h1.0M343.2 623.6h1.0M325.3 608.3h1.0M328.3 613.6h1.0M326.4 607.2h1.0M325.7 609.3h1.0M328.1 612.8h1.0M329.6 606.7h1.0M344.4 625.4h1.0M343.4 624.8h1.0M325.3 609.9h1.0M328.0 606.8h1.0M328.6 605.8h1.0M332.8 612.8h1.0M328.5 613.3h1.0M327.9 608.2h1.0M326.5 609.9h1.0M331.6 612.4h1.0M340.5 619.1h1.0M336.6 625.1h1.0M343.8 628.6h1.0M340.3 624.8h1.0M338.3 615.1h1.0M338.8 616.8h1.0M342.4 625.7h1.0M329.1 612.6h1.0M347.4 614.0h1.0M336.9 604.4h1.0M345.9 615.1h1.0M343.7 614.0h1.0M335.7 615.3h1.0M347.7 613.5h1.0M340.7 616.5h1.0M338.9 626.4h1.0M334.0 610.8h1.0M349.5 600.7h1.0M352.8 606.9h1.0M351.0 602.0h1.0M337.9 603.3h1.0M352.1 602.6h1.0M339.0 601.3h1.0M347.0 612.6h1.0M337.3 630.0h1.0M340.0 630.2h1.0M331.2 606.6h1.0M332.5 605.5h1.0M350.3 600.9h1.0M340.8 630.8h1.0M341.7 599.8h1.0M332.2 606.1h1.0M337.7 627.5h1.0M342.9 615.4h1.0M340.9 631.2h1.0M337.1 614.7h1.0M338.1 622.0h1.0M341.3 627.4h1.0M340.4 630.4h1.0M325.7 611.3h1.0M342.1 622.1h1.0M338.5 628.5h1.0M338.5 626.2h1.0M338.0 618.4h1.0M338.7 617.9h1.0M340.3 629.4h1.0M340.9 627.3h1.0M338.9 630.9h1.0M341.0 628.8h1.0M337.5 625.9h1.0M335.6 626.5h1.0M340.0 620.4h1.0M344.8 626.7h1.0M342.6 625.4h1.0M336.9 618.7h1.0M338.0 626.5h1.0M334.6 606.4h1.0M325.9 610.9h1.0M327.3 608.2h1.0M324.7 611.2h1.0M326.7 612.0h1.0M328.3 613.6h1.0M329.2 606.7h1.0M332.9 612.0h1.0M325.2 609.7h1.0M326.1 610.2h1.0M324.8 609.8h1.0M329.9 606.7h1.0M328.1 608.2h1.0M328.1 606.9h1.0M326.9 606.8h1.0M325.9 610.7h1.0M335.4 604.8h1.0M333.7 611.1h1.0M339.3 627.4h1.0M338.1 603.2h1.0M353.3 603.7h1.0M350.4 612.4h1.0M341.6 615.3h1.0M344.2 613.9h1.0M342.3 622.2h1.0M353.3 604.3h1.0M339.0 601.9h1.0M352.0 608.7h1.0M338.1 624.6h1.0M340.1 624.7h1.0M352.0 608.0h1.0M328.6 612.9h1.0M336.4 624.5h1.0M335.9 625.6h1.0M339.0 621.9h1.0M342.3 625.1h1.0M336.9 620.0h1.0M337.0 613.4h1.0M340.0 626.3h1.0M345.1 627.9h1.0M352.8 607.0h1.0M338.0 624.4h1.0M338.3 630.9h1.0M328.7 612.9h1.0M352.7 607.5h1.0M338.3 632.5h1.0M346.6 614.4h1.0M349.0 599.8h1.0M328.6 605.9h1.0M327.6 612.1h1.0M326.3 608.6h1.0M326.4 607.2h1.0M331.3 605.6h1.0M346.6 600.1h1.0M343.9 613.8h1.0M336.6 602.9h1.0M335.8 620.7h1.0M336.4 628.0h1.0M341.3 617.8h1.0M342.3 626.2h1.0M331.8 606.6h1.0M336.3 627.0h1.0M329.6 611.9h1.0M328.0 606.4h1.0M341.5 618.4h1.0M335.6 624.5h1.0M336.8 618.3h1.0M342.6 624.4h1.0M338.7 626.4h1.0M344.7 626.7h1.0M341.2 627.4h1.0M339.6 631.3h1.0M339.0 600.6h1.0M325.5 610.4h1.0M329.4 614.3h1.0M326.1 608.9h1.0M332.4 604.5h1.0M325.6 609.6h1.0M339.7 619.0h1.0M344.0 627.9h1.0M342.2 625.1h1.0M339.3 627.3h1.0M338.1 628.8h1.0M343.3 626.1h1.0M340.5 629.3h1.0M336.3 611.5h1.0M336.7 627.4h1.0M343.3 625.8h1.0M337.9 624.2h1.0M338.6 620.8h1.0M343.5 624.3h1.0M341.4 625.9h1.0M344.2 626.8h1.0M340.6 625.8h1.0M335.8 625.1h1.0M336.5 604.8h1.0M341.5 600.0h1.0M351.1 610.4h1.0M352.0 608.9h1.0M349.1 600.3h1.0M332.5 614.3h1.0M332.5 614.5h1.0M332.6 607.3h1.0M336.2 621.0h1.0M338.0 603.2h1.0M348.2 600.4h1.0M349.2 612.1h1.0M346.4 615.2h1.0M342.6 627.6h1.0M350.7 602.2h1.0M334.1 607.2h1.0M347.2 600.1h1.0M337.8 628.0h1.0M339.6 617.5h1.0M339.9 618.2h1.0M336.0 613.9h1.0M339.1 601.6h1.0M341.2 627.3h1.0M340.1 621.7h1.0M336.4 604.1h1.0M327.7 607.9h1.0M332.3 615.2h1.0M328.8 605.7h1.0M329.4 607.0h1.0M326.9 611.9h1.0M339.1 619.0h1.0M337.6 624.8h1.0M340.1 616.4h1.0M334.8 613.7h1.0M334.0 607.2h1.0M325.9 608.8h1.0M324.9 611.7h1.0M333.1 614.9h1.0M325.4 611.2h1.0M330.8 606.0h1.0M339.3 602.1h1.0M331.4 606.4h1.0M325.0 610.2h1.0M328.2 613.2h1.0M328.5 605.7h1.0M326.2 609.2h1.0M327.2 612.4h1.0M329.1 614.1h1.0M328.8 613.4h1.0M337.0 615.6h1.0M344.5 629.0h1.0M340.3 625.7h1.0M336.3 621.0h1.0M343.1 624.3h1.0M340.6 629.6h1.0M339.5 625.2h1.0M336.6 627.4h1.0M335.4 614.7h1.0M344.5 626.5h1.0M339.3 619.4h1.0M342.0 632.1h1.0M341.2 625.8h1.0M336.8 626.4h1.0M343.3 621.7h1.0M329.4 613.5h1.0M340.9 626.2h1.0M337.6 623.9h1.0M339.8 631.1h1.0M341.2 623.2h1.0M339.4 614.0h1.0M343.1 624.1h1.0M343.6 629.8h1.0M341.1 624.0h1.0M341.5 621.6h1.0M343.3 629.4h1.0M341.2 620.5h1.0M334.4 610.8h1.0M339.2 623.7h1.0M335.9 626.8h1.0M336.4 621.8h1.0M337.7 613.3h1.0M328.3 612.2h1.0M346.0 599.9h1.0M352.9 605.4h1.0M338.5 600.7h1.0M330.4 611.9h1.0M326.4 606.7h1.0M326.6 612.1h1.0M333.1 606.1h1.0M332.4 611.9h1.0M336.7 615.2h1.0M341.0 618.0h1.0M331.2 613.8h1.0M337.4 618.5h1.0M347.0 613.7h1.0M344.0 628.0h1.0M337.8 620.3h1.0M344.0 614.2h1.0M338.9 623.2h1.0M346.8 614.4h1.0M353.1 605.6h1.0M341.3 621.0h1.0M338.5 627.5h1.0M344.7 613.6h1.0M350.4 610.9h1.0M338.0 626.8h1.0M329.9 613.8h1.0M339.8 629.2h1.0M338.3 621.5h1.0M336.1 611.9h1.0M339.1 621.3h1.0M345.3 599.9h1.0M335.2 613.5h1.0M332.2 612.8h1.0M327.0 609.3h1.0M332.8 613.9h1.0M324.6 609.2h1.0M326.4 607.6h1.0M334.5 614.0h1.0M340.1 625.4h1.0M336.0 612.5h1.0M344.5 616.1h1.0M341.1 626.6h1.0M337.6 626.3h1.0M334.4 611.6h1.0M340.1 620.2h1.0M337.8 621.8h1.0M337.2 612.9h1.0M325.9 609.2h1.0M349.6 601.1h1.0M338.5 630.4h1.0M342.1 621.2h1.0M337.2 626.7h1.0M339.3 626.0h1.0M343.8 628.9h1.0M344.4 630.4h1.0M339.0 627.7h1.0M331.5 606.7h1.0M325.5 607.6h1.0M334.3 611.2h1.0M330.5 607.4h1.0M326.5 610.8h1.0M336.2 604.8h1.0M332.6 605.3h1.0M334.2 605.3h1.0M335.4 604.4h1.0M338.8 614.1h1.0M341.7 616.0h1.0M330.3 612.4h1.0M340.7 628.4h1.0M339.7 631.8h1.0M339.6 632.4h1.0M344.0 626.9h1.0M327.4 611.5h1.0M328.1 606.9h1.0M324.6 612.1h1.0M329.5 612.7h1.0M334.5 606.3h1.0M331.8 612.4h1.0M325.0 611.9h1.0M324.9 610.4h1.0M343.0 625.6h1.0M325.4 610.2h1.0M329.1 606.3h1.0M327.1 611.6h1.0M325.1 612.1h1.0M333.4 605.3h1.0M333.4 605.0h1.0M326.9 607.6h1.0M350.4 611.3h1.0M341.1 620.5h1.0M336.1 620.3h1.0M330.9 613.2h1.0M330.4 612.3h1.0M343.4 628.8h1.0M336.0 624.1h1.0M340.3 625.2h1.0M339.1 619.1h1.0M335.7 612.4h1.0M338.9 629.2h1.0M342.1 621.7h1.0M337.3 629.4h1.0M336.9 623.3h1.0M337.6 628.2h1.0M338.5 620.1h1.0M341.2 622.0h1.0M339.7 625.2h1.0M334.1 611.1h1.0M341.6 624.0h1.0M336.2 615.6h1.0M326.7 610.8h1.0M332.8 613.0h1.0M336.5 625.7h1.0M330.3 611.5h1.0M332.4 605.1h1.0M335.4 605.3h1.0M327.9 607.0h1.0M326.5 611.3h1.0M338.8 619.8h1.0M340.2 630.1h1.0M338.3 617.5h1.0M350.5 612.1h1.0M341.8 622.8h1.0M342.4 622.1h1.0M339.0 622.4h1.0M342.0 630.0h1.0M343.5 625.8h1.0M326.3 609.1h1.0M329.8 612.7h1.0M342.8 622.5h1.0M335.8 624.2h1.0M344.0 626.4h1.0M342.8 623.8h1.0M345.3 627.2h1.0M343.3 630.7h1.0M340.3 613.8h1.0M338.3 620.1h1.0M337.5 614.8h1.0M338.6 602.5h1.0M339.1 618.9h1.0M339.1 627.2h1.0M340.5 618.7h1.0M339.8 629.7h1.0M337.6 621.1h1.0M335.7 616.4h1.0M336.9 621.9h1.0M352.3 604.0h1.0M340.4 600.7h1.0M349.2 611.9h1.0M340.2 614.1h1.0M353.4 604.0h1.0M337.5 616.8h1.0M332.2 615.3h1.0M346.1 615.2h1.0M343.0 624.7h1.0M339.1 616.0h1.0M341.3 628.8h1.0M335.6 615.2h1.0M339.0 601.8h1.0M338.9 623.6h1.0M342.1 628.7h1.0M340.8 615.7h1.0M346.7 612.6h1.0M328.9 611.9h1.0M342.1 631.1h1.0M336.7 629.2h1.0M341.5 628.9h1.0M337.8 615.9h1.0M336.7 616.7h1.0M345.3 615.2h1.0M337.4 618.4h1.0M327.4 610.0h1.0M338.6 631.6h1.0M331.6 605.3h1.0M342.6 615.2h1.0M329.9 605.7h1.0M342.0 622.6h1.0M352.5 608.4h1.0M332.1 613.7h1.0M326.9 611.8h1.0M332.5 611.7h1.0M340.0 601.3h1.0M352.2 603.1h1.0M353.2 605.0h1.0M345.4 600.0h1.0M343.4 623.7h1.0M327.8 608.0h1.0M337.5 617.2h1.0M333.0 604.5h1.0M334.6 613.9h1.0M331.2 614.0h1.0M336.3 616.3h1.0M333.3 605.5h1.0M340.9 627.5h1.0M339.4 622.0h1.0M339.7 631.2h1.0M342.1 625.2h1.0M331.6 607.5h1.0M338.2 626.7h1.0M339.5 613.5h1.0M342.4 620.4h1.0M327.4 611.4h1.0M328.3 612.6h1.0M333.4 605.7h1.0M327.5 605.8h1.0M332.0 606.1h1.0M332.3 614.3h1.0M336.3 615.2h1.0M341.0 619.0h1.0M337.4 622.6h1.0M334.4 614.3h1.0M328.1 606.7h1.0M329.2 606.6h1.0M325.9 611.2h1.0M326.7 608.4h1.0M328.0 606.8h1.0M325.0 611.1h1.0M336.2 625.7h1.0M341.2 619.3h1.0M343.3 625.9h1.0M340.9 622.0h1.0M339.4 629.8h1.0M337.4 621.7h1.0M336.8 626.8h1.0M341.2 623.0h1.0M340.5 625.3h1.0M336.6 629.9h1.0M341.5 618.4h1.0M338.9 600.7h1.0M342.5 625.8h1.0M340.2 630.3h1.0M343.1 627.7h1.0M335.8 603.7h1.0M338.3 631.2h1.0M339.5 632.0h1.0M341.7 621.3h1.0M339.9 613.6h1.0M329.9 613.2h1.0M341.5 630.2h1.0M331.6 612.9h1.0M340.0 626.0h1.0M329.9 612.2h1.0M327.8 607.0h1.0M330.6 611.6h1.0M326.6 609.9h1.0M332.9 605.2h1.0M331.6 607.2h1.0M329.7 606.0h1.0M326.7 606.8h1.0M328.9 612.2h1.0M352.2 604.0h1.0M353.0 605.2h1.0M331.3 604.8h1.0M335.2 612.2h1.0M332.1 614.3h1.0M325.6 608.2h1.0M324.5 608.3h1.0M328.0 612.4h1.0M333.3 607.4h1.0M325.4 610.7h1.0M326.0 609.8h1.0M336.0 604.2h1.0M332.6 606.6h1.0M329.3 613.3h1.0M325.9 611.1h1.0M336.8 621.4h1.0M331.1 612.6h1.0M334.5 612.4h1.0M330.9 606.8h1.0M327.8 608.3h1.0M330.4 611.7h1.0M329.5 606.5h1.0M333.5 606.8h1.0M335.9 615.5h1.0M337.3 612.7h1.0M336.6 617.9h1.0M341.0 631.0h1.0M344.6 626.2h1.0M344.2 628.2h1.0M344.2 615.8h1.0M343.8 624.9h1.0M339.4 623.8h1.0M343.1 629.5h1.0M337.3 628.7h1.0M326.1 611.8h1.0M341.1 627.6h1.0M337.5 618.1h1.0M340.1 632.0h1.0M339.2 625.3h1.0M343.2 628.2h1.0M335.6 611.5h1.0M340.7 629.5h1.0M342.9 627.2h1.0M343.9 627.9h1.0M342.1 630.5h1.0M337.1 629.9h1.0M325.7 610.1h1.0M338.9 628.3h1.0M339.2 616.8h1.0M336.4 628.4h1.0M338.1 627.1h1.0M337.6 628.6h1.0M341.5 620.9h1.0M339.7 625.0h1.0M341.3 627.4h1.0M341.1 621.9h1.0M335.0 613.5h1.0M343.7 630.4h1.0M338.5 631.1h1.0M336.8 620.8h1.0M341.3 624.9h1.0M339.0 627.4h1.0M341.3 617.7h1.0M326.7 612.8h1.0M326.4 612.5h1.0M334.3 606.4h1.0M352.4 604.2h1.0M348.9 613.2h1.0M352.9 605.2h1.0M336.7 620.2h1.0M340.5 618.6h1.0M343.1 626.7h1.0M338.0 619.0h1.0M339.2 630.1h1.0M338.0 625.6h1.0M341.0 615.8h1.0M346.8 613.3h1.0M327.0 612.1h1.0M331.2 614.0h1.0M340.2 615.9h1.0M335.6 612.3h1.0M333.6 611.5h1.0M340.8 624.9h1.0M343.7 629.0h1.0M331.4 613.8h1.0M330.4 614.3h1.0M342.3 629.3h1.0M337.0 620.0h1.0M336.3 621.5h1.0M340.2 631.1h1.0M335.5 620.2h1.0M336.5 620.6h1.0M338.1 622.6h1.0M339.0 617.1h1.0M340.8 600.2h1.0M328.5 606.7h1.0M326.9 613.5h1.0M351.7 603.7h1.0M352.6 607.3h1.0M341.1 627.8h1.0M339.8 623.9h1.0M335.9 626.8h1.0M335.6 628.5h1.0M336.6 616.1h1.0M336.9 629.1h1.0M342.5 631.4h1.0M344.9 614.2h1.0M336.9 618.6h1.0M338.6 617.2h1.0M342.0 631.8h1.0M338.0 627.6h1.0M342.2 616.6h1.0M342.0 629.9h1.0M334.6 612.5h1.0M335.7 625.4h1.0M343.0 624.4h1.0M337.8 617.7h1.0M337.3 619.1h1.0M337.0 625.6h1.0M337.9 617.3h1.0M352.9 608.1h1.0M334.1 606.1h1.0M341.7 624.1h1.0M331.8 607.2h1.0M339.7 601.5h1.0M352.9 604.6h1.0M343.2 628.2h1.0M348.4 600.3h1.0M349.3 600.8h1.0M353.0 605.0h1.0M340.0 616.4h1.0M335.6 604.0h1.0M331.4 614.4h1.0M327.7 612.2h1.0M326.7 607.5h1.0M342.6 629.9h1.0M332.9 612.7h1.0M340.4 621.4h1.0M339.2 628.1h1.0M346.2 613.9h1.0M337.7 629.8h1.0M341.4 616.0h1.0M339.7 625.7h1.0M339.3 623.1h1.0M341.6 616.6h1.0M341.5 627.4h1.0M342.2 619.8h1.0M335.2 614.8h1.0M333.5 605.5h1.0M341.2 626.1h1.0M337.2 621.1h1.0M340.8 623.1h1.0M340.7 628.3h1.0M339.8 623.1h1.0M344.4 629.6h1.0M345.2 625.8h1.0M335.9 627.6h1.0M342.9 623.8h1.0M339.4 618.7h1.0M340.1 632.0h1.0M338.9 621.4h1.0M339.5 624.4h1.0M337.0 618.3h1.0M343.4 628.8h1.0M341.7 627.3h1.0M343.7 624.5h1.0M336.7 625.0h1.0M343.6 628.1h1.0M336.0 624.3h1.0M341.1 629.3h1.0M329.1 611.7h1.0M330.9 612.5h1.0M351.7 607.6h1.0M332.5 606.5h1.0M334.0 610.6h1.0M342.7 623.2h1.0M337.1 625.1h1.0M341.9 631.2h1.0M344.0 614.1h1.0M336.1 624.1h1.0M341.5 628.5h1.0M340.8 624.0h1.0M344.1 626.0h1.0M325.9 610.0h1.0M335.0 614.2h1.0M331.5 604.8h1.0M329.3 606.5h1.0M330.4 607.2h1.0M329.4 612.6h1.0M327.1 610.7h1.0M324.7 609.8h1.0M346.3 615.3h1.0M337.1 625.8h1.0M336.6 625.9h1.0M341.6 620.1h1.0M328.7 614.3h1.0M327.5 609.0h1.0M325.4 611.0h1.0M332.1 614.0h1.0M338.0 603.0h1.0M333.0 606.7h1.0M339.0 601.7h1.0M334.5 612.1h1.0M341.7 615.4h1.0M325.6 610.9h1.0M342.8 625.4h1.0M342.5 627.6h1.0M331.7 612.2h1.0M336.3 613.6h1.0M347.8 612.6h1.0M347.8 600.4h1.0M331.1 611.6h1.0M348.6 600.0h1.0M341.9 600.1h1.0M325.7 610.1h1.0M324.8 607.6h1.0M327.3 606.9h1.0M335.9 622.4h1.0M339.8 619.4h1.0M338.4 612.6h1.0M339.3 621.2h1.0M342.8 630.8h1.0M344.2 615.2h1.0M352.5 609.0h1.0M344.9 600.4h1.0M325.9 609.3h1.0M325.0 608.5h1.0M326.3 612.7h1.0M335.1 604.5h1.0M327.3 607.3h1.0M325.9 611.1h1.0M337.4 603.0h1.0M345.1 599.7h1.0M332.5 607.1h1.0M350.3 600.5h1.0M351.6 604.3h1.0M348.9 600.4h1.0M326.9 608.5h1.0M331.1 606.5h1.0M336.7 603.1h1.0M334.6 612.1h1.0M348.3 612.8h1.0M338.5 617.3h1.0M337.7 602.0h1.0M333.2 606.2h1.0M349.3 613.4h1.0M338.1 603.3h1.0M338.9 631.7h1.0M335.3 614.5h1.0M338.4 618.3h1.0M338.8 620.1h1.0M336.6 603.9h1.0M336.3 603.6h1.0M343.7 599.8h1.0M331.5 613.1h1.0M337.4 628.3h1.0M333.9 610.9h1.0M331.9 613.1h1.0M339.7 625.2h1.0M345.4 627.3h1.0M342.9 631.0h1.0M328.6 614.4h1.0M342.4 617.6h1.0M340.3 626.4h1.0M338.2 628.1h1.0M332.2 612.3h1.0M343.6 629.7h1.0M337.6 628.0h1.0M332.5 613.3h1.0M339.2 602.4h1.0M340.5 600.9h1.0M335.7 621.8h1.0M335.5 620.8h1.0M336.0 628.5h1.0M335.7 622.1h1.0M341.7 615.5h1.0M333.6 614.8h1.0M343.0 626.6h1.0M342.0 620.2h1.0M339.5 620.5h1.0M326.2 610.8h1.0M346.3 614.3h1.0M341.3 618.8h1.0M340.7 619.2h1.0M335.6 624.2h1.0M340.4 633.3h1.0M338.2 626.6h1.0M336.3 604.1h1.0M337.9 602.5h1.0M338.6 623.5h1.0M343.5 627.8h1.0M341.1 619.6h1.0M338.9 624.1h1.0M335.6 620.4h1.0M341.8 626.8h1.0M324.6 610.2h1.0M325.9 612.5h1.0M325.1 610.9h1.0M329.9 613.1h1.0M331.6 613.1h1.0M325.2 610.9h1.0M334.2 605.6h1.0M328.9 606.8h1.0M332.6 612.0h1.0M336.7 616.4h1.0M341.5 600.4h1.0M339.6 618.5h1.0M337.5 616.2h1.0M335.0 612.8h1.0M331.2 604.8h1.0M325.0 609.3h1.0M338.4 613.2h1.0M350.4 600.5h1.0M335.6 615.1h1.0M339.4 622.8h1.0M339.0 623.5h1.0M345.5 614.4h1.0M345.1 600.3h1.0M337.9 627.3h1.0M352.2 603.8h1.0M337.7 631.2h1.0M337.4 625.0h1.0M336.6 622.2h1.0M338.7 615.2h1.0M340.0 631.0h1.0M337.8 621.8h1.0M338.9 621.1h1.0M326.6 607.6h1.0M326.3 608.9h1.0M326.5 607.8h1.0M325.4 610.0h1.0M327.9 608.5h1.0M327.7 607.7h1.0M330.2 612.8h1.0M324.9 611.5h1.0M338.1 626.6h1.0M342.1 625.4h1.0M334.6 614.4h1.0M336.7 626.1h1.0M339.1 629.3h1.0M327.1 606.8h1.0M328.7 605.6h1.0M327.4 607.5h1.0M344.2 615.4h1.0M341.4 628.8h1.0M340.7 616.3h1.0M339.6 625.9h1.0M339.9 625.7h1.0M341.6 628.7h1.0M337.6 620.3h1.0M343.4 623.1h1.0M330.7 605.9h1.0M330.7 605.3h1.0M337.5 620.4h1.0M336.7 615.5h1.0M341.1 625.8h1.0M340.8 615.1h1.0M338.2 628.7h1.0M342.2 615.6h1.0M353.3 603.7h1.0M351.2 610.3h1.0M344.0 625.6h1.0M340.7 622.1h1.0M338.2 632.1h1.0M341.4 600.2h1.0M350.0 611.6h1.0M336.9 627.5h1.0M340.8 627.0h1.0M338.8 631.9h1.0M337.2 630.5h1.0M335.9 627.7h1.0M337.9 614.8h1.0M337.6 603.5h1.0M349.4 612.7h1.0M338.4 601.9h1.0M353.4 606.6h1.0M339.8 629.6h1.0M342.3 625.2h1.0M341.6 622.5h1.0M336.6 622.5h1.0M340.5 615.4h1.0M340.1 630.0h1.0M340.1 628.7h1.0M340.5 616.1h1.0M341.6 630.8h1.0M342.0 628.0h1.0M341.6 620.3h1.0M341.7 624.2h1.0M337.5 620.7h1.0M342.5 626.4h1.0M338.9 616.2h1.0M338.3 627.6h1.0M336.5 603.8h1.0M345.8 599.8h1.0M338.2 602.1h1.0M336.1 614.9h1.0M352.6 607.5h1.0M332.6 612.2h1.0M340.8 616.6h1.0M342.6 615.1h1.0M336.5 627.9h1.0M341.7 622.4h1.0M330.8 614.3h1.0M343.4 630.4h1.0M340.0 623.1h1.0M352.8 605.2h1.0M346.0 600.2h1.0M340.9 624.6h1.0M336.6 619.1h1.0" stroke="rgb(40, 140, 210)" stroke-width="1.0" stroke-opacity="0.9"/>
<path d="M347.3 611.8h1.0M345.8 612.8h1.0M337.1 607.0h1.0M343.2 601.0h1.0M351.2 603.7h1.0M346.2 601.5h1.0M340.7 612.9h1.0M336.8 607.1h1.0M341.5 612.7h1.0M343.2 601.5h1.0M328.9 610.6h1.0M338.2 612.0h1.0M341.7 600.6h1.0M338.0 609.8h1.0M336.6 605.3h1.0M337.4 610.9h1.0M337.4 606.7h1.0M351.1 608.0h1.0M344.7 600.8h1.0M349.9 610.2h1.0M338.4 605.5h1.0M341.0 614.0h1.0M348.2 601.1h1.0M329.3 609.7h1.0M330.9 608.2h1.0M332.2 610.5h1.0M332.4 608.9h1.0M329.2 611.3h1.0M335.9 610.9h1.0M332.0 609.2h1.0M331.7 610.2h1.0M329.1 609.1h1.0M328.5 610.8h1.0M329.1 610.9h1.0M328.5 609.0h1.0M331.3 608.3h1.0M341.3 613.7h1.0M350.7 605.1h1.0M344.2 613.2h1.0M335.9 606.0h1.0M330.4 609.7h1.0M329.1 611.2h1.0M336.7 605.6h1.0M340.2 602.1h1.0M345.6 600.8h1.0M348.5 610.8h1.0M343.0 613.5h1.0M338.0 612.2h1.0M334.6 609.9h1.0M335.8 610.8h1.0M339.1 611.0h1.0M342.5 613.7h1.0M329.8 608.6h1.0M332.6 611.2h1.0M333.5 608.5h1.0M344.8 600.7h1.0M335.2 609.6h1.0M337.9 605.2h1.0M347.0 601.2h1.0M351.2 605.3h1.0M351.0 609.4h1.0M347.6 601.2h1.0M333.8 608.2h1.0M349.2 611.4h1.0M352.1 605.4h1.0M347.4 601.1h1.0M337.4 605.8h1.0M342.9 600.6h1.0M341.3 602.2h1.0M335.7 611.0h1.0M336.4 607.9h1.0M336.0 607.5h1.0M349.1 601.7h1.0M328.7 610.9h1.0M345.8 601.3h1.0M331.7 610.5h1.0M339.4 612.1h1.0M351.2 609.5h1.0M351.6 605.4h1.0M339.8 613.0h1.0M341.2 602.0h1.0M351.0 609.4h1.0M346.1 601.5h1.0M350.6 605.0h1.0M350.1 602.6h1.0M337.6 605.3h1.0M351.6 606.5h1.0M342.5 614.1h1.0M341.0 602.1h1.0M348.9 610.8h1.0M345.2 601.0h1.0M331.5 608.2h1.0M341.1 602.4h1.0M329.7 610.6h1.0M331.4 610.0h1.0M328.3 610.7h1.0M329.4 608.0h1.0M330.8 608.9h1.0M350.8 608.0h1.0M351.3 604.4h1.0M329.3 608.0h1.0M331.2 609.6h1.0M328.6 608.7h1.0M331.9 611.1h1.0M337.6 604.4h1.0M329.7 609.6h1.0M331.2 608.7h1.0M329.1 611.1h1.0M329.8 608.9h1.0M334.3 610.4h1.0M330.9 610.2h1.0M336.3 609.2h1.0M332.9 609.9h1.0M333.9 608.7h1.0M331.2 608.2h1.0M333.8 607.8h1.0M338.0 611.4h1.0M338.6 611.8h1.0M342.5 613.5h1.0M345.3 612.9h1.0M338.2 612.2h1.0M332.0 608.9h1.0M335.9 608.1h1.0M330.5 607.8h1.0M328.6 610.8h1.0M350.0 602.1h1.0M328.7 609.0h1.0M336.1 611.1h1.0M330.4 610.3h1.0M330.1 610.7h1.0M333.3 609.1h1.0M349.0 602.3h1.0M350.6 608.4h1.0M352.1 606.8h1.0M348.2 601.4h1.0M336.7 608.7h1.0M327.7 611.1h1.0M327.6 610.1h1.0M334.9 611.1h1.0M335.2 606.5h1.0M350.2 610.1h1.0M328.5 610.6h1.0M340.7 614.1h1.0M341.0 612.5h1.0M327.8 609.8h1.0M329.6 608.4h1.0M330.8 610.2h1.0M331.7 610.9h1.0M352.0 606.2h1.0M343.4 614.1h1.0M343.3 601.4h1.0M344.3 613.1h1.0M330.7 608.3h1.0M332.6 611.5h1.0M333.1 607.8h1.0M334.6 607.4h1.0M333.7 608.7h1.0M330.5 609.6h1.0M333.3 608.3h1.0M329.5 610.3h1.0M342.4 614.2h1.0M340.7 614.4h1.0M350.8 605.0h1.0M341.4 614.0h1.0M335.3 608.8h1.0M336.0 611.5h1.0M336.1 605.7h1.0M352.4 604.6h1.0M332.5 608.4h1.0M328.5 610.1h1.0M332.6 611.4h1.0M330.1 609.4h1.0M327.7 610.5h1.0M335.6 608.5h1.0M329.2 608.8h1.0M339.1 602.8h1.0M350.9 607.7h1.0M333.9 607.9h1.0M336.1 606.0h1.0M329.1 609.9h1.0M333.3 610.9h1.0M334.9 608.2h1.0M330.6 609.2h1.0M332.9 610.9h1.0M350.9 609.2h1.0M342.7 601.1h1.0M333.4 609.1h1.0M330.6 610.6h1.0M344.1 613.0h1.0M337.7 612.5h1.0M332.3 607.6h1.0M344.7 613.2h1.0M344.1 601.2h1.0M343.2 601.2h1.0M349.0 601.6h1.0M337.2 606.5h1.0M352.0 607.2h1.0M350.7 603.2h1.0M351.9 606.3h1.0M351.6 604.6h1.0M342.2 600.9h1.0M351.5 606.2h1.0M341.8 601.3h1.0M348.2 611.6h1.0M329.3 610.0h1.0M350.9 603.8h1.0M334.6 607.2h1.0M347.3 600.8h1.0M346.7 601.5h1.0M330.6 609.2h1.0M336.9 605.8h1.0M337.5 610.5h1.0M330.1 609.2h1.0M330.1 607.6h1.0M328.0 609.2h1.0M343.5 600.9h1.0M341.1 600.8h1.0M331.6 608.2h1.0M350.7 608.1h1.0M348.2 601.5h1.0M344.4 601.3h1.0M342.2 613.1h1.0M341.2 613.9h1.0M350.2 602.3h1.0M337.8 611.5h1.0M348.2 611.9h1.0M337.0 612.0h1.0M333.4 607.9h1.0M351.6 607.2h1.0M329.8 609.6h1.0M340.3 613.3h1.0M336.6 609.5h1.0M329.7 610.5h1.0M327.8 610.8h1.0M332.6 609.3h1.0M329.1 610.4h1.0M330.5 609.7h1.0M338.6 610.9h1.0M330.0 609.1h1.0M332.0 607.5h1.0M338.3 605.1h1.0M346.1 601.0h1.0M336.6 611.5h1.0M332.5 610.7h1.0M330.5 608.3h1.0M330.6 608.8h1.0M332.3 609.5h1.0M331.6 609.6h1.0M334.1 609.8h1.0M328.9 608.4h1.0M327.5 610.3h1.0M338.8 611.2h1.0M331.9 607.5h1.0M332.7 608.9h1.0M335.7 608.8h1.0M339.1 613.0h1.0M331.5 608.8h1.0M329.4 607.7h1.0M336.1 607.5h1.0M329.7 610.5h1.0M336.9 606.6h1.0M330.3 611.5h1.0M341.3 602.1h1.0M337.2 609.8h1.0M348.7 611.3h1.0M340.6 613.6h1.0M335.9 607.1h1.0M349.5 611.4h1.0M337.7 610.1h1.0M337.6 610.0h1.0M337.5 606.4h1.0M340.2 613.2h1.0M350.5 602.6h1.0M339.8 602.3h1.0M338.1 612.0h1.0M337.0 605.5h1.0M335.6 606.8h1.0M334.6 609.6h1.0M337.0 609.8h1.0M332.6 609.0h1.0M341.2 601.9h1.0M338.2 611.6h1.0M338.0 611.9h1.0M349.8 610.0h1.0M340.5 600.7h1.0M332.0 609.5h1.0M341.1 612.9h1.0M338.6 612.3h1.0M334.8 607.5h1.0M333.2 609.0h1.0M332.4 607.6h1.0M328.6 609.7h1.0M338.2 611.8h1.0M335.1 607.1h1.0M346.8 601.3h1.0M332.3 608.1h1.0M336.4 608.8h1.0M349.9 609.6h1.0M345.5 601.3h1.0M337.1 609.7h1.0M341.4 613.8h1.0M331.9 609.7h1.0M350.5 603.5h1.0M347.7 601.3h1.0M350.6 604.4h1.0M328.1 611.1h1.0M333.0 611.0h1.0M337.4 610.9h1.0M340.0 612.3h1.0M330.8 611.3h1.0M335.5 608.2h1.0M337.3 607.5h1.0M329.2 610.7h1.0M329.5 611.5h1.0M337.2 608.6h1.0M335.2 611.1h1.0M329.3 610.7h1.0M330.0 611.5h1.0M332.9 609.2h1.0M327.7 609.1h1.0M331.5 608.9h1.0M337.4 610.1h1.0M350.5 604.2h1.0M351.5 608.1h1.0M328.5 610.8h1.0M332.8 610.9h1.0M339.4 611.3h1.0M343.8 600.8h1.0M340.2 611.6h1.0M331.5 610.9h1.0M334.3 610.1h1.0M334.5 607.5h1.0M345.6 601.1h1.0M350.7 608.5h1.0M349.6 601.7h1.0M337.2 605.0h1.0M341.0 613.2h1.0M334.7 608.6h1.0M344.9 600.8h1.0M348.4 601.0h1.0M347.0 611.8h1.0M335.9 610.3h1.0M345.9 613.1h1.0M335.0 608.0h1.0M348.9 602.2h1.0M351.5 607.0h1.0M350.7 609.0h1.0M330.2 609.1h1.0M330.6 610.4h1.0M342.3 612.5h1.0M335.0 608.1h1.0M344.2 612.6h1.0M332.2 611.1h1.0M338.8 611.3h1.0M351.4 604.9h1.0M335.4 610.4h1.0M337.1 608.1h1.0M343.8 612.9h1.0M336.4 610.7h1.0M344.4 613.1h1.0M327.7 609.5h1.0M331.9 607.6h1.0M329.7 610.2h1.0M328.7 609.6h1.0M327.6 609.7h1.0M335.2 610.4h1.0M342.0 613.3h1.0M334.2 608.9h1.0M336.0 609.7h1.0M352.1 605.7h1.0M330.0 608.1h1.0M330.7 608.5h1.0M333.7 608.3h1.0M351.8 606.9h1.0M343.2 613.7h1.0M351.0 609.2h1.0M336.6 612.4h1.0M347.8 601.0h1.0M345.3 601.0h1.0M351.2 604.2h1.0M351.0 605.5h1.0M349.6 602.3h1.0M351.1 604.0h1.0M336.6 611.3h1.0M349.2 601.9h1.0M347.8 612.2h1.0M336.1 609.1h1.0M335.8 607.1h1.0M348.9 602.1h1.0M351.2 602.8h1.0M341.0 601.9h1.0M347.2 611.9h1.0M336.6 608.3h1.0M335.8 610.0h1.0M351.2 605.3h1.0M328.3 610.2h1.0M329.0 607.9h1.0M331.9 608.7h1.0M331.9 609.4h1.0M329.2 608.6h1.0M330.8 611.0h1.0M329.9 608.9h1.0M335.2 608.4h1.0M330.1 611.4h1.0M329.5 610.1h1.0M327.9 608.7h1.0M338.3 610.5h1.0M337.2 605.0h1.0M340.8 602.2h1.0M341.3 600.6h1.0M350.4 610.0h1.0M342.7 613.3h1.0M342.8 612.8h1.0M346.4 601.4h1.0M335.4 609.4h1.0M352.0 604.7h1.0M333.2 610.4h1.0M340.7 602.3h1.0M334.2 610.2h1.0M347.5 612.4h1.0M345.3 601.0h1.0M337.0 606.9h1.0M331.2 608.0h1.0M344.0 613.3h1.0M337.5 610.6h1.0M334.7 608.4h1.0M346.6 612.1h1.0M338.8 611.3h1.0M340.3 613.5h1.0M339.0 602.6h1.0M335.2 608.8h1.0M347.4 611.6h1.0M347.9 611.8h1.0M336.6 605.8h1.0M341.7 614.4h1.0M341.5 601.3h1.0M336.3 608.4h1.0M349.8 601.8h1.0M339.8 602.3h1.0M344.6 612.6h1.0M348.8 601.9h1.0M341.2 600.5h1.0M346.7 600.5h1.0M329.8 610.4h1.0M330.9 610.6h1.0M351.1 603.3h1.0M351.1 609.5h1.0M330.5 608.3h1.0M331.2 608.9h1.0M333.2 610.3h1.0M340.6 612.9h1.0M336.6 609.9h1.0M336.5 608.5h1.0M337.0 606.3h1.0M341.4 612.9h1.0M338.6 612.8h1.0M332.5 608.3h1.0M327.7 611.5h1.0M330.7 607.9h1.0M338.3 609.8h1.0M350.1 603.4h1.0M350.6 604.3h1.0M340.5 612.5h1.0M334.1 610.0h1.0M340.7 613.7h1.0M338.6 602.6h1.0M338.3 604.8h1.0M347.1 600.9h1.0M337.0 610.9h1.0M336.1 609.8h1.0M340.3 601.9h1.0M352.0 606.6h1.0M351.6 607.5h1.0M343.0 614.3h1.0M341.5 600.6h1.0M338.1 609.5h1.0M350.9 608.0h1.0M348.0 612.2h1.0M331.6 609.0h1.0M331.6 608.9h1.0M338.1 605.4h1.0M336.4 609.1h1.0M338.9 611.2h1.0M335.9 608.2h1.0M339.6 601.8h1.0M349.0 611.5h1.0M337.2 608.1h1.0M337.8 610.9h1.0M350.1 603.3h1.0M331.6 608.2h1.0M342.5 614.4h1.0M337.0 609.5h1.0M337.0 611.3h1.0M338.2 604.8h1.0M348.6 611.0h1.0M330.3 609.5h1.0M336.1 608.0h1.0M338.4 611.4h1.0M331.1 610.2h1.0M329.0 607.8h1.0M337.0 608.9h1.0M332.2 609.8h1.0M330.6 610.6h1.0M331.6 610.3h1.0M339.3 603.2h1.0M351.2 609.1h1.0M337.2 606.9h1.0M339.3 613.0h1.0M350.7 604.0h1.0M342.4 613.0h1.0M331.2 609.3h1.0M336.6 610.3h1.0M349.6 602.3h1.0M346.3 601.0h1.0M331.5 610.1h1.0M335.1 611.3h1.0M337.0 607.5h1.0M330.9 610.3h1.0M337.2 609.1h1.0M332.2 607.9h1.0M335.1 610.7h1.0M332.1 608.0h1.0M336.1 610.7h1.0M331.5 610.7h1.0M332.8 609.1h1.0M343.6 601.0h1.0M342.3 612.6h1.0M338.5 611.4h1.0M330.0 610.5h1.0M351.0 608.5h1.0M346.8 601.3h1.0M348.7 602.5h1.0M335.2 610.0h1.0M339.8 602.2h1.0M350.0 602.8h1.0M335.3 607.1h1.0M343.5 614.1h1.0M338.6 611.8h1.0M350.8 605.4h1.0M340.9 600.8h1.0M347.9 601.1h1.0M336.1 608.5h1.0M335.6 606.4h1.0M349.9 610.2h1.0M341.6 612.5h1.0M349.8 602.4h1.0M346.7 601.4h1.0M342.8 600.7h1.0M342.1 601.4h1.0M333.5 607.8h1.0M337.9 611.3h1.0M344.6 613.0h1.0M338.9 611.6h1.0M336.4 609.2h1.0M347.1 612.0h1.0M337.4 607.8h1.0M346.0 613.0h1.0M342.4 613.0h1.0M348.5 602.3h1.0M340.6 613.6h1.0M338.2 603.7h1.0M350.4 603.4h1.0M348.2 601.4h1.0M338.6 603.5h1.0M334.4 609.1h1.0M350.5 604.9h1.0M343.4 613.0h1.0M350.6 604.4h1.0M335.9 607.6h1.0M328.8 607.6h1.0M350.6 604.0h1.0M338.7 613.3h1.0M338.4 604.7h1.0M333.3 609.9h1.0M328.9 608.9h1.0M336.1 607.6h1.0M350.9 603.1h1.0M339.3 610.5h1.0M348.5 610.9h1.0M350.2 610.4h1.0M339.2 602.6h1.0M352.1 606.5h1.0M343.3 614.2h1.0M336.9 610.2h1.0" stroke="rgb(40, 160, 156)" stroke-width="1.0" stroke-opacity="0.9"/>
<path d="M350.5 603.6h1.0M347.1 602.4h1.0M351.1 606.9h1.0M348.1 610.7h1.0M350.3 608.5h1.0M347.7 602.3h1.0M350.6 606.7h1.0M351.3 606.1h1.0M350.1 608.9h1.0M338.7 603.7h1.0M343.4 601.8h1.0M349.4 610.2h1.0M340.4 610.6h1.0M349.7 607.5h1.0M344.3 612.0h1.0M349.6 604.9h1.0M339.4 605.0h1.0M349.7 604.9h1.0M351.3 606.4h1.0M338.6 610.0h1.0M338.9 603.7h1.0M347.2 601.6h1.0M345.3 612.1h1.0M344.2 611.9h1.0M350.2 609.0h1.0M342.4 602.4h1.0M348.5 602.7h1.0M350.2 603.6h1.0M339.1 605.8h1.0M350.1 608.0h1.0M345.5 611.7h1.0M349.9 607.9h1.0M349.1 603.3h1.0M340.2 611.3h1.0M345.8 612.3h1.0M348.6 603.2h1.0M340.0 609.6h1.0M350.3 608.9h1.0M339.8 611.1h1.0M349.8 608.0h1.0M342.6 602.4h1.0M340.5 610.5h1.0M346.3 612.1h1.0M339.7 611.3h1.0M348.5 610.0h1.0M342.7 612.0h1.0M347.7 602.5h1.0M344.3 612.0h1.0M347.2 602.5h1.0M348.5 610.7h1.0M347.8 610.7h1.0M340.0 611.4h1.0M339.2 604.5h1.0M350.5 607.8h1.0M342.8 611.8h1.0M345.0 611.5h1.0M343.1 602.4h1.0M341.3 602.6h1.0M340.8 611.2h1.0M338.8 605.5h1.0M339.2 607.8h1.0M346.7 611.1h1.0M348.0 602.4h1.0M343.2 602.1h1.0M343.9 611.5h1.0M338.6 604.1h1.0M350.8 607.2h1.0M348.1 610.0h1.0M348.1 602.4h1.0M340.7 611.5h1.0M338.8 604.2h1.0M347.0 610.6h1.0M338.4 609.1h1.0M337.8 608.3h1.0M339.8 609.7h1.0M342.3 602.1h1.0M341.3 603.3h1.0M347.0 602.0h1.0M349.8 604.4h1.0M338.8 609.8h1.0M350.3 608.5h1.0M340.5 611.4h1.0M338.2 605.8h1.0M349.9 604.2h1.0M350.4 604.1h1.0M344.7 611.9h1.0M339.3 607.7h1.0M343.0 612.4h1.0M349.4 609.6h1.0M341.9 601.7h1.0M340.2 609.6h1.0M348.0 610.6h1.0M351.1 605.6h1.0M347.0 602.3h1.0M349.8 608.5h1.0M350.2 607.6h1.0M341.9 602.0h1.0M337.6 605.7h1.0M337.6 606.0h1.0M348.3 609.7h1.0M347.9 610.0h1.0M341.0 611.4h1.0M341.9 612.1h1.0M347.3 611.4h1.0M338.9 606.3h1.0M339.2 608.8h1.0M343.0 601.5h1.0M338.4 606.4h1.0M348.0 602.4h1.0M346.1 611.1h1.0M338.1 608.0h1.0M350.6 606.7h1.0M338.2 606.5h1.0M341.2 603.0h1.0M345.9 610.5h1.0M339.6 611.1h1.0M338.7 605.1h1.0M338.5 607.2h1.0M349.0 610.2h1.0M340.5 611.4h1.0M340.5 604.0h1.0M339.7 610.8h1.0M350.6 607.1h1.0M340.8 611.0h1.0M347.5 602.4h1.0M339.9 603.8h1.0M340.6 610.6h1.0M340.3 604.3h1.0M344.4 611.5h1.0M343.5 602.4h1.0M337.9 609.3h1.0M338.9 607.8h1.0M347.3 611.1h1.0M350.0 608.9h1.0M350.9 606.7h1.0M341.1 603.4h1.0M338.4 607.8h1.0M348.1 610.3h1.0M340.4 611.2h1.0M350.0 605.4h1.0M340.9 612.4h1.0M341.2 611.2h1.0M338.8 605.5h1.0M338.9 605.6h1.0M339.9 603.7h1.0M340.5 604.0h1.0M348.6 603.3h1.0M347.7 609.5h1.0M342.9 612.3h1.0M337.7 608.4h1.0M344.8 611.7h1.0M341.5 601.9h1.0M349.3 610.0h1.0M349.2 602.8h1.0M339.0 604.9h1.0M351.1 606.9h1.0M345.6 610.8h1.0M351.0 605.8h1.0M342.0 612.0h1.0M350.1 607.8h1.0M342.6 612.0h1.0M348.9 603.3h1.0M347.0 602.0h1.0M346.1 612.4h1.0M343.3 602.0h1.0M340.9 611.0h1.0M348.0 611.2h1.0M349.5 609.0h1.0M339.0 606.0h1.0M345.8 610.7h1.0M339.3 607.5h1.0M339.3 605.9h1.0M349.2 610.0h1.0M346.7 610.8h1.0M350.3 604.0h1.0M347.9 610.2h1.0M338.6 608.5h1.0M350.2 604.5h1.0M351.1 607.0h1.0M350.1 604.0h1.0M337.6 609.3h1.0M351.0 605.6h1.0M350.0 603.7h1.0M347.1 611.4h1.0M343.5 612.1h1.0M338.9 605.5h1.0M338.8 604.1h1.0M351.0 607.3h1.0M342.8 601.8h1.0M349.8 608.4h1.0M349.7 609.2h1.0M344.0 612.1h1.0M343.5 612.2h1.0M341.0 603.5h1.0M349.5 608.5h1.0M347.5 602.1h1.0M340.3 603.9h1.0M338.3 605.9h1.0M341.7 602.3h1.0M348.1 609.9h1.0M348.0 609.7h1.0M337.8 607.7h1.0M338.1 608.9h1.0M339.0 604.4h1.0M342.1 602.5h1.0M338.7 609.4h1.0M341.9 612.3h1.0M339.6 604.0h1.0M345.0 611.9h1.0M341.0 611.7h1.0M337.8 605.8h1.0M338.2 606.5h1.0M348.4 601.8h1.0M350.1 605.2h1.0M338.3 606.1h1.0M341.3 603.2h1.0M343.2 602.4h1.0M347.6 609.9h1.0M350.0 605.5h1.0M350.8 606.1h1.0M349.1 610.2h1.0M338.3 608.5h1.0M346.1 611.5h1.0M347.2 611.3h1.0M342.2 612.3h1.0M338.6 609.9h1.0M351.2 607.4h1.0M348.4 602.3h1.0M346.6 610.6h1.0M344.7 612.2h1.0M340.2 609.7h1.0M340.6 602.7h1.0M348.7 602.6h1.0M341.6 602.4h1.0M343.6 612.3h1.0M347.6 601.5h1.0M345.8 610.7h1.0M339.1 606.4h1.0M340.2 610.7h1.0M338.6 610.5h1.0M339.0 603.8h1.0M340.5 611.6h1.0M342.0 601.8h1.0M340.6 612.1h1.0M339.6 610.6h1.0M347.5 601.5h1.0M349.2 602.8h1.0M338.1 608.0h1.0M349.4 609.5h1.0M341.9 602.1h1.0M347.9 609.5h1.0M346.1 611.4h1.0M347.2 611.0h1.0M347.3 602.0h1.0M341.2 611.6h1.0M347.2 602.2h1.0M351.1 605.9h1.0M339.2 604.8h1.0M347.5 602.4h1.0M340.6 603.0h1.0M347.6 610.9h1.0M340.1 603.0h1.0M338.4 607.2h1.0M339.2 608.5h1.0M340.4 611.0h1.0M342.3 601.9h1.0M339.5 604.1h1.0M347.4 602.1h1.0M349.8 604.5h1.0M338.8 609.9h1.0M338.7 604.9h1.0M339.4 610.3h1.0M338.4 605.7h1.0M340.9 602.7h1.0M338.3 609.0h1.0M342.2 611.8h1.0M339.8 610.9h1.0M339.6 610.2h1.0M339.0 604.4h1.0M349.1 602.7h1.0M344.9 612.1h1.0M338.8 606.2h1.0M342.2 612.2h1.0M348.6 602.8h1.0M348.8 602.7h1.0M341.4 602.6h1.0M343.0 601.6h1.0M339.1 605.1h1.0M338.6 604.0h1.0" stroke="rgb(56, 175, 106)" stroke-width="1.0" stroke-opacity="0.9"/>
<path d="M342.2 603.4h1.0M350.1 606.1h1.0M341.0 604.4h1.0M349.0 607.9h1.0M346.3 601.6h1.0M349.1 609.2h1.0M350.0 605.8h1.0M349.6 606.1h1.0M340.7 604.4h1.0M348.6 609.2h1.0M345.6 601.9h1.0M350.2 607.5h1.0M341.3 603.6h1.0M341.5 610.2h1.0M345.9 609.9h1.0M345.7 610.4h1.0M340.8 610.1h1.0M339.1 607.4h1.0M347.6 604.1h1.0M344.6 601.5h1.0M341.6 610.9h1.0M339.9 605.2h1.0M348.9 608.4h1.0M339.7 606.1h1.0M340.5 609.3h1.0M345.0 602.5h1.0M347.9 609.0h1.0M342.2 610.9h1.0M345.1 610.7h1.0M341.6 609.6h1.0M349.1 604.3h1.0M345.4 601.6h1.0M342.6 603.1h1.0M347.4 610.3h1.0M346.8 602.6h1.0M350.0 607.1h1.0M348.2 609.2h1.0M345.8 610.4h1.0M342.4 609.7h1.0M345.4 601.9h1.0M345.1 611.1h1.0M340.4 608.4h1.0M341.3 608.9h1.0M339.2 606.7h1.0M342.6 610.9h1.0M340.9 609.1h1.0M349.6 606.9h1.0M339.9 606.0h1.0M342.2 610.0h1.0M348.9 606.6h1.0M340.4 607.8h1.0M349.5 606.0h1.0M348.9 606.1h1.0M344.6 601.9h1.0M342.5 603.0h1.0M347.7 603.2h1.0M348.5 608.9h1.0M349.0 606.1h1.0M341.8 611.0h1.0M340.1 605.7h1.0M349.1 605.9h1.0M349.4 607.6h1.0M346.2 601.8h1.0M347.7 608.7h1.0M342.4 609.7h1.0M349.2 604.1h1.0M340.3 605.6h1.0M342.3 610.0h1.0M345.3 611.2h1.0M348.5 609.4h1.0M341.5 611.3h1.0M342.7 603.2h1.0M349.4 608.1h1.0M339.7 606.7h1.0M340.0 608.8h1.0M343.0 610.8h1.0M345.8 602.0h1.0M349.7 606.2h1.0M348.7 607.3h1.0M347.1 610.1h1.0M349.0 606.9h1.0M340.2 607.2h1.0M350.1 606.3h1.0M349.7 606.5h1.0M339.8 609.4h1.0M348.8 606.7h1.0M349.0 609.2h1.0M341.6 610.9h1.0M339.3 606.9h1.0M343.5 603.3h1.0M340.1 608.5h1.0M349.4 605.0h1.0M348.7 604.7h1.0M347.2 609.8h1.0M339.3 606.6h1.0M346.3 609.7h1.0M341.2 609.2h1.0M341.5 608.9h1.0M347.4 602.9h1.0M340.6 604.0h1.0M350.3 606.5h1.0M338.8 606.5h1.0M343.9 602.5h1.0M340.0 608.2h1.0M342.3 611.5h1.0M348.3 604.4h1.0M340.0 606.8h1.0M342.3 602.8h1.0M340.4 606.3h1.0M341.8 609.7h1.0M341.5 609.8h1.0M349.2 606.4h1.0M348.4 604.4h1.0M344.3 602.3h1.0M344.1 610.7h1.0M348.9 606.5h1.0M341.1 603.8h1.0M348.9 603.7h1.0M340.4 607.9h1.0M349.8 606.9h1.0M343.3 603.0h1.0M339.7 607.7h1.0M347.5 604.1h1.0M348.1 604.5h1.0M349.4 604.5h1.0M348.4 604.2h1.0M344.4 601.6h1.0M341.8 611.0h1.0M348.7 606.6h1.0M350.0 606.4h1.0M341.1 608.9h1.0M347.6 609.2h1.0M345.1 602.3h1.0M346.7 603.4h1.0M346.9 610.0h1.0M349.1 603.9h1.0M348.6 606.3h1.0M348.6 603.9h1.0M349.3 608.0h1.0M348.7 606.9h1.0M349.0 607.9h1.0M342.0 611.0h1.0M349.3 604.2h1.0M340.9 609.6h1.0M342.1 603.5h1.0M340.0 605.6h1.0M343.9 601.9h1.0M339.7 606.1h1.0M348.4 602.9h1.0M343.8 602.4h1.0M343.6 611.2h1.0M340.9 604.3h1.0M343.0 611.0h1.0M340.3 606.7h1.0M343.2 611.3h1.0M339.5 606.0h1.0M348.6 605.7h1.0M341.7 611.2h1.0M345.0 601.6h1.0M341.1 604.1h1.0M344.7 602.4h1.0M341.8 609.9h1.0M341.9 610.6h1.0M346.9 609.6h1.0M340.1 606.6h1.0M347.8 603.2h1.0M346.1 601.9h1.0M340.1 606.6h1.0M343.5 610.6h1.0M344.6 601.8h1.0M340.0 605.7h1.0M338.6 607.1h1.0M349.2 604.8h1.0M340.6 604.5h1.0M345.6 609.9h1.0M339.5 606.5h1.0M345.0 602.1h1.0M340.6 603.5h1.0M345.1 602.5h1.0M346.9 602.9h1.0M342.0 611.4h1.0M340.8 604.3h1.0M344.3 610.9h1.0M343.1 603.2h1.0M339.8 606.9h1.0M346.4 610.3h1.0M346.7 609.9h1.0M339.6 608.6h1.0M340.3 606.0h1.0M341.9 602.7h1.0M339.6 609.0h1.0M339.9 606.6h1.0M341.7 610.2h1.0M348.8 605.6h1.0M340.6 604.3h1.0M345.8 610.3h1.0M342.1 603.0h1.0M348.9 604.3h1.0M339.9 607.0h1.0M344.7 602.0h1.0M339.8 607.7h1.0M341.6 610.7h1.0M349.1 605.1h1.0M349.2 609.0h1.0M342.4 602.6h1.0M339.9 606.3h1.0M342.8 602.9h1.0M347.7 602.5h1.0M340.0 609.0h1.0M349.5 607.5h1.0M343.9 610.7h1.0M341.0 609.8h1.0M339.2 606.8h1.0M343.2 603.2h1.0M350.1 606.6h1.0M348.5 603.4h1.0M349.1 607.0h1.0M341.6 611.1h1.0M340.4 607.6h1.0M349.0 607.2h1.0M345.2 611.3h1.0M349.1 604.4h1.0M340.5 609.3h1.0M340.4 606.4h1.0M348.0 608.5h1.0M350.3 606.3h1.0M339.5 608.6h1.0M346.1 609.7h1.0M343.6 602.2h1.0M340.3 607.9h1.0M348.8 608.0h1.0M341.5 602.7h1.0M347.7 603.0h1.0M348.9 607.7h1.0M344.0 611.1h1.0M341.9 610.3h1.0M342.5 602.9h1.0M340.1 605.3h1.0M348.9 609.4h1.0M349.5 605.9h1.0M340.2 607.9h1.0M348.9 608.1h1.0M344.2 601.9h1.0M340.0 608.1h1.0M340.4 607.3h1.0M339.6 608.8h1.0M340.1 606.5h1.0M349.5 605.6h1.0M339.4 607.2h1.0M339.8 607.5h1.0M340.7 608.9h1.0M348.8 603.9h1.0M345.3 602.5h1.0M349.0 607.5h1.0M345.8 602.2h1.0M349.1 603.9h1.0M341.7 609.6h1.0M348.6 606.1h1.0M342.1 603.2h1.0M340.5 607.8h1.0M344.3 601.6h1.0M348.7 608.7h1.0M343.4 603.4h1.0M345.9 602.3h1.0M348.7 607.4h1.0M341.9 602.9h1.0M340.6 610.4h1.0M343.0 610.9h1.0M342.4 611.5h1.0M349.2 607.7h1.0M342.2 611.4h1.0M343.3 611.2h1.0M348.1 609.4h1.0M339.0 606.7h1.0M346.7 610.3h1.0M344.1 611.0h1.0M348.7 606.5h1.0M347.2 602.7h1.0M348.8 608.6h1.0M344.8 601.8h1.0M343.5 601.5h1.0M341.5 604.3h1.0M340.3 606.8h1.0M340.5 609.9h1.0M340.8 608.8h1.0M346.7 603.0h1.0M340.4 606.0h1.0M343.1 611.1h1.0M346.2 609.9h1.0M349.4 604.5h1.0M340.2 604.8h1.0M348.5 608.9h1.0M339.7 605.0h1.0M340.4 606.5h1.0M341.3 604.3h1.0M344.3 602.0h1.0M348.1 609.4h1.0M345.5 601.8h1.0M343.7 611.4h1.0M348.8 605.2h1.0M350.5 605.7h1.0M349.8 607.0h1.0M348.7 607.6h1.0M347.7 603.7h1.0M348.5 608.8h1.0M346.8 610.3h1.0M341.8 609.7h1.0M339.8 609.3h1.0M348.5 605.6h1.0M347.9 603.8h1.0M340.6 609.6h1.0M342.1 603.1h1.0M348.1 604.5h1.0M349.5 604.2h1.0M345.4 610.5h1.0M349.1 608.1h1.0M346.7 610.5h1.0M340.1 607.8h1.0M345.6 602.1h1.0M339.7 607.0h1.0M345.1 602.2h1.0M349.1 607.5h1.0M345.9 602.4h1.0M348.6 606.1h1.0M342.4 610.8h1.0M350.2 606.4h1.0M339.8 605.6h1.0M339.5 606.7h1.0M339.8 608.2h1.0M350.2 606.6h1.0M339.8 606.5h1.0" stroke="rgb(90, 185, 60)" stroke-width="1.0" stroke-opacity="0.9"/>
<path d="M343.4 604.2h1.0M347.6 606.7h1.0M347.3 604.1h1.0M342.0 607.7h1.0M343.8 602.8h1.0M348.3 604.7h1.0M346.7 608.0h1.0M340.9 607.8h1.0M347.7 604.6h1.0M347.4 608.6h1.0M343.5 608.6h1.0M344.0 603.1h1.0M340.7 606.4h1.0M346.9 604.3h1.0M348.0 606.0h1.0M341.3 605.1h1.0M340.5 605.5h1.0M341.7 605.3h1.0M343.9 610.0h1.0M348.0 605.7h1.0M346.2 608.9h1.0M344.7 603.5h1.0M342.3 604.6h1.0M344.8 610.5h1.0M346.3 608.5h1.0M346.8 608.8h1.0M344.8 608.7h1.0M347.2 609.4h1.0M344.3 602.8h1.0M347.5 605.9h1.0M345.2 610.2h1.0M341.9 607.8h1.0M340.9 605.9h1.0M346.0 608.7h1.0M342.2 604.6h1.0M342.9 609.9h1.0M343.8 609.9h1.0M348.5 608.2h1.0M342.8 603.8h1.0M343.4 609.7h1.0M341.3 607.5h1.0M344.8 609.3h1.0M348.3 606.6h1.0M345.8 609.3h1.0M347.0 609.2h1.0M345.1 608.8h1.0M343.1 609.9h1.0M342.2 605.1h1.0M342.1 605.4h1.0M347.1 608.7h1.0M342.9 604.1h1.0M342.2 608.5h1.0M345.1 609.5h1.0M340.7 607.7h1.0M347.5 604.1h1.0M340.8 605.5h1.0M347.8 606.6h1.0M346.6 608.8h1.0M342.7 604.4h1.0M345.6 603.8h1.0M343.0 603.9h1.0M348.5 605.4h1.0M347.2 609.4h1.0M347.9 606.8h1.0M342.4 607.5h1.0M341.3 605.1h1.0M348.4 607.2h1.0M344.1 609.0h1.0M345.1 608.6h1.0M341.4 606.7h1.0M348.1 607.8h1.0M342.9 610.1h1.0M346.4 602.6h1.0M344.4 608.5h1.0M348.0 607.1h1.0M344.1 609.4h1.0M343.2 609.0h1.0M346.5 604.2h1.0M342.5 608.0h1.0M341.9 609.5h1.0M344.6 610.1h1.0M347.4 608.2h1.0M341.5 608.5h1.0M341.8 604.3h1.0M345.5 609.4h1.0M344.7 610.2h1.0M343.5 603.7h1.0M348.1 606.0h1.0M347.8 605.6h1.0M347.7 608.4h1.0M343.7 609.8h1.0M342.3 604.1h1.0M340.7 608.2h1.0M348.4 605.6h1.0M348.4 606.6h1.0M343.5 608.7h1.0M348.0 605.3h1.0M345.4 602.8h1.0M341.0 606.0h1.0M344.4 608.8h1.0M345.7 602.6h1.0M347.9 607.8h1.0M348.3 604.7h1.0M346.4 604.0h1.0M346.9 608.6h1.0M347.0 609.0h1.0M348.2 607.8h1.0M342.1 605.3h1.0M344.8 602.8h1.0M346.6 609.3h1.0M341.0 608.0h1.0M346.2 603.9h1.0M347.3 604.2h1.0M346.3 608.6h1.0M346.7 607.6h1.0M343.3 610.1h1.0M345.8 603.5h1.0M342.5 609.0h1.0M341.2 605.6h1.0M342.0 608.3h1.0M345.0 608.8h1.0M342.6 604.1h1.0M348.3 608.2h1.0M342.6 610.2h1.0M345.9 608.6h1.0M341.3 605.7h1.0M344.8 609.3h1.0M343.1 604.5h1.0M346.6 609.0h1.0M342.1 607.6h1.0M343.8 609.6h1.0M341.5 608.4h1.0M347.3 608.8h1.0M346.2 603.0h1.0M345.9 602.9h1.0M347.3 604.5h1.0M342.5 609.3h1.0M346.3 609.3h1.0M340.9 605.8h1.0M348.0 607.7h1.0M343.9 610.0h1.0M348.3 604.7h1.0M342.4 609.2h1.0M341.1 605.2h1.0M347.7 604.7h1.0M346.9 609.4h1.0M342.7 610.0h1.0M347.3 607.6h1.0M347.7 606.1h1.0M341.9 608.8h1.0M346.9 603.7h1.0M341.8 609.1h1.0M341.5 607.4h1.0M348.1 606.9h1.0M341.8 607.7h1.0M341.1 604.8h1.0M347.6 607.3h1.0M346.1 609.5h1.0M344.3 602.7h1.0M345.3 609.7h1.0M346.1 604.4h1.0M346.1 609.3h1.0M341.4 607.2h1.0M346.8 608.6h1.0M345.1 608.8h1.0M345.7 603.9h1.0M348.4 605.2h1.0M345.5 609.1h1.0M342.2 605.2h1.0M347.1 608.7h1.0M347.8 605.3h1.0M341.2 605.5h1.0M347.6 604.5h1.0M345.8 603.0h1.0M341.8 605.3h1.0M346.6 608.2h1.0M341.1 607.8h1.0M341.1 605.5h1.0M341.2 605.2h1.0M343.8 609.8h1.0M345.3 603.2h1.0M344.6 610.5h1.0M342.3 609.3h1.0M345.1 603.0h1.0M348.0 606.9h1.0M340.7 606.4h1.0M342.9 609.3h1.0M341.7 604.6h1.0M344.1 603.2h1.0M341.1 607.1h1.0M343.6 609.9h1.0M345.2 609.1h1.0M344.8 609.1h1.0M341.3 606.2h1.0M340.6 605.5h1.0M348.1 605.3h1.0M342.9 604.0h1.0M348.0 608.4h1.0M342.6 604.0h1.0M344.5 609.6h1.0M340.8 608.2h1.0M343.2 609.9h1.0M347.1 607.6h1.0M345.0 609.4h1.0M345.1 602.9h1.0M348.0 606.8h1.0M345.8 609.0h1.0M340.9 605.6h1.0M343.4 609.8h1.0M344.5 603.0h1.0M346.0 604.1h1.0M340.6 605.5h1.0M342.3 605.4h1.0M344.0 609.8h1.0M345.6 603.1h1.0M344.6 602.6h1.0M347.4 609.5h1.0M347.1 609.2h1.0M341.8 604.0h1.0M343.9 609.8h1.0M340.7 605.4h1.0M341.7 609.0h1.0M345.3 609.4h1.0M344.1 609.1h1.0M344.1 603.1h1.0M341.4 607.5h1.0M342.0 609.5h1.0M343.7 602.6h1.0M341.7 604.9h1.0M347.5 608.4h1.0M347.8 608.5h1.0M343.0 604.2h1.0M343.9 608.5h1.0M347.7 605.8h1.0M348.2 604.6h1.0M345.4 602.8h1.0M341.3 608.3h1.0M341.6 608.3h1.0M347.7 607.4h1.0M344.0 609.9h1.0M342.4 605.1h1.0M348.2 605.6h1.0M344.5 608.8h1.0M348.0 606.7h1.0M347.2 603.7h1.0M342.6 608.6h1.0M346.7 607.8h1.0M345.6 604.4h1.0M346.5 607.7h1.0M347.2 608.7h1.0M343.9 603.5h1.0M344.9 610.1h1.0M348.1 605.3h1.0M347.6 605.8h1.0M341.3 604.9h1.0M343.1 609.3h1.0M342.5 610.0h1.0M346.5 604.3h1.0M347.0 608.4h1.0M341.4 604.7h1.0M342.1 604.3h1.0M343.6 609.1h1.0M341.8 608.8h1.0M348.0 606.8h1.0M341.3 606.3h1.0M342.4 604.5h1.0M345.2 610.3h1.0M345.3 609.0h1.0M340.9 606.7h1.0M346.0 609.4h1.0M345.1 602.5h1.0M340.9 607.4h1.0M348.0 606.9h1.0M342.4 605.1h1.0M341.1 606.1h1.0M341.7 604.3h1.0M343.2 604.3h1.0M348.3 604.7h1.0M345.5 608.5h1.0M342.3 608.5h1.0M347.5 606.0h1.0M341.6 603.7h1.0M348.4 606.2h1.0M347.8 607.1h1.0M343.6 603.3h1.0M345.3 603.0h1.0M347.4 607.5h1.0M348.4 605.4h1.0M341.9 608.4h1.0M345.3 609.5h1.0M345.9 603.6h1.0M344.2 608.5h1.0M341.3 606.2h1.0M345.8 604.1h1.0M348.1 608.0h1.0M346.7 603.6h1.0M344.6 603.1h1.0M347.4 608.6h1.0M341.9 604.7h1.0M341.4 606.9h1.0M340.6 608.3h1.0M347.0 607.9h1.0M343.3 608.6h1.0M346.4 603.1h1.0M343.3 609.3h1.0M342.3 609.4h1.0M341.3 606.9h1.0M341.4 608.0h1.0M341.0 607.1h1.0M341.3 607.5h1.0M345.9 603.9h1.0M343.5 604.2h1.0M340.7 605.5h1.0M344.0 602.7h1.0M347.6 605.5h1.0M348.0 606.4h1.0M345.1 602.5h1.0M343.7 610.1h1.0M346.0 608.7h1.0M342.7 604.0h1.0M344.5 603.1h1.0M347.6 607.4h1.0M342.4 604.4h1.0M346.6 603.9h1.0M346.7 604.5h1.0M341.1 607.2h1.0M342.8 610.1h1.0M348.2 604.6h1.0M342.4 607.8h1.0M347.4 604.3h1.0M346.4 603.5h1.0M346.4 603.5h1.0M347.6 604.7h1.0M342.0 609.2h1.0M345.4 610.5h1.0M342.4 608.9h1.0M348.4 605.1h1.0M348.5 605.8h1.0M346.7 609.1h1.0M348.1 605.1h1.0M346.6 608.8h1.0M340.6 606.8h1.0M347.7 605.9h1.0M345.3 609.5h1.0M343.3 604.4h1.0M341.0 604.7h1.0M341.8 609.2h1.0M340.5 605.3h1.0M344.5 609.7h1.0M345.5 609.3h1.0M345.6 603.6h1.0M342.0 605.4h1.0M342.2 608.7h1.0M346.6 603.9h1.0M347.8 606.6h1.0M346.2 603.1h1.0M345.4 610.2h1.0M342.1 603.8h1.0M344.2 610.2h1.0M342.1 605.0h1.0M340.5 606.9h1.0" stroke="rgb(179, 211, 46)" stroke-width="1.0" stroke-opacity="0.9"/>
<path d="M345.8 605.3h1.0M341.7 605.7h1.0M344.6 608.4h1.0M345.8 608.2h1.0M345.2 604.0h1.0M344.9 607.8h1.0M344.2 605.9h1.0M344.7 604.1h1.0M342.9 605.5h1.0M345.7 608.1h1.0M343.6 606.1h1.0M342.8 606.9h1.0M344.3 606.2h1.0M345.8 605.9h1.0M344.0 606.2h1.0M344.1 606.5h1.0M343.3 606.0h1.0M346.8 607.4h1.0M347.3 606.5h1.0M345.8 606.1h1.0M344.2 604.9h1.0M344.1 606.4h1.0M344.6 607.6h1.0M344.0 607.1h1.0M343.3 606.6h1.0M345.7 606.3h1.0M343.7 607.8h1.0M346.4 604.7h1.0M347.1 605.4h1.0M341.7 605.7h1.0M343.7 605.5h1.0M346.7 606.3h1.0M346.2 605.3h1.0M342.7 608.3h1.0M343.9 606.4h1.0M345.2 604.0h1.0M343.5 606.3h1.0M342.5 607.5h1.0M342.6 607.7h1.0M344.2 607.3h1.0M346.2 608.1h1.0M346.2 608.3h1.0M342.5 608.2h1.0M347.5 606.5h1.0M344.8 607.5h1.0M342.0 606.2h1.0M345.6 605.8h1.0M342.5 605.3h1.0M345.8 607.3h1.0M345.4 607.6h1.0M344.8 605.3h1.0M343.0 604.6h1.0M346.8 607.0h1.0M346.1 605.2h1.0M346.2 606.4h1.0M347.4 604.9h1.0M345.6 605.5h1.0M342.7 606.3h1.0M343.5 605.3h1.0M346.4 604.7h1.0M346.3 607.9h1.0M346.7 606.8h1.0M347.5 606.2h1.0M344.9 603.9h1.0M342.1 606.0h1.0M344.5 605.7h1.0M343.5 604.4h1.0M344.1 606.2h1.0M346.5 605.7h1.0M342.2 606.2h1.0M345.9 605.6h1.0M344.4 607.0h1.0M344.3 606.2h1.0M345.4 608.2h1.0M346.8 606.8h1.0M342.5 606.7h1.0M347.1 606.3h1.0M343.8 607.9h1.0M346.8 604.6h1.0M343.0 606.0h1.0M343.8 607.1h1.0M344.5 604.7h1.0M345.1 607.5h1.0M342.2 605.9h1.0M343.4 604.8h1.0M346.3 607.3h1.0M344.9 603.5h1.0M345.4 605.2h1.0M343.5 604.3h1.0M346.4 604.9h1.0M344.2 605.9h1.0M346.6 607.3h1.0M347.0 604.9h1.0M346.7 606.1h1.0M342.8 605.7h1.0M346.1 608.1h1.0M342.6 606.9h1.0M344.4 604.1h1.0M346.6 605.1h1.0M346.0 607.6h1.0M346.4 606.0h1.0M344.1 605.5h1.0M342.7 607.4h1.0M342.8 607.3h1.0M341.8 606.4h1.0M347.0 605.6h1.0M343.2 607.2h1.0M343.9 606.0h1.0M346.7 605.0h1.0M344.0 607.9h1.0M345.5 607.6h1.0M342.9 604.6h1.0M343.3 606.2h1.0M346.6 606.9h1.0M342.1 606.6h1.0M343.9 606.7h1.0M344.1 606.7h1.0M344.0 605.4h1.0M343.1 607.0h1.0M342.4 607.4h1.0M343.8 604.9h1.0M343.2 606.2h1.0M344.7 603.7h1.0M345.8 604.9h1.0M345.0 604.7h1.0M342.5 607.3h1.0M344.3 608.4h1.0M343.9 603.8h1.0M347.0 606.4h1.0M342.9 606.0h1.0M344.5 608.4h1.0M345.1 604.2h1.0M342.3 606.7h1.0M347.2 605.9h1.0M346.6 607.1h1.0M346.6 607.0h1.0M341.5 605.8h1.0M341.5 607.0h1.0M345.6 607.8h1.0M344.3 604.6h1.0M343.5 604.6h1.0M344.9 607.9h1.0M346.3 606.3h1.0M345.5 604.8h1.0M344.2 607.8h1.0M347.5 605.3h1.0M346.6 606.8h1.0M345.9 606.0h1.0M344.4 605.4h1.0M343.3 606.2h1.0M344.3 607.2h1.0M343.9 604.6h1.0M343.4 608.4h1.0M345.6 608.1h1.0M342.8 606.6h1.0M342.3 606.6h1.0M344.8 604.1h1.0M347.3 605.9h1.0M345.2 603.8h1.0M346.5 606.0h1.0M344.8 605.3h1.0M342.6 606.1h1.0M346.4 606.1h1.0M343.8 605.1h1.0M347.1 605.0h1.0M344.2 604.9h1.0M344.0 605.3h1.0M346.7 606.1h1.0M343.1 605.5h1.0M345.5 605.3h1.0M344.7 608.2h1.0M342.7 606.4h1.0M342.1 606.7h1.0M344.9 604.3h1.0M345.7 604.9h1.0M342.4 606.2h1.0M344.4 605.4h1.0M344.8 608.0h1.0M344.8 605.1h1.0M342.3 606.4h1.0M341.6 606.9h1.0M346.8 607.5h1.0M346.9 606.3h1.0M345.9 606.5h1.0M343.3 607.5h1.0M343.6 605.9h1.0M346.9 606.1h1.0M346.2 608.1h1.0M343.1 605.6h1.0M343.3 607.6h1.0M346.8 606.0h1.0M343.7 607.3h1.0M344.0 608.4h1.0M346.4 608.3h1.0M342.5 606.3h1.0M342.8 607.2h1.0M343.4 606.3h1.0M343.6 605.5h1.0M345.1 604.3h1.0M344.3 608.1h1.0M343.7 606.0h1.0M347.2 607.2h1.0M344.3 608.2h1.0M346.5 606.6h1.0M344.3 605.6h1.0M344.0 605.0h1.0M344.6 608.1h1.0M347.1 605.7h1.0M343.7 604.9h1.0M342.7 606.3h1.0M347.4 605.9h1.0M344.4 606.0h1.0M345.4 607.9h1.0M347.4 606.1h1.0M345.7 607.6h1.0M344.6 606.6h1.0M342.3 605.5h1.0M345.8 605.1h1.0M342.5 604.5h1.0M345.3 605.2h1.0M342.6 607.2h1.0M344.0 605.7h1.0M344.9 604.9h1.0M342.8 608.2h1.0M345.6 605.6h1.0M343.1 606.0h1.0M342.9 607.2h1.0M345.7 604.9h1.0M346.8 604.7h1.0M344.1 606.1h1.0M344.3 603.6h1.0M347.4 605.1h1.0M342.8 608.2h1.0M345.2 608.3h1.0M343.9 605.5h1.0M343.7 607.5h1.0M345.8 606.1h1.0M346.0 605.5h1.0M345.6 607.2h1.0M346.4 605.8h1.0M344.3 605.3h1.0M344.4 606.3h1.0M344.4 608.4h1.0M343.3 604.8h1.0M344.7 606.9h1.0M342.6 605.8h1.0M341.9 607.2h1.0M343.9 603.7h1.0M346.3 605.3h1.0M345.9 606.0h1.0M344.7 608.2h1.0M342.4 606.1h1.0M347.0 605.9h1.0M343.7 608.3h1.0M347.4 606.6h1.0M344.4 607.2h1.0M345.8 608.4h1.0M342.2 606.2h1.0M344.6 605.0h1.0M344.8 607.2h1.0M343.1 607.3h1.0M345.4 605.2h1.0M342.5 607.2h1.0M344.6 607.3h1.0M343.1 608.0h1.0M344.0 608.3h1.0M343.2 607.1h1.0M345.9 605.8h1.0M343.8 604.3h1.0M343.1 604.8h1.0M345.5 606.8h1.0M345.8 607.8h1.0M341.9 606.3h1.0M343.1 607.3h1.0M347.3 607.0h1.0M341.8 605.6h1.0M343.6 608.1h1.0M346.3 604.8h1.0M345.5 604.4h1.0M343.3 606.8h1.0M343.3 605.5h1.0M343.8 606.1h1.0M344.9 607.7h1.0M345.0 604.5h1.0M343.7 605.2h1.0M346.5 604.9h1.0M342.6 607.5h1.0M345.2 603.9h1.0M347.2 606.3h1.0M343.0 605.6h1.0M345.3 605.4h1.0M346.9 607.3h1.0M347.4 605.1h1.0M345.9 605.4h1.0M343.6 607.3h1.0M343.9 607.5h1.0M342.0 606.0h1.0M345.5 604.4h1.0M344.7 604.4h1.0M344.4 607.2h1.0M345.7 608.4h1.0M345.0 606.7h1.0M347.2 606.4h1.0M342.1 605.6h1.0M347.2 606.5h1.0M343.6 604.5h1.0M347.3 605.9h1.0M343.2 605.1h1.0M343.5 607.1h1.0M342.8 607.3h1.0M344.8 608.1h1.0M345.2 605.2h1.0M347.3 605.8h1.0M345.6 606.5h1.0M343.1 606.1h1.0M347.0 607.3h1.0M343.4 605.5h1.0M343.3 605.7h1.0M347.1 605.8h1.0" stroke="rgb(232, 196, 36)" stroke-width="1.0" stroke-opacity="0.9"/>
<path d="M344.8 606.4h1.0M345.2 605.9h1.0M345.0 606.4h1.0M345.1 606.2h1.0M344.6 606.5h1.0M344.7 606.4h1.0M344.8 606.0h1.0M345.0 606.1h1.0M344.7 606.1h1.0M344.8 605.9h1.0M344.7 606.4h1.0M344.5 605.8h1.0M344.9 606.0h1.0M345.4 606.2h1.0M345.0 605.8h1.0M345.2 606.5h1.0M344.6 606.0h1.0" stroke="rgb(241, 133, 30)" stroke-width="1.0" stroke-opacity="0.9"/>
<rect x="317.50" y="572.50" width="81.90" height="80.60" fill="none" stroke="#333" stroke-width="1.2"/>
<line x1="315.50" y1="578.95" x2="317.50" y2="578.95" stroke="#555" stroke-width="0.6"/>
<line x1="315.50" y1="585.40" x2="317.50" y2="585.40" stroke="#555" stroke-width="0.6"/>
<line x1="315.50" y1="597.49" x2="317.50" y2="597.49" stroke="#555" stroke-width="0.6"/>
<line x1="315.50" y1="603.93" x2="317.50" y2="603.93" stroke="#555" stroke-width="0.6"/>
<line x1="315.50" y1="616.83" x2="317.50" y2="616.83" stroke="#555" stroke-width="0.6"/>
<line x1="315.50" y1="622.47" x2="317.50" y2="622.47" stroke="#555" stroke-width="0.6"/>
<line x1="315.50" y1="629.73" x2="317.50" y2="629.73" stroke="#555" stroke-width="0.6"/>
<line x1="315.50" y1="636.17" x2="317.50" y2="636.17" stroke="#555" stroke-width="0.6"/>
<line x1="315.50" y1="641.82" x2="317.50" y2="641.82" stroke="#555" stroke-width="0.6"/>
<line x1="315.50" y1="648.26" x2="317.50" y2="648.26" stroke="#555" stroke-width="0.6"/>
<line x1="321.60" y1="653.10" x2="321.60" y2="655.10" stroke="#555" stroke-width="0.6"/>
<line x1="329.78" y1="653.10" x2="329.78" y2="655.10" stroke="#555" stroke-width="0.6"/>
<line x1="335.52" y1="653.10" x2="335.52" y2="655.10" stroke="#555" stroke-width="0.6"/>
<line x1="340.43" y1="653.10" x2="340.43" y2="655.10" stroke="#555" stroke-width="0.6"/>
<line x1="345.35" y1="653.10" x2="345.35" y2="655.10" stroke="#555" stroke-width="0.6"/>
<line x1="350.26" y1="653.10" x2="350.26" y2="655.10" stroke="#555" stroke-width="0.6"/>
<line x1="358.45" y1="653.10" x2="358.45" y2="655.10" stroke="#555" stroke-width="0.6"/>
<line x1="366.64" y1="653.10" x2="366.64" y2="655.10" stroke="#555" stroke-width="0.6"/>
<line x1="374.83" y1="653.10" x2="374.83" y2="655.10" stroke="#555" stroke-width="0.6"/>
<line x1="383.02" y1="653.10" x2="383.02" y2="655.10" stroke="#555" stroke-width="0.6"/>
<line x1="391.21" y1="653.10" x2="391.21" y2="655.10" stroke="#555" stroke-width="0.6"/>
<line x1="396.12" y1="653.10" x2="396.12" y2="655.10" stroke="#555" stroke-width="0.6"/>
<rect x="330.20" y="595.50" width="25.40" height="20.70" fill="none" stroke="#222" stroke-width="1.2"/>
<ellipse cx="316.8" cy="635.2" rx="0.9" ry="1.2" fill="#111"/>
<rect x="358.80" y="596.00" width="24.70" height="21.30" fill="none" stroke="#222" stroke-width="1.2"/>
<text x="342.60" y="593.40" font-size="10.5" text-anchor="middle" fill="#222" stroke="#222" stroke-width="0.1" textLength="20.8" lengthAdjust="spacingAndGlyphs">63%</text>
<text x="370.70" y="593.40" font-size="10.5" text-anchor="middle" fill="#222" stroke="#222" stroke-width="0.1" textLength="14.4" lengthAdjust="spacingAndGlyphs">1%</text>
<text x="312.70" y="667.30" font-size="10" text-anchor="middle" fill="#222" stroke="#222" stroke-width="0.1" textLength="22.2" lengthAdjust="spacingAndGlyphs">Sca-1</text>
<line x1="434.70" y1="565.50" x2="434.70" y2="657.00" stroke="#151515" stroke-width="1.45"/>
<line x1="434.10" y1="656.40" x2="512.00" y2="656.40" stroke="#151515" stroke-width="1.45"/>
<line x1="431.70" y1="656.40" x2="434.70" y2="656.40" stroke="#151515" stroke-width="1"/>
<text x="428.50" y="659.40" font-size="8.5" text-anchor="end" fill="#222" stroke="#222" stroke-width="0.1">0</text>
<line x1="431.70" y1="626.50" x2="434.70" y2="626.50" stroke="#151515" stroke-width="1"/>
<text x="428.50" y="629.50" font-size="8.5" text-anchor="end" fill="#222" stroke="#222" stroke-width="0.1">10</text>
<line x1="431.70" y1="596.60" x2="434.70" y2="596.60" stroke="#151515" stroke-width="1"/>
<text x="428.50" y="599.60" font-size="8.5" text-anchor="end" fill="#222" stroke="#222" stroke-width="0.1">20</text>
<line x1="431.70" y1="566.70" x2="434.70" y2="566.70" stroke="#151515" stroke-width="1"/>
<text x="428.50" y="569.70" font-size="8.5" text-anchor="end" fill="#222" stroke="#222" stroke-width="0.1">30</text>
<text x="413.20" y="610.50" font-size="10" text-anchor="middle" fill="#222" stroke="#222" stroke-width="0.1" textLength="35" lengthAdjust="spacingAndGlyphs" transform="rotate(-90 413.20 610.50)">% in BM</text>
<rect x="441.90" y="646.53" width="9.80" height="9.87" fill="#6ea65a"/>
<line x1="446.80" y1="646.53" x2="446.80" y2="644.74" stroke="#222" stroke-width="1"/>
<line x1="444.30" y1="644.74" x2="449.30" y2="644.74" stroke="#222" stroke-width="1"/>
<rect x="456.20" y="597.50" width="9.80" height="58.90" fill="#a03442"/>
<line x1="461.10" y1="597.50" x2="461.10" y2="583.74" stroke="#222" stroke-width="1"/>
<line x1="458.60" y1="583.74" x2="463.60" y2="583.74" stroke="#222" stroke-width="1"/>
<rect x="480.40" y="653.71" width="9.80" height="2.69" fill="#6ea65a"/>
<line x1="485.30" y1="653.71" x2="485.30" y2="653.41" stroke="#222" stroke-width="1"/>
<line x1="482.80" y1="653.41" x2="487.80" y2="653.41" stroke="#222" stroke-width="1"/>
<rect x="495.20" y="620.82" width="9.80" height="35.58" fill="#a03442"/>
<line x1="500.10" y1="620.82" x2="500.10" y2="614.24" stroke="#222" stroke-width="1"/>
<line x1="497.60" y1="614.24" x2="502.60" y2="614.24" stroke="#222" stroke-width="1"/>
<path d="M459.75 578.05L459.75 580.75M458.58 578.73L460.92 580.07M460.92 578.73L458.58 580.07M462.85 578.05L462.85 580.75M461.68 578.73L464.02 580.07M464.02 578.73L461.68 580.07" stroke="#222" stroke-width="0.95"/>
<path d="M498.55 609.05L498.55 611.75M497.38 609.73L499.72 611.07M499.72 609.73L497.38 611.07M501.65 609.05L501.65 611.75M500.48 609.73L502.82 611.07M502.82 609.73L500.48 611.07" stroke="#222" stroke-width="0.95"/>
<rect x="467.50" y="566.20" width="9.50" height="5.20" fill="#6ea65a"/>
<text x="480.20" y="571.60" font-size="9" text-anchor="start" fill="#6aa84f" stroke="#6aa84f" stroke-width="0.1" textLength="11.5" lengthAdjust="spacingAndGlyphs">Vec</text>
<rect x="467.50" y="578.40" width="9.50" height="5.20" fill="#a03442"/>
<text x="480.20" y="583.80" font-size="9" text-anchor="start" fill="#a8343f" stroke="#a8343f" stroke-width="0.1" textLength="29.8" lengthAdjust="spacingAndGlyphs">Prdm16s</text>
<text x="454.00" y="667.20" font-size="9.2" text-anchor="middle" fill="#222" stroke="#222" stroke-width="0.1" textLength="13.5" lengthAdjust="spacingAndGlyphs">Lin-</text>
<text x="493.00" y="667.20" font-size="9.2" text-anchor="middle" fill="#222" stroke="#222" stroke-width="0.1" textLength="8.2" lengthAdjust="spacingAndGlyphs">LK</text>
<rect x="0" y="0" width="520" height="1" fill="#000"/>
<rect x="0" y="0" width="1" height="695" fill="#000"/>
<rect x="0" y="694" width="520" height="1" fill="#000"/>
<rect x="518" y="0" width="1" height="695" fill="#777"/>
<rect x="519" y="0" width="1" height="695" fill="#555"/>
</svg></body></html>
